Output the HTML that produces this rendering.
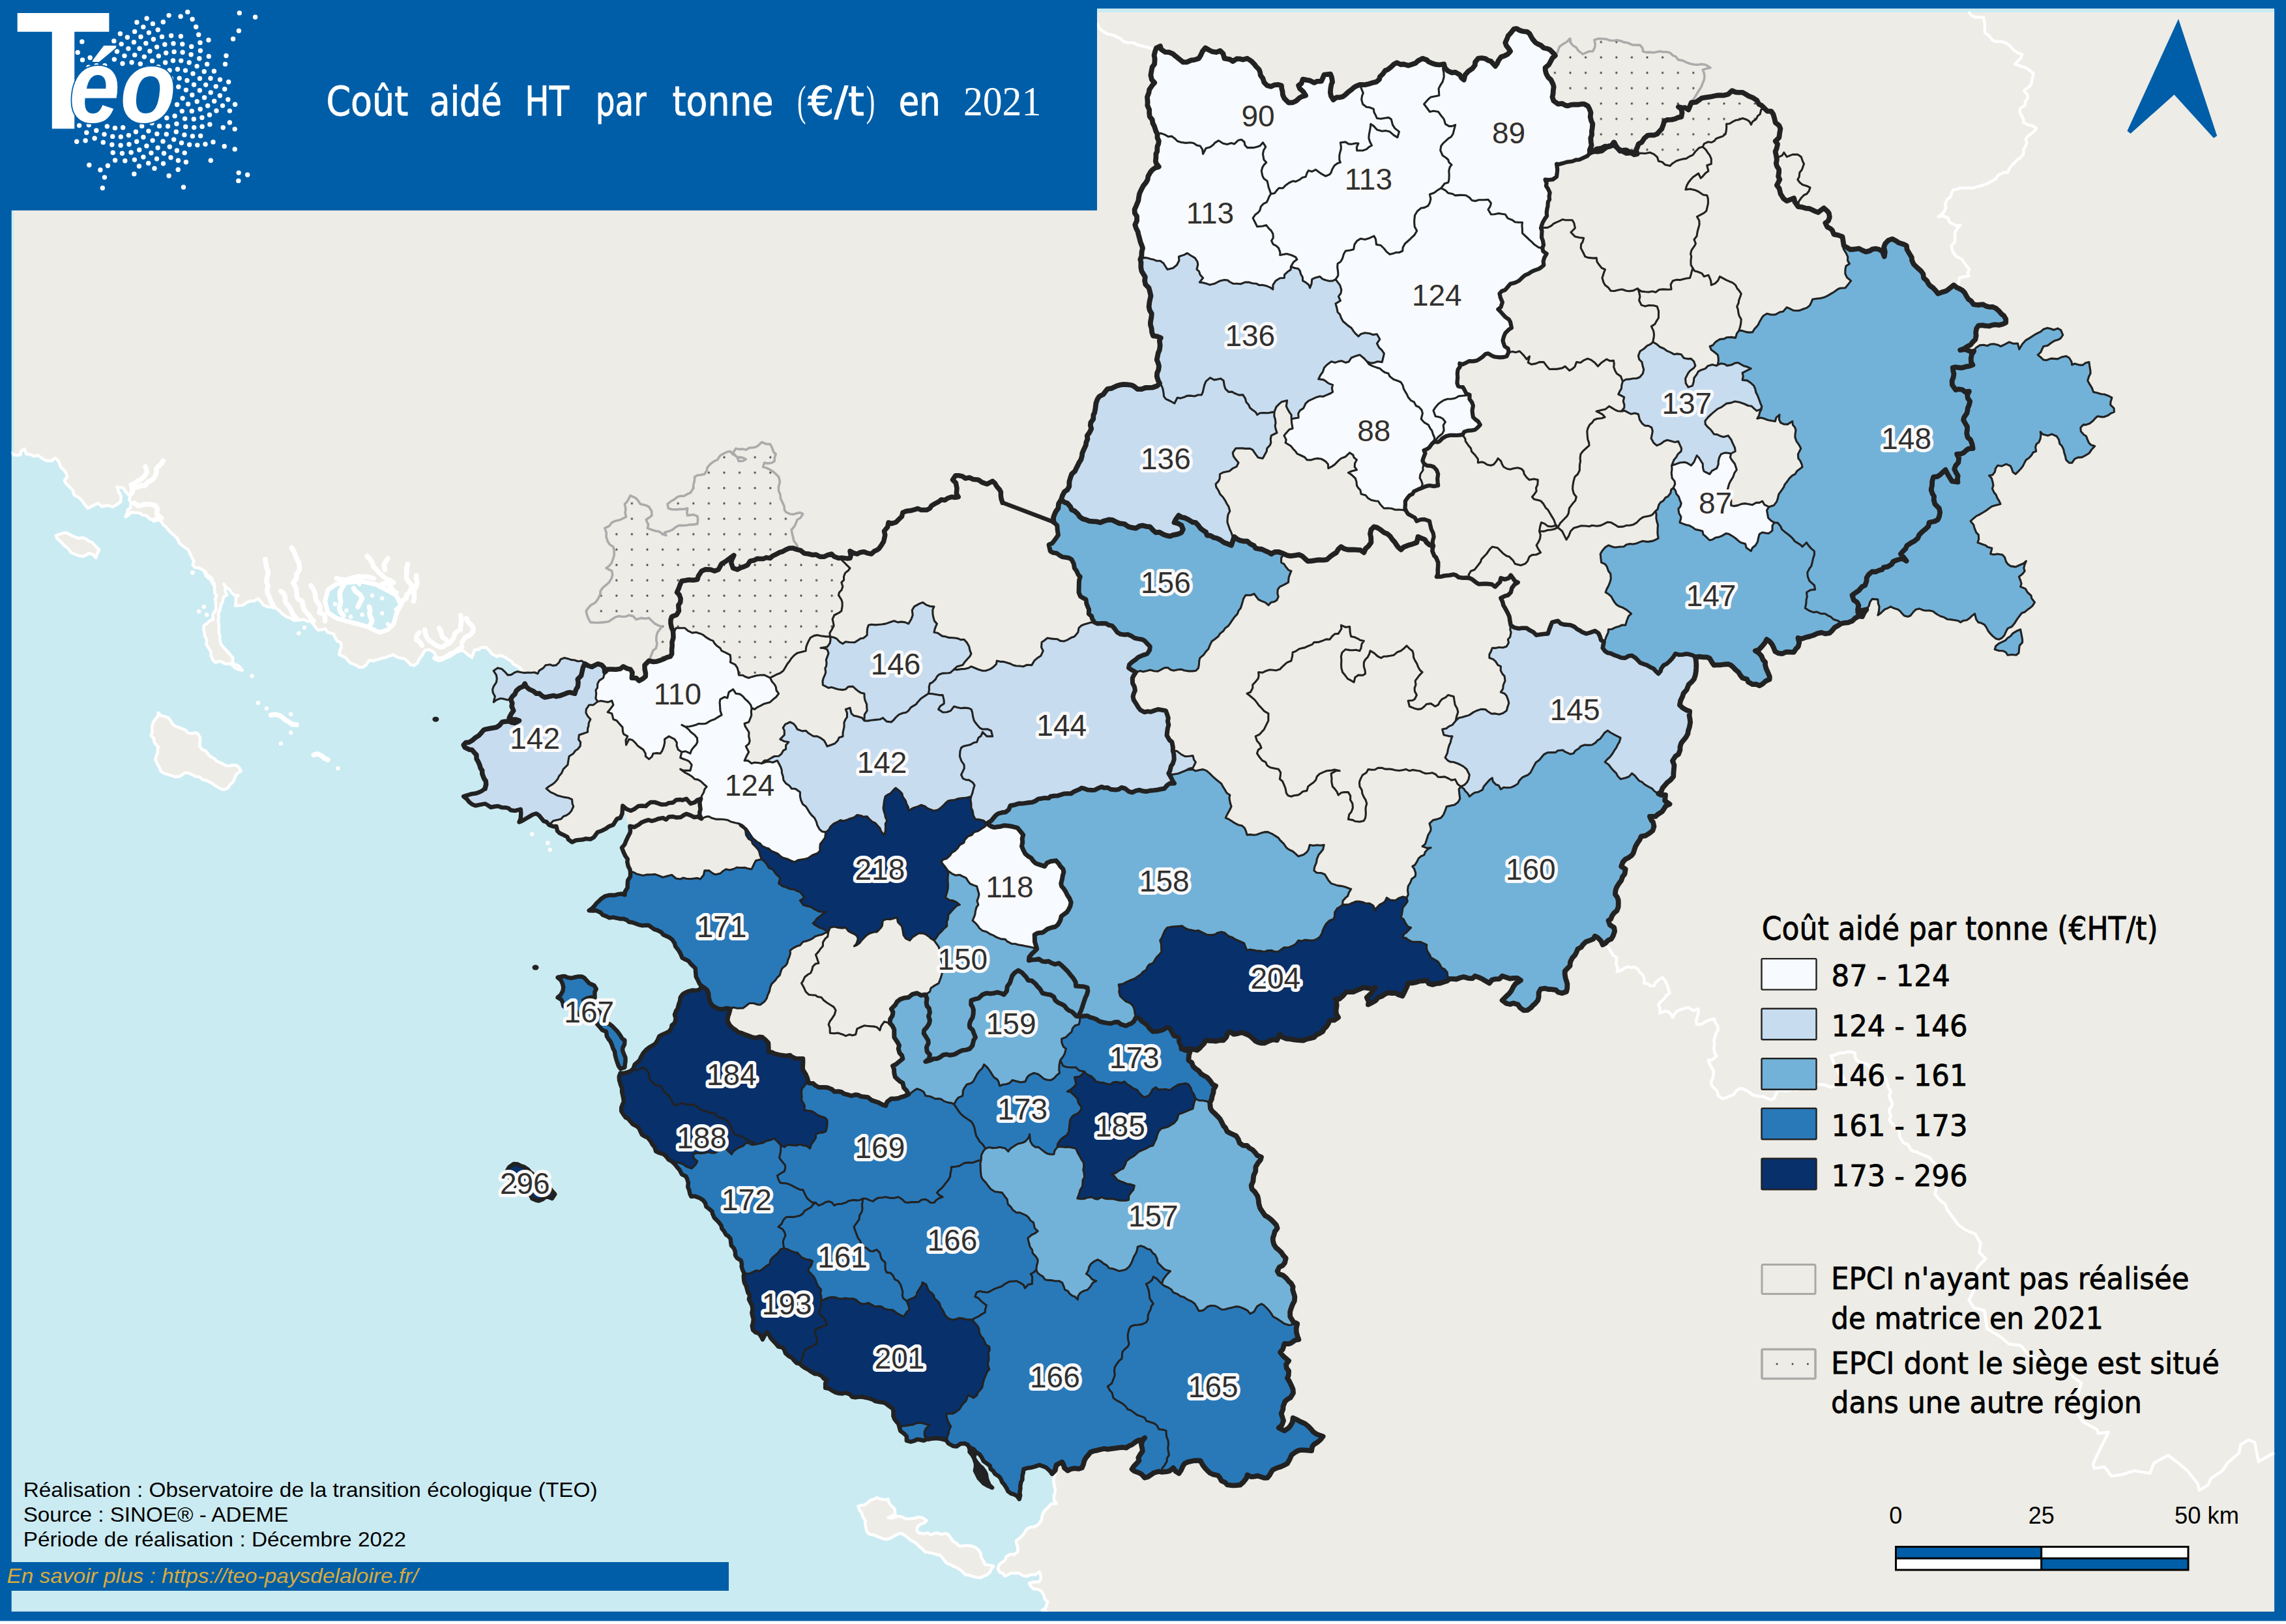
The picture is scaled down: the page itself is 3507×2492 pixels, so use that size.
<!DOCTYPE html>
<html lang="fr"><head><meta charset="utf-8"><title>Coût aidé HT par tonne (€/t) en 2021</title>
<style>html,body{margin:0;padding:0;background:#fff}body{width:3507px;height:2492px;overflow:hidden}</style></head>
<body>
<svg width="3507" height="2492" viewBox="0 0 3507 2492" style="display:block">
<defs><pattern id="dots" x="1.8" y="17.3" width="23.6" height="23.6" patternUnits="userSpaceOnUse"><circle cx="0" cy="0" r="1.6" fill="#444"/><circle cx="23.6" cy="0" r="1.6" fill="#444"/><circle cx="0" cy="23.6" r="1.6" fill="#444"/><circle cx="23.6" cy="23.6" r="1.6" fill="#444"/></pattern></defs>
<rect width="3507" height="2492" fill="#005ea8"/>
<rect x="0" y="2487.4" width="3507" height="5" fill="#ffffff"/>
<clipPath id="mapclip"><rect x="17.7" y="13.1" width="3471.4" height="2459.8"/></clipPath>
<rect x="17.7" y="13.1" width="3471.4" height="2459.8" fill="#cbebf2"/>
<g clip-path="url(#mapclip)">
<path d="M793.9 1029.9 L793.8 1029.9 L793.8 1029.9 L793.7 1029.9 L793.7 1029.9 L793.6 1029.9 L789.3 1031.5 L789.3 1031.6 L789.2 1031.6 L784.1 1034.9 L779.2 1035.4 L774.9 1030.5 L774.8 1030.4 L770.0 1026.0 L770.0 1026.0 L770.0 1026.0 L769.9 1025.9 L769.9 1025.9 L769.8 1025.9 L763.8 1024.4 L763.8 1024.4 L763.7 1024.4 L763.7 1024.4 L763.6 1024.4 L763.6 1024.4 L763.5 1024.4 L763.5 1024.4 L763.5 1024.5 L763.4 1024.5 L756.9 1028.9 L756.9 1028.9 L756.8 1028.9 L756.8 1029.0 L756.8 1029.0 L756.8 1029.1 L756.7 1029.1 L756.7 1029.2 L756.7 1029.2 L756.7 1029.2 L756.7 1029.3 L756.7 1029.3 L756.7 1029.4 L756.7 1029.4 L756.7 1029.5 L756.8 1029.5 L756.8 1029.6 L760.9 1036.0 L761.8 1041.3 L761.0 1046.6 L756.8 1053.1 L756.8 1053.2 L756.7 1053.2 L755.1 1057.7 L755.1 1057.8 L755.1 1057.8 L755.1 1057.9 L755.1 1057.9 L755.1 1058.0 L755.7 1062.8 L755.7 1062.8 L755.7 1062.9 L755.7 1062.9 L755.8 1062.9 L758.9 1068.8 L756.7 1077.3 L756.7 1077.3 L756.7 1077.4 L756.7 1077.4 L756.7 1077.5 L756.7 1077.5 L756.7 1077.6 L756.7 1077.6 L756.8 1077.7 L756.8 1077.7 L756.8 1077.7 L756.9 1077.8 L756.9 1077.8 L756.9 1077.8 L757.0 1077.9 L757.0 1077.9 L757.1 1077.9 L757.1 1077.9 L757.2 1077.9 L757.2 1077.9 L757.3 1077.9 L757.3 1077.9 L757.4 1077.9 L757.4 1077.8 L757.5 1077.8 L757.5 1077.8 L761.8 1074.4 L767.8 1072.2 L772.7 1072.9 L778.4 1074.5 L778.4 1074.5 L778.5 1074.5 L778.5 1074.5 L778.5 1074.5 L778.6 1074.5 L783.1 1073.7 L785.4 1079.2 L784.5 1083.7 L784.5 1083.8 L784.5 1083.8 L784.5 1083.9 L784.5 1083.9 L784.5 1083.9 L784.5 1084.0 L787.2 1090.5 L784.0 1095.0 L784.0 1095.0 L784.0 1095.1 L780.8 1101.3 L780.7 1101.3 L780.7 1101.4 L780.7 1101.4 L780.7 1101.5 L780.7 1101.5 L780.7 1101.6 L780.7 1101.6 L780.7 1101.7 L780.7 1101.7 L780.8 1101.7 L780.8 1101.8 L780.8 1101.8 L780.9 1101.9 L780.9 1101.9 L780.9 1101.9 L781.0 1101.9 L786.4 1104.6 L786.4 1104.7 L786.5 1104.7 L786.5 1104.7 L786.6 1104.7 L786.6 1104.7 L791.1 1104.5 L795.3 1106.0 L790.2 1109.1 L785.6 1108.4 L780.8 1106.2 L780.8 1106.2 L780.7 1106.2 L780.7 1106.2 L780.6 1106.2 L780.6 1106.2 L774.4 1106.8 L774.3 1106.8 L770.2 1107.5 L770.2 1107.5 L770.1 1107.5 L770.1 1107.6 L770.0 1107.6 L770.0 1107.6 L769.9 1107.6 L769.9 1107.7 L766.1 1112.5 L761.5 1115.5 L757.6 1116.2 L757.6 1116.2 L751.6 1117.3 L751.6 1117.3 L744.7 1118.6 L744.7 1118.6 L744.6 1118.6 L741.6 1119.8 L741.6 1119.9 L741.5 1119.9 L741.5 1119.9 L741.4 1119.9 L741.4 1120.0 L737.1 1125.2 L734.3 1128.2 L728.5 1131.8 L728.5 1131.8 L728.5 1131.8 L724.7 1135.4 L719.7 1138.4 L714.7 1138.9 L714.6 1138.9 L714.6 1138.9 L714.5 1138.9 L714.5 1139.0 L714.4 1139.0 L714.4 1139.0 L714.3 1139.1 L710.8 1142.7 L710.8 1142.7 L710.8 1142.7 L710.8 1142.8 L710.7 1142.8 L710.7 1142.9 L710.7 1142.9 L710.7 1143.0 L710.7 1143.0 L710.7 1143.1 L710.7 1143.1 L710.7 1143.2 L710.8 1143.2 L712.7 1147.1 L712.7 1147.2 L712.7 1147.2 L712.7 1147.2 L712.8 1147.3 L712.8 1147.3 L712.8 1147.3 L712.9 1147.3 L719.7 1150.6 L719.7 1150.7 L719.8 1150.7 L719.8 1150.7 L724.0 1151.3 L727.1 1155.0 L727.1 1155.0 L730.4 1158.6 L730.6 1164.3 L730.6 1164.4 L730.6 1164.4 L730.6 1164.5 L730.6 1164.5 L730.7 1164.5 L733.1 1168.8 L735.2 1173.7 L736.6 1178.7 L736.6 1178.8 L736.7 1178.8 L736.7 1178.9 L739.2 1182.6 L739.3 1187.4 L739.3 1187.5 L739.3 1187.5 L739.3 1187.6 L741.9 1194.5 L742.0 1194.5 L742.0 1194.6 L744.7 1198.6 L745.2 1203.5 L743.7 1209.7 L739.0 1213.2 L735.1 1215.1 L729.3 1217.1 L723.9 1217.7 L723.9 1217.7 L723.9 1217.7 L717.5 1219.6 L717.4 1219.6 L711.0 1221.7 L711.0 1221.7 L711.0 1221.8 L710.9 1221.8 L710.9 1221.8 L710.8 1221.9 L710.8 1221.9 L710.8 1221.9 L710.8 1222.0 L710.7 1222.0 L710.7 1222.1 L710.7 1222.1 L710.7 1222.2 L710.7 1222.2 L710.7 1222.3 L710.7 1222.3 L710.7 1222.4 L710.7 1222.4 L710.8 1222.4 L710.8 1222.5 L710.8 1222.5 L710.9 1222.6 L710.9 1222.6 L715.5 1226.2 L719.6 1231.2 L719.6 1231.2 L719.7 1231.3 L719.7 1231.3 L724.5 1234.9 L724.5 1234.9 L724.6 1235.0 L724.6 1235.0 L729.2 1236.7 L729.3 1236.7 L729.3 1236.7 L729.4 1236.7 L729.4 1236.7 L729.5 1236.7 L729.5 1236.7 L736.2 1235.4 L744.0 1233.9 L748.6 1236.4 L752.7 1239.2 L752.8 1239.2 L752.8 1239.3 L752.9 1239.3 L752.9 1239.3 L753.0 1239.3 L753.0 1239.3 L753.1 1239.3 L753.1 1239.3 L759.5 1238.0 L763.9 1237.4 L769.4 1239.6 L769.5 1239.6 L769.5 1239.6 L769.5 1239.6 L769.6 1239.6 L776.1 1239.8 L779.6 1240.6 L783.3 1243.6 L783.3 1243.6 L783.4 1243.6 L783.4 1243.7 L783.4 1243.7 L783.5 1243.7 L783.5 1243.7 L789.9 1244.6 L790.0 1244.6 L790.0 1244.6 L790.1 1244.6 L790.1 1244.6 L798.3 1242.5 L798.8 1247.8 L798.1 1256.3 L796.0 1261.3 L796.0 1261.4 L796.0 1261.4 L796.0 1261.5 L796.0 1261.5 L796.0 1261.5 L796.0 1261.6 L796.0 1261.6 L796.0 1261.7 L796.1 1261.7 L796.1 1261.8 L796.1 1261.8 L796.1 1261.9 L796.2 1261.9 L796.2 1261.9 L796.3 1261.9 L796.3 1262.0 L796.4 1262.0 L796.4 1262.0 L796.4 1262.0 L796.5 1262.0 L796.5 1262.0 L796.6 1262.0 L796.6 1262.0 L796.7 1262.0 L801.4 1260.1 L801.4 1260.0 L801.5 1260.0 L806.1 1257.1 L813.2 1253.0 L813.2 1253.0 L817.5 1250.5 L822.7 1248.9 L826.8 1251.8 L830.5 1256.3 L833.5 1260.1 L833.5 1260.1 L833.6 1260.2 L833.6 1260.2 L833.7 1260.2 L833.7 1260.3 L833.7 1260.3 L838.0 1261.6 L842.1 1266.2 L842.1 1266.3 L842.2 1266.3 L842.2 1266.3 L842.2 1266.3 L842.2 1266.3 L842.2 1266.3 L842.2 1266.3 L842.2 1266.3 L842.2 1266.3 L842.2 1266.3 L842.2 1266.3 L842.2 1266.3 L842.3 1266.3 L842.3 1266.3 L842.3 1266.3 L842.3 1266.4 L842.3 1266.4 L842.3 1266.4 L842.3 1266.4 L848.8 1268.8 L848.9 1268.8 L848.9 1268.8 L849.0 1268.8 L849.0 1268.8 L853.0 1268.6 L854.6 1275.1 L854.6 1275.2 L854.6 1275.2 L854.7 1275.2 L854.7 1275.3 L854.7 1275.3 L854.7 1275.4 L858.0 1278.7 L858.1 1278.7 L858.1 1278.7 L858.2 1278.7 L864.1 1281.6 L870.1 1284.8 L871.5 1288.4 L871.6 1288.4 L871.6 1288.5 L871.6 1288.5 L871.6 1288.5 L871.7 1288.6 L871.7 1288.6 L877.2 1292.6 L877.2 1292.6 L877.3 1292.7 L877.3 1292.7 L877.4 1292.7 L877.4 1292.7 L877.5 1292.7 L877.5 1292.7 L877.6 1292.7 L877.6 1292.7 L877.7 1292.7 L877.7 1292.7 L883.4 1290.0 L889.4 1289.3 L893.0 1289.1 L893.1 1289.1 L893.1 1289.1 L898.8 1287.5 L905.8 1288.3 L905.9 1288.3 L905.9 1288.3 L906.0 1288.3 L906.0 1288.3 L906.1 1288.3 L906.1 1288.3 L906.2 1288.2 L911.4 1285.1 L911.4 1285.1 L911.4 1285.1 L911.5 1285.0 L911.5 1285.0 L914.3 1281.1 L917.0 1277.4 L923.6 1275.2 L923.6 1275.1 L929.6 1272.1 L929.7 1272.1 L929.7 1272.1 L934.5 1268.5 L940.9 1266.2 L940.9 1266.1 L941.0 1266.1 L941.0 1266.1 L941.0 1266.1 L941.1 1266.0 L941.1 1266.0 L941.1 1266.0 L944.3 1260.9 L947.0 1256.8 L951.9 1255.5 L952.0 1255.5 L952.0 1255.4 L952.1 1255.4 L952.1 1255.4 L952.1 1255.4 L952.2 1255.3 L952.2 1255.3 L952.2 1255.2 L952.3 1255.2 L955.0 1248.8 L955.0 1248.7 L955.0 1248.7 L955.0 1248.6 L955.3 1244.1 L955.7 1237.6 L957.6 1239.1 L957.6 1239.2 L957.5 1239.2 L957.5 1239.3 L957.4 1239.4 L957.4 1239.5 L957.4 1239.6 L957.4 1239.7 L957.4 1239.8 L957.4 1239.9 L960.5 1255.2 L960.5 1255.3 L960.6 1255.4 L965.4 1268.1 L965.4 1268.1 L965.5 1268.2 L965.5 1268.3 L965.6 1268.4 L965.6 1268.5 L965.7 1268.5 L965.8 1268.6 L965.9 1268.6 L965.9 1268.6 L966.6 1274.6 L966.1 1277.6 L962.8 1284.1 L962.7 1284.1 L959.8 1290.4 L959.8 1290.4 L957.9 1295.4 L953.6 1300.6 L953.6 1300.6 L953.6 1300.7 L953.5 1300.7 L953.5 1300.7 L953.5 1300.8 L953.5 1300.8 L953.5 1300.9 L953.5 1300.9 L953.5 1301.0 L953.5 1301.0 L953.5 1301.1 L956.4 1308.6 L956.5 1308.6 L959.0 1313.7 L959.0 1313.8 L959.0 1313.8 L962.3 1318.5 L961.8 1322.5 L961.8 1322.6 L961.8 1322.7 L961.8 1322.7 L963.3 1329.4 L963.3 1329.5 L963.3 1329.5 L963.4 1329.5 L965.9 1334.4 L966.6 1338.1 L966.5 1344.9 L962.8 1350.7 L962.8 1350.8 L962.7 1350.8 L962.7 1350.9 L962.7 1350.9 L962.7 1351.0 L962.3 1355.6 L962.3 1355.6 L962.1 1362.2 L958.4 1368.2 L958.4 1368.3 L958.3 1368.3 L958.3 1368.4 L958.3 1368.4 L958.3 1368.5 L958.0 1372.4 L954.4 1371.1 L954.3 1371.1 L954.3 1371.1 L954.2 1371.1 L954.2 1371.1 L954.1 1371.1 L947.4 1371.8 L947.4 1371.8 L947.4 1371.8 L942.0 1373.3 L938.1 1373.1 L938.1 1373.1 L933.5 1373.3 L933.4 1373.3 L933.4 1373.3 L927.7 1374.8 L927.6 1374.8 L927.6 1374.8 L927.5 1374.9 L927.5 1374.9 L922.1 1378.7 L922.1 1378.7 L922.0 1378.7 L918.5 1382.3 L914.5 1385.9 L914.4 1386.0 L914.4 1386.0 L912.3 1388.9 L907.7 1393.8 L903.4 1396.8 L903.4 1396.8 L903.3 1396.9 L903.3 1396.9 L903.3 1396.9 L903.3 1397.0 L903.2 1397.0 L903.2 1397.1 L903.2 1397.1 L903.2 1397.2 L903.2 1397.2 L903.2 1397.3 L903.2 1397.3 L903.2 1397.4 L903.2 1397.4 L903.3 1397.4 L903.3 1397.5 L903.3 1397.5 L903.4 1397.6 L903.4 1397.6 L903.4 1397.6 L903.5 1397.6 L903.5 1397.7 L903.6 1397.7 L903.6 1397.7 L903.7 1397.7 L910.3 1398.1 L910.3 1398.1 L910.4 1398.1 L914.3 1397.6 L921.0 1400.7 L924.4 1404.3 L924.5 1404.4 L924.5 1404.4 L924.5 1404.4 L924.6 1404.5 L924.6 1404.5 L929.8 1406.4 L934.7 1408.8 L934.7 1408.9 L934.8 1408.9 L934.8 1408.9 L934.9 1408.9 L934.9 1408.9 L935.0 1408.9 L940.9 1408.1 L945.4 1409.1 L951.2 1410.4 L951.2 1410.4 L951.3 1410.4 L956.4 1410.4 L960.9 1412.0 L964.7 1415.1 L964.7 1415.1 L964.8 1415.1 L964.8 1415.2 L964.9 1415.2 L964.9 1415.2 L970.3 1416.0 L975.6 1418.0 L979.0 1419.3 L979.1 1419.3 L985.6 1420.8 L985.6 1420.8 L985.7 1420.8 L985.7 1420.8 L991.2 1420.3 L995.3 1420.6 L999.7 1423.8 L999.7 1423.8 L1003.9 1426.6 L1004.0 1426.6 L1004.0 1426.7 L1004.1 1426.7 L1008.7 1428.1 L1014.4 1431.1 L1017.1 1434.6 L1017.1 1434.6 L1017.2 1434.7 L1017.2 1434.7 L1017.3 1434.7 L1017.3 1434.8 L1023.4 1437.4 L1027.6 1439.6 L1031.0 1442.3 L1034.5 1447.7 L1035.6 1452.1 L1035.6 1452.2 L1035.7 1452.2 L1035.7 1452.3 L1035.7 1452.3 L1040.0 1457.7 L1043.3 1463.0 L1046.1 1470.0 L1046.2 1470.0 L1046.2 1470.1 L1046.2 1470.1 L1046.2 1470.2 L1046.3 1470.2 L1046.3 1470.2 L1046.4 1470.2 L1049.6 1471.9 L1049.6 1471.9 L1056.1 1475.1 L1059.7 1479.8 L1059.7 1479.8 L1059.8 1479.9 L1063.0 1482.9 L1066.3 1486.3 L1066.7 1492.1 L1066.7 1492.1 L1067.3 1498.7 L1067.3 1498.8 L1067.3 1498.8 L1067.3 1498.9 L1067.4 1498.9 L1069.5 1502.9 L1072.8 1510.0 L1072.9 1510.1 L1072.9 1510.1 L1072.9 1510.1 L1075.9 1513.2 L1073.0 1517.9 L1068.2 1519.6 L1062.7 1518.9 L1062.6 1518.9 L1062.6 1518.9 L1062.5 1518.9 L1062.5 1518.9 L1056.9 1520.3 L1056.8 1520.3 L1056.8 1520.3 L1050.4 1523.1 L1050.4 1523.2 L1050.3 1523.2 L1046.6 1525.6 L1046.6 1525.6 L1046.6 1525.6 L1046.5 1525.7 L1046.5 1525.7 L1043.3 1530.3 L1043.3 1530.4 L1043.2 1530.4 L1043.2 1530.4 L1043.2 1530.5 L1043.2 1530.5 L1042.7 1535.3 L1040.7 1540.9 L1040.7 1541.0 L1038.9 1547.9 L1036.9 1550.4 L1036.9 1550.4 L1036.9 1550.5 L1036.8 1550.5 L1034.5 1556.6 L1034.5 1556.7 L1034.5 1556.7 L1034.5 1556.8 L1034.5 1556.8 L1034.5 1556.9 L1034.5 1556.9 L1036.2 1563.1 L1034.6 1569.6 L1030.3 1573.0 L1030.2 1573.0 L1030.2 1573.1 L1030.2 1573.1 L1030.2 1573.2 L1030.1 1573.2 L1030.1 1573.3 L1030.1 1573.3 L1029.3 1577.8 L1026.3 1582.3 L1021.3 1584.7 L1013.9 1587.9 L1013.9 1588.0 L1013.8 1588.0 L1010.9 1589.8 L1010.9 1589.8 L1010.9 1589.8 L1010.8 1589.9 L1010.8 1589.9 L1010.8 1590.0 L1010.7 1590.0 L1008.3 1596.0 L1004.7 1601.3 L1000.3 1604.1 L995.8 1606.7 L995.8 1606.7 L990.7 1610.7 L990.7 1610.7 L990.6 1610.8 L986.4 1615.6 L986.4 1615.6 L986.4 1615.7 L982.9 1621.8 L982.8 1621.8 L981.0 1626.2 L977.3 1629.9 L973.4 1633.2 L973.3 1633.3 L973.3 1633.3 L973.3 1633.3 L973.2 1633.4 L973.2 1633.4 L971.1 1639.6 L966.6 1643.5 L962.4 1644.8 L957.4 1646.4 L951.8 1646.0 L951.8 1646.0 L951.7 1646.0 L951.7 1646.0 L951.6 1646.0 L951.6 1646.0 L951.6 1646.1 L951.5 1646.1 L951.5 1646.1 L951.4 1646.2 L951.4 1646.2 L951.4 1646.2 L951.4 1646.3 L951.3 1646.3 L949.2 1651.7 L949.2 1651.8 L949.2 1651.8 L949.2 1651.9 L949.2 1651.9 L949.5 1657.4 L949.5 1657.5 L949.5 1657.5 L951.7 1665.0 L951.7 1665.1 L953.8 1670.3 L953.5 1674.9 L953.5 1674.9 L953.5 1675.0 L953.5 1675.0 L954.7 1680.5 L955.9 1686.1 L956.4 1690.7 L954.9 1693.8 L954.9 1693.8 L952.7 1699.5 L952.7 1699.6 L952.7 1699.6 L952.7 1699.7 L952.7 1699.7 L952.7 1705.1 L952.7 1705.1 L952.7 1705.2 L952.7 1705.2 L952.7 1705.3 L952.8 1705.3 L952.8 1705.4 L955.8 1710.2 L955.8 1710.2 L959.4 1715.1 L959.4 1715.1 L959.5 1715.2 L959.5 1715.2 L959.5 1715.2 L959.6 1715.2 L963.3 1717.1 L967.5 1722.0 L967.5 1722.0 L970.4 1725.3 L970.5 1725.4 L970.5 1725.4 L970.5 1725.4 L970.6 1725.4 L976.3 1728.4 L979.7 1731.2 L982.0 1736.4 L982.0 1736.4 L984.2 1741.1 L984.3 1741.2 L984.3 1741.2 L984.3 1741.2 L984.4 1741.3 L984.4 1741.3 L984.4 1741.3 L988.4 1743.9 L988.5 1744.0 L993.6 1746.3 L998.0 1751.9 L1000.7 1756.7 L1000.7 1756.8 L1000.7 1756.8 L1003.9 1760.4 L1005.7 1766.7 L1005.7 1766.8 L1005.8 1766.8 L1005.8 1766.9 L1005.8 1766.9 L1005.9 1767.0 L1005.9 1767.0 L1005.9 1767.0 L1006.0 1767.0 L1010.1 1769.0 L1010.1 1769.1 L1010.2 1769.1 L1018.0 1771.5 L1022.6 1775.9 L1025.0 1779.5 L1025.0 1779.5 L1025.0 1779.6 L1025.1 1779.6 L1025.1 1779.6 L1025.2 1779.6 L1030.3 1782.5 L1035.4 1787.3 L1037.9 1790.7 L1037.9 1790.7 L1042.5 1796.0 L1045.5 1802.0 L1045.5 1802.1 L1045.5 1802.1 L1045.5 1802.1 L1045.6 1802.2 L1045.6 1802.2 L1045.7 1802.2 L1051.8 1805.5 L1053.4 1808.6 L1055.4 1815.0 L1054.8 1821.2 L1054.8 1821.2 L1054.8 1821.2 L1054.8 1821.3 L1054.8 1821.3 L1054.8 1821.4 L1056.7 1826.1 L1058.0 1832.2 L1058.0 1832.3 L1058.0 1832.3 L1059.8 1836.1 L1059.9 1836.2 L1059.9 1836.2 L1059.9 1836.2 L1060.0 1836.3 L1060.0 1836.3 L1060.0 1836.3 L1060.1 1836.4 L1060.1 1836.4 L1060.2 1836.4 L1060.2 1836.4 L1060.3 1836.4 L1060.3 1836.4 L1065.9 1836.1 L1072.9 1838.6 L1078.4 1842.2 L1081.4 1846.1 L1083.0 1851.8 L1083.0 1851.9 L1083.1 1851.9 L1083.1 1852.0 L1083.1 1852.0 L1083.1 1852.0 L1083.2 1852.1 L1083.2 1852.1 L1087.0 1854.9 L1092.1 1859.3 L1092.6 1862.5 L1092.6 1862.5 L1092.6 1862.6 L1092.6 1862.6 L1095.4 1868.9 L1095.5 1868.9 L1095.5 1869.0 L1095.5 1869.0 L1095.6 1869.1 L1099.5 1872.9 L1102.9 1876.6 L1106.0 1880.8 L1106.9 1885.3 L1106.9 1885.3 L1106.9 1885.4 L1107.0 1885.4 L1107.0 1885.5 L1107.0 1885.5 L1110.6 1889.8 L1113.5 1895.0 L1113.5 1895.1 L1113.5 1895.1 L1113.6 1895.2 L1113.6 1895.2 L1113.6 1895.2 L1113.7 1895.2 L1116.6 1896.7 L1120.2 1901.2 L1120.8 1906.9 L1120.8 1906.9 L1121.4 1911.4 L1121.4 1911.4 L1121.4 1911.5 L1121.4 1911.5 L1121.5 1911.5 L1121.5 1911.6 L1121.5 1911.6 L1121.5 1911.6 L1125.4 1915.6 L1127.4 1920.7 L1127.6 1926.3 L1127.6 1926.4 L1127.6 1926.4 L1127.6 1926.5 L1127.7 1926.5 L1127.7 1926.6 L1130.4 1930.9 L1130.4 1930.9 L1130.4 1930.9 L1130.5 1931.0 L1130.5 1931.0 L1130.5 1931.0 L1136.3 1934.5 L1137.6 1940.3 L1137.1 1943.1 L1137.1 1943.2 L1137.1 1943.2 L1137.1 1943.2 L1137.1 1943.3 L1137.1 1943.3 L1138.8 1949.2 L1138.8 1949.3 L1138.9 1949.3 L1141.1 1953.8 L1140.3 1957.9 L1140.3 1957.9 L1140.3 1958.0 L1140.3 1958.0 L1140.8 1965.1 L1140.8 1965.2 L1140.8 1965.2 L1141.8 1969.1 L1141.8 1969.2 L1141.8 1969.2 L1141.9 1969.3 L1144.0 1972.8 L1145.7 1979.1 L1146.9 1983.6 L1146.9 1983.7 L1146.9 1983.7 L1147.0 1983.8 L1147.0 1983.8 L1149.8 1987.7 L1148.4 1993.6 L1148.4 1993.6 L1148.4 1993.7 L1148.4 1993.7 L1148.4 1993.8 L1148.4 1993.8 L1148.4 1993.9 L1148.4 1993.9 L1150.0 1997.3 L1150.1 1997.3 L1153.0 2003.1 L1154.1 2008.6 L1152.9 2014.2 L1152.9 2014.2 L1152.9 2014.3 L1152.9 2014.3 L1152.9 2014.4 L1153.8 2019.0 L1153.8 2019.0 L1155.4 2024.5 L1154.5 2030.2 L1153.3 2034.3 L1153.3 2034.3 L1153.3 2034.4 L1153.3 2034.4 L1153.3 2034.5 L1153.3 2034.5 L1154.6 2041.0 L1154.6 2041.0 L1154.6 2041.1 L1154.7 2041.1 L1154.7 2041.2 L1154.7 2041.2 L1154.7 2041.2 L1154.8 2041.3 L1158.8 2044.9 L1158.8 2044.9 L1158.8 2044.9 L1158.9 2045.0 L1158.9 2045.0 L1164.0 2046.7 L1167.4 2051.4 L1169.6 2055.6 L1169.6 2055.7 L1169.6 2055.7 L1169.6 2055.7 L1169.7 2055.8 L1169.7 2055.8 L1169.8 2055.8 L1169.8 2055.9 L1169.8 2055.9 L1169.9 2055.9 L1169.9 2055.9 L1170.0 2055.9 L1170.0 2055.9 L1170.1 2055.9 L1170.1 2055.9 L1170.2 2055.9 L1170.2 2055.9 L1170.3 2055.8 L1170.3 2055.8 L1170.3 2055.8 L1170.4 2055.7 L1170.4 2055.7 L1170.4 2055.7 L1170.5 2055.6 L1173.2 2049.8 L1176.6 2045.3 L1179.5 2048.4 L1181.9 2053.6 L1182.0 2053.7 L1182.0 2053.7 L1182.0 2053.7 L1185.6 2057.6 L1185.6 2057.6 L1189.6 2061.7 L1193.7 2066.6 L1193.7 2066.7 L1193.8 2066.7 L1193.8 2066.7 L1193.9 2066.7 L1193.9 2066.8 L1193.9 2066.8 L1194.0 2066.8 L1200.6 2068.2 L1202.6 2071.0 L1204.6 2076.8 L1204.6 2076.8 L1204.7 2076.9 L1204.7 2076.9 L1204.7 2076.9 L1204.8 2077.0 L1209.6 2081.3 L1209.6 2081.3 L1209.7 2081.3 L1215.1 2084.2 L1216.9 2086.7 L1216.9 2086.7 L1221.7 2091.8 L1221.8 2091.9 L1221.8 2091.9 L1221.9 2091.9 L1221.9 2092.0 L1221.9 2092.0 L1222.0 2092.0 L1226.7 2093.1 L1230.3 2096.5 L1230.3 2096.5 L1234.2 2099.3 L1234.2 2099.3 L1234.3 2099.3 L1240.1 2102.3 L1243.8 2105.2 L1243.8 2105.2 L1249.8 2108.7 L1249.9 2108.8 L1249.9 2108.8 L1250.0 2108.8 L1250.0 2108.8 L1250.1 2108.8 L1254.1 2108.8 L1259.9 2111.4 L1263.6 2115.9 L1263.6 2116.0 L1263.7 2116.0 L1263.7 2116.0 L1263.8 2116.0 L1263.8 2116.1 L1263.8 2116.1 L1263.9 2116.1 L1267.7 2117.0 L1265.7 2122.5 L1265.7 2122.6 L1265.7 2122.6 L1265.7 2122.7 L1265.7 2122.7 L1265.7 2129.8 L1265.7 2129.9 L1265.7 2129.9 L1265.7 2129.9 L1265.7 2130.0 L1265.8 2130.0 L1265.8 2130.1 L1265.8 2130.1 L1265.9 2130.2 L1265.9 2130.2 L1265.9 2130.2 L1266.0 2130.2 L1266.0 2130.3 L1266.1 2130.3 L1266.1 2130.3 L1271.6 2131.2 L1275.1 2133.6 L1275.2 2133.6 L1281.5 2137.0 L1281.5 2137.1 L1281.6 2137.1 L1285.9 2138.4 L1285.9 2138.4 L1286.0 2138.4 L1292.5 2139.0 L1292.5 2139.0 L1292.5 2139.0 L1292.6 2139.0 L1292.6 2139.0 L1297.0 2137.7 L1303.7 2140.0 L1307.0 2143.9 L1307.1 2144.0 L1307.1 2144.0 L1307.1 2144.0 L1307.2 2144.0 L1307.2 2144.1 L1307.3 2144.1 L1307.3 2144.1 L1312.1 2144.9 L1312.2 2144.9 L1312.2 2144.9 L1312.3 2144.9 L1319.0 2143.9 L1324.1 2144.3 L1328.8 2145.4 L1328.8 2145.4 L1332.5 2146.1 L1338.2 2147.8 L1342.3 2150.4 L1342.4 2150.4 L1342.4 2150.5 L1342.5 2150.5 L1342.5 2150.5 L1349.0 2151.8 L1349.0 2151.8 L1355.8 2152.8 L1359.0 2154.3 L1364.4 2158.6 L1364.4 2158.6 L1369.4 2162.2 L1370.0 2166.0 L1370.0 2173.1 L1370.0 2173.1 L1370.0 2173.2 L1370.0 2173.2 L1370.0 2173.3 L1371.9 2178.0 L1372.0 2178.0 L1372.0 2178.1 L1372.0 2178.1 L1375.1 2181.9 L1378.0 2185.5 L1379.5 2191.1 L1379.5 2191.1 L1379.5 2191.1 L1380.9 2195.8 L1380.9 2195.9 L1381.0 2195.9 L1381.0 2196.0 L1381.0 2196.0 L1381.1 2196.1 L1381.1 2196.1 L1387.2 2200.8 L1390.4 2204.3 L1390.4 2210.7 L1390.4 2210.8 L1390.4 2210.8 L1390.4 2210.9 L1390.4 2210.9 L1390.5 2210.9 L1390.5 2211.0 L1390.5 2211.0 L1390.6 2211.1 L1390.6 2211.1 L1390.6 2211.1 L1390.7 2211.1 L1390.7 2211.2 L1390.8 2211.2 L1397.1 2212.8 L1397.1 2212.8 L1397.2 2212.8 L1397.2 2212.8 L1397.3 2212.8 L1397.3 2212.8 L1401.8 2211.7 L1401.9 2211.7 L1401.9 2211.7 L1407.0 2209.2 L1410.1 2209.5 L1417.0 2211.0 L1417.0 2211.0 L1417.1 2211.0 L1417.1 2211.0 L1417.2 2211.0 L1417.2 2211.0 L1417.3 2211.0 L1417.3 2211.0 L1421.6 2209.0 L1425.5 2208.9 L1425.6 2208.9 L1425.6 2208.9 L1427.5 2208.4 L1432.0 2207.3 L1436.6 2207.2 L1441.6 2208.1 L1441.7 2208.1 L1447.8 2208.6 L1451.7 2211.1 L1454.6 2215.3 L1454.6 2215.3 L1454.6 2215.4 L1454.7 2215.4 L1454.7 2215.4 L1454.8 2215.4 L1462.1 2219.4 L1462.1 2219.5 L1462.2 2219.5 L1462.2 2219.5 L1462.3 2219.5 L1467.5 2219.9 L1467.5 2219.9 L1467.6 2219.9 L1467.6 2219.9 L1467.6 2219.9 L1467.7 2219.9 L1467.7 2219.8 L1467.8 2219.8 L1474.1 2215.8 L1480.5 2215.6 L1484.5 2217.4 L1485.1 2218.7 L1485.1 2218.7 L1485.1 2218.8 L1485.1 2218.8 L1485.2 2218.8 L1488.7 2222.2 L1488.7 2222.2 L1488.7 2222.2 L1488.8 2222.2 L1488.8 2222.3 L1493.4 2224.2 L1497.0 2228.4 L1497.0 2228.5 L1497.1 2228.5 L1497.1 2228.5 L1502.5 2232.3 L1505.6 2236.5 L1508.4 2242.4 L1508.5 2242.5 L1508.5 2242.5 L1508.5 2242.5 L1508.6 2242.6 L1508.6 2242.6 L1513.2 2245.8 L1518.2 2249.5 L1519.4 2254.5 L1519.4 2254.6 L1519.5 2254.6 L1519.5 2254.7 L1519.5 2254.7 L1519.5 2254.7 L1519.6 2254.8 L1519.6 2254.8 L1523.0 2257.2 L1526.2 2262.1 L1526.2 2262.1 L1526.2 2262.1 L1526.3 2262.2 L1526.3 2262.2 L1526.3 2262.2 L1531.9 2265.6 L1534.5 2268.6 L1536.9 2274.5 L1537.0 2274.5 L1537.0 2274.6 L1537.0 2274.6 L1539.9 2277.9 L1543.9 2284.0 L1546.2 2288.7 L1546.2 2288.8 L1546.2 2288.8 L1546.2 2288.8 L1546.3 2288.9 L1546.3 2288.9 L1550.9 2292.3 L1550.9 2292.3 L1551.0 2292.4 L1551.0 2292.4 L1551.1 2292.4 L1555.6 2293.6 L1560.0 2296.0 L1563.3 2300.7 L1563.3 2300.7 L1563.4 2300.8 L1563.4 2300.8 L1563.4 2300.8 L1563.5 2300.8 L1563.5 2300.9 L1563.6 2300.9 L1563.6 2300.9 L1563.7 2300.9 L1563.7 2300.9 L1563.8 2300.9 L1563.8 2300.9 L1563.9 2300.9 L1563.9 2300.9 L1564.0 2300.8 L1564.0 2300.8 L1564.0 2300.8 L1564.1 2300.7 L1564.1 2300.7 L1564.1 2300.7 L1564.2 2300.6 L1564.2 2300.6 L1564.2 2300.5 L1565.6 2295.0 L1565.6 2295.0 L1565.6 2294.9 L1565.6 2294.9 L1565.6 2294.8 L1564.8 2290.3 L1565.9 2284.3 L1565.9 2284.2 L1565.9 2284.2 L1565.8 2279.8 L1566.9 2274.4 L1568.8 2270.7 L1568.9 2270.7 L1568.9 2270.6 L1568.9 2270.6 L1568.9 2270.6 L1568.9 2270.5 L1569.0 2264.5 L1570.2 2260.1 L1570.2 2260.1 L1570.2 2260.1 L1570.8 2254.8 L1575.9 2253.3 L1583.3 2252.2 L1583.3 2252.2 L1588.8 2250.6 L1588.9 2250.6 L1594.3 2248.4 L1599.7 2250.3 L1604.6 2252.3 L1609.4 2256.7 L1613.6 2261.3 L1613.7 2261.4 L1613.7 2261.4 L1613.7 2261.4 L1613.8 2261.4 L1613.8 2261.5 L1613.9 2261.5 L1613.9 2261.5 L1614.0 2261.5 L1614.0 2261.5 L1614.1 2261.5 L1614.1 2261.5 L1614.2 2261.5 L1614.2 2261.5 L1614.3 2261.4 L1614.3 2261.4 L1614.3 2261.4 L1614.4 2261.3 L1618.4 2257.0 L1618.4 2263.0 L1618.4 2263.2 L1616.1 2270.1 L1616.5 2273.9 L1617.4 2280.2 L1618.8 2284.3 L1618.8 2289.3 L1616.8 2295.3 L1617.2 2302.8 L1620.6 2306.9 L1612.5 2307.8 L1607.4 2313.5 L1602.8 2317.8 L1599.9 2322.2 L1598.8 2326.1 L1597.9 2332.3 L1594.3 2337.6 L1591.3 2340.8 L1586.0 2342.9 L1581.3 2343.2 L1575.1 2346.4 L1572.4 2350.7 L1569.3 2355.5 L1563.3 2361.2 L1559.3 2363.8 L1559.4 2368.5 L1561.3 2374.5 L1561.5 2381.3 L1555.6 2385.3 L1550.0 2385.1 L1543.9 2388.2 L1541.8 2394.4 L1535.7 2398.4 L1532.5 2401.6 L1530.9 2407.5 L1533.9 2413.0 L1537.9 2413.7 L1541.8 2418.5 L1547.8 2415.7 L1551.1 2413.8 L1557.0 2413.9 L1563.7 2414.1 L1569.4 2417.9 L1574.7 2418.8 L1581.2 2416.3 L1589.0 2416.3 L1594.3 2411.9 L1596.2 2415.9 L1597.1 2421.8 L1594.3 2427.2 L1589.1 2427.4 L1584.5 2427.7 L1579.0 2429.4 L1581.6 2434.4 L1585.6 2438.2 L1592.9 2438.8 L1597.5 2441.6 L1600.9 2446.9 L1603.0 2454.3 L1607.4 2457.9 L1605.0 2464.0 L1603.8 2468.2 L1598.7 2471.0 L1603.1 2472.6 L1603.9 2473.0 L3489.0 2473.0 L3489.0 19.0 L21.0 19.0 L21.0 697.7 L21.5 698.1 L27.1 698.5 L31.5 697.6 L32.3 692.3 L37.6 688.9 L40.2 696.7 L47.0 697.5 L52.5 700.2 L57.7 698.5 L65.1 703.7 L70.0 706.4 L79.6 707.2 L84.0 702.9 L87.8 704.9 L91.0 710.7 L93.2 716.6 L98.0 721.2 L101.1 725.4 L103.2 731.7 L98.9 737.0 L101.3 742.0 L105.0 745.7 L112.0 752.7 L113.7 759.7 L120.7 763.2 L126.0 768.5 L129.5 773.7 L134.7 779.9 L143.5 775.5 L150.5 772.0 L155.7 777.2 L164.5 775.5 L173.2 777.6 L180.2 773.7 L185.1 769.9 L185.5 765.0 L185.3 759.7 L182.0 754.5 L179.4 747.5 L189.0 748.4 L192.5 754.5 L199.5 761.5 L198.2 766.3 L201.2 772.0 L199.9 779.1 L196.0 782.5 L195.2 787.4 L192.5 793.0 L197.5 790.3 L201.2 786.0 L207.8 786.7 L213.9 786.9 L218.7 790.4 L224.3 791.3 L230.2 796.5 L236.2 798.2 L242.1 797.7 L247.4 799.8 L250.2 805.2 L254.2 808.1 L258.4 813.4 L262.5 817.5 L269.0 823.0 L273.0 828.0 L275.1 833.6 L279.3 836.8 L283.5 840.2 L288.4 842.9 L292.2 850.7 L294.3 855.2 L297.5 861.2 L295.7 866.5 L298.9 870.6 L306.2 871.7 L312.2 875.0 L315.3 879.9 L315.0 876.6 L317.6 882.6 L320.8 884.1 L325.3 887.3 L326.5 892.1 L328.7 895.2 L328.9 898.1 L329.5 899.4 L329.1 904.0 L329.3 910.0 L332.5 913.7 L329.9 919.9 L330.9 923.8 L331.2 931.1 L331.4 935.6 L327.5 941.0 L326.1 944.2 L327.0 950.9 L322.1 952.1 L317.3 957.0 L312.8 959.7 L312.4 966.2 L314.0 971.8 L313.8 975.4 L317.2 981.5 L316.6 989.1 L319.0 992.4 L323.4 1000.4 L323.7 1005.6 L326.4 1012.7 L330.3 1016.5 L336.8 1014.5 L341.2 1016.3 L345.6 1018.7 L352.8 1018.3 L356.6 1020.9 L360.6 1025.0 L365.0 1027.0 L371.9 1028.6 L368.1 1023.8 L364.6 1020.7 L360.1 1019.6 L356.6 1015.4 L357.4 1009.8 L352.2 1003.4 L346.5 997.3 L342.3 992.5 L338.9 988.4 L337.2 980.8 L337.3 975.0 L335.8 970.9 L335.7 963.5 L336.1 959.7 L334.7 953.1 L335.5 947.3 L335.1 941.4 L337.3 935.6 L339.3 927.7 L341.7 922.5 L342.7 916.4 L348.2 912.6 L345.7 907.9 L345.7 900.2 L352.1 904.5 L354.4 908.3 L359.5 913.3 L365.7 913.7 L362.1 917.1 L361.8 924.4 L360.9 929.5 L366.7 929.1 L372.2 928.8 L378.4 924.7 L384.3 922.3 L390.0 922.1 L395.9 918.5 L400.8 924.0 L404.2 928.3 L411.2 931.2 L418.5 931.6 L424.4 933.9 L428.7 937.3 L433.1 942.2 L439.9 946.7 L446.2 948.7 L451.0 952.1 L459.4 951.4 L466.5 950.6 L471.8 953.5 L476.9 953.1 L480.9 958.2 L483.4 961.6 L487.8 966.7 L493.7 966.3 L498.7 964.5 L502.5 970.1 L506.7 971.3 L511.8 972.8 L513.9 978.1 L517.7 983.9 L522.8 985.9 L523.8 993.0 L521.6 997.2 L520.6 1004.5 L525.9 1007.3 L529.4 1008.4 L533.7 1013.3 L537.4 1017.3 L544.7 1019.8 L551.4 1023.9 L557.8 1023.5 L562.4 1019.3 L566.5 1013.3 L573.6 1013.9 L580.0 1011.8 L586.2 1010.0 L591.2 1009.1 L597.8 1006.5 L603.7 1004.5 L607.9 1007.8 L616.1 1010.1 L621.2 1011.1 L624.9 1014.7 L630.3 1020.1 L635.4 1021.3 L640.4 1017.4 L643.6 1010.5 L647.5 1005.6 L651.8 997.9 L657.8 996.8 L665.0 1000.1 L668.4 1005.8 L667.1 1011.1 L672.8 1009.0 L680.1 1009.7 L684.6 1007.8 L688.7 1002.8 L695.6 1000.1 L701.0 1000.5 L708.7 997.9 L713.1 1000.3 L717.7 1004.6 L724.0 1008.9 L726.1 1002.3 L728.4 996.9 L733.8 996.8 L738.9 993.3 L745.9 993.6 L750.9 998.5 L754.6 1003.4 L761.9 1007.4 L767.8 1005.6 L775.5 1008.8 L780.0 1012.2 L784.9 1014.9 L786.9 1018.5 L791.8 1021.5 L796.3 1023.9 L800.5 1028.1 L799.8 1031.2 L798.8 1031.0 L793.9 1029.9ZM343.4 896.2 L345.7 900.0 L345.7 900.2ZM978.7 1238.0 L979.4 1237.5 L979.9 1237.4ZM998.2 1231.6 L998.5 1231.4 L998.9 1231.4ZM1035.7 1229.5 L1037.6 1227.9 L1043.2 1227.4ZM973.1 1268.7 L970.3 1268.1 L975.8 1267.2ZM1065.1 1253.5 L1062.9 1252.4 L1066.5 1253.3ZM318.6 886.0 L316.7 882.2 L315.3 879.9 L315.5 882.9ZM318.9 886.6 L319.6 887.0 L318.6 886.0ZM323.1 889.0 L319.6 887.0 L320.0 887.4 L323.2 889.2ZM323.2 889.2 L325.5 894.5 L329.0 900.1 L328.9 898.1 L327.0 894.1 L326.5 892.1 L325.2 890.3ZM855.2 1499.8 L855.1 1499.8 L855.1 1499.8 L855.1 1499.9 L855.1 1499.9 L855.1 1500.0 L855.1 1500.0 L855.1 1500.1 L855.1 1500.1 L855.1 1500.2 L855.2 1500.2 L855.2 1500.3 L855.2 1500.3 L855.2 1500.3 L855.3 1500.4 L860.1 1504.4 L862.6 1509.9 L863.8 1515.3 L862.8 1520.6 L859.7 1526.5 L855.3 1530.2 L855.2 1530.3 L855.2 1530.3 L855.2 1530.3 L855.2 1530.4 L855.1 1530.4 L855.1 1530.5 L855.1 1530.5 L855.1 1530.5 L855.1 1530.6 L855.1 1530.6 L855.1 1530.7 L855.1 1530.7 L855.1 1530.8 L855.2 1530.8 L855.2 1530.9 L855.2 1530.9 L855.2 1530.9 L855.3 1531.0 L855.3 1531.0 L855.4 1531.0 L860.4 1534.0 L862.7 1538.2 L863.8 1543.8 L863.8 1543.8 L863.8 1543.9 L863.9 1543.9 L863.9 1544.0 L863.9 1544.0 L863.9 1544.1 L864.0 1544.1 L864.0 1544.1 L869.1 1547.4 L869.2 1547.4 L869.2 1547.5 L873.0 1549.1 L873.1 1549.1 L873.1 1549.1 L873.2 1549.1 L877.8 1549.5 L883.8 1553.0 L885.7 1557.0 L885.8 1557.1 L885.8 1557.1 L885.8 1557.1 L885.9 1557.2 L885.9 1557.2 L885.9 1557.2 L886.0 1557.2 L886.0 1557.3 L891.8 1559.5 L896.6 1562.5 L896.7 1562.5 L896.7 1562.6 L901.4 1564.4 L905.2 1566.0 L905.3 1566.0 L905.3 1566.0 L905.3 1566.0 L905.4 1566.0 L912.2 1566.1 L914.9 1570.6 L914.9 1570.6 L914.9 1570.6 L919.7 1576.3 L923.4 1580.8 L923.4 1580.9 L923.5 1580.9 L923.5 1580.9 L923.6 1580.9 L923.6 1581.0 L929.5 1583.4 L930.4 1590.1 L930.4 1590.1 L930.4 1590.2 L930.4 1590.2 L930.5 1590.3 L933.4 1595.1 L933.4 1595.1 L933.4 1595.1 L935.8 1597.9 L938.6 1604.5 L939.7 1608.3 L939.7 1608.4 L939.8 1608.4 L942.6 1613.8 L943.1 1618.4 L943.1 1618.4 L944.3 1623.6 L944.3 1623.7 L946.4 1630.3 L946.4 1630.3 L948.5 1636.1 L948.5 1636.1 L948.6 1636.1 L948.6 1636.2 L951.4 1640.2 L951.4 1640.2 L951.5 1640.3 L951.5 1640.3 L951.5 1640.3 L951.6 1640.3 L951.6 1640.4 L951.7 1640.4 L951.7 1640.4 L951.8 1640.4 L951.8 1640.4 L951.9 1640.4 L951.9 1640.4 L952.0 1640.4 L958.6 1638.3 L958.6 1638.3 L958.6 1638.2 L958.7 1638.2 L958.7 1638.2 L958.8 1638.1 L958.8 1638.1 L958.8 1638.1 L958.8 1638.0 L958.9 1638.0 L958.9 1637.9 L958.9 1637.9 L958.9 1637.8 L959.3 1633.0 L960.1 1628.1 L960.1 1628.0 L960.1 1628.0 L959.9 1622.7 L959.9 1622.6 L959.9 1622.6 L959.9 1622.5 L959.9 1622.5 L957.8 1617.6 L955.5 1611.5 L955.9 1607.8 L958.4 1602.9 L958.5 1602.9 L958.5 1602.8 L958.5 1602.8 L958.5 1602.7 L958.9 1596.2 L958.9 1596.2 L958.9 1596.1 L958.9 1596.1 L958.9 1596.0 L958.9 1596.0 L958.8 1596.0 L958.8 1595.9 L958.8 1595.9 L958.7 1595.8 L958.7 1595.8 L958.7 1595.8 L954.8 1593.2 L951.9 1588.3 L951.9 1588.3 L947.9 1582.8 L947.9 1582.8 L944.7 1579.4 L944.7 1579.4 L939.9 1574.5 L939.8 1574.4 L936.3 1571.5 L936.3 1571.5 L936.2 1571.5 L936.2 1571.4 L936.2 1571.4 L930.3 1569.5 L927.9 1565.1 L924.4 1558.1 L924.4 1558.0 L921.5 1553.7 L921.5 1553.7 L921.4 1553.6 L916.2 1548.7 L912.8 1545.5 L912.8 1545.5 L912.8 1545.5 L912.7 1545.5 L912.7 1545.4 L908.2 1543.6 L904.4 1541.0 L900.2 1535.9 L900.1 1535.8 L900.1 1535.8 L900.1 1535.8 L900.0 1535.8 L900.0 1535.7 L899.9 1535.7 L896.3 1534.8 L900.3 1532.5 L906.9 1530.9 L912.5 1531.1 L912.5 1531.1 L912.6 1531.1 L912.6 1531.1 L912.7 1531.1 L912.7 1531.0 L912.8 1531.0 L912.8 1531.0 L912.8 1531.0 L912.9 1530.9 L912.9 1530.9 L912.9 1530.8 L913.0 1530.8 L913.0 1530.7 L913.0 1530.7 L913.0 1530.6 L913.0 1530.6 L912.9 1522.3 L915.1 1517.7 L915.2 1517.7 L915.2 1517.6 L915.2 1517.6 L915.2 1517.5 L915.2 1517.5 L915.2 1517.4 L915.2 1517.4 L915.2 1517.3 L915.2 1517.3 L915.1 1517.2 L912.0 1512.0 L912.0 1512.0 L912.0 1512.0 L911.9 1511.9 L911.9 1511.9 L911.9 1511.9 L911.8 1511.8 L904.0 1508.3 L901.0 1504.9 L901.0 1504.9 L896.9 1500.3 L896.8 1500.2 L896.8 1500.2 L896.7 1500.2 L893.0 1498.1 L893.0 1498.0 L892.9 1498.0 L892.9 1498.0 L892.8 1498.0 L892.8 1498.0 L886.2 1498.1 L886.1 1498.1 L886.1 1498.1 L882.2 1499.0 L882.2 1499.0 L876.4 1500.4 L870.1 1499.2 L866.4 1497.5 L866.4 1497.4 L866.3 1497.4 L866.3 1497.4 L866.2 1497.4 L866.2 1497.4 L866.2 1497.4 L861.9 1497.8 L861.8 1497.8 L861.8 1497.8 L855.5 1499.5 L855.4 1499.5 L855.4 1499.6 L855.3 1499.6 L855.3 1499.6 L855.3 1499.6 L855.2 1499.7 L855.2 1499.7ZM777.4 1796.4 L777.4 1796.4 L776.4 1801.7 L776.4 1801.8 L776.4 1801.8 L776.4 1801.9 L776.4 1801.9 L776.4 1802.0 L776.4 1802.0 L776.5 1802.0 L776.5 1802.1 L776.5 1802.1 L780.6 1806.9 L780.7 1807.0 L780.7 1807.0 L780.7 1807.0 L785.6 1810.2 L787.8 1813.1 L789.5 1819.4 L789.5 1819.5 L789.6 1819.5 L789.6 1819.6 L789.6 1819.6 L789.6 1819.6 L792.9 1823.1 L793.0 1823.2 L793.0 1823.2 L798.9 1827.2 L799.0 1827.2 L799.0 1827.3 L803.7 1829.4 L803.8 1829.4 L808.5 1830.8 L813.5 1834.3 L815.7 1839.2 L815.8 1839.3 L815.8 1839.3 L815.8 1839.3 L815.9 1839.4 L815.9 1839.4 L815.9 1839.4 L816.0 1839.5 L821.8 1842.1 L821.8 1842.1 L821.9 1842.1 L825.9 1843.1 L825.9 1843.1 L826.0 1843.1 L826.0 1843.1 L826.1 1843.1 L826.1 1843.1 L826.2 1843.1 L832.7 1840.7 L832.7 1840.6 L832.8 1840.6 L832.8 1840.6 L836.8 1837.3 L841.0 1837.2 L846.7 1839.5 L846.8 1839.5 L846.8 1839.5 L846.9 1839.5 L846.9 1839.5 L847.0 1839.5 L847.0 1839.5 L847.1 1839.5 L847.1 1839.5 L847.1 1839.4 L847.2 1839.4 L847.2 1839.4 L847.3 1839.3 L847.3 1839.3 L847.3 1839.3 L851.6 1832.7 L851.6 1832.6 L851.7 1832.6 L851.7 1832.5 L851.7 1832.5 L851.7 1832.4 L851.7 1832.4 L851.7 1832.3 L851.7 1832.3 L851.7 1832.2 L851.7 1832.2 L851.6 1832.1 L851.6 1832.1 L851.6 1832.1 L846.7 1826.6 L843.5 1822.1 L843.5 1822.1 L843.4 1822.0 L838.2 1817.4 L838.2 1817.4 L834.0 1814.5 L830.1 1810.2 L830.0 1810.1 L830.0 1810.1 L830.0 1810.1 L825.7 1807.3 L821.5 1804.0 L821.5 1804.0 L817.2 1800.9 L813.4 1797.9 L810.3 1794.2 L810.3 1794.1 L810.2 1794.1 L810.2 1794.1 L804.4 1790.3 L804.3 1790.3 L804.3 1790.2 L804.3 1790.2 L799.2 1788.5 L794.6 1786.1 L794.6 1786.0 L794.5 1786.0 L794.5 1786.0 L794.4 1786.0 L788.3 1785.5 L788.3 1785.5 L788.2 1785.5 L788.2 1785.5 L788.1 1785.5 L788.1 1785.5 L788.1 1785.6 L788.0 1785.6 L780.9 1790.5 L780.9 1790.5 L780.8 1790.6 L780.8 1790.6 L780.8 1790.6 L777.5 1796.2 L777.4 1796.3 L777.4 1796.3ZM1494.8 2237.9 L1494.8 2237.9 L1494.8 2237.9 L1494.7 2237.9 L1494.7 2237.9 L1494.6 2237.9 L1494.6 2238.0 L1494.5 2238.0 L1494.5 2238.0 L1494.4 2238.0 L1494.4 2238.1 L1494.4 2238.1 L1494.3 2238.1 L1494.3 2238.2 L1494.3 2238.2 L1494.3 2238.3 L1494.3 2238.3 L1494.2 2238.3 L1494.2 2238.4 L1494.2 2238.4 L1494.3 2239.4 L1494.3 2239.5 L1494.3 2239.5 L1494.3 2239.6 L1496.4 2245.9 L1496.5 2250.9 L1495.4 2256.5 L1495.4 2256.6 L1495.4 2256.6 L1495.4 2256.7 L1495.4 2256.7 L1495.4 2256.8 L1495.4 2256.8 L1497.4 2261.1 L1497.5 2261.1 L1501.2 2268.5 L1501.2 2268.6 L1501.2 2268.6 L1501.2 2268.6 L1504.1 2271.7 L1508.6 2276.6 L1508.7 2276.7 L1508.7 2276.7 L1508.7 2276.7 L1513.8 2279.7 L1513.9 2279.8 L1521.9 2283.4 L1521.9 2283.4 L1522.0 2283.4 L1522.0 2283.4 L1522.1 2283.4 L1522.1 2283.4 L1522.2 2283.4 L1522.2 2283.4 L1522.3 2283.4 L1522.3 2283.3 L1522.4 2283.3 L1522.4 2283.3 L1522.4 2283.3 L1522.5 2283.2 L1522.5 2283.2 L1522.5 2283.2 L1522.6 2283.1 L1522.6 2283.1 L1522.6 2283.0 L1522.6 2283.0 L1522.6 2282.9 L1522.6 2282.9 L1522.6 2282.8 L1522.6 2282.8 L1522.6 2282.7 L1522.6 2282.7 L1522.5 2282.6 L1522.5 2282.6 L1522.5 2282.6 L1522.4 2282.5 L1518.3 2278.7 L1515.6 2272.4 L1514.0 2267.4 L1513.3 2262.0 L1513.3 2262.0 L1513.3 2261.9 L1513.3 2261.9 L1511.3 2257.7 L1511.2 2257.6 L1511.2 2257.6 L1507.2 2252.0 L1507.2 2252.0 L1507.1 2251.9 L1507.1 2251.9 L1503.4 2248.9 L1498.4 2243.0 L1495.2 2238.1 L1495.1 2238.1 L1495.1 2238.1 L1495.1 2238.0 L1495.0 2238.0 L1495.0 2238.0 L1494.9 2238.0 L1494.9 2237.9Z" fill="#edece6" fill-rule="evenodd"/>
<polygon points="503.1,905.0 516.2,896.2 531.5,894.1 553.4,891.9 575.3,896.2 592.8,905.0 608.1,913.7 614.6,926.9 608.1,942.2 603.7,957.5 595.0,966.2 581.8,970.6 564.3,961.9 549.0,957.5 531.5,953.1 516.2,948.7 503.1,940.0 498.7,922.5 503.1,905.0" fill="#cbebf2" stroke="#fff" stroke-width="7" stroke-linejoin="round"/>
<polygon points="1316.5,2311.3 1322.6,2309.8 1326.2,2309.4 1331.7,2305.5 1336.1,2301.4 1339.3,2301.0 1345.0,2298.2 1351.2,2300.3 1357.7,2301.5 1362.5,2300.4 1364.0,2306.4 1367.7,2310.9 1372.0,2314.7 1373.4,2322.2 1367.9,2326.7 1362.5,2328.8 1367.0,2329.6 1372.0,2328.4 1377.1,2326.4 1384.6,2328.0 1390.1,2330.9 1395.0,2330.6 1398.3,2330.2 1403.4,2329.8 1408.6,2327.9 1415.0,2328.8 1421.5,2333.2 1418.3,2336.5 1412.2,2338.9 1407.8,2342.4 1406.2,2348.5 1410.2,2352.6 1417.7,2353.6 1423.2,2352.2 1428.1,2355.1 1434.6,2352.4 1438.0,2352.4 1445.1,2354.4 1450.0,2352.9 1455.6,2355.1 1459.5,2361.7 1462.1,2365.2 1467.6,2368.2 1471.8,2372.6 1479.1,2372.0 1483.7,2371.6 1491.5,2372.6 1497.9,2375.3 1501.6,2379.1 1504.6,2383.5 1504.8,2388.7 1508.7,2395.1 1511.2,2401.0 1517.0,2401.4 1524.3,2403.2 1520.4,2408.5 1519.0,2412.1 1514.0,2416.6 1509.0,2418.5 1504.3,2420.9 1498.5,2420.4 1492.0,2418.9 1486.8,2417.1 1480.6,2416.3 1477.3,2412.2 1472.4,2408.3 1467.3,2405.0 1463.5,2404.0 1458.7,2401.0 1453.1,2399.1 1449.2,2395.2 1445.8,2390.2 1441.5,2386.1 1436.8,2385.7 1431.7,2383.6 1425.7,2382.6 1419.3,2381.4 1415.0,2376.9 1410.4,2373.4 1406.6,2369.2 1402.6,2366.3 1397.5,2363.8 1393.6,2360.2 1390.4,2357.7 1385.4,2354.1 1380.0,2352.9 1374.2,2355.8 1369.6,2358.0 1366.1,2360.5 1360.3,2362.0 1355.9,2361.6 1350.1,2359.2 1345.4,2357.6 1341.5,2355.5 1335.9,2354.6 1331.8,2352.9 1329.1,2348.2 1328.7,2344.4 1327.3,2339.4 1327.5,2333.2 1323.8,2327.9 1321.7,2321.2 1318.7,2317.5 1316.5,2311.3" fill="#edece6" stroke="#fff" stroke-width="4.5" stroke-linejoin="round"/>
<polygon points="85.7,821.9 90.6,820.2 98.0,817.5 102.6,817.7 108.5,821.0 114.0,823.5 120.7,826.2 126.3,824.9 130.9,826.4 136.5,830.6 140.8,831.6 145.2,836.7 152.2,843.7 149.6,848.8 147.0,856.0 143.5,851.3 136.5,849.0 130.6,852.5 126.3,853.8 120.7,852.5 113.9,850.1 108.7,847.4 105.0,842.0 98.9,837.5 94.5,832.4 87.5,826.2 85.7,821.9" fill="#edece6" stroke="#fff" stroke-width="4.5" stroke-linejoin="round"/>
<polygon points="242.8,1093.7 246.8,1098.1 253.0,1099.5 257.7,1100.8 262.5,1106.8 265.2,1111.6 270.6,1115.1 274.9,1116.4 279.8,1118.5 284.3,1119.9 288.1,1124.6 294.7,1125.7 300.3,1124.3 304.0,1126.5 307.1,1132.3 306.7,1139.7 306.4,1145.5 310.6,1150.6 315.4,1151.9 318.8,1156.6 322.7,1160.7 328.8,1163.9 332.5,1168.0 337.0,1169.9 341.7,1172.0 346.4,1174.8 351.0,1175.2 357.8,1174.0 363.1,1174.6 367.0,1178.1 369.6,1183.4 363.7,1186.9 361.4,1190.8 359.0,1197.1 356.5,1200.9 352.9,1203.9 349.4,1209.2 343.4,1211.8 338.1,1210.1 333.4,1207.3 328.1,1204.2 323.7,1200.9 317.7,1197.9 310.5,1196.2 306.2,1192.1 300.5,1191.8 296.4,1189.5 289.3,1186.5 284.3,1185.5 278.7,1189.5 275.4,1191.5 268.5,1192.0 262.5,1189.9 256.9,1188.2 252.0,1186.7 246.9,1183.7 245.0,1179.0 240.9,1171.0 238.4,1165.9 239.7,1160.2 241.9,1155.1 241.8,1150.3 242.8,1146.2 238.2,1141.6 236.5,1138.2 236.0,1133.2 231.8,1128.7 233.7,1122.4 232.9,1116.6 234.0,1111.2 236.8,1105.3 241.8,1099.5 242.8,1093.7" fill="#edece6" stroke="#fff" stroke-width="4.5" stroke-linejoin="round"/>
<path d="M1618.4 2263.2 L1616.1 2270.1 L1616.5 2273.9 L1617.4 2280.2 L1618.8 2284.3 L1618.8 2289.3 L1616.8 2295.3 L1617.2 2302.8 L1620.6 2306.9 L1612.5 2307.8 L1607.4 2313.5 L1602.8 2317.8 L1599.9 2322.2 L1598.8 2326.1 L1597.9 2332.3 L1594.3 2337.6 L1591.3 2340.8 L1586.0 2342.9 L1581.3 2343.2 L1575.1 2346.4 L1572.4 2350.7 L1569.3 2355.5 L1563.3 2361.2 L1559.3 2363.8 L1559.4 2368.5 L1561.3 2374.5 L1561.5 2381.3 L1555.6 2385.3 L1550.0 2385.1 L1543.9 2388.2 L1541.8 2394.4 L1535.7 2398.4 L1532.5 2401.6 L1530.9 2407.5 L1533.9 2413.0 L1537.9 2413.7 L1541.8 2418.5 L1547.8 2415.7 L1551.1 2413.8 L1557.0 2413.9 L1563.7 2414.1 L1569.4 2417.9 L1574.7 2418.8 L1581.2 2416.3 L1589.0 2416.3 L1594.3 2411.9 L1596.2 2415.9 L1597.1 2421.8 L1594.3 2427.2 L1589.1 2427.4 L1584.5 2427.7 L1579.0 2429.4 L1581.6 2434.4 L1585.6 2438.2 L1592.9 2438.8 L1597.5 2441.6 L1600.9 2446.9 L1603.0 2454.3 L1607.4 2457.9 L1605.0 2464.0 L1603.8 2468.2 L1598.7 2471.0 L1603.1 2472.6 L1607.3 2474.7 L1614.4 2476.8 L1618.4 2477.5 M16.6 694.1 L21.5 698.1 L27.1 698.5 L31.5 697.6 L32.3 692.3 L37.6 688.9 L40.2 696.7 L47.0 697.5 L52.5 700.2 L57.7 698.5 L65.1 703.7 L70.0 706.4 L79.6 707.2 L84.0 702.9 L87.8 704.9 L91.0 710.7 L93.2 716.6 L98.0 721.2 L101.1 725.4 L103.2 731.7 L98.9 737.0 L101.3 742.0 L105.0 745.7 L112.0 752.7 L113.7 759.7 L120.7 763.2 L126.0 768.5 L129.5 773.7 L134.7 779.9 L143.5 775.5 L150.5 772.0 L155.7 777.2 L164.5 775.5 L173.2 777.6 L180.2 773.7 L185.1 769.9 L185.5 765.0 L185.3 759.7 L182.0 754.5 L179.4 747.5 L189.0 748.4 L192.5 754.5 L199.5 761.5 L198.2 766.3 L201.2 772.0 L199.9 779.1 L196.0 782.5 L195.2 787.4 L192.5 793.0 L197.5 790.3 L201.2 786.0 L207.8 786.7 L213.9 786.9 L218.7 790.4 L224.3 791.3 L230.2 796.5 L236.2 798.2 L242.1 797.7 L247.4 799.8 L250.2 805.2 L254.2 808.1 L258.4 813.4 L262.5 817.5 L269.0 823.0 L273.0 828.0 L275.1 833.6 L279.3 836.8 L283.5 840.2 L288.4 842.9 L292.2 850.7 L294.3 855.2 L297.5 861.2 L295.7 866.5 L298.9 870.6 L306.2 871.7 L312.2 875.0 L316.7 882.2 L318.9 886.6 L323.1 889.0 L325.5 894.5 L329.0 900.1 L328.7 895.2 L325.2 890.3 L320.0 887.4 L315.5 882.9 L315.0 876.6 L317.6 882.6 L320.8 884.1 L325.3 887.3 L327.0 894.1 L329.5 899.4 L329.1 904.0 L329.3 910.0 L332.5 913.7 L329.9 919.9 L330.9 923.8 L331.2 931.1 L331.4 935.6 L327.5 941.0 L326.1 944.2 L327.0 950.9 L322.1 952.1 L317.3 957.0 L312.8 959.7 L312.4 966.2 L314.0 971.8 L313.8 975.4 L317.2 981.5 L316.6 989.1 L319.0 992.4 L323.4 1000.4 L323.7 1005.6 L326.4 1012.7 L330.3 1016.5 L336.8 1014.5 L341.2 1016.3 L345.6 1018.7 L352.8 1018.3 L356.6 1020.9 L360.6 1025.0 L365.0 1027.0 L371.9 1028.6 L368.1 1023.8 L364.6 1020.7 L360.1 1019.6 L356.6 1015.4 L357.4 1009.8 L352.2 1003.4 L346.5 997.3 L342.3 992.5 L338.9 988.4 L337.2 980.8 L337.3 975.0 L335.8 970.9 L335.7 963.5 L336.1 959.7 L334.7 953.1 L335.5 947.3 L335.1 941.4 L337.3 935.6 L339.3 927.7 L341.7 922.5 L342.7 916.4 L348.2 912.6 L345.7 907.9 L345.7 900.0 L343.4 896.2 L345.7 900.2 L352.1 904.5 L354.4 908.3 L359.5 913.3 L365.7 913.7 L362.1 917.1 L361.8 924.4 L360.9 929.5 L366.7 929.1 L372.2 928.8 L378.4 924.7 L384.3 922.3 L390.0 922.1 L395.9 918.5 L400.8 924.0 L404.2 928.3 L411.2 931.2 L418.5 931.6 L424.4 933.9 L428.7 937.3 L433.1 942.2 L439.9 946.7 L446.2 948.7 L451.0 952.1 L459.4 951.4 L466.5 950.6 L471.8 953.5 L476.9 953.1 L480.9 958.2 L483.4 961.6 L487.8 966.7 L493.7 966.3 L498.7 964.5 L502.5 970.1 L506.7 971.3 L511.8 972.8 L513.9 978.1 L517.7 983.9 L522.8 985.9 L523.8 993.0 L521.6 997.2 L520.6 1004.5 L525.9 1007.3 L529.4 1008.4 L533.7 1013.3 L537.4 1017.3 L544.7 1019.8 L551.4 1023.9 L557.8 1023.5 L562.4 1019.3 L566.5 1013.3 L573.6 1013.9 L580.0 1011.8 L586.2 1010.0 L591.2 1009.1 L597.8 1006.5 L603.7 1004.5 L607.9 1007.8 L616.1 1010.1 L621.2 1011.1 L624.9 1014.7 L630.3 1020.1 L635.4 1021.3 L640.4 1017.4 L643.6 1010.5 L647.5 1005.6 L651.8 997.9 L657.8 996.8 L665.0 1000.1 L668.4 1005.8 L667.1 1011.1 L672.8 1009.0 L680.1 1009.7 L684.6 1007.8 L688.7 1002.8 L695.6 1000.1 L701.0 1000.5 L708.7 997.9 L713.1 1000.3 L717.7 1004.6 L724.0 1008.9 L726.1 1002.3 L728.4 996.9 L733.8 996.8 L738.9 993.3 L745.9 993.6 L750.9 998.5 L754.6 1003.4 L761.9 1007.4 L767.8 1005.6 L775.5 1008.8 L780.0 1012.2 L784.9 1014.9 L786.9 1018.5 L791.8 1021.5 L796.3 1023.9 L800.5 1028.1 M3021.2 19.7 L3024.5 23.4 L3029.9 26.2 L3035.2 26.2 L3043.0 27.1 L3044.7 34.2 L3044.9 38.6 L3044.9 43.5 L3045.2 50.3 L3049.8 53.6 L3053.4 57.1 L3056.2 61.2 L3060.8 63.8 L3069.0 63.8 L3073.7 64.7 L3079.1 66.9 L3084.5 71.2 L3089.0 76.6 L3096.0 81.3 L3102.1 83.1 L3100.8 88.5 L3094.5 94.8 L3091.2 98.4 L3095.5 100.0 L3101.8 102.2 L3106.0 103.1 L3111.9 106.5 L3114.7 109.0 L3119.6 112.9 L3117.4 122.5 L3116.3 128.5 L3114.1 131.9 L3109.3 135.8 L3105.2 139.1 L3110.8 146.5 L3110.6 151.1 L3107.1 155.8 L3106.5 161.9 L3099.0 166.2 L3098.8 172.7 L3101.3 177.2 L3104.2 182.6 L3104.3 188.1 L3110.3 190.9 L3113.2 192.1 L3118.7 193.3 L3124.0 196.9 L3120.0 202.0 L3114.9 206.0 L3109.9 209.9 L3107.8 214.3 L3109.5 219.2 L3106.9 225.8 L3104.2 229.4 L3104.3 236.2 L3099.5 242.2 L3094.6 245.0 L3091.2 249.3 L3086.6 253.2 L3082.5 258.9 L3080.2 264.7 L3074.3 264.5 L3069.5 266.7 L3064.9 269.0 L3061.7 274.6 L3057.0 277.2 L3051.8 280.0 L3047.5 282.4 L3041.3 284.4 L3038.0 285.5 L3032.1 286.5 L3027.0 288.7 L3018.7 288.0 L3012.4 288.7 L3006.4 288.3 L3002.2 290.4 L2997.1 290.9 L2993.9 295.8 L2992.7 301.8 L2987.6 305.6 L2984.0 312.8 L2985.4 318.6 L2981.8 325.9 L2977.5 329.7 L2973.9 332.5 L2980.5 331.4 L2988.4 334.6 L2990.7 340.7 L2995.8 343.4 L3001.9 346.4 L3007.2 345.6 L3003.4 349.5 L2999.3 356.5 L2999.0 361.1 L2999.3 368.3 L2998.3 372.6 L2994.1 376.2 L2994.2 381.9 L2996.4 387.1 L3000.8 393.5 L3005.9 395.9 L3010.6 398.5 L3013.1 403.2 L3017.2 408.4 L3021.2 413.4 L3018.7 419.4 L3020.3 423.4 L3014.5 424.3 L3005.9 426.5 L3005.3 431.1 L3003.7 437.4 M2465.3 1451.8 L2469.0 1455.7 L2471.1 1460.3 L2475.1 1466.3 L2480.6 1469.3 L2479.5 1473.5 L2479.7 1480.9 L2481.9 1485.7 L2480.6 1491.2 L2485.1 1489.7 L2491.9 1485.7 L2496.7 1483.5 L2502.5 1484.6 L2507.8 1483.8 L2512.7 1487.3 L2515.3 1491.8 L2520.0 1495.6 L2522.3 1501.1 L2522.2 1508.7 L2527.2 1509.2 L2532.2 1512.8 L2537.5 1513.1 L2540.5 1507.1 L2546.2 1502.2 L2550.6 1500.0 L2553.7 1503.8 L2557.0 1509.4 L2558.4 1513.3 L2559.8 1519.1 L2561.5 1524.0 L2556.3 1527.6 L2551.9 1533.5 L2547.5 1537.5 L2544.1 1541.5 L2546.7 1547.1 L2546.2 1554.6 L2554.0 1551.5 L2559.4 1552.4 L2563.8 1556.6 L2565.9 1561.2 L2569.5 1555.1 L2572.6 1551.9 L2578.0 1549.3 L2584.8 1547.1 L2590.0 1545.9 L2595.8 1549.7 L2599.4 1550.5 L2605.3 1548.1 L2605.4 1554.7 L2603.9 1559.9 L2602.0 1567.1 L2603.1 1572.1 L2610.2 1571.7 L2613.8 1569.4 L2619.6 1566.2 L2625.2 1564.5 L2629.4 1563.4 L2631.9 1569.8 L2635.0 1573.8 L2635.9 1580.9 L2632.8 1584.7 L2631.3 1589.9 L2629.4 1596.2 L2630.2 1602.1 L2629.2 1607.9 L2630.3 1615.3 L2633.7 1620.3 L2626.8 1626.2 L2620.6 1626.8 L2622.9 1632.9 L2626.4 1639.4 L2629.4 1644.3 L2628.4 1649.1 L2627.7 1654.9 L2625.0 1659.6 L2625.8 1665.5 L2630.8 1670.7 L2634.3 1674.4 L2635.9 1681.5 L2642.5 1685.9 L2647.5 1684.8 L2653.1 1682.1 L2660.0 1679.3 L2663.4 1674.1 L2668.7 1670.6 L2673.6 1670.6 L2679.6 1673.4 L2685.7 1677.6 L2689.2 1680.4 L2695.0 1681.5 L2699.4 1682.5 L2705.0 1682.5 L2711.8 1685.7 L2716.8 1687.5 L2721.2 1685.9 L2723.3 1682.1 L2726.1 1675.3 L2730.0 1672.7 L2735.4 1673.2 L2739.4 1674.7 L2745.1 1673.1 L2752.2 1670.9 L2756.2 1672.7 L2761.5 1670.7 L2766.0 1669.3 L2772.6 1665.7 L2777.5 1662.3 L2782.5 1661.8 L2787.3 1663.9 L2793.7 1664.3 L2798.7 1664.4 L2803.9 1666.5 L2808.7 1668.4 L2814.4 1666.4 L2820.1 1663.6 L2824.8 1662.7 L2830.6 1659.6 L2828.7 1655.0 L2825.4 1650.4 L2821.7 1648.1 L2818.7 1642.9 L2817.5 1637.8 L2813.6 1632.9 L2811.3 1625.5 L2808.7 1620.3 L2815.0 1618.9 L2821.8 1615.9 L2828.9 1615.6 L2833.6 1614.2 L2838.4 1613.9 L2845.9 1615.9 L2845.7 1620.9 L2848.1 1626.8 L2851.8 1629.1 L2856.2 1630.7 L2863.1 1632.7 L2866.2 1634.4 L2869.9 1639.9 L2874.5 1640.9 L2879.8 1643.7 L2883.7 1649.0 L2886.5 1652.6 L2891.8 1653.1 L2894.7 1658.9 L2895.7 1664.1 L2897.8 1670.3 L2900.6 1674.9 L2898.4 1681.4 L2899.8 1686.6 L2902.4 1690.9 L2902.8 1696.8 L2898.5 1702.0 L2898.8 1707.0 L2900.8 1712.2 L2898.4 1718.7 L2902.8 1724.4 L2906.3 1728.0 L2910.6 1731.4 L2913.7 1736.2 L2914.1 1743.3 L2916.5 1748.1 L2920.3 1753.7 L2926.2 1755.7 L2928.3 1758.2 L2931.6 1764.5 L2935.6 1766.8 L2939.7 1767.3 L2945.0 1770.2 L2950.0 1772.0 L2955.5 1774.3 L2959.6 1775.5 L2963.2 1780.6 L2967.2 1783.9 L2970.6 1788.5 L2972.7 1793.0 L2971.9 1799.1 L2972.6 1802.9 L2975.1 1809.1 L2974.9 1814.9 L2972.1 1818.9 L2970.1 1826.0 L2968.4 1832.4 L2972.2 1837.0 L2976.2 1842.0 L2981.5 1845.5 L2985.3 1849.8 L2986.8 1856.0 L2990.2 1860.0 M1683.7 37.2 L1686.4 43.7 L1692.5 48.1 L1698.3 51.9 L1704.5 53.1 L1710.0 54.7 L1713.8 56.8 L1719.1 59.0 L1723.1 63.4 L1728.3 65.0 L1733.1 65.5 L1740.6 66.0 L1745.0 69.1 L1749.7 69.8 L1755.5 71.4 L1761.7 72.8 L1767.7 75.2" fill="none" stroke="#fff" stroke-width="4.5" stroke-linejoin="round" stroke-linecap="round"/>
<path d="M201.2 758.0 L203.7 752.7 L201.2 744.0 L205.2 743.0 L210.0 738.7 L217.4 734.7 L222.2 730.0 L225.3 724.4 L223.1 716.0 M206.5 747.5 L212.6 747.2 L217.5 744.7 L222.2 745.7 L226.6 739.7 L232.7 737.0 L237.0 732.4 L240.1 725.4 L239.7 719.5 L243.1 715.8 L247.8 711.3 L250.2 707.2 M206.5 772.0 L212.1 776.1 L215.5 776.0 L222.1 773.5 L227.5 773.7 L233.5 774.5 L238.8 775.9 L241.5 780.7 L240.6 787.6 L241.7 790.4 L247.6 794.7 L241.5 795.9 L236.2 798.2 M406.9 858.0 L408.0 865.5 L408.8 870.3 L411.2 876.6 L411.0 881.9 L409.2 887.4 L408.8 893.1 L411.2 898.4 L409.8 905.8 L410.1 909.7 L413.8 916.9 L415.6 922.5 L420.0 931.2 M447.3 840.5 L451.1 846.7 L452.5 850.4 L455.0 856.9 L458.1 862.7 L459.1 867.0 L459.4 874.4 L454.8 881.6 L455.0 887.5 L449.5 894.1 L452.0 898.0 L454.5 903.7 L455.0 909.4 L455.4 916.0 L457.3 919.1 L463.7 922.5 L464.2 927.6 L466.6 935.6 L470.3 940.0 L474.2 944.1 L477.2 949.0 L481.2 953.1 M430.9 907.2 L434.8 910.4 L437.3 915.1 L437.5 922.5 L439.2 926.1 L443.3 930.2 L446.2 935.6 L448.1 940.4 L451.7 945.6 L455.0 948.7 M563.2 853.6 L568.0 858.3 L571.1 863.5 L573.1 870.0 L577.3 873.8 L581.3 878.6 L586.2 883.1 L591.0 887.1 L595.1 889.7 L598.6 890.7 L603.7 894.1 M595.0 856.9 L590.9 863.2 L589.2 867.1 L590.6 874.4 M625.6 865.6 L623.6 872.2 L624.4 875.3 L623.6 880.7 L623.4 887.5 L627.5 893.5 L632.1 898.4 L630.3 904.6 L627.8 909.2 L624.0 912.4 L623.4 918.1 L618.7 920.7 L615.0 927.4 L613.0 932.0 L608.1 935.6 M638.7 883.1 L638.6 888.7 L640.2 893.5 L638.9 899.2 L635.7 904.7 L635.1 910.0 L635.8 917.5 L634.3 922.5 M527.2 898.4 L523.5 904.1 L521.4 908.7 L521.4 915.9 L522.8 922.5 L521.5 929.2 L520.5 933.4 L522.3 939.0 L527.2 944.4 M542.5 902.8 L545.7 908.0 L548.8 909.8 L552.4 912.7 L555.6 918.1 L551.3 926.0 L549.0 931.2 M566.5 931.2 L567.8 937.2 L566.8 941.4 L568.6 947.4 L570.9 952.5 L568.7 957.5 M586.2 896.2 L591.4 895.2 L596.7 897.5 L600.6 902.0 L603.9 907.3 L608.1 909.4 M476.9 898.4 L480.5 903.6 L482.4 907.4 L483.6 911.1 L483.8 917.1 L485.6 922.5 L489.6 927.3 L491.4 933.7 L490.0 940.0 L496.1 942.2 L498.4 945.6 L498.7 953.1 M516.2 887.5 L520.5 888.8 L528.1 889.7 L531.9 889.4 L538.1 887.5 L544.4 886.0 L549.7 884.5 L555.6 885.3 L562.7 884.6 L568.0 886.1 L573.1 887.5 M651.8 966.2 L652.8 973.3 L655.1 978.4 L658.1 982.6 L662.8 985.9 L669.1 990.5 L674.8 993.1 L680.3 992.5 L684.4 988.7 L688.7 987.4 L692.5 983.4 L695.6 979.4 L697.9 972.1 L701.7 968.9 L706.5 966.2 L706.5 961.6 L707.4 954.7 L708.4 950.5 L706.5 944.4 M673.7 964.0 L676.1 967.7 L677.5 972.9 L678.9 977.7 L684.6 981.5 M715.3 948.7 L718.4 955.2 L722.6 958.2 L726.2 964.0 L725.5 969.7 L720.3 975.0 L714.1 977.4 L712.4 979.9 L708.7 985.9 M667.1 1010.0 L672.8 1012.3 L678.0 1011.4 L684.6 1007.8 L689.3 1006.3 L695.1 1002.4 L700.2 998.8 L703.8 996.1 L708.7 992.5 M643.1 970.6 L639.0 976.0 L638.7 981.5 L643.8 984.8 L647.5 990.3 M415.6 1097.2 L421.0 1096.2 L428.5 1097.6 L433.1 1100.8 L437.4 1104.6 L442.5 1107.5 L448.2 1111.4 L454.9 1112.1 M481.2 1158.4 L486.6 1156.8 L493.4 1159.6 L498.6 1164.1 L503.1 1165.9 M743.7 1212.7 L750.0 1209.5 L755.5 1209.1 L761.1 1207.6 L765.5 1208.3 M743.7 1234.5 L749.8 1233.4 L755.6 1233.7 L762.0 1229.3" fill="none" stroke="#fff" stroke-width="7.5" stroke-linejoin="round" stroke-linecap="round"/>
<circle cx="295.4" cy="878.7" r="3.2" fill="#fff"/>
<circle cx="295.3" cy="878.7" r="3.2" fill="#fff"/>
<circle cx="312.8" cy="931.2" r="3.2" fill="#fff"/>
<circle cx="305.2" cy="938.2" r="3.2" fill="#fff"/>
<circle cx="317.2" cy="943.3" r="3.2" fill="#fff"/>
<circle cx="467.0" cy="962.9" r="3.2" fill="#fff"/>
<circle cx="458.3" cy="971.7" r="3.2" fill="#fff"/>
<circle cx="386.5" cy="1037.3" r="3.2" fill="#fff"/>
<circle cx="514.0" cy="926.9" r="3.2" fill="#fff"/>
<circle cx="586.2" cy="918.1" r="3.2" fill="#fff"/>
<circle cx="586.2" cy="941.1" r="3.2" fill="#fff"/>
<circle cx="595.0" cy="957.5" r="3.2" fill="#fff"/>
<circle cx="555.6" cy="943.3" r="3.2" fill="#fff"/>
<circle cx="538.1" cy="946.5" r="3.2" fill="#fff"/>
<circle cx="531.5" cy="936.7" r="3.2" fill="#fff"/>
<circle cx="570.9" cy="913.7" r="3.2" fill="#fff"/>
<circle cx="551.2" cy="896.2" r="3.2" fill="#fff"/>
<circle cx="395.9" cy="1078.4" r="3.2" fill="#fff"/>
<circle cx="409.0" cy="1087.1" r="3.2" fill="#fff"/>
<circle cx="446.2" cy="1124.3" r="3.2" fill="#fff"/>
<circle cx="430.9" cy="1140.9" r="3.2" fill="#fff"/>
<circle cx="518.4" cy="1179.0" r="3.2" fill="#fff"/>
<circle cx="446.2" cy="1095.9" r="3.2" fill="#fff"/>
<circle cx="816.2" cy="1279.9" r="3.2" fill="#fff"/>
<circle cx="840.3" cy="1293.5" r="3.2" fill="#fff"/>
<circle cx="843.8" cy="1304.0" r="3.2" fill="#fff"/>
<path d="M1779.1 588.4 L1774.9 592.3 L1767.9 594.7 L1762.5 594.9 L1757.1 595.0 L1751.5 597.1 L1745.0 597.1 L1740.0 593.0 L1736.2 591.0 L1729.1 590.1 L1723.6 589.8 L1718.7 590.6 L1713.0 592.3 L1705.6 595.8 L1699.1 596.8 L1695.8 600.7 L1692.6 605.1 L1686.4 608.4 L1683.7 612.4 L1681.5 618.3 L1681.0 621.9 L1680.3 627.6 L1679.1 633.6 L1677.4 636.7 L1677.2 643.0 L1673.3 648.6 L1672.8 652.6 L1674.2 658.0 L1671.6 663.2 L1667.8 668.7 L1668.4 673.7 L1666.3 678.9 L1665.8 683.2 L1662.9 689.3 L1660.3 695.5 L1659.9 699.9 L1658.3 705.4 L1655.3 710.0 L1653.4 714.1 L1651.2 718.4 L1648.9 723.2 L1644.1 727.5 L1642.2 733.0 L1640.4 739.1 L1640.3 746.4 L1637.5 751.5 L1633.1 754.4 L1630.0 760.3 L1627.9 766.8 L1633.4 770.9 L1637.3 772.0 L1642.1 777.5 L1644.1 782.2 L1648.1 783.8 L1653.6 788.6 L1656.5 793.1 L1661.1 796.2 L1665.9 797.5 L1671.1 799.7 L1677.1 800.1 L1681.9 800.4 L1687.8 801.8 L1693.6 799.5 L1700.9 797.5 L1706.2 797.8 L1712.0 800.7 L1717.3 803.1 L1725.0 804.0 L1730.5 807.9 L1735.5 809.4 L1742.5 810.6 L1748.3 807.2 L1753.3 806.4 L1758.6 807.8 L1764.3 808.4 L1769.0 813.6 L1773.1 817.1 L1778.8 816.7 L1785.3 820.3 L1789.9 821.9 L1795.0 822.8 L1799.4 821.1 L1806.9 819.7 L1812.5 817.1 L1814.9 812.3 L1812.5 806.2 L1807.5 803.3 L1801.5 801.8 L1803.6 797.2 L1808.1 790.9 L1813.0 793.8 L1817.9 794.7 L1823.4 797.5 L1829.6 801.4 L1834.3 801.8 L1838.7 806.7 L1841.5 810.6 L1845.6 813.8 L1850.1 816.6 L1851.8 821.5 L1856.9 821.9 L1862.4 825.0 L1866.4 825.8 L1871.5 828.1 L1878.0 832.6 L1882.3 834.2 L1889.0 836.8 L1890.9 831.3 L1891.5 829.5 L1891.2 823.7 L1888.7 816.4 L1886.9 812.9 L1884.6 806.2 L1882.9 801.2 L1883.3 793.7 L1884.1 789.5 L1886.8 784.3 L1884.9 777.3 L1881.8 772.5 L1879.8 768.4 L1875.9 762.5 L1872.0 758.6 L1868.9 752.0 L1865.9 747.6 L1865.0 742.8 L1869.3 738.4 L1871.2 734.4 L1871.5 727.5 L1876.1 725.1 L1880.6 724.1 L1885.9 723.0 L1891.2 718.7 L1897.0 716.1 L1900.0 710.0 L1895.9 705.1 L1892.3 700.1 L1891.2 694.7 L1895.6 688.1 L1900.3 687.7 L1906.4 687.9 L1910.1 688.4 L1917.9 688.4 L1921.8 690.3 L1926.2 696.9 L1929.9 701.9 L1937.1 703.4 L1939.6 699.1 L1943.2 692.5 L1943.7 688.1 L1948.4 683.0 L1949.8 678.9 L1949.2 673.9 L1950.3 668.4 L1959.0 664.0 L1957.2 658.7 L1956.1 653.5 L1957.0 649.2 L1956.4 643.6 L1954.8 638.8 L1955.0 632.1 L1949.4 632.9 L1945.5 633.7 L1938.8 633.5 L1933.0 633.7 L1928.7 636.5 L1926.4 632.5 L1921.2 628.8 L1917.5 625.7 L1915.6 621.2 L1911.7 616.8 L1910.6 611.9 L1906.8 605.9 L1900.5 606.1 L1894.7 603.8 L1890.0 601.1 L1885.0 601.5 L1880.0 596.8 L1878.3 591.8 L1877.1 584.0 L1872.5 580.9 L1867.6 582.1 L1862.5 582.9 L1856.5 579.6 L1850.1 585.2 L1847.8 590.6 L1846.4 596.3 L1845.4 601.2 L1843.4 605.9 L1838.1 606.0 L1832.5 608.0 L1826.0 607.1 L1821.0 607.4 L1817.7 609.0 L1811.2 611.1 L1806.2 610.2 L1801.8 619.0 L1794.6 615.0 L1788.7 612.4 L1785.6 608.4 L1785.1 603.3 L1783.8 596.4 L1782.6 592.9Z" fill="#c7dcef" stroke="#c7dcef" stroke-width="1"/>
<path d="M1749.3 398.1 L1750.4 402.2 L1750.3 410.1 L1751.4 416.1 L1753.7 419.9 L1756.8 425.0 L1756.1 430.6 L1757.3 436.6 L1762.5 441.8 L1764.0 447.4 L1765.5 454.2 L1764.7 457.4 L1763.4 463.5 L1762.6 470.7 L1763.8 476.2 L1766.8 481.2 L1766.4 486.2 L1765.0 494.1 L1764.9 498.1 L1766.6 503.8 L1767.1 509.7 L1769.0 515.3 L1774.4 516.0 L1780.8 518.4 L1778.8 522.6 L1779.7 529.9 L1778.9 536.7 L1776.8 541.6 L1776.1 545.3 L1774.7 552.1 L1776.8 557.3 L1778.0 561.9 L1777.2 567.7 L1775.1 572.3 L1774.8 577.7 L1776.9 584.2 L1779.1 588.4 L1782.6 592.9 L1783.8 596.4 L1785.1 603.3 L1785.6 608.4 L1788.7 612.4 L1794.6 615.0 L1801.8 619.0 L1806.2 610.2 L1811.2 611.1 L1817.7 609.0 L1821.0 607.4 L1826.0 607.1 L1832.5 608.0 L1838.1 606.0 L1843.4 605.9 L1845.4 601.2 L1846.4 596.3 L1847.8 590.6 L1850.1 585.2 L1856.5 579.6 L1862.5 582.9 L1867.6 582.1 L1872.5 580.9 L1877.1 584.0 L1878.3 591.8 L1880.0 596.8 L1885.0 601.5 L1890.0 601.1 L1894.7 603.8 L1900.5 606.1 L1906.8 605.9 L1910.6 611.9 L1911.7 616.8 L1915.6 621.2 L1917.5 625.7 L1921.2 628.8 L1926.4 632.5 L1928.7 636.5 L1933.0 633.7 L1938.8 633.5 L1945.5 633.7 L1949.4 632.9 L1955.0 632.1 L1957.8 624.6 L1961.6 620.6 L1965.9 616.8 L1974.6 614.6 L1973.3 623.4 L1975.5 628.0 L1978.5 633.1 L1981.1 636.6 L1981.2 643.0 L1986.7 641.8 L1992.1 640.9 L1991.7 634.6 L1994.3 629.9 L1999.7 626.4 L2003.1 619.0 L2007.4 615.1 L2014.5 611.9 L2019.9 609.4 L2024.9 608.0 L2029.8 608.5 L2035.3 606.1 L2040.8 603.8 L2044.6 601.5 L2043.3 595.7 L2044.6 590.6 L2038.3 588.4 L2033.6 584.7 L2030.3 582.6 L2022.7 581.8 L2025.5 576.0 L2029.2 570.9 L2031.5 564.3 L2035.7 559.7 L2042.4 554.7 L2048.5 556.4 L2053.3 554.6 L2058.1 553.8 L2064.3 556.4 L2069.3 554.9 L2073.1 549.0 L2081.0 545.9 L2086.2 544.6 L2093.0 550.2 L2097.1 554.7 L2102.8 557.1 L2107.5 556.9 L2113.3 554.8 L2120.3 555.6 L2122.2 547.8 L2123.4 542.4 L2119.8 537.2 L2115.8 533.5 L2112.4 527.1 L2116.8 520.6 L2112.4 512.7 L2106.0 513.6 L2101.5 511.8 L2094.0 510.8 L2087.9 512.4 L2084.0 516.2 L2079.0 511.4 L2076.6 508.4 L2073.1 503.1 L2067.9 499.6 L2063.6 495.8 L2060.3 493.0 L2057.5 487.7 L2055.7 482.7 L2052.1 479.0 L2051.1 473.5 L2049.0 465.9 L2056.4 461.5 L2053.4 454.9 L2056.9 450.3 L2057.9 444.8 L2055.6 437.4 L2053.0 434.1 L2049.0 428.7 L2044.6 430.9 L2039.4 431.2 L2033.5 429.8 L2028.9 428.1 L2024.9 424.3 L2017.7 426.2 L2012.7 428.7 L2012.0 435.7 L2009.6 441.8 L2007.8 437.0 L2002.9 433.2 L1998.7 430.9 L1998.3 425.3 L1995.6 420.5 L1994.3 415.6 L1991.5 412.2 L1986.0 411.2 L1980.3 409.0 L1980.1 413.9 L1975.6 416.8 L1970.6 421.4 L1970.3 426.5 L1963.7 426.8 L1957.1 430.9 L1952.9 437.1 L1952.8 444.0 L1949.3 441.4 L1943.3 438.8 L1937.4 437.4 L1931.8 437.5 L1927.2 435.2 L1921.4 434.8 L1915.6 433.1 L1909.8 433.1 L1903.4 435.7 L1898.1 435.3 L1891.5 435.2 L1886.5 432.5 L1883.4 430.0 L1878.3 429.6 L1871.8 430.9 L1863.1 435.3 L1856.1 437.0 L1852.0 435.6 L1845.2 433.7 L1840.3 433.1 L1845.6 426.5 L1841.1 421.5 L1839.5 416.4 L1836.0 413.4 L1837.8 405.7 L1836.9 401.5 L1833.3 395.9 L1825.9 391.5 L1821.5 388.5 L1816.4 391.1 L1808.4 393.7 L1808.9 399.7 L1805.5 406.5 L1799.7 411.2 L1790.9 413.4 L1787.9 408.7 L1785.0 404.0 L1780.0 400.3 L1774.5 400.3 L1769.9 398.3 L1765.6 397.4 L1759.7 395.8 L1755.8 395.4Z" fill="#c7dcef" stroke="#c7dcef" stroke-width="1"/>
<path d="M1775.6 205.6 L1775.5 211.6 L1777.8 216.2 L1777.2 220.7 L1775.4 225.0 L1775.2 232.3 L1773.4 236.2 L1773.4 241.7 L1772.8 247.5 L1774.1 251.1 L1777.8 255.9 L1772.1 257.6 L1767.9 260.7 L1764.9 264.1 L1761.4 270.4 L1760.6 275.5 L1758.1 280.0 L1753.9 285.2 L1751.3 290.2 L1748.2 296.9 L1747.2 301.8 L1746.3 308.0 L1744.8 311.6 L1742.8 316.5 L1740.6 321.5 L1740.9 327.2 L1744.0 331.9 L1744.1 338.7 L1741.3 344.9 L1742.8 350.0 L1745.6 355.5 L1746.4 359.5 L1748.2 365.9 L1749.6 371.5 L1751.5 376.2 L1753.0 380.7 L1751.6 386.5 L1751.3 393.0 L1749.3 398.1 L1755.8 395.4 L1759.7 395.8 L1765.6 397.4 L1769.9 398.3 L1774.5 400.3 L1780.0 400.3 L1785.0 404.0 L1787.9 408.7 L1790.9 413.4 L1799.7 411.2 L1805.5 406.5 L1808.9 399.7 L1808.4 393.7 L1816.4 391.1 L1821.5 388.5 L1825.9 391.5 L1833.3 395.9 L1836.9 401.5 L1837.8 405.7 L1836.0 413.4 L1839.5 416.4 L1841.1 421.5 L1845.6 426.5 L1840.3 433.1 L1845.2 433.7 L1852.0 435.6 L1856.1 437.0 L1863.1 435.3 L1871.8 430.9 L1878.3 429.6 L1883.4 430.0 L1886.5 432.5 L1891.5 435.2 L1898.1 435.3 L1903.4 435.7 L1909.8 433.1 L1915.6 433.1 L1921.4 434.8 L1927.2 435.2 L1931.8 437.5 L1937.4 437.4 L1943.3 438.8 L1949.3 441.4 L1952.8 444.0 L1952.9 437.1 L1957.1 430.9 L1963.7 426.8 L1970.3 426.5 L1970.6 421.4 L1975.6 416.8 L1980.1 413.9 L1980.3 409.0 L1984.5 402.1 L1989.9 398.1 L1987.5 394.4 L1981.2 391.5 L1974.0 389.5 L1970.5 390.1 L1963.7 391.5 L1963.9 387.1 L1961.5 380.6 L1957.8 377.1 L1953.2 374.9 L1950.6 369.6 L1953.3 364.7 L1952.8 358.7 L1950.2 354.0 L1946.6 350.6 L1942.7 345.6 L1937.2 347.0 L1928.7 347.8 L1924.8 340.0 L1922.1 334.6 L1925.6 329.6 L1930.0 326.2 L1932.7 323.1 L1934.3 317.1 L1938.0 312.9 L1943.1 310.4 L1944.9 307.0 L1947.1 301.6 L1949.7 297.5 L1947.7 291.5 L1946.1 287.1 L1945.0 281.8 L1944.0 277.8 L1938.9 274.0 L1936.8 269.9 L1935.3 262.5 L1936.7 256.9 L1939.0 253.1 L1942.7 249.3 L1938.9 244.9 L1937.4 236.2 L1938.6 230.5 L1941.8 225.3 L1937.4 218.7 L1933.1 223.8 L1928.7 225.3 L1923.6 226.6 L1918.3 226.5 L1913.4 226.6 L1909.8 222.4 L1909.1 218.0 L1904.6 214.3 L1899.5 215.3 L1893.7 220.9 L1889.0 219.6 L1882.4 221.4 L1876.2 220.0 L1869.6 215.7 L1863.5 219.4 L1861.5 222.1 L1856.5 225.7 L1850.0 227.5 L1845.6 236.2 L1844.6 229.2 L1841.2 224.0 L1836.4 223.1 L1830.9 219.5 L1825.9 218.7 L1819.3 219.4 L1811.5 218.3 L1806.2 216.5 L1802.9 213.1 L1797.5 209.1 L1792.1 209.6 L1787.0 206.6 L1780.8 204.5Z" fill="#f7fbff" stroke="#f7fbff" stroke-width="1"/>
<path d="M2086.2 129.9 L2080.2 132.3 L2076.3 134.8 L2073.8 137.2 L2068.2 141.4 L2064.5 144.9 L2060.2 148.3 L2055.5 149.4 L2050.3 149.5 L2045.5 153.1 L2041.9 147.2 L2040.9 142.2 L2041.3 136.1 L2042.4 129.8 L2044.1 125.9 L2043.0 118.9 L2041.1 113.7 L2031.5 114.6 L2028.9 120.6 L2027.1 124.7 L2020.6 124.8 L2016.2 126.9 L2009.7 123.7 L2005.0 122.9 L1998.7 121.6 L1996.5 128.0 L1992.1 131.2 L1994.2 136.1 L1999.3 140.6 L2003.1 146.5 L1997.2 148.2 L1993.4 150.4 L1988.3 155.0 L1983.3 157.3 L1976.8 157.5 L1970.3 150.9 L1968.0 145.8 L1967.4 140.1 L1966.2 135.6 L1965.9 131.2 L1961.2 129.9 L1954.9 130.4 L1949.9 132.8 L1944.0 131.2 L1939.3 126.5 L1937.4 120.3 L1933.7 115.4 L1933.2 111.3 L1931.7 106.9 L1926.6 101.6 L1924.3 98.4 L1919.7 93.7 L1913.4 89.7 L1906.8 91.6 L1902.8 90.4 L1897.2 90.2 L1891.5 94.1 L1886.8 91.1 L1878.4 89.7 L1876.4 82.4 L1871.8 77.9 L1866.2 80.1 L1859.4 79.1 L1854.3 76.5 L1849.1 73.5 L1845.1 78.2 L1841.8 85.3 L1839.0 89.7 L1832.4 91.9 L1827.6 92.3 L1820.6 95.3 L1815.0 95.4 L1810.4 91.7 L1806.3 88.4 L1801.5 84.6 L1799.4 82.6 L1793.3 80.1 L1787.7 79.9 L1781.7 76.0 L1780.0 70.9 L1774.1 73.5 L1772.1 78.7 L1770.6 85.0 L1771.6 90.2 L1771.2 98.3 L1767.7 102.8 L1766.2 110.2 L1765.4 115.7 L1767.0 122.3 L1771.2 126.9 L1768.1 130.4 L1763.2 137.5 L1762.5 142.2 L1760.0 148.8 L1760.6 156.9 L1760.3 161.9 L1763.2 168.3 L1763.1 172.9 L1763.7 178.7 L1767.7 183.7 L1768.5 189.2 L1770.9 193.7 L1773.3 201.3 L1775.6 205.6 L1780.8 204.5 L1787.0 206.6 L1792.1 209.6 L1797.5 209.1 L1802.9 213.1 L1806.2 216.5 L1811.5 218.3 L1819.3 219.4 L1825.9 218.7 L1830.9 219.5 L1836.4 223.1 L1841.2 224.0 L1844.6 229.2 L1845.6 236.2 L1850.0 227.5 L1856.5 225.7 L1861.5 222.1 L1863.5 219.4 L1869.6 215.7 L1876.2 220.0 L1882.4 221.4 L1889.0 219.6 L1893.7 220.9 L1899.5 215.3 L1904.6 214.3 L1909.1 218.0 L1909.8 222.4 L1913.4 226.6 L1918.3 226.5 L1923.6 226.6 L1928.7 225.3 L1933.1 223.8 L1937.4 218.7 L1941.8 225.3 L1938.6 230.5 L1937.4 236.2 L1938.9 244.9 L1942.7 249.3 L1939.0 253.1 L1936.7 256.9 L1935.3 262.5 L1936.8 269.9 L1938.9 274.0 L1944.0 277.8 L1945.0 281.8 L1946.1 287.1 L1947.7 291.5 L1949.7 297.5 L1955.5 296.4 L1959.4 291.3 L1962.1 288.5 L1968.1 288.7 L1971.5 285.1 L1977.7 280.5 L1983.4 277.8 L1987.8 278.6 L1994.4 275.3 L1998.0 272.4 L2003.1 271.2 L2005.1 265.6 L2007.4 261.6 L2012.5 263.3 L2018.4 260.3 L2024.0 264.5 L2027.1 266.6 L2033.7 270.3 L2039.4 267.9 L2041.7 265.5 L2043.8 259.7 L2047.2 254.0 L2052.0 250.5 L2056.4 249.3 L2054.8 245.3 L2054.8 238.6 L2055.6 234.7 L2057.3 228.5 L2057.2 224.0 L2056.4 218.7 L2064.3 217.9 L2068.7 220.9 L2073.2 221.3 L2079.2 219.9 L2084.0 220.0 L2081.3 225.9 L2081.8 231.0 L2090.6 231.0 L2096.6 228.9 L2100.3 225.5 L2104.5 223.1 L2101.4 217.0 L2099.9 212.0 L2100.3 206.3 L2101.4 200.7 L2102.2 196.3 L2102.8 190.3 L2107.6 193.6 L2112.4 199.0 L2120.1 201.2 L2125.5 200.6 L2132.1 202.1 L2138.4 207.6 L2143.9 210.8 L2146.5 202.1 L2139.9 196.9 L2136.5 191.6 L2134.3 182.9 L2130.3 180.4 L2124.1 181.2 L2118.6 182.2 L2112.4 181.5 L2110.3 176.6 L2108.0 172.2 L2107.2 167.1 L2100.9 164.7 L2096.3 164.3 L2090.6 159.7 L2088.7 152.6 L2089.7 146.6 L2091.3 142.9 L2088.4 135.6Z" fill="#f7fbff" stroke="#f7fbff" stroke-width="1"/>
<path d="M2215.2 98.4 L2208.1 99.5 L2202.9 98.9 L2197.3 97.3 L2191.6 94.8 L2188.9 92.0 L2182.4 89.7 L2175.6 93.2 L2171.6 96.9 L2166.2 98.8 L2160.5 100.6 L2153.4 98.5 L2148.9 99.0 L2143.0 96.2 L2138.7 98.4 L2133.4 103.3 L2128.4 107.1 L2125.1 108.2 L2121.2 113.7 L2116.9 117.8 L2116.1 121.8 L2111.3 125.8 L2105.9 126.9 L2100.1 128.7 L2094.0 130.1 L2086.2 129.9 L2088.4 135.6 L2091.3 142.9 L2089.7 146.6 L2088.7 152.6 L2090.6 159.7 L2096.3 164.3 L2100.9 164.7 L2107.2 167.1 L2108.0 172.2 L2110.3 176.6 L2112.4 181.5 L2118.6 182.2 L2124.1 181.2 L2130.3 180.4 L2134.3 182.9 L2136.5 191.6 L2139.9 196.9 L2146.5 202.1 L2143.9 210.8 L2138.4 207.6 L2132.1 202.1 L2125.5 200.6 L2120.1 201.2 L2112.4 199.0 L2107.6 193.6 L2102.8 190.3 L2102.2 196.3 L2101.4 200.7 L2100.3 206.3 L2099.9 212.0 L2101.4 217.0 L2104.5 223.1 L2100.3 225.5 L2096.6 228.9 L2090.6 231.0 L2081.8 231.0 L2081.3 225.9 L2084.0 220.0 L2079.2 219.9 L2073.2 221.3 L2068.7 220.9 L2064.3 217.9 L2056.4 218.7 L2057.2 224.0 L2057.3 228.5 L2055.6 234.7 L2054.8 238.6 L2054.8 245.3 L2056.4 249.3 L2052.0 250.5 L2047.2 254.0 L2043.8 259.7 L2041.7 265.5 L2039.4 267.9 L2033.7 270.3 L2027.1 266.6 L2024.0 264.5 L2018.4 260.3 L2012.5 263.3 L2007.4 261.6 L2005.1 265.6 L2003.1 271.2 L1998.0 272.4 L1994.4 275.3 L1987.8 278.6 L1983.4 277.8 L1977.7 280.5 L1971.5 285.1 L1968.1 288.7 L1962.1 288.5 L1959.4 291.3 L1955.5 296.4 L1949.7 297.5 L1947.1 301.6 L1944.9 307.0 L1943.1 310.4 L1938.0 312.9 L1934.3 317.1 L1932.7 323.1 L1930.0 326.2 L1925.6 329.6 L1922.1 334.6 L1924.8 340.0 L1928.7 347.8 L1937.2 347.0 L1942.7 345.6 L1946.6 350.6 L1950.2 354.0 L1952.8 358.7 L1953.3 364.7 L1950.6 369.6 L1953.2 374.9 L1957.8 377.1 L1961.5 380.6 L1963.9 387.1 L1963.7 391.5 L1970.5 390.1 L1974.0 389.5 L1981.2 391.5 L1987.5 394.4 L1989.9 398.1 L1984.5 402.1 L1980.3 409.0 L1986.0 411.2 L1991.5 412.2 L1994.3 415.6 L1995.6 420.5 L1998.3 425.3 L1998.7 430.9 L2002.9 433.2 L2007.8 437.0 L2009.6 441.8 L2012.0 435.7 L2012.7 428.7 L2017.7 426.2 L2024.9 424.3 L2028.9 428.1 L2033.5 429.8 L2039.4 431.2 L2044.6 430.9 L2049.0 428.7 L2052.7 423.1 L2052.8 418.2 L2051.7 410.0 L2052.1 404.6 L2056.7 401.5 L2059.4 396.9 L2061.6 389.5 L2064.3 385.0 L2071.3 384.0 L2076.6 382.8 L2078.0 375.0 L2081.8 369.6 L2087.5 366.2 L2094.1 367.5 L2101.3 365.2 L2108.0 362.2 L2110.5 367.0 L2111.5 375.3 L2118.3 376.5 L2123.4 381.5 L2127.0 386.1 L2132.1 390.2 L2138.1 388.8 L2141.6 387.4 L2146.5 387.5 L2151.8 385.0 L2152.1 380.0 L2155.3 374.0 L2162.7 367.5 L2165.8 364.4 L2170.0 360.5 L2173.7 354.3 L2170.2 347.8 L2169.7 341.2 L2169.8 337.3 L2170.6 330.3 L2174.4 324.0 L2180.2 319.3 L2185.1 318.6 L2190.7 315.9 L2193.4 311.5 L2194.9 305.1 L2193.4 298.3 L2200.4 295.7 L2205.2 292.0 L2210.8 288.7 L2216.1 281.7 L2221.8 280.0 L2222.9 275.5 L2223.2 269.2 L2222.8 261.9 L2224.2 256.5 L2227.0 252.8 L2222.9 249.2 L2221.6 245.0 L2218.2 242.0 L2213.0 238.4 L2209.7 230.6 L2210.8 224.0 L2213.9 219.8 L2217.5 216.7 L2222.1 212.4 L2226.2 210.0 L2229.2 205.2 L2230.8 198.7 L2232.7 191.6 L2227.6 193.6 L2223.0 193.6 L2217.4 190.3 L2215.2 182.9 L2211.5 178.3 L2206.5 171.5 L2199.3 170.3 L2193.4 171.5 L2188.8 165.3 L2184.6 159.7 L2191.2 152.2 L2195.1 148.9 L2201.7 147.7 L2207.8 146.5 L2207.4 140.4 L2207.1 135.9 L2209.5 131.2 L2213.1 125.6 L2215.2 118.1 L2214.9 111.3 L2213.6 105.4Z" fill="#f7fbff" stroke="#f7fbff" stroke-width="1"/>
<path d="M2385.8 85.3 L2383.1 81.7 L2378.0 76.6 L2374.1 74.7 L2368.3 73.5 L2364.0 69.6 L2359.0 67.4 L2355.8 65.5 L2351.2 60.1 L2349.2 56.6 L2346.5 51.6 L2343.0 48.9 L2335.9 48.0 L2331.3 46.5 L2326.6 43.8 L2322.4 44.6 L2317.7 50.6 L2313.7 54.9 L2312.4 58.5 L2309.3 65.6 L2310.9 70.0 L2314.9 75.1 L2317.1 78.7 L2312.8 83.2 L2307.9 85.7 L2302.7 87.5 L2298.8 93.0 L2297.0 97.3 L2294.0 101.5 L2287.4 94.1 L2283.0 92.8 L2278.9 90.1 L2273.5 89.0 L2267.7 89.7 L2263.1 95.5 L2262.8 99.9 L2259.0 105.0 L2252.4 109.4 L2247.6 115.1 L2245.8 122.5 L2242.3 119.7 L2239.3 114.6 L2232.7 110.9 L2227.1 111.5 L2220.9 108.5 L2216.7 104.3 L2215.2 98.4 L2213.6 105.4 L2214.9 111.3 L2215.2 118.1 L2213.1 125.6 L2209.5 131.2 L2207.1 135.9 L2207.4 140.4 L2207.8 146.5 L2201.7 147.7 L2195.1 148.9 L2191.2 152.2 L2184.6 159.7 L2188.8 165.3 L2193.4 171.5 L2199.3 170.3 L2206.5 171.5 L2211.5 178.3 L2215.2 182.9 L2217.4 190.3 L2223.0 193.6 L2227.6 193.6 L2232.7 191.6 L2230.8 198.7 L2229.2 205.2 L2226.2 210.0 L2222.1 212.4 L2217.5 216.7 L2213.9 219.8 L2210.8 224.0 L2209.7 230.6 L2213.0 238.4 L2218.2 242.0 L2221.6 245.0 L2222.9 249.2 L2227.0 252.8 L2224.2 256.5 L2222.8 261.9 L2223.2 269.2 L2222.9 275.5 L2221.8 280.0 L2216.1 281.7 L2210.8 288.7 L2217.4 292.1 L2221.8 296.3 L2228.3 297.5 L2232.5 299.9 L2239.7 299.4 L2242.8 299.2 L2248.9 299.7 L2254.3 303.1 L2258.2 307.5 L2263.3 308.4 L2268.6 306.7 L2277.1 306.8 L2283.0 306.2 L2287.4 311.5 L2286.5 315.9 L2283.0 321.5 L2287.4 329.0 L2292.6 328.7 L2298.7 327.4 L2303.9 328.2 L2309.3 329.0 L2313.0 334.9 L2320.2 337.7 L2324.2 340.8 L2329.2 341.1 L2335.5 341.2 L2334.9 346.0 L2335.4 351.7 L2335.5 357.8 L2342.1 364.0 L2346.4 368.1 L2350.1 371.4 L2354.0 375.3 L2360.1 379.6 L2366.1 380.6 L2368.0 376.1 L2366.9 369.1 L2365.1 364.7 L2365.2 360.3 L2365.5 354.1 L2364.0 350.0 L2365.2 345.7 L2366.8 341.3 L2370.4 335.0 L2373.1 331.6 L2372.7 325.9 L2373.5 319.8 L2374.4 316.9 L2374.8 309.9 L2377.1 306.2 L2376.6 301.3 L2377.6 295.6 L2374.9 289.8 L2371.9 285.2 L2372.7 281.0 L2370.5 275.6 L2376.5 276.0 L2382.1 275.4 L2388.0 271.2 L2388.9 263.8 L2389.2 259.7 L2388.0 251.5 L2392.1 252.1 L2397.4 250.6 L2403.7 248.6 L2408.7 248.0 L2412.4 247.5 L2417.6 245.4 L2423.0 245.0 L2430.0 241.7 L2435.5 239.1 L2439.1 234.6 L2438.8 230.0 L2441.6 223.3 L2440.8 218.6 L2440.3 211.6 L2442.1 207.1 L2441.9 201.2 L2442.7 196.9 L2443.3 189.9 L2441.4 186.0 L2439.7 179.4 L2440.5 172.8 L2438.5 167.3 L2436.1 162.7 L2430.4 159.7 L2426.5 159.7 L2422.1 160.5 L2415.6 160.4 L2411.5 160.6 L2404.8 162.4 L2401.5 161.6 L2396.2 158.8 L2390.2 159.7 L2383.4 154.7 L2381.5 148.7 L2382.5 144.6 L2382.9 138.2 L2383.6 133.0 L2382.4 128.7 L2379.3 122.5 L2375.1 118.7 L2372.2 113.4 L2370.9 108.7 L2370.5 104.1 L2375.9 99.6 L2378.5 94.8 L2381.8 88.7Z" fill="#f7fbff" stroke="#f7fbff" stroke-width="1"/>
<path d="M2385.8 85.3 L2381.8 88.7 L2378.5 94.8 L2375.9 99.6 L2370.5 104.1 L2370.9 108.7 L2372.2 113.4 L2375.1 118.7 L2379.3 122.5 L2382.4 128.7 L2383.6 133.0 L2382.9 138.2 L2382.5 144.6 L2381.5 148.7 L2383.4 154.7 L2390.2 159.7 L2396.2 158.8 L2401.5 161.6 L2404.8 162.4 L2411.5 160.6 L2415.6 160.4 L2422.1 160.5 L2426.5 159.7 L2430.4 159.7 L2436.1 162.7 L2438.5 167.3 L2440.5 172.8 L2439.7 179.4 L2441.4 186.0 L2443.3 189.9 L2442.7 196.9 L2441.9 201.2 L2442.1 207.1 L2440.3 211.6 L2440.8 218.6 L2441.6 223.3 L2438.8 230.0 L2439.1 234.6 L2444.0 232.3 L2449.4 228.6 L2456.9 227.5 L2462.6 224.5 L2466.4 225.0 L2467.5 224.4 L2472.3 223.3 L2475.5 218.7 L2475.9 219.6 L2476.6 218.7 L2478.6 222.8 L2481.4 227.1 L2483.5 228.8 L2487.7 231.3 L2492.3 230.3 L2495.1 230.4 L2501.9 234.1 L2502.2 234.3 L2507.4 233.5 L2511.5 236.2 L2510.1 229.5 L2511.6 226.7 L2513.7 220.9 L2518.7 218.3 L2522.5 212.2 L2527.8 207.8 L2531.6 207.4 L2537.5 207.3 L2542.2 205.6 L2546.0 201.2 L2549.2 198.0 L2551.6 191.7 L2553.1 185.9 L2558.0 183.8 L2564.6 183.6 L2569.5 182.5 L2574.9 180.2 L2579.4 179.4 L2580.5 173.0 L2579.4 167.6 L2575.0 164.0 L2580.7 165.6 L2585.2 165.2 L2590.3 168.4 L2592.6 162.7 L2594.7 157.5 L2599.0 150.9 L2602.1 146.0 L2605.6 140.0 L2609.9 133.6 L2612.1 127.6 L2614.3 122.5 L2614.9 118.0 L2614.6 113.3 L2612.2 107.2 L2618.0 105.3 L2624.0 104.1 L2618.8 100.6 L2615.6 99.2 L2610.0 98.4 L2604.1 99.4 L2599.6 99.0 L2594.8 98.2 L2588.1 96.2 L2581.5 92.9 L2575.0 91.9 L2570.5 86.6 L2566.8 85.4 L2561.9 80.9 L2557.3 79.8 L2551.2 79.6 L2545.8 78.7 L2541.7 79.8 L2536.4 80.7 L2531.1 80.1 L2525.4 80.4 L2520.3 78.7 L2520.1 74.2 L2515.9 69.1 L2511.3 69.1 L2504.9 69.0 L2501.0 67.5 L2497.1 65.7 L2490.5 64.6 L2486.8 62.9 L2480.8 61.4 L2476.9 62.3 L2470.3 62.3 L2465.9 60.6 L2461.9 59.7 L2455.2 59.4 L2451.9 59.4 L2445.9 61.2 L2447.3 68.2 L2446.5 72.8 L2443.7 78.7 L2438.1 78.8 L2432.7 81.0 L2428.4 83.1 L2423.5 79.4 L2421.2 77.5 L2418.0 72.7 L2413.1 70.0 L2409.6 65.5 L2408.7 59.1 L2403.7 64.3 L2397.8 67.8 L2392.4 71.6 L2391.3 74.9 L2388.7 81.9Z" fill="url(#dots)"/>
<path d="M2314.5 540.2 L2313.6 534.8 L2308.4 531.5 L2306.4 525.9 L2305.5 522.5 L2307.1 516.2 L2309.4 511.0 L2314.7 505.7 L2318.9 503.1 L2317.1 494.3 L2315.0 490.4 L2309.5 486.5 L2305.9 482.7 L2302.3 478.5 L2298.3 474.6 L2302.5 471.3 L2304.9 463.7 L2302.0 457.1 L2300.5 450.6 L2303.9 446.7 L2309.0 445.0 L2313.6 439.6 L2317.1 435.6 L2322.7 434.3 L2328.2 432.0 L2331.1 430.1 L2335.0 426.2 L2339.9 422.1 L2344.8 420.1 L2349.4 417.0 L2353.4 415.1 L2360.6 412.6 L2364.0 410.5 L2368.3 406.8 L2367.6 401.0 L2369.3 395.2 L2372.7 389.3 L2367.5 385.8 L2366.1 380.6 L2360.1 379.6 L2354.0 375.3 L2350.1 371.4 L2346.4 368.1 L2342.1 364.0 L2335.5 357.8 L2335.4 351.7 L2334.9 346.0 L2335.5 341.2 L2329.2 341.1 L2324.2 340.8 L2320.2 337.7 L2313.0 334.9 L2309.3 329.0 L2303.9 328.2 L2298.7 327.4 L2292.6 328.7 L2287.4 329.0 L2283.0 321.5 L2286.5 315.9 L2287.4 311.5 L2283.0 306.2 L2277.1 306.8 L2268.6 306.7 L2263.3 308.4 L2258.2 307.5 L2254.3 303.1 L2248.9 299.7 L2242.8 299.2 L2239.7 299.4 L2232.5 299.9 L2228.3 297.5 L2221.8 296.3 L2217.4 292.1 L2210.8 288.7 L2205.2 292.0 L2200.4 295.7 L2193.4 298.3 L2194.9 305.1 L2193.4 311.5 L2190.7 315.9 L2185.1 318.6 L2180.2 319.3 L2174.4 324.0 L2170.6 330.3 L2169.8 337.3 L2169.7 341.2 L2170.2 347.8 L2173.7 354.3 L2170.0 360.5 L2165.8 364.4 L2162.7 367.5 L2155.3 374.0 L2152.1 380.0 L2151.8 385.0 L2146.5 387.5 L2141.6 387.4 L2138.1 388.8 L2132.1 390.2 L2127.0 386.1 L2123.4 381.5 L2118.3 376.5 L2111.5 375.3 L2110.5 367.0 L2108.0 362.2 L2101.3 365.2 L2094.1 367.5 L2087.5 366.2 L2081.8 369.6 L2078.0 375.0 L2076.6 382.8 L2071.3 384.0 L2064.3 385.0 L2061.6 389.5 L2059.4 396.9 L2056.7 401.5 L2052.1 404.6 L2051.7 410.0 L2052.8 418.2 L2052.7 423.1 L2049.0 428.7 L2053.0 434.1 L2055.6 437.4 L2057.9 444.8 L2056.9 450.3 L2053.4 454.9 L2056.4 461.5 L2049.0 465.9 L2051.1 473.5 L2052.1 479.0 L2055.7 482.7 L2057.5 487.7 L2060.3 493.0 L2063.6 495.8 L2067.9 499.6 L2073.1 503.1 L2076.6 508.4 L2079.0 511.4 L2084.0 516.2 L2087.9 512.4 L2094.0 510.8 L2101.5 511.8 L2106.0 513.6 L2112.4 512.7 L2116.8 520.6 L2112.4 527.1 L2115.8 533.5 L2119.8 537.2 L2123.4 542.4 L2122.2 547.8 L2120.3 555.6 L2113.3 554.8 L2107.5 556.9 L2102.8 557.1 L2097.1 554.7 L2100.5 559.2 L2105.3 561.6 L2111.8 563.9 L2117.1 565.6 L2120.5 568.7 L2124.7 571.6 L2129.9 573.1 L2132.2 577.7 L2138.1 582.3 L2142.7 583.7 L2148.8 586.2 L2151.8 590.6 L2153.6 597.1 L2155.3 600.1 L2158.3 605.0 L2160.1 609.2 L2164.7 614.7 L2169.3 616.8 L2172.4 622.7 L2176.7 624.5 L2181.0 629.1 L2182.4 634.3 L2180.2 643.0 L2185.5 648.7 L2191.2 651.8 L2194.3 657.7 L2196.7 660.7 L2198.7 667.2 L2200.8 671.5 L2199.9 678.0 L2203.8 673.7 L2206.9 670.0 L2212.7 665.6 L2215.2 660.5 L2214.2 652.5 L2217.4 647.4 L2213.4 642.5 L2209.0 640.2 L2202.1 638.7 L2199.0 629.9 L2201.6 625.8 L2206.7 619.7 L2210.8 616.8 L2214.7 614.2 L2220.5 612.3 L2226.1 612.3 L2232.5 611.0 L2237.9 607.9 L2243.7 607.2 L2249.5 606.8 L2254.6 605.9 L2249.4 603.8 L2246.1 597.2 L2244.3 594.1 L2237.1 592.7 L2235.4 587.9 L2236.2 579.1 L2235.8 573.1 L2236.6 567.1 L2239.8 562.8 L2239.3 557.7 L2243.8 559.1 L2249.9 556.2 L2254.1 554.1 L2259.5 554.4 L2265.5 553.4 L2270.3 550.6 L2274.6 547.4 L2278.9 543.3 L2283.0 542.4 L2289.3 546.1 L2293.0 547.5 L2300.4 548.4 L2305.6 548.2 L2311.5 546.8Z" fill="#f7fbff" stroke="#f7fbff" stroke-width="1"/>
<path d="M2243.7 667.1 L2246.3 662.6 L2251.7 660.9 L2257.9 660.4 L2262.8 659.5 L2266.8 656.1 L2270.8 651.8 L2267.6 646.6 L2263.7 643.9 L2259.9 640.1 L2259.0 634.3 L2258.6 629.6 L2259.9 622.6 L2258.4 617.9 L2254.4 612.2 L2254.6 605.9 L2249.5 606.8 L2243.7 607.2 L2237.9 607.9 L2232.5 611.0 L2226.1 612.3 L2220.5 612.3 L2214.7 614.2 L2210.8 616.8 L2206.7 619.7 L2201.6 625.8 L2199.0 629.9 L2202.1 638.7 L2209.0 640.2 L2213.4 642.5 L2217.4 647.4 L2214.2 652.5 L2215.2 660.5 L2212.7 665.6 L2206.9 670.0 L2203.8 673.7 L2199.9 678.0 L2206.0 678.5 L2209.0 676.6 L2212.9 672.5 L2218.7 669.3 L2223.9 667.9 L2229.2 667.8 L2234.9 668.0 L2238.4 667.7Z" fill="#f7fbff" stroke="#f7fbff" stroke-width="1"/>
<path d="M2184.5 711.4 L2182.4 707.0 L2183.8 702.3 L2186.5 695.5 L2184.6 691.2 L2188.7 689.4 L2192.9 686.4 L2196.4 681.5 L2199.9 678.0 L2200.8 671.5 L2198.7 667.2 L2196.7 660.7 L2194.3 657.7 L2191.2 651.8 L2185.5 648.7 L2180.2 643.0 L2182.4 634.3 L2181.0 629.1 L2176.7 624.5 L2172.4 622.7 L2169.3 616.8 L2164.7 614.7 L2160.1 609.2 L2158.3 605.0 L2155.3 600.1 L2153.6 597.1 L2151.8 590.6 L2148.8 586.2 L2142.7 583.7 L2138.1 582.3 L2132.2 577.7 L2129.9 573.1 L2124.7 571.6 L2120.5 568.7 L2117.1 565.6 L2111.8 563.9 L2105.3 561.6 L2100.5 559.2 L2097.1 554.7 L2093.0 550.2 L2086.2 544.6 L2081.0 545.9 L2073.1 549.0 L2069.3 554.9 L2064.3 556.4 L2058.1 553.8 L2053.3 554.6 L2048.5 556.4 L2042.4 554.7 L2035.7 559.7 L2031.5 564.3 L2029.2 570.9 L2025.5 576.0 L2022.7 581.8 L2030.3 582.6 L2033.6 584.7 L2038.3 588.4 L2044.6 590.6 L2043.3 595.7 L2044.6 601.5 L2040.8 603.8 L2035.3 606.1 L2029.8 608.5 L2024.9 608.0 L2019.9 609.4 L2014.5 611.9 L2007.4 615.1 L2003.1 619.0 L1999.7 626.4 L1994.3 629.9 L1991.7 634.6 L1992.1 640.9 L1986.7 641.8 L1981.2 643.0 L1981.6 648.7 L1983.1 657.5 L1978.0 659.0 L1972.9 664.8 L1969.9 668.4 L1973.2 674.8 L1972.1 679.4 L1976.4 682.0 L1980.3 684.4 L1983.8 688.8 L1987.4 692.5 L1989.9 696.1 L1996.1 699.0 L2001.5 701.5 L2004.9 705.6 L2011.3 705.9 L2016.1 704.2 L2020.3 703.4 L2027.5 704.3 L2033.4 707.8 L2037.4 712.3 L2037.8 718.7 L2043.1 715.9 L2047.5 712.9 L2053.6 706.6 L2057.4 703.4 L2063.7 701.0 L2065.9 699.2 L2070.6 694.7 L2075.8 698.1 L2077.1 702.0 L2081.5 705.6 L2078.5 711.0 L2078.2 716.5 L2081.5 720.9 L2073.7 723.0 L2068.4 725.3 L2073.3 728.4 L2079.3 734.0 L2081.1 739.7 L2081.5 745.2 L2084.1 749.1 L2086.9 752.0 L2088.1 758.1 L2095.1 760.0 L2099.0 764.7 L2103.4 767.2 L2110.2 768.7 L2114.3 769.0 L2117.8 774.3 L2123.1 780.0 L2129.0 779.8 L2134.9 780.3 L2140.6 782.2 L2145.0 782.0 L2152.2 782.5 L2156.8 784.2 L2160.2 788.7 L2157.6 784.8 L2155.4 779.6 L2155.9 775.3 L2155.9 769.0 L2158.9 764.4 L2162.6 760.0 L2166.8 758.1 L2169.2 754.0 L2175.3 751.2 L2179.9 749.3 L2182.3 743.0 L2180.5 737.8 L2178.1 733.2 L2179.0 727.5 L2183.1 721.5 L2182.8 717.9Z" fill="#f7fbff" stroke="#f7fbff" stroke-width="1"/>
<path d="M2594.7 157.5 L2592.6 162.7 L2590.3 168.4 L2585.2 165.2 L2580.7 165.6 L2575.0 164.0 L2579.4 167.6 L2580.5 173.0 L2579.4 179.4 L2574.9 180.2 L2569.5 182.5 L2564.6 183.6 L2558.0 183.8 L2553.1 185.9 L2551.6 191.7 L2549.2 198.0 L2546.0 201.2 L2542.2 205.6 L2537.5 207.3 L2531.6 207.4 L2527.8 207.8 L2522.5 212.2 L2518.7 218.3 L2513.7 220.9 L2511.6 226.7 L2510.1 229.5 L2511.5 236.2 L2516.5 235.0 L2524.1 235.5 L2531.2 234.0 L2537.4 236.6 L2542.5 241.2 L2544.4 247.2 L2550.4 248.8 L2554.5 252.8 L2561.9 254.6 L2565.9 250.7 L2571.7 247.0 L2576.8 245.3 L2582.1 243.9 L2586.6 243.4 L2592.5 239.7 L2597.0 237.9 L2601.0 232.5 L2606.9 226.7 L2612.2 225.3 L2614.3 220.7 L2620.5 217.7 L2625.8 218.5 L2630.2 216.2 L2632.6 212.8 L2639.5 210.3 L2642.9 209.1 L2647.2 205.6 L2648.2 200.6 L2648.7 195.4 L2648.5 190.3 L2653.4 189.7 L2658.0 186.9 L2662.5 184.6 L2667.4 183.7 L2673.4 181.5 L2680.0 183.8 L2683.8 186.4 L2686.5 191.2 L2688.5 186.7 L2694.0 182.9 L2696.7 177.7 L2700.1 175.2 L2701.8 168.4 L2706.2 165.4 L2702.4 161.8 L2698.5 159.9 L2695.3 154.0 L2689.5 150.2 L2682.6 147.4 L2677.8 144.4 L2673.0 141.8 L2666.4 141.8 L2662.3 141.4 L2657.2 139.1 L2651.5 144.4 L2644.8 146.3 L2638.8 146.2 L2633.6 146.5 L2627.8 147.7 L2623.1 148.7 L2617.7 149.3 L2610.6 150.5 L2606.9 153.3 L2602.0 156.7Z" fill="url(#dots)"/>
<path d="M3028.2 538.9 L3024.0 539.8 L3017.3 536.9 L3013.7 536.1 L3007.2 537.2 L3013.6 534.8 L3018.1 531.8 L3023.1 529.1 L3026.4 524.9 L3030.4 521.0 L3031.6 515.2 L3031.1 510.1 L3032.2 504.1 L3035.2 499.6 L3041.8 499.1 L3045.3 499.9 L3052.1 500.3 L3056.1 498.9 L3061.2 498.2 L3067.1 498.8 L3072.1 497.5 L3077.2 495.2 L3077.2 489.8 L3074.1 484.4 L3070.7 482.0 L3067.1 477.7 L3061.8 473.0 L3056.8 470.9 L3052.8 471.2 L3047.2 469.9 L3042.2 467.2 L3034.3 468.0 L3027.7 467.2 L3024.0 462.0 L3020.0 459.3 L3017.1 454.9 L3014.1 449.3 L3010.7 445.7 L3006.2 443.1 L3002.2 441.3 L2997.1 437.4 L2992.9 440.9 L2987.8 445.1 L2985.0 446.7 L2978.7 448.6 L2973.1 450.6 L2969.7 446.2 L2965.7 441.8 L2961.0 438.5 L2958.3 435.2 L2956.1 430.9 L2951.2 426.5 L2950.3 420.2 L2947.0 415.7 L2943.3 412.6 L2939.8 409.3 L2935.9 405.5 L2933.1 399.6 L2932.8 395.0 L2929.3 389.3 L2925.5 382.6 L2924.9 377.1 L2920.8 374.9 L2912.8 372.5 L2909.6 370.2 L2903.1 366.6 L2896.8 368.9 L2892.1 374.0 L2890.1 379.2 L2891.8 386.7 L2890.8 393.7 L2887.8 385.8 L2882.2 382.5 L2877.5 381.7 L2872.5 382.4 L2868.5 384.9 L2862.5 386.4 L2857.1 384.1 L2851.9 381.4 L2844.5 382.5 L2838.5 382.8 L2833.3 379.7 L2828.7 377.1 L2828.1 382.0 L2831.8 387.8 L2834.7 393.8 L2834.6 400.1 L2837.4 404.6 L2831.9 408.4 L2830.9 413.4 L2830.8 420.1 L2833.4 425.7 L2839.6 430.9 L2834.9 436.9 L2830.9 441.8 L2823.2 442.2 L2820.2 443.3 L2813.2 448.3 L2809.0 450.6 L2805.0 453.1 L2798.5 456.3 L2793.4 457.6 L2787.0 458.2 L2780.6 459.3 L2779.1 463.1 L2776.5 468.6 L2771.8 472.4 L2766.1 474.3 L2761.1 476.4 L2756.5 476.8 L2751.1 476.3 L2745.4 473.4 L2741.2 471.6 L2735.6 478.0 L2730.3 479.0 L2723.9 482.6 L2717.7 483.0 L2710.6 481.2 L2705.3 484.5 L2703.3 486.9 L2699.6 493.4 L2697.3 498.2 L2695.3 500.9 L2691.9 504.3 L2688.7 509.6 L2683.3 510.1 L2679.0 509.4 L2672.6 507.4 L2667.7 507.4 L2664.5 511.6 L2662.5 518.4 L2656.5 517.4 L2648.8 517.8 L2645.2 519.9 L2638.4 520.6 L2632.1 524.5 L2627.7 529.7 L2623.1 531.5 L2625.3 536.8 L2630.4 540.5 L2635.3 544.6 L2636.1 548.7 L2636.3 554.0 L2635.0 559.9 L2640.4 557.8 L2645.9 558.7 L2649.2 561.1 L2656.0 560.0 L2661.8 557.1 L2666.5 556.5 L2670.9 559.1 L2675.0 561.4 L2681.0 563.1 L2686.2 565.6 L2680.9 568.1 L2673.1 572.2 L2674.2 577.1 L2673.1 583.1 L2680.4 583.9 L2686.2 587.8 L2690.6 591.9 L2692.8 597.1 L2693.8 602.1 L2696.4 607.0 L2698.9 613.8 L2700.9 619.3 L2702.8 623.4 L2702.1 628.0 L2699.5 633.1 L2698.7 637.2 L2695.8 642.2 L2701.4 640.9 L2706.1 642.2 L2712.1 644.5 L2717.0 645.5 L2723.4 646.5 L2724.9 640.9 L2730.0 636.5 L2729.3 643.5 L2731.6 648.5 L2736.5 650.9 L2742.4 651.1 L2749.7 646.5 L2750.5 652.3 L2753.3 655.3 L2755.0 660.0 L2754.0 666.2 L2753.9 671.2 L2756.1 677.3 L2759.4 681.8 L2762.8 688.1 L2758.4 696.9 L2758.8 703.3 L2761.9 707.4 L2764.1 712.3 L2765.0 716.5 L2760.6 719.9 L2756.8 722.7 L2754.2 727.3 L2749.7 729.7 L2745.0 734.1 L2742.4 738.0 L2738.1 743.4 L2736.3 747.9 L2732.2 753.7 L2728.7 758.6 L2727.5 764.3 L2725.6 769.9 L2721.2 775.6 L2713.8 777.8 L2710.5 783.0 L2711.6 788.7 L2712.6 794.6 L2717.2 799.2 L2722.1 801.8 L2727.4 802.4 L2731.5 807.4 L2733.6 812.4 L2737.8 815.9 L2742.6 819.5 L2746.5 822.7 L2750.2 826.3 L2753.4 830.6 L2755.9 832.1 L2762.4 836.1 L2765.0 839.0 L2771.5 832.5 L2774.1 836.6 L2778.8 841.9 L2783.3 845.6 L2783.5 851.1 L2781.6 856.5 L2780.1 863.3 L2778.8 868.6 L2776.0 872.2 L2772.8 878.4 L2773.2 884.5 L2775.7 891.1 L2779.7 894.8 L2783.4 898.0 L2784.6 904.6 L2777.9 905.2 L2771.5 909.0 L2772.3 915.5 L2771.1 920.4 L2770.8 926.4 L2769.3 933.1 L2775.8 937.2 L2782.5 939.6 L2787.3 938.8 L2793.2 941.6 L2800.0 941.8 L2804.8 944.9 L2808.2 946.2 L2813.1 950.6 L2820.9 953.0 L2824.0 957.1 L2828.6 955.9 L2835.0 955.4 L2841.5 952.8 L2846.1 948.5 L2851.3 945.5 L2856.8 946.2 L2859.8 940.0 L2863.4 935.3 L2855.2 937.0 L2850.3 939.6 L2850.1 934.9 L2851.4 929.3 L2849.0 924.3 L2843.9 920.8 L2841.5 913.4 L2845.9 910.0 L2851.1 906.6 L2856.6 900.2 L2861.2 898.1 L2863.6 891.2 L2863.7 886.5 L2866.6 881.8 L2872.1 877.1 L2877.4 877.5 L2883.2 875.0 L2887.4 874.0 L2889.9 870.7 L2895.9 869.6 L2902.1 865.9 L2904.2 861.9 L2909.3 859.6 L2915.7 857.6 L2920.1 857.7 L2924.6 860.9 L2920.3 855.0 L2915.9 850.0 L2919.7 845.7 L2923.3 842.1 L2925.4 837.3 L2932.2 832.8 L2936.6 830.5 L2942.1 825.9 L2944.2 820.8 L2948.9 816.0 L2954.4 811.4 L2958.4 807.6 L2959.6 801.8 L2967.9 800.0 L2972.7 797.5 L2974.9 792.9 L2976.2 786.2 L2974.9 780.0 L2968.4 773.4 L2966.7 767.4 L2967.1 761.8 L2964.7 757.8 L2962.6 751.7 L2964.0 745.0 L2964.2 738.5 L2966.2 731.8 L2971.9 731.4 L2976.5 728.5 L2979.7 725.3 L2984.6 720.9 L2986.6 724.9 L2989.0 729.3 L2991.4 733.3 L2994.6 738.4 L3003.4 739.7 L3002.9 735.0 L3003.7 730.3 L3000.9 725.5 L2998.2 719.9 L3000.3 714.3 L3004.4 709.6 L3005.1 702.8 L3002.1 696.9 L3008.2 696.5 L3012.2 694.8 L3016.6 690.9 L3020.5 688.4 L3026.6 688.1 L3025.6 681.9 L3023.1 675.0 L3018.6 671.0 L3017.2 665.1 L3018.0 658.9 L3018.0 654.6 L3015.1 650.0 L3012.1 644.4 L3013.1 640.4 L3017.3 634.3 L3018.4 630.1 L3018.7 626.4 L3020.9 621.2 L3022.2 615.9 L3018.8 611.0 L3018.1 606.0 L3020.9 600.6 L3014.5 601.2 L3010.5 598.0 L3004.4 597.1 L3000.3 598.4 L2995.0 590.6 L2994.6 584.7 L2996.6 579.2 L2997.5 573.8 L2996.6 570.3 L2995.8 564.3 L2999.7 563.3 L3007.5 564.3 L3010.3 564.3 L3015.8 562.7 L3021.0 561.8 L3026.4 559.9 L3024.0 555.6 L3023.7 549.7 L3024.9 544.0Z" fill="#73b2d8" stroke="#73b2d8" stroke-width="1"/>
<path d="M3028.2 538.9 L3024.9 544.0 L3023.7 549.7 L3024.0 555.6 L3026.4 559.9 L3021.0 561.8 L3015.8 562.7 L3010.3 564.3 L3007.5 564.3 L2999.7 563.3 L2995.8 564.3 L2996.6 570.3 L2997.5 573.8 L2996.6 579.2 L2994.6 584.7 L2995.0 590.6 L3000.3 598.4 L3004.4 597.1 L3010.5 598.0 L3014.5 601.2 L3020.9 600.6 L3018.1 606.0 L3018.8 611.0 L3022.2 615.9 L3020.9 621.2 L3018.7 626.4 L3018.4 630.1 L3017.3 634.3 L3013.1 640.4 L3012.1 644.4 L3015.1 650.0 L3018.0 654.6 L3018.0 658.9 L3017.2 665.1 L3018.6 671.0 L3023.1 675.0 L3025.6 681.9 L3026.6 688.1 L3020.5 688.4 L3016.6 690.9 L3012.2 694.8 L3008.2 696.5 L3002.1 696.9 L3005.1 702.8 L3004.4 709.6 L3000.3 714.3 L2998.2 719.9 L3000.9 725.5 L3003.7 730.3 L3002.9 735.0 L3003.4 739.7 L2994.6 738.4 L2991.4 733.3 L2989.0 729.3 L2986.6 724.9 L2984.6 720.9 L2979.7 725.3 L2976.5 728.5 L2971.9 731.4 L2966.2 731.8 L2964.2 738.5 L2964.0 745.0 L2962.6 751.7 L2964.7 757.8 L2967.1 761.8 L2966.7 767.4 L2968.4 773.4 L2974.9 780.0 L2976.2 786.2 L2974.9 792.9 L2972.7 797.5 L2967.9 800.0 L2959.6 801.8 L2958.4 807.6 L2954.4 811.4 L2948.9 816.0 L2944.2 820.8 L2942.1 825.9 L2936.6 830.5 L2932.2 832.8 L2925.4 837.3 L2923.3 842.1 L2919.7 845.7 L2915.9 850.0 L2920.3 855.0 L2924.6 860.9 L2920.1 857.7 L2915.7 857.6 L2909.3 859.6 L2904.2 861.9 L2902.1 865.9 L2895.9 869.6 L2889.9 870.7 L2887.4 874.0 L2883.2 875.0 L2877.4 877.5 L2872.1 877.1 L2866.6 881.8 L2863.7 886.5 L2863.6 891.2 L2861.2 898.1 L2856.6 900.2 L2851.1 906.6 L2845.9 910.0 L2841.5 913.4 L2843.9 920.8 L2849.0 924.3 L2851.4 929.3 L2850.1 934.9 L2850.3 939.6 L2855.2 937.0 L2863.4 935.3 L2867.0 930.0 L2868.9 923.7 L2872.1 919.1 L2880.9 919.9 L2881.4 926.2 L2883.1 930.9 L2882.3 938.7 L2880.9 944.0 L2884.9 941.2 L2891.1 935.3 L2895.6 933.4 L2900.6 930.9 L2905.4 933.3 L2910.2 934.7 L2914.2 936.9 L2918.4 941.8 L2921.8 945.1 L2926.8 946.2 L2930.8 944.8 L2935.5 938.9 L2939.4 935.2 L2944.3 933.9 L2950.1 936.2 L2953.5 937.0 L2960.4 936.9 L2965.3 938.1 L2968.0 940.1 L2972.2 943.0 L2976.7 945.5 L2982.5 947.3 L2987.3 950.2 L2992.4 950.6 L2997.8 951.5 L3003.9 952.5 L3007.7 954.9 L3012.5 952.2 L3016.9 951.7 L3021.6 948.6 L3025.3 944.9 L3029.6 941.8 L3031.8 950.6 L3035.0 955.0 L3039.6 956.1 L3044.5 958.6 L3047.4 962.9 L3050.3 968.6 L3053.3 972.2 L3057.1 976.1 L3061.7 979.9 L3066.8 981.2 L3071.1 979.0 L3074.9 975.0 L3077.8 968.3 L3080.3 964.1 L3086.5 961.5 L3090.5 956.6 L3093.9 951.1 L3097.4 946.2 L3101.6 940.8 L3106.0 939.2 L3110.5 935.6 L3114.9 932.4 L3117.9 929.8 L3121.5 924.3 L3116.8 918.1 L3116.0 914.0 L3110.5 909.0 L3107.2 903.4 L3099.6 900.3 L3101.1 895.6 L3099.5 890.4 L3097.4 885.0 L3102.9 880.5 L3106.2 876.2 L3104.8 872.0 L3105.9 866.8 L3108.4 860.9 L3104.5 864.5 L3097.4 867.5 L3092.3 869.9 L3084.2 868.6 L3079.9 865.3 L3077.4 861.4 L3075.5 855.2 L3072.0 851.3 L3064.1 850.0 L3058.9 851.1 L3053.7 850.0 L3055.9 841.2 L3049.0 839.3 L3046.2 836.9 L3040.7 835.0 L3034.0 832.5 L3035.7 827.4 L3035.3 820.7 L3031.8 817.1 L3028.8 809.6 L3027.9 805.5 L3023.1 799.7 L3027.0 796.0 L3032.7 791.4 L3035.8 790.2 L3042.9 786.0 L3046.7 783.7 L3051.5 780.0 L3055.9 776.9 L3061.9 775.3 L3069.0 773.4 L3066.9 768.6 L3064.2 764.4 L3062.1 759.1 L3059.2 755.9 L3056.4 749.7 L3058.0 745.0 L3057.2 740.3 L3055.4 733.9 L3051.5 729.7 L3056.8 728.8 L3060.5 723.8 L3061.4 718.9 L3064.6 714.3 L3070.7 715.3 L3077.7 712.2 L3084.2 715.0 L3086.1 718.8 L3088.0 724.5 L3092.2 727.5 L3095.3 724.4 L3099.8 719.7 L3103.1 715.6 L3106.1 709.6 L3108.4 705.6 L3112.7 702.8 L3116.9 698.1 L3119.0 694.3 L3123.7 692.5 L3122.6 686.3 L3124.2 681.2 L3127.6 679.0 L3130.1 673.5 L3131.0 666.9 L3130.2 662.7 L3134.1 666.5 L3141.9 668.4 L3147.7 666.2 L3155.2 669.5 L3158.7 675.0 L3159.7 680.7 L3163.2 684.4 L3165.9 690.2 L3166.6 694.2 L3168.3 699.4 L3169.6 705.6 L3174.2 710.2 L3178.8 710.0 L3182.9 704.1 L3187.4 702.1 L3194.1 701.6 L3199.3 698.8 L3204.9 695.5 L3209.1 689.5 L3213.6 684.6 L3207.9 682.8 L3204.5 679.4 L3202.1 673.6 L3200.5 669.3 L3196.8 667.0 L3192.4 662.0 L3191.8 656.2 L3196.2 651.6 L3200.1 651.9 L3205.9 649.7 L3211.0 645.7 L3214.9 641.3 L3218.0 638.7 L3225.0 639.9 L3227.8 639.8 L3234.3 637.2 L3237.6 634.7 L3243.4 632.1 L3243.1 626.5 L3237.7 621.2 L3238.0 616.5 L3239.9 610.2 L3234.8 607.5 L3228.1 605.0 L3223.7 604.7 L3217.0 602.8 L3211.5 601.5 L3209.6 595.9 L3205.7 589.4 L3202.7 584.0 L3204.7 577.5 L3207.1 573.1 L3206.8 567.9 L3205.6 560.8 L3204.9 555.6 L3199.2 556.9 L3195.4 560.1 L3190.0 560.1 L3182.7 558.0 L3178.7 559.9 L3178.0 555.0 L3174.3 549.0 L3169.6 546.4 L3163.5 547.7 L3156.5 550.9 L3151.0 550.4 L3146.3 550.1 L3139.4 552.8 L3134.9 552.1 L3130.5 548.0 L3126.2 544.6 L3131.0 540.2 L3132.1 537.2 L3134.9 531.5 L3141.4 530.3 L3147.9 525.3 L3152.4 522.7 L3157.7 521.2 L3161.1 519.3 L3164.7 514.0 L3161.7 506.7 L3156.8 503.9 L3150.5 506.3 L3146.2 504.5 L3140.9 503.2 L3134.9 505.2 L3130.4 509.1 L3127.0 510.7 L3122.8 512.8 L3117.4 516.2 L3113.0 519.1 L3108.1 521.9 L3103.0 527.2 L3100.5 531.2 L3097.7 535.9 L3095.5 527.1 L3088.4 527.3 L3082.4 524.9 L3075.3 528.6 L3069.3 531.5 L3064.8 529.2 L3058.6 527.7 L3053.2 528.3 L3048.8 530.6 L3043.0 529.3 L3036.9 529.9 L3030.9 534.1Z" fill="#73b2d8" stroke="#73b2d8" stroke-width="1"/>
<path d="M1286.5 856.5 L1279.8 854.0 L1275.5 850.0 L1269.9 851.6 L1264.6 854.2 L1258.0 854.3 L1252.0 851.1 L1246.8 851.6 L1240.6 850.0 L1233.8 849.1 L1228.3 844.6 L1223.1 843.4 L1216.6 841.1 L1210.8 841.3 L1205.6 843.4 L1200.3 846.5 L1196.6 847.4 L1190.0 850.9 L1184.8 853.4 L1181.5 856.5 L1175.5 855.6 L1171.3 857.4 L1166.4 857.5 L1161.4 857.3 L1157.1 859.7 L1150.9 860.9 L1146.7 867.1 L1141.2 869.7 L1136.5 871.1 L1131.2 874.0 L1124.6 871.8 L1121.9 864.3 L1122.3 860.0 L1125.9 852.1 L1122.5 854.6 L1117.0 858.6 L1113.6 861.2 L1106.8 865.3 L1105.0 868.8 L1102.2 874.0 L1096.2 876.2 L1090.0 874.0 L1082.2 873.8 L1076.5 876.2 L1071.4 883.8 L1069.9 889.3 L1063.4 890.3 L1056.7 889.7 L1051.2 890.7 L1045.9 891.5 L1043.1 897.6 L1041.5 902.4 L1038.5 909.0 L1042.1 912.4 L1044.2 918.6 L1043.7 924.3 L1040.7 928.9 L1041.5 937.4 L1038.2 943.2 L1030.6 946.2 L1029.0 951.0 L1028.9 956.5 L1030.3 963.3 L1032.3 967.7 L1032.8 972.4 L1037.1 963.7 L1045.9 963.7 L1050.6 963.7 L1055.3 967.9 L1061.9 971.1 L1067.8 970.3 L1074.7 972.4 L1077.9 973.8 L1083.1 977.8 L1089.4 981.6 L1094.0 983.4 L1096.3 987.4 L1099.7 991.0 L1104.8 994.6 L1107.1 998.7 L1113.0 1001.3 L1120.3 1005.2 L1121.0 1011.8 L1120.3 1016.2 L1127.9 1019.9 L1131.2 1024.9 L1132.6 1029.9 L1133.4 1035.9 L1139.8 1036.3 L1142.8 1038.3 L1148.7 1040.2 L1153.9 1038.4 L1160.1 1036.7 L1165.6 1036.0 L1172.7 1035.9 L1181.5 1040.2 L1186.8 1037.3 L1193.2 1034.2 L1196.7 1033.1 L1201.7 1029.3 L1205.6 1022.7 L1208.1 1018.4 L1211.3 1014.5 L1214.2 1010.0 L1218.7 1005.2 L1223.5 1001.9 L1229.4 1000.4 L1236.2 998.7 L1236.6 993.6 L1238.0 989.1 L1240.6 983.4 L1243.5 978.3 L1249.1 975.4 L1253.7 974.6 L1259.3 975.7 L1267.6 976.9 L1273.4 976.8 L1272.9 971.4 L1275.7 966.7 L1279.2 960.3 L1278.4 955.7 L1277.1 950.1 L1279.9 944.0 L1286.9 940.4 L1290.9 937.4 L1292.2 929.8 L1292.1 924.1 L1290.8 920.3 L1286.5 913.4 L1287.4 909.2 L1291.1 905.2 L1292.9 900.1 L1290.9 893.7 L1294.6 890.1 L1294.5 884.5 L1296.7 879.1 L1301.3 875.5 L1304.0 871.8 L1299.4 867.3 L1295.1 863.0 L1290.7 858.6Z" fill="url(#dots)"/>
<path d="M1032.8 972.4 L1032.3 967.7 L1030.3 963.3 L1028.9 956.5 L1029.0 951.0 L1030.6 946.2 L1038.2 943.2 L1041.5 937.4 L1040.7 928.9 L1043.7 924.3 L1044.2 918.6 L1042.1 912.4 L1038.5 909.0 L1041.5 902.4 L1043.1 897.6 L1045.9 891.5 L1051.2 890.7 L1056.7 889.7 L1063.4 890.3 L1069.9 889.3 L1071.4 883.8 L1076.5 876.2 L1082.2 873.8 L1090.0 874.0 L1096.2 876.2 L1102.2 874.0 L1105.0 868.8 L1106.8 865.3 L1113.6 861.2 L1117.0 858.6 L1122.5 854.6 L1125.9 852.1 L1122.3 860.0 L1121.9 864.3 L1124.6 871.8 L1131.2 874.0 L1136.5 871.1 L1141.2 869.7 L1146.7 867.1 L1150.9 860.9 L1157.1 859.7 L1161.4 857.3 L1166.4 857.5 L1171.3 857.4 L1175.5 855.6 L1181.5 856.5 L1184.8 853.4 L1190.0 850.9 L1196.6 847.4 L1200.3 846.5 L1205.6 843.4 L1210.8 841.3 L1216.6 841.1 L1223.1 843.4 L1223.2 837.5 L1221.2 834.5 L1217.8 829.6 L1216.5 823.7 L1215.3 819.1 L1214.3 812.8 L1218.6 808.0 L1221.2 802.4 L1223.1 797.5 L1227.9 794.8 L1231.8 788.7 L1227.4 786.5 L1222.3 787.8 L1217.0 789.2 L1212.1 788.7 L1206.1 786.2 L1203.4 782.2 L1203.2 777.0 L1199.7 769.4 L1197.6 765.2 L1196.8 758.1 L1194.5 753.5 L1194.5 746.4 L1196.0 741.8 L1196.2 737.9 L1194.6 731.8 L1191.0 728.1 L1185.8 723.4 L1181.5 720.9 L1175.6 717.8 L1170.6 716.5 L1172.7 710.0 L1177.1 711.1 L1183.9 710.3 L1188.1 707.8 L1188.4 702.2 L1190.2 696.9 L1186.8 693.6 L1184.2 686.4 L1181.5 681.5 L1176.2 681.5 L1168.4 678.5 L1164.1 683.0 L1159.6 685.9 L1155.2 686.7 L1149.7 687.1 L1144.3 690.3 L1140.4 689.1 L1133.2 689.4 L1129.0 688.1 L1124.6 694.7 L1128.8 699.7 L1129.1 700.0 L1124.0 697.0 L1120.3 692.5 L1115.4 693.5 L1109.1 696.7 L1104.9 699.0 L1100.6 705.6 L1095.7 707.6 L1089.6 712.2 L1084.9 717.8 L1084.5 721.6 L1080.9 727.5 L1075.0 728.7 L1070.2 729.2 L1065.6 731.8 L1065.6 736.5 L1063.8 744.3 L1063.4 749.3 L1059.4 756.0 L1054.6 758.1 L1049.1 761.2 L1044.3 761.0 L1039.3 762.5 L1034.8 766.1 L1029.8 768.8 L1024.0 773.4 L1025.3 780.0 L1031.0 781.8 L1037.7 781.9 L1042.6 781.4 L1049.4 781.2 L1054.6 780.0 L1053.9 786.8 L1054.6 790.9 L1060.0 790.2 L1064.6 789.8 L1069.9 792.2 L1070.7 797.3 L1069.9 804.0 L1063.8 804.9 L1058.0 805.1 L1053.5 806.0 L1047.3 806.4 L1041.5 806.2 L1035.8 809.4 L1032.2 812.6 L1026.5 815.1 L1019.6 817.1 L1021.8 821.5 L1017.1 819.7 L1010.9 815.5 L1006.5 815.0 L1000.9 813.3 L993.4 810.6 L994.6 805.3 L991.2 797.5 L996.0 794.3 L1000.0 790.9 L999.6 784.2 L995.6 777.8 L990.5 775.2 L982.5 773.4 L978.7 768.0 L975.9 764.7 L967.1 760.3 L965.2 764.1 L962.3 769.4 L958.4 773.4 L959.9 781.3 L959.1 786.9 L960.6 793.1 L951.8 797.5 L943.8 799.4 L938.7 801.8 L935.0 806.8 L927.8 810.6 L930.3 817.3 L930.0 823.7 L932.4 830.9 L935.6 835.8 L940.9 839.0 L942.2 845.9 L942.3 851.2 L940.9 856.5 L938.2 863.8 L934.5 868.4 L930.0 871.8 L938.7 876.2 L939.7 881.7 L938.3 887.1 L934.3 893.7 L929.8 897.7 L924.9 901.7 L921.2 906.8 L920.8 912.2 L918.2 917.8 L914.2 923.7 L910.3 926.5 L906.6 928.4 L902.4 933.0 L899.3 937.4 L900.2 942.8 L902.9 949.9 L905.9 954.9 L913.5 955.5 L919.4 955.4 L925.6 954.9 L933.5 954.0 L938.7 950.6 L943.9 947.1 L949.3 945.4 L953.4 946.1 L959.3 946.3 L965.0 944.0 L971.6 945.8 L975.9 950.6 L983.3 948.4 L989.8 949.2 L995.6 948.4 L1000.6 953.3 L1004.5 956.9 L1009.7 959.6 L1015.3 961.5 L1012.0 966.1 L1008.7 970.3 L1007.0 976.9 L1006.9 983.2 L1008.1 987.3 L1006.5 994.3 L1001.6 998.7 L1000.0 1003.1 L997.4 1009.5 L995.6 1014.0 L1002.5 1015.5 L1007.7 1014.9 L1011.8 1013.7 L1017.8 1011.4 L1023.5 1008.6 L1028.4 1007.4 L1030.7 1003.3 L1030.6 996.5 L1031.2 991.2 L1031.0 985.2 L1033.0 978.4ZM1129.1 700.0 L1131.2 701.2 L1139.5 702.4 L1144.3 704.7 L1140.0 707.2 L1133.4 707.8 L1131.0 701.7Z" fill="url(#dots)"/>
<path d="M1032.8 972.4 L1033.0 978.4 L1031.0 985.2 L1031.2 991.2 L1030.6 996.5 L1030.7 1003.3 L1028.4 1007.4 L1023.5 1008.6 L1017.8 1011.4 L1011.8 1013.7 L1007.7 1014.9 L1002.5 1015.5 L995.6 1014.0 L989.0 1020.6 L989.1 1026.6 L990.5 1033.2 L990.3 1038.1 L985.8 1041.7 L980.3 1044.6 L976.0 1040.6 L969.3 1040.2 L970.1 1032.0 L967.1 1027.1 L962.0 1025.9 L956.2 1022.7 L951.6 1026.4 L944.8 1027.3 L938.7 1027.1 L932.4 1027.1 L927.8 1031.5 L925.6 1040.2 L919.6 1044.1 L916.8 1049.0 L916.5 1055.3 L914.0 1059.0 L914.7 1064.3 L913.9 1071.8 L916.8 1076.6 L922.2 1075.4 L928.8 1076.8 L932.9 1077.4 L938.7 1075.2 L940.9 1081.8 L935.8 1088.5 L932.2 1092.7 L938.7 1094.9 L940.9 1103.7 L946.1 1105.7 L951.8 1112.4 L955.0 1115.9 L955.5 1122.7 L956.7 1126.3 L962.8 1129.9 L960.0 1135.7 L960.6 1143.0 L965.0 1134.3 L970.1 1135.5 L975.0 1140.2 L978.5 1144.6 L982.5 1147.4 L986.9 1150.4 L990.3 1156.3 L990.4 1160.6 L995.6 1164.9 L1000.1 1161.1 L1002.1 1156.2 L1007.9 1155.6 L1013.1 1156.2 L1015.8 1152.1 L1018.3 1145.9 L1019.7 1139.5 L1019.6 1134.3 L1026.2 1129.9 L1035.0 1134.3 L1038.4 1139.7 L1038.1 1144.0 L1040.3 1150.2 L1045.9 1154.0 L1051.7 1152.8 L1059.0 1156.2 L1060.8 1151.1 L1063.5 1147.4 L1067.9 1142.6 L1069.9 1138.7 L1069.5 1132.5 L1065.6 1127.7 L1059.8 1123.3 L1056.2 1119.1 L1051.4 1115.2 L1057.9 1114.7 L1062.5 1113.8 L1067.8 1112.3 L1071.2 1110.6 L1078.7 1110.7 L1083.1 1110.2 L1090.7 1105.6 L1096.2 1103.7 L1102.7 1099.6 L1107.1 1097.1 L1105.0 1090.8 L1104.6 1083.9 L1104.1 1077.9 L1104.9 1073.1 L1111.3 1069.6 L1115.9 1070.9 L1118.1 1062.1 L1124.6 1057.7 L1129.0 1064.3 L1135.1 1065.1 L1139.9 1068.7 L1142.9 1072.4 L1148.0 1077.0 L1151.7 1081.6 L1153.1 1086.2 L1157.4 1088.4 L1161.2 1085.7 L1166.9 1082.9 L1171.4 1080.3 L1176.9 1078.8 L1181.5 1077.4 L1186.1 1073.1 L1190.7 1069.5 L1194.6 1064.3 L1191.1 1059.5 L1190.2 1053.7 L1187.8 1049.7 L1184.6 1046.2 L1181.5 1040.2 L1172.7 1035.9 L1165.6 1036.0 L1160.1 1036.7 L1153.9 1038.4 L1148.7 1040.2 L1142.8 1038.3 L1139.8 1036.3 L1133.4 1035.9 L1132.6 1029.9 L1131.2 1024.9 L1127.9 1019.9 L1120.3 1016.2 L1121.0 1011.8 L1120.3 1005.2 L1113.0 1001.3 L1107.1 998.7 L1104.8 994.6 L1099.7 991.0 L1096.3 987.4 L1094.0 983.4 L1089.4 981.6 L1083.1 977.8 L1077.9 973.8 L1074.7 972.4 L1067.8 970.3 L1061.9 971.1 L1055.3 967.9 L1050.6 963.7 L1045.9 963.7 L1037.1 963.7ZM1051.4 1115.2 L1051.0 1115.2 L1045.9 1112.4 L1051.3 1115.1Z" fill="#f7fbff" stroke="#f7fbff" stroke-width="1"/>
<path d="M927.8 1031.5 L927.1 1025.0 L923.4 1020.6 L917.2 1018.7 L911.6 1021.3 L908.3 1023.3 L902.3 1021.5 L897.2 1018.4 L894.4 1024.4 L892.8 1031.5 L891.7 1036.6 L886.2 1042.4 L887.1 1047.5 L886.3 1053.9 L883.8 1057.7 L881.8 1064.3 L874.4 1062.4 L870.9 1063.0 L865.4 1065.2 L858.7 1067.6 L853.4 1068.7 L849.3 1067.4 L842.5 1068.7 L835.9 1070.1 L831.4 1067.7 L827.4 1064.0 L822.8 1064.3 L818.4 1060.6 L811.9 1057.7 L806.9 1053.2 L805.3 1049.0 L802.7 1053.3 L797.1 1055.6 L792.2 1059.9 L789.7 1065.4 L786.4 1068.3 L783.4 1073.1 L785.9 1079.1 L785.0 1083.8 L787.8 1090.6 L784.4 1095.3 L781.2 1101.5 L786.6 1104.2 L791.2 1104.0 L796.5 1105.9 L790.3 1109.6 L785.5 1108.9 L780.6 1106.7 L774.4 1107.3 L770.3 1108.0 L766.4 1112.9 L761.7 1116.0 L757.7 1116.7 L751.7 1117.8 L744.8 1119.1 L741.8 1120.3 L737.5 1125.5 L734.6 1128.6 L728.8 1132.2 L725.0 1135.8 L719.9 1138.9 L714.7 1139.4 L711.2 1143.0 L713.1 1146.9 L719.9 1150.2 L724.3 1150.8 L727.5 1154.7 L730.9 1158.4 L731.1 1164.3 L733.5 1168.6 L735.7 1173.5 L737.1 1178.6 L739.7 1182.4 L739.8 1187.4 L742.4 1194.3 L745.2 1198.4 L745.7 1203.5 L744.1 1210.0 L739.3 1213.6 L735.3 1215.6 L729.4 1217.6 L724.0 1218.2 L717.6 1220.1 L711.2 1222.2 L715.9 1225.8 L720.0 1230.9 L724.8 1234.5 L729.4 1236.2 L736.1 1234.9 L744.1 1233.4 L748.9 1236.0 L753.0 1238.8 L759.4 1237.5 L764.0 1236.9 L769.6 1239.1 L776.2 1239.3 L779.8 1240.1 L783.6 1243.2 L790.0 1244.1 L798.7 1241.9 L799.3 1247.8 L798.6 1256.4 L796.5 1261.5 L801.2 1259.6 L805.8 1256.7 L812.9 1252.6 L817.3 1250.0 L822.8 1248.4 L827.1 1251.4 L830.9 1256.0 L833.9 1259.8 L838.3 1261.2 L842.5 1265.9 L849.0 1259.4 L854.4 1258.2 L860.8 1256.8 L864.3 1252.8 L869.2 1251.0 L873.2 1248.2 L876.8 1243.9 L879.7 1237.5 L878.1 1233.0 L877.5 1226.6 L871.9 1224.3 L866.1 1223.4 L860.4 1222.1 L855.4 1220.8 L850.0 1217.9 L844.7 1215.6 L838.1 1210.0 L842.5 1206.5 L847.5 1203.6 L851.7 1200.1 L855.6 1195.5 L857.7 1190.7 L861.3 1186.8 L864.3 1180.2 L870.9 1173.7 L871.8 1167.8 L873.1 1160.5 L879.7 1156.2 L882.6 1152.0 L886.4 1149.5 L890.2 1144.7 L890.6 1138.7 L887.5 1134.8 L888.4 1127.7 L893.8 1126.0 L901.5 1123.4 L901.7 1117.2 L902.8 1114.6 L903.3 1109.4 L905.9 1103.7 L901.3 1098.4 L898.9 1093.8 L899.3 1088.4 L903.7 1081.8 L910.4 1081.6 L916.8 1076.6 L913.9 1071.8 L914.7 1064.3 L914.0 1059.0 L916.5 1055.3 L916.8 1049.0 L919.6 1044.1 L925.6 1040.2Z" fill="#c7dcef" stroke="#c7dcef" stroke-width="1"/>
<path d="M783.4 1073.1 L786.4 1068.3 L789.7 1065.4 L792.2 1059.9 L797.1 1055.6 L802.7 1053.3 L805.3 1049.0 L806.9 1053.2 L811.9 1057.7 L818.4 1060.6 L822.8 1064.3 L827.4 1064.0 L831.4 1067.7 L835.9 1070.1 L842.5 1068.7 L849.3 1067.4 L853.4 1068.7 L858.7 1067.6 L865.4 1065.2 L870.9 1063.0 L874.4 1062.4 L881.8 1064.3 L883.8 1057.7 L886.3 1053.9 L887.1 1047.5 L886.2 1042.4 L891.7 1036.6 L892.8 1031.5 L894.4 1024.4 L897.2 1018.4 L892.8 1014.0 L886.5 1014.8 L881.7 1013.0 L875.7 1012.4 L872.0 1010.9 L866.0 1009.4 L860.0 1011.8 L857.6 1016.5 L853.4 1020.6 L847.9 1021.4 L843.9 1019.8 L837.0 1020.8 L833.7 1024.9 L827.1 1029.1 L825.0 1033.7 L820.1 1031.7 L815.0 1032.2 L808.8 1032.1 L804.2 1032.5 L798.7 1031.5 L793.8 1030.4 L789.5 1032.0 L784.3 1035.4 L779.0 1035.9 L774.5 1030.8 L769.7 1026.4 L763.7 1024.9 L757.2 1029.3 L761.4 1035.8 L762.3 1041.3 L761.5 1046.8 L757.2 1053.4 L755.6 1057.9 L756.2 1062.7 L759.4 1068.7 L757.2 1077.4 L761.6 1074.0 L767.7 1071.7 L772.8 1072.4 L778.5 1074.0Z" fill="#c7dcef" stroke="#c7dcef" stroke-width="1"/>
<path d="M1463.6 1027.1 L1468.4 1022.7 L1476.8 1020.6 L1479.5 1016.6 L1483.7 1011.8 L1488.0 1007.0 L1489.9 1003.1 L1487.9 997.8 L1486.8 992.3 L1483.6 986.4 L1479.0 981.2 L1473.8 981.6 L1468.8 979.5 L1462.8 978.7 L1455.6 978.4 L1450.5 976.8 L1445.6 976.1 L1438.4 971.2 L1433.0 970.3 L1434.4 964.3 L1437.4 957.1 L1433.5 952.9 L1431.7 946.4 L1430.9 941.6 L1430.9 935.4 L1433.0 930.9 L1426.6 930.3 L1420.8 928.1 L1415.5 924.3 L1409.9 926.7 L1402.4 930.9 L1399.3 936.3 L1400.2 944.0 L1398.0 950.0 L1393.7 957.1 L1388.5 954.9 L1383.1 954.1 L1377.1 954.9 L1371.8 952.8 L1366.8 954.3 L1358.7 957.1 L1352.8 958.0 L1347.7 958.5 L1342.6 958.9 L1337.0 958.2 L1332.4 959.3 L1330.7 964.2 L1330.2 969.7 L1330.2 974.6 L1324.5 979.2 L1320.9 979.5 L1314.9 983.4 L1310.8 985.8 L1302.8 985.5 L1297.1 984.7 L1293.0 987.8 L1288.4 985.2 L1283.7 980.2 L1280.4 978.6 L1273.4 976.8 L1274.1 981.6 L1273.1 987.1 L1269.0 992.6 L1265.2 993.3 L1258.9 994.3 L1263.9 994.5 L1269.0 996.5 L1271.1 1002.2 L1269.3 1007.4 L1267.4 1012.6 L1268.1 1017.5 L1267.5 1022.5 L1265.8 1025.3 L1266.8 1031.5 L1265.4 1035.9 L1263.2 1040.7 L1262.0 1045.1 L1262.4 1051.2 L1271.2 1055.6 L1275.7 1054.6 L1282.4 1056.8 L1285.9 1057.8 L1292.9 1058.6 L1297.4 1057.7 L1301.2 1053.9 L1308.4 1053.4 L1312.5 1057.2 L1317.0 1060.9 L1321.2 1063.3 L1325.9 1064.3 L1326.2 1070.4 L1326.8 1073.8 L1329.7 1080.8 L1329.7 1084.1 L1330.2 1090.6 L1326.3 1096.3 L1326.1 1101.7 L1325.9 1105.9 L1331.4 1106.1 L1336.1 1105.3 L1342.2 1104.6 L1350.2 1103.8 L1354.3 1101.5 L1360.3 1107.1 L1367.4 1108.0 L1371.3 1104.5 L1374.3 1100.8 L1378.9 1096.6 L1384.8 1094.2 L1390.1 1093.2 L1393.7 1090.6 L1397.3 1085.6 L1400.4 1083.7 L1405.3 1080.8 L1408.0 1077.2 L1412.2 1072.6 L1415.3 1070.3 L1420.8 1066.6 L1424.3 1064.3 L1425.6 1058.0 L1425.2 1054.7 L1426.5 1049.0 L1430.3 1047.1 L1435.2 1042.5 L1437.4 1038.1 L1440.8 1034.9 L1446.5 1033.1 L1455.0 1032.7 L1458.1 1032.2Z" fill="#c7dcef" stroke="#c7dcef" stroke-width="1"/>
<path d="M1549.9 1018.4 L1543.7 1016.4 L1538.8 1015.2 L1535.7 1015.4 L1529.3 1014.0 L1528.4 1019.2 L1522.9 1024.4 L1518.3 1027.1 L1511.9 1029.2 L1507.5 1029.2 L1500.8 1027.2 L1496.7 1025.5 L1489.9 1022.7 L1486.0 1025.0 L1479.9 1026.5 L1474.6 1026.6 L1468.4 1027.6 L1463.6 1027.1 L1458.1 1032.2 L1455.0 1032.7 L1446.5 1033.1 L1440.8 1034.9 L1437.4 1038.1 L1435.2 1042.5 L1430.3 1047.1 L1426.5 1049.0 L1425.2 1054.7 L1425.6 1058.0 L1424.3 1064.3 L1430.9 1064.8 L1435.0 1065.5 L1440.6 1066.6 L1446.2 1066.5 L1448.1 1074.3 L1448.3 1079.6 L1442.4 1083.5 L1439.6 1088.4 L1446.4 1093.0 L1452.7 1092.7 L1458.5 1090.6 L1463.6 1084.0 L1468.5 1085.4 L1474.5 1086.7 L1478.9 1086.1 L1485.7 1086.6 L1489.9 1088.4 L1491.6 1092.9 L1492.5 1099.1 L1494.3 1105.9 L1498.0 1111.0 L1503.0 1116.8 L1507.3 1119.0 L1514.7 1118.8 L1520.5 1121.2 L1522.7 1129.9 L1514.0 1129.9 L1507.4 1123.4 L1504.9 1129.4 L1501.1 1132.0 L1498.6 1138.7 L1494.1 1139.5 L1489.3 1142.4 L1485.0 1143.5 L1478.5 1144.9 L1474.6 1147.4 L1472.9 1152.9 L1472.4 1160.5 L1474.8 1167.5 L1479.0 1173.7 L1479.3 1179.0 L1477.4 1182.9 L1474.6 1189.0 L1477.3 1194.7 L1481.9 1196.7 L1486.7 1196.9 L1492.6 1201.1 L1495.1 1205.1 L1493.5 1210.0 L1491.7 1217.3 L1489.9 1222.2 L1488.9 1226.9 L1489.9 1233.5 L1490.0 1239.6 L1492.1 1244.1 L1493.3 1251.6 L1496.5 1257.2 L1501.9 1257.4 L1508.6 1258.9 L1514.0 1263.7 L1520.7 1259.4 L1524.8 1254.4 L1528.0 1250.8 L1531.3 1248.5 L1537.2 1246.8 L1542.6 1246.2 L1547.6 1242.2 L1550.0 1236.2 L1556.1 1235.3 L1562.5 1233.1 L1567.5 1233.1 L1571.4 1232.6 L1577.2 1231.8 L1583.9 1231.0 L1588.6 1229.0 L1593.1 1225.9 L1598.1 1225.2 L1602.5 1224.4 L1608.9 1224.7 L1611.4 1222.3 L1617.2 1221.2 L1623.1 1220.9 L1628.7 1219.2 L1632.1 1217.9 L1637.5 1217.8 L1643.1 1217.7 L1647.6 1214.8 L1655.5 1211.4 L1659.4 1209.1 L1663.9 1210.2 L1668.5 1212.0 L1675.5 1212.5 L1679.8 1212.2 L1684.5 1209.7 L1689.7 1207.4 L1694.4 1209.1 L1699.1 1208.6 L1704.0 1211.3 L1711.4 1212.0 L1716.2 1211.2 L1720.6 1208.5 L1726.1 1210.0 L1732.1 1214.7 L1737.1 1216.0 L1742.5 1213.4 L1748.2 1212.3 L1752.5 1213.7 L1758.3 1214.5 L1764.0 1213.3 L1769.8 1212.8 L1775.8 1212.0 L1780.3 1211.0 L1786.2 1210.0 L1790.6 1204.9 L1794.3 1202.3 L1801.5 1202.1 L1798.6 1197.5 L1796.0 1192.1 L1792.8 1186.8 L1794.9 1182.6 L1796.4 1175.9 L1799.3 1171.5 L1801.2 1165.2 L1800.8 1157.4 L1799.3 1151.8 L1799.4 1146.5 L1797.8 1138.5 L1794.4 1135.9 L1790.1 1128.4 L1790.6 1123.4 L1791.3 1117.8 L1792.8 1112.4 L1791.4 1106.7 L1792.3 1102.0 L1790.3 1095.5 L1788.4 1090.6 L1782.1 1089.4 L1776.5 1088.5 L1771.5 1090.1 L1765.6 1092.2 L1760.9 1091.6 L1755.6 1092.7 L1749.5 1089.5 L1745.8 1084.6 L1743.4 1080.4 L1739.2 1074.0 L1738.1 1068.7 L1739.4 1064.0 L1741.4 1059.6 L1740.5 1054.1 L1737.6 1048.4 L1737.3 1040.8 L1739.1 1036.8 L1742.5 1031.5 L1735.5 1027.7 L1731.5 1024.9 L1732.6 1019.8 L1736.8 1015.8 L1742.5 1011.8 L1746.7 1008.2 L1754.4 1005.1 L1760.0 1003.1 L1763.7 997.6 L1764.3 992.1 L1760.4 988.0 L1755.8 983.2 L1751.9 981.2 L1745.3 980.1 L1740.3 979.0 L1736.5 976.3 L1730.2 973.5 L1725.6 974.0 L1718.9 973.1 L1714.0 970.3 L1710.2 964.9 L1706.0 960.1 L1700.9 959.3 L1696.9 956.7 L1690.5 956.4 L1684.1 957.1 L1679.0 954.9 L1673.2 955.2 L1669.8 956.3 L1662.9 958.3 L1659.3 959.7 L1655.0 963.7 L1653.8 970.3 L1648.4 976.8 L1644.0 978.2 L1637.6 981.9 L1632.2 984.0 L1626.6 983.4 L1622.3 980.8 L1616.6 980.4 L1612.1 979.9 L1606.9 979.0 L1601.5 983.2 L1598.1 985.6 L1597.6 993.4 L1600.3 998.7 L1596.9 1006.2 L1591.6 1009.6 L1586.9 1013.6 L1582.8 1020.6 L1575.6 1020.2 L1569.7 1022.7 L1564.7 1022.0 L1558.7 1021.8 L1553.8 1020.5Z" fill="#c7dcef" stroke="#c7dcef" stroke-width="1"/>
<path d="M1424.3 1064.3 L1420.8 1066.6 L1415.3 1070.3 L1412.2 1072.6 L1408.0 1077.2 L1405.3 1080.8 L1400.4 1083.7 L1397.3 1085.6 L1393.7 1090.6 L1390.1 1093.2 L1384.8 1094.2 L1378.9 1096.6 L1374.3 1100.8 L1371.3 1104.5 L1367.4 1108.0 L1360.3 1107.1 L1354.3 1101.5 L1350.2 1103.8 L1342.2 1104.6 L1336.1 1105.3 L1331.4 1106.1 L1325.9 1105.9 L1322.4 1101.5 L1315.2 1099.2 L1310.0 1098.3 L1306.2 1094.9 L1304.0 1086.2 L1297.4 1088.4 L1299.5 1094.0 L1299.5 1100.2 L1296.8 1104.5 L1295.0 1108.5 L1295.1 1114.9 L1294.1 1119.5 L1293.1 1124.1 L1293.0 1129.9 L1287.3 1131.7 L1285.2 1136.3 L1280.6 1141.0 L1273.2 1143.7 L1269.0 1145.2 L1266.5 1140.1 L1264.2 1136.2 L1259.0 1132.4 L1253.7 1129.9 L1247.9 1129.8 L1240.6 1125.3 L1236.2 1121.2 L1230.8 1121.9 L1223.1 1119.0 L1220.6 1114.3 L1217.1 1110.3 L1212.1 1108.0 L1204.7 1111.4 L1201.2 1116.8 L1203.3 1120.9 L1203.4 1127.7 L1196.8 1134.3 L1202.8 1137.4 L1209.9 1138.7 L1205.7 1143.3 L1205.6 1149.6 L1201.6 1151.7 L1199.0 1156.6 L1194.9 1160.2 L1188.1 1160.5 L1184.2 1162.5 L1177.5 1166.5 L1172.7 1167.1 L1168.4 1171.5 L1174.6 1169.2 L1180.7 1168.8 L1185.4 1170.0 L1192.4 1167.1 L1194.6 1171.1 L1197.6 1176.7 L1199.3 1181.7 L1199.4 1185.8 L1201.2 1191.2 L1202.0 1197.1 L1205.5 1201.9 L1211.4 1206.1 L1214.3 1210.0 L1220.4 1210.5 L1227.4 1215.6 L1227.4 1222.2 L1228.8 1228.0 L1231.5 1234.0 L1236.2 1237.5 L1238.7 1241.4 L1241.9 1246.7 L1245.2 1251.0 L1249.3 1254.8 L1252.5 1261.1 L1253.7 1265.9 L1257.1 1272.3 L1261.2 1276.0 L1266.8 1276.9 L1271.1 1273.8 L1274.2 1268.3 L1279.0 1263.8 L1284.3 1261.5 L1289.3 1258.6 L1293.8 1259.7 L1299.8 1257.9 L1304.6 1255.9 L1310.0 1254.5 L1314.9 1250.6 L1321.2 1251.7 L1324.4 1253.3 L1330.2 1252.8 L1333.8 1256.9 L1338.1 1260.9 L1342.9 1262.9 L1345.5 1265.9 L1349.9 1270.8 L1351.7 1275.7 L1356.5 1281.2 L1358.1 1276.1 L1358.6 1269.5 L1358.3 1263.9 L1360.8 1259.4 L1358.2 1253.6 L1357.7 1250.1 L1355.8 1244.2 L1355.1 1239.9 L1355.9 1233.6 L1356.5 1228.7 L1358.2 1221.9 L1361.0 1219.9 L1366.2 1217.4 L1370.8 1212.2 L1374.0 1209.1 L1380.1 1213.7 L1383.9 1217.9 L1385.0 1222.6 L1389.3 1228.7 L1390.8 1233.8 L1393.4 1238.5 L1393.7 1244.1 L1398.2 1241.2 L1402.0 1239.5 L1407.8 1237.6 L1413.3 1235.3 L1419.4 1237.5 L1422.5 1240.1 L1427.5 1242.1 L1433.0 1244.1 L1438.9 1242.8 L1443.6 1239.3 L1447.4 1235.7 L1450.8 1232.0 L1454.9 1228.7 L1460.4 1227.9 L1464.3 1227.5 L1469.5 1225.6 L1475.2 1224.9 L1481.1 1224.4 L1489.9 1222.2 L1491.7 1217.3 L1493.5 1210.0 L1495.1 1205.1 L1492.6 1201.1 L1486.7 1196.9 L1481.9 1196.7 L1477.3 1194.7 L1474.6 1189.0 L1477.4 1182.9 L1479.3 1179.0 L1479.0 1173.7 L1474.8 1167.5 L1472.4 1160.5 L1472.9 1152.9 L1474.6 1147.4 L1478.5 1144.9 L1485.0 1143.5 L1489.3 1142.4 L1494.1 1139.5 L1498.6 1138.7 L1501.1 1132.0 L1504.9 1129.4 L1507.4 1123.4 L1514.0 1129.9 L1522.7 1129.9 L1520.5 1121.2 L1514.7 1118.8 L1507.3 1119.0 L1503.0 1116.8 L1498.0 1111.0 L1494.3 1105.9 L1492.5 1099.1 L1491.6 1092.9 L1489.9 1088.4 L1485.7 1086.6 L1478.9 1086.1 L1474.5 1086.7 L1468.5 1085.4 L1463.6 1084.0 L1458.5 1090.6 L1452.7 1092.7 L1446.4 1093.0 L1439.6 1088.4 L1442.4 1083.5 L1448.3 1079.6 L1448.1 1074.3 L1446.2 1066.5 L1440.6 1066.6 L1435.0 1065.5 L1430.9 1064.8Z" fill="#c7dcef" stroke="#c7dcef" stroke-width="1"/>
<path d="M1214.3 1210.0 L1211.4 1206.1 L1205.5 1201.9 L1202.0 1197.1 L1201.2 1191.2 L1199.4 1185.8 L1199.3 1181.7 L1197.6 1176.7 L1194.6 1171.1 L1192.4 1167.1 L1185.4 1170.0 L1180.7 1168.8 L1174.6 1169.2 L1168.4 1171.5 L1163.3 1170.5 L1157.0 1170.1 L1153.1 1171.5 L1147.2 1167.0 L1142.1 1167.1 L1144.9 1161.1 L1148.7 1154.0 L1144.3 1145.2 L1149.0 1141.1 L1150.2 1136.5 L1148.7 1129.9 L1149.0 1123.7 L1146.4 1119.5 L1143.1 1114.3 L1142.1 1110.2 L1148.7 1108.0 L1151.3 1101.7 L1152.8 1097.7 L1152.4 1092.1 L1153.1 1086.2 L1151.7 1081.6 L1148.0 1077.0 L1142.9 1072.4 L1139.9 1068.7 L1135.1 1065.1 L1129.0 1064.3 L1124.6 1057.7 L1118.1 1062.1 L1115.9 1070.9 L1111.3 1069.6 L1104.9 1073.1 L1104.1 1077.9 L1104.6 1083.9 L1105.0 1090.8 L1107.1 1097.1 L1102.7 1099.6 L1096.2 1103.7 L1090.7 1105.6 L1083.1 1110.2 L1078.7 1110.7 L1071.2 1110.6 L1067.8 1112.3 L1062.5 1113.8 L1057.9 1114.7 L1051.4 1115.2 L1056.2 1119.1 L1059.8 1123.3 L1065.6 1127.7 L1069.5 1132.5 L1069.9 1138.7 L1067.9 1142.6 L1063.5 1147.4 L1060.8 1151.1 L1059.0 1156.2 L1051.7 1152.8 L1045.9 1154.0 L1043.7 1162.7 L1049.3 1165.0 L1054.1 1166.6 L1057.6 1168.8 L1061.2 1173.7 L1059.0 1182.4 L1054.9 1182.4 L1048.4 1182.4 L1043.7 1180.2 L1047.0 1182.8 L1051.5 1185.9 L1056.8 1188.5 L1062.5 1192.3 L1065.6 1195.5 L1071.0 1196.4 L1075.7 1199.3 L1080.9 1204.3 L1084.2 1207.1 L1080.9 1211.2 L1079.5 1216.3 L1077.0 1220.3 L1075.2 1225.7 L1073.3 1231.2 L1073.8 1236.0 L1074.6 1241.9 L1073.3 1246.4 L1073.4 1250.6 L1076.1 1256.3 L1082.8 1253.4 L1087.4 1252.8 L1092.0 1255.3 L1098.2 1257.1 L1102.7 1257.0 L1109.3 1257.2 L1115.9 1258.2 L1120.7 1260.7 L1128.5 1262.7 L1133.4 1263.7 L1138.6 1266.0 L1142.1 1269.2 L1145.0 1271.5 L1148.7 1276.9 L1151.8 1281.5 L1154.8 1286.1 L1161.1 1291.5 L1166.2 1294.4 L1169.2 1298.2 L1174.9 1300.9 L1179.0 1301.9 L1183.0 1305.7 L1187.9 1307.6 L1194.0 1310.4 L1196.3 1313.1 L1201.2 1316.2 L1208.6 1318.3 L1213.9 1320.9 L1218.7 1322.8 L1224.3 1319.8 L1229.0 1319.0 L1234.0 1318.4 L1239.7 1316.7 L1247.1 1311.9 L1254.2 1309.3 L1258.0 1305.3 L1257.8 1301.1 L1258.3 1295.3 L1262.4 1290.0 L1265.6 1285.6 L1266.8 1276.9 L1261.2 1276.0 L1257.1 1272.3 L1253.7 1265.9 L1252.5 1261.1 L1249.3 1254.8 L1245.2 1251.0 L1241.9 1246.7 L1238.7 1241.4 L1236.2 1237.5 L1231.5 1234.0 L1228.8 1228.0 L1227.4 1222.2 L1227.4 1215.6 L1220.4 1210.5Z" fill="#f7fbff" stroke="#f7fbff" stroke-width="1"/>
<path d="M1627.9 766.8 L1624.0 773.1 L1623.4 780.0 L1620.0 784.3 L1617.7 789.5 L1616.0 794.1 L1616.4 801.0 L1621.8 806.4 L1622.2 812.8 L1623.4 821.1 L1620.0 825.9 L1614.6 833.3 L1609.1 836.0 L1611.2 845.6 L1615.5 848.1 L1621.2 849.0 L1625.3 852.0 L1629.5 854.6 L1634.4 855.2 L1640.1 856.2 L1644.1 858.7 L1647.2 864.9 L1648.4 871.8 L1651.8 876.5 L1654.3 882.1 L1657.2 885.0 L1655.6 890.2 L1655.3 896.2 L1655.2 903.7 L1655.0 909.0 L1657.4 915.0 L1661.3 917.4 L1665.9 919.9 L1667.0 926.7 L1669.0 931.8 L1670.6 935.0 L1670.3 941.8 L1674.7 945.7 L1675.6 949.7 L1679.0 954.9 L1684.1 957.1 L1690.5 956.4 L1696.9 956.7 L1700.9 959.3 L1706.0 960.1 L1710.2 964.9 L1714.0 970.3 L1718.9 973.1 L1725.6 974.0 L1730.2 973.5 L1736.5 976.3 L1740.3 979.0 L1745.3 980.1 L1751.9 981.2 L1755.8 983.2 L1760.4 988.0 L1764.3 992.1 L1763.7 997.6 L1760.0 1003.1 L1754.4 1005.1 L1746.7 1008.2 L1742.5 1011.8 L1736.8 1015.8 L1732.6 1019.8 L1731.5 1024.9 L1735.5 1027.7 L1742.5 1031.5 L1749.3 1029.6 L1753.9 1030.7 L1760.0 1029.3 L1764.6 1028.1 L1770.8 1029.7 L1776.3 1030.1 L1781.1 1027.6 L1786.2 1024.9 L1791.7 1024.5 L1795.8 1027.8 L1800.6 1029.1 L1807.5 1027.5 L1812.5 1027.1 L1816.5 1028.8 L1823.6 1029.9 L1829.4 1029.9 L1834.3 1029.3 L1838.2 1025.7 L1839.3 1020.7 L1839.8 1013.8 L1840.9 1009.6 L1846.5 1004.9 L1849.8 1000.1 L1853.9 995.7 L1856.2 989.9 L1859.2 983.9 L1862.8 981.5 L1869.1 976.5 L1871.5 972.4 L1876.7 968.3 L1879.5 964.0 L1884.3 960.5 L1886.8 957.1 L1890.8 951.1 L1894.3 946.3 L1898.3 942.2 L1900.0 937.4 L1903.4 933.0 L1904.8 928.5 L1906.4 923.2 L1907.7 918.5 L1910.9 913.4 L1919.1 913.2 L1924.0 911.2 L1927.3 915.6 L1930.7 920.0 L1935.0 922.1 L1941.3 924.6 L1945.9 928.7 L1950.0 924.3 L1954.7 923.5 L1958.8 920.9 L1961.2 915.6 L1959.8 910.5 L1960.3 904.5 L1963.4 900.3 L1969.2 897.7 L1976.5 893.7 L1977.0 886.8 L1978.1 883.2 L1980.9 876.2 L1977.0 874.9 L1972.8 870.0 L1969.8 865.4 L1965.6 863.1 L1965.6 856.0 L1969.9 850.0 L1961.9 847.0 L1955.8 846.9 L1950.3 850.0 L1946.9 847.8 L1941.0 845.2 L1935.6 842.7 L1932.4 842.5 L1926.2 841.2 L1923.7 837.3 L1917.8 834.4 L1913.1 830.3 L1907.9 830.5 L1902.7 829.4 L1897.6 826.9 L1893.4 823.7 L1891.5 829.5 L1891.6 831.9 L1889.0 836.8 L1882.3 834.2 L1878.0 832.6 L1871.5 828.1 L1866.4 825.8 L1862.4 825.0 L1856.9 821.9 L1851.8 821.5 L1850.1 816.6 L1845.6 813.8 L1841.5 810.6 L1838.7 806.7 L1834.3 801.8 L1829.6 801.4 L1823.4 797.5 L1817.9 794.7 L1813.0 793.8 L1808.1 790.9 L1803.6 797.2 L1801.5 801.8 L1807.5 803.3 L1812.5 806.2 L1814.9 812.3 L1812.5 817.1 L1806.9 819.7 L1799.4 821.1 L1795.0 822.8 L1789.9 821.9 L1785.3 820.3 L1778.8 816.7 L1773.1 817.1 L1769.0 813.6 L1764.3 808.4 L1758.6 807.8 L1753.3 806.4 L1748.3 807.2 L1742.5 810.6 L1735.5 809.4 L1730.5 807.9 L1725.0 804.0 L1717.3 803.1 L1712.0 800.7 L1706.2 797.8 L1700.9 797.5 L1693.6 799.5 L1687.8 801.8 L1681.9 800.4 L1677.1 800.1 L1671.1 799.7 L1665.9 797.5 L1661.1 796.2 L1656.5 793.1 L1653.6 788.6 L1648.1 783.8 L1644.1 782.2 L1642.1 777.5 L1637.3 772.0 L1633.4 770.9Z" fill="#73b2d8" stroke="#73b2d8" stroke-width="1"/>
<path d="M1799.3 1151.8 L1800.8 1157.4 L1801.2 1165.2 L1799.3 1171.5 L1796.4 1175.9 L1794.9 1182.6 L1792.8 1186.8 L1798.7 1188.5 L1807.3 1187.0 L1812.5 1185.0 L1818.3 1182.6 L1824.4 1179.3 L1830.0 1178.4 L1834.3 1169.7 L1831.7 1165.9 L1830.0 1159.6 L1825.0 1160.3 L1818.5 1160.8 L1812.5 1157.9 L1805.8 1152.6Z" fill="#c7dcef" stroke="#c7dcef" stroke-width="1"/>
<path d="M1792.8 1186.8 L1796.0 1192.1 L1798.6 1197.5 L1801.5 1202.1 L1794.3 1202.3 L1790.6 1204.9 L1786.2 1210.0 L1780.3 1211.0 L1775.8 1212.0 L1769.8 1212.8 L1764.0 1213.3 L1758.3 1214.5 L1752.5 1213.7 L1748.2 1212.3 L1742.5 1213.4 L1737.1 1216.0 L1732.1 1214.7 L1726.1 1210.0 L1720.6 1208.5 L1716.2 1211.2 L1711.4 1212.0 L1704.0 1211.3 L1699.1 1208.6 L1694.4 1209.1 L1689.7 1207.4 L1684.5 1209.7 L1679.8 1212.2 L1675.5 1212.5 L1668.5 1212.0 L1663.9 1210.2 L1659.4 1209.1 L1655.5 1211.4 L1647.6 1214.8 L1643.1 1217.7 L1637.5 1217.8 L1632.1 1217.9 L1628.7 1219.2 L1623.1 1220.9 L1617.2 1221.2 L1611.4 1222.3 L1608.9 1224.7 L1602.5 1224.4 L1598.1 1225.2 L1593.1 1225.9 L1588.6 1229.0 L1583.9 1231.0 L1577.2 1231.8 L1571.4 1232.6 L1567.5 1233.1 L1562.5 1233.1 L1556.1 1235.3 L1550.0 1236.2 L1547.6 1242.2 L1542.6 1246.2 L1537.2 1246.8 L1531.3 1248.5 L1528.0 1250.8 L1524.8 1254.4 L1520.7 1259.4 L1514.0 1263.7 L1520.7 1268.1 L1525.4 1269.6 L1530.3 1268.8 L1535.2 1268.2 L1540.6 1266.7 L1546.9 1267.2 L1553.1 1268.3 L1560.9 1270.3 L1565.6 1276.0 L1569.7 1281.2 L1568.2 1286.8 L1568.8 1292.3 L1567.5 1298.7 L1569.9 1304.4 L1572.9 1310.1 L1577.8 1314.2 L1581.8 1316.6 L1585.7 1321.9 L1589.4 1325.0 L1595.0 1326.9 L1602.5 1329.4 L1606.3 1323.9 L1611.8 1321.7 L1620.0 1320.6 L1624.8 1325.9 L1626.5 1328.9 L1630.9 1333.7 L1631.9 1338.1 L1630.2 1344.0 L1629.5 1348.9 L1627.7 1355.8 L1628.7 1360.0 L1631.9 1363.5 L1635.4 1369.1 L1637.5 1373.8 L1640.6 1378.1 L1643.2 1384.7 L1641.9 1390.6 L1639.2 1396.0 L1636.5 1399.9 L1631.2 1403.8 L1628.2 1406.1 L1626.6 1412.5 L1622.9 1419.0 L1618.6 1422.2 L1613.5 1423.2 L1606.9 1425.6 L1601.5 1429.8 L1598.9 1431.0 L1592.2 1431.7 L1587.2 1434.3 L1587.4 1438.9 L1587.5 1445.2 L1589.7 1452.1 L1590.7 1456.2 L1586.4 1460.5 L1582.8 1463.7 L1578.8 1468.7 L1578.4 1473.7 L1583.4 1472.7 L1589.3 1472.5 L1593.7 1471.5 L1599.0 1475.1 L1603.6 1475.8 L1608.6 1475.0 L1612.8 1477.5 L1618.5 1479.7 L1624.4 1478.1 L1628.5 1481.3 L1634.2 1486.8 L1637.9 1490.4 L1641.9 1495.6 L1646.7 1501.3 L1650.1 1506.8 L1650.6 1513.1 L1657.1 1513.6 L1662.0 1513.8 L1668.1 1515.3 L1668.9 1520.7 L1667.3 1526.3 L1664.9 1531.3 L1663.7 1535.0 L1661.9 1540.4 L1660.3 1545.5 L1658.5 1550.7 L1656.2 1555.6 L1657.2 1559.9 L1663.4 1559.0 L1667.8 1558.7 L1672.5 1561.2 L1678.4 1562.7 L1682.4 1564.3 L1686.9 1567.4 L1693.3 1569.0 L1698.7 1569.9 L1704.2 1570.5 L1710.3 1568.5 L1715.1 1568.3 L1719.2 1571.6 L1727.2 1574.1 L1731.5 1572.1 L1735.8 1570.4 L1739.5 1567.3 L1742.5 1561.2 L1741.0 1555.0 L1740.2 1548.6 L1737.8 1543.0 L1733.7 1539.3 L1727.1 1536.5 L1723.6 1533.4 L1718.4 1528.4 L1716.7 1521.7 L1717.4 1517.5 L1716.2 1510.9 L1722.6 1509.9 L1727.5 1507.2 L1733.7 1504.3 L1740.1 1502.0 L1743.8 1499.5 L1750.4 1495.0 L1753.4 1491.2 L1758.3 1488.2 L1760.3 1483.5 L1763.1 1479.9 L1768.7 1478.1 L1771.6 1473.2 L1774.9 1468.1 L1778.4 1464.9 L1781.8 1460.6 L1781.6 1453.6 L1781.3 1448.0 L1779.7 1443.1 L1782.4 1438.9 L1785.1 1432.3 L1786.9 1428.2 L1790.6 1423.4 L1795.8 1422.4 L1801.4 1421.7 L1808.1 1421.2 L1813.5 1420.8 L1817.8 1424.0 L1821.8 1426.0 L1829.0 1427.6 L1833.8 1428.6 L1838.7 1427.8 L1844.7 1430.9 L1851.8 1434.3 L1857.6 1434.8 L1864.1 1433.9 L1867.4 1431.6 L1873.7 1430.0 L1878.8 1431.3 L1884.3 1436.2 L1891.2 1438.7 L1895.3 1441.5 L1901.7 1444.1 L1908.7 1447.5 L1911.1 1453.9 L1913.1 1458.4 L1917.3 1457.0 L1923.9 1458.1 L1928.1 1459.1 L1932.9 1459.1 L1939.3 1460.6 L1944.6 1458.5 L1950.3 1458.2 L1955.4 1460.2 L1961.1 1460.2 L1965.5 1456.9 L1970.2 1453.7 L1976.5 1454.0 L1982.7 1451.4 L1987.1 1449.1 L1991.8 1443.1 L1996.9 1444.0 L2002.3 1442.2 L2008.0 1442.9 L2014.6 1443.1 L2020.3 1440.9 L2024.9 1437.6 L2028.2 1431.8 L2029.2 1427.7 L2032.2 1421.4 L2035.0 1416.8 L2039.9 1412.5 L2045.7 1410.4 L2047.5 1406.2 L2047.7 1399.9 L2051.4 1394.0 L2054.5 1392.4 L2059.6 1388.4 L2060.1 1382.2 L2064.3 1377.6 L2067.7 1374.7 L2069.4 1369.6 L2072.7 1364.3 L2068.8 1363.0 L2063.8 1361.0 L2057.9 1359.6 L2051.9 1358.9 L2047.6 1357.4 L2042.1 1355.6 L2037.9 1350.8 L2035.6 1346.9 L2032.5 1341.7 L2026.6 1339.5 L2020.0 1339.2 L2015.9 1335.9 L2016.7 1330.3 L2019.6 1323.3 L2020.3 1318.4 L2023.0 1311.5 L2026.1 1307.9 L2029.6 1303.6 L2031.2 1296.5 L2025.7 1297.3 L2020.5 1296.8 L2014.6 1297.5 L2009.3 1296.5 L2007.4 1303.5 L2004.9 1307.5 L1999.8 1311.5 L1991.8 1314.0 L1988.2 1310.6 L1983.5 1306.5 L1976.5 1303.1 L1973.1 1300.2 L1969.4 1294.6 L1964.0 1289.5 L1961.2 1285.6 L1957.2 1283.1 L1951.1 1279.3 L1944.9 1276.6 L1939.3 1276.9 L1933.6 1278.6 L1927.9 1280.7 L1924.2 1281.2 L1917.1 1280.6 L1913.1 1281.2 L1911.5 1275.4 L1909.2 1270.3 L1905.5 1267.1 L1900.0 1265.9 L1894.0 1262.9 L1889.3 1259.8 L1884.7 1256.9 L1880.3 1255.0 L1882.5 1250.0 L1886.7 1242.5 L1889.0 1237.5 L1887.2 1231.7 L1885.9 1224.7 L1886.8 1220.0 L1882.0 1216.7 L1879.0 1211.6 L1876.2 1207.2 L1873.7 1202.5 L1869.6 1199.3 L1864.6 1195.2 L1859.3 1190.4 L1856.2 1187.2 L1850.9 1182.6 L1845.5 1180.6 L1840.4 1181.5 L1833.9 1183.0 L1830.0 1180.6 L1822.7 1181.1 L1819.3 1182.2 L1812.5 1185.0 L1807.3 1187.0 L1798.7 1188.5Z" fill="#73b2d8" stroke="#73b2d8" stroke-width="1"/>
<path d="M2460.5 985.1 L2456.1 982.0 L2454.8 977.4 L2452.3 971.7 L2446.8 968.1 L2439.0 970.9 L2433.6 972.4 L2427.7 970.2 L2424.5 968.0 L2419.1 965.1 L2415.0 961.6 L2409.6 959.3 L2404.6 958.7 L2399.3 958.4 L2394.4 956.9 L2389.9 952.8 L2381.1 954.9 L2378.3 962.0 L2376.8 966.0 L2374.6 972.4 L2369.2 972.7 L2361.7 973.8 L2357.1 974.6 L2352.2 969.9 L2346.6 967.0 L2341.8 963.7 L2335.0 963.7 L2329.9 964.5 L2322.7 962.9 L2317.7 959.3 L2316.8 966.0 L2318.1 970.3 L2316.7 977.5 L2313.3 981.2 L2314.5 986.2 L2311.2 992.1 L2305.6 993.8 L2299.4 993.3 L2294.4 994.4 L2289.3 994.3 L2287.0 1000.4 L2284.9 1004.0 L2284.9 1009.6 L2290.7 1011.6 L2294.4 1014.9 L2297.8 1020.3 L2302.4 1022.7 L2302.2 1028.9 L2304.9 1034.1 L2308.1 1037.6 L2309.0 1044.6 L2306.3 1051.0 L2305.7 1056.9 L2302.4 1062.1 L2308.1 1064.2 L2311.0 1067.3 L2313.3 1073.1 L2314.8 1078.8 L2312.6 1085.5 L2311.2 1090.6 L2306.0 1094.3 L2299.9 1096.2 L2293.7 1094.9 L2288.1 1095.2 L2282.2 1091.5 L2278.9 1088.6 L2271.8 1088.4 L2264.8 1090.8 L2260.9 1092.6 L2254.3 1097.1 L2250.0 1098.6 L2242.4 1100.7 L2238.1 1101.6 L2233.3 1105.9 L2228.0 1112.4 L2222.8 1114.6 L2219.0 1117.8 L2212.7 1119.0 L2214.9 1127.7 L2222.7 1129.6 L2228.0 1129.9 L2226.0 1134.9 L2225.4 1138.9 L2223.3 1143.5 L2221.5 1149.6 L2220.5 1155.3 L2217.1 1162.7 L2221.4 1167.2 L2224.4 1168.9 L2230.3 1169.5 L2237.2 1172.0 L2240.9 1173.9 L2244.7 1175.9 L2249.9 1180.2 L2254.3 1189.0 L2253.0 1195.6 L2250.5 1200.5 L2246.7 1204.4 L2241.2 1206.9 L2246.2 1210.9 L2247.7 1213.7 L2251.7 1217.6 L2254.3 1222.2 L2258.4 1218.9 L2262.4 1216.2 L2268.3 1215.2 L2274.3 1211.9 L2276.2 1206.9 L2280.6 1201.8 L2285.3 1196.6 L2289.3 1193.7 L2290.3 1199.1 L2295.2 1204.1 L2299.2 1205.3 L2302.4 1211.2 L2306.7 1208.2 L2312.3 1208.8 L2318.5 1208.2 L2323.3 1206.0 L2328.7 1202.5 L2330.4 1198.4 L2335.1 1193.2 L2339.5 1191.0 L2344.0 1189.2 L2347.9 1185.6 L2350.5 1180.6 L2354.0 1173.9 L2356.2 1170.0 L2361.4 1166.2 L2365.8 1160.9 L2368.8 1157.5 L2374.0 1154.8 L2380.1 1154.6 L2386.4 1154.6 L2389.9 1151.7 L2397.6 1151.0 L2401.1 1153.7 L2409.0 1157.2 L2414.0 1156.1 L2416.5 1152.1 L2422.5 1148.3 L2424.9 1145.2 L2431.1 1143.0 L2436.8 1143.4 L2442.4 1143.0 L2447.4 1139.9 L2451.1 1135.9 L2454.3 1134.2 L2457.7 1129.9 L2461.5 1124.6 L2466.4 1121.1 L2470.5 1124.0 L2477.1 1127.6 L2481.5 1129.8 L2486.1 1132.1 L2484.4 1138.4 L2481.7 1142.8 L2479.6 1147.4 L2477.1 1150.8 L2473.9 1156.3 L2469.7 1161.8 L2465.7 1165.2 L2462.1 1169.2 L2467.8 1173.2 L2472.0 1178.7 L2474.2 1181.3 L2479.6 1186.7 L2481.7 1190.7 L2486.1 1195.5 L2493.4 1193.8 L2499.0 1191.7 L2503.6 1186.7 L2508.1 1190.2 L2510.1 1192.8 L2514.6 1198.1 L2518.9 1199.9 L2523.6 1204.2 L2529.3 1207.4 L2534.3 1209.9 L2538.3 1214.2 L2544.1 1217.8 L2548.1 1215.5 L2550.6 1209.1 L2553.7 1205.5 L2557.5 1201.1 L2562.9 1196.7 L2567.2 1191.6 L2567.5 1185.1 L2567.9 1180.0 L2568.5 1174.4 L2565.9 1167.5 L2570.3 1160.5 L2574.9 1157.5 L2577.4 1151.1 L2577.5 1145.8 L2579.2 1140.4 L2582.0 1136.7 L2586.1 1131.8 L2589.3 1126.1 L2590.0 1121.2 L2591.8 1115.7 L2593.1 1108.6 L2592.7 1104.4 L2591.6 1097.9 L2592.2 1091.4 L2587.2 1089.6 L2581.1 1086.0 L2576.9 1081.8 L2578.2 1075.0 L2581.2 1068.7 L2582.7 1063.9 L2587.5 1058.5 L2589.0 1054.7 L2590.8 1050.2 L2595.1 1046.5 L2598.9 1042.0 L2600.9 1035.9 L2601.8 1030.4 L2602.1 1025.4 L2602.3 1020.1 L2601.9 1014.2 L2600.9 1008.3 L2597.2 1005.6 L2590.0 1003.8 L2586.5 1003.4 L2581.3 1004.5 L2576.0 1004.7 L2570.3 1003.1 L2567.7 1007.3 L2565.2 1010.4 L2561.0 1014.9 L2557.2 1018.4 L2552.1 1021.0 L2548.7 1025.6 L2547.4 1030.1 L2544.1 1033.7 L2539.4 1029.1 L2537.1 1026.2 L2531.4 1023.5 L2526.6 1020.6 L2521.3 1018.8 L2516.5 1017.2 L2512.7 1013.3 L2509.1 1009.6 L2503.4 1005.9 L2498.8 1006.5 L2493.2 1009.6 L2487.1 1009.3 L2482.8 1007.4 L2477.5 1005.7 L2471.4 1002.7 L2466.6 1001.8 L2462.6 999.4 L2458.7 994.3Z" fill="#c7dcef" stroke="#c7dcef" stroke-width="1"/>
<path d="M2600.9 1008.3 L2606.3 1007.6 L2613.3 1008.3 L2618.4 1008.3 L2622.8 1010.1 L2626.5 1016.6 L2629.4 1020.6 L2633.6 1020.4 L2638.7 1020.4 L2644.9 1019.5 L2651.5 1019.1 L2655.6 1020.8 L2660.0 1024.9 L2662.6 1027.8 L2666.8 1031.2 L2670.4 1036.8 L2673.1 1040.2 L2680.1 1042.2 L2681.8 1046.4 L2688.5 1050.2 L2693.9 1049.8 L2699.3 1052.1 L2704.0 1049.5 L2708.8 1045.1 L2714.7 1042.4 L2714.8 1038.2 L2711.8 1030.9 L2709.7 1026.3 L2708.0 1020.7 L2708.1 1016.2 L2704.6 1012.3 L2702.4 1006.7 L2697.5 1001.4 L2692.8 998.7 L2698.0 997.2 L2703.4 991.5 L2707.7 986.3 L2710.3 981.2 L2714.8 984.3 L2718.5 988.7 L2721.2 994.3 L2723.2 999.6 L2728.2 1002.4 L2734.3 1003.1 L2740.0 1000.4 L2746.4 1000.6 L2751.8 1000.9 L2755.2 995.6 L2758.6 992.3 L2760.2 986.1 L2758.4 979.0 L2763.6 980.4 L2769.4 978.3 L2777.0 976.4 L2782.5 974.6 L2787.4 972.3 L2794.2 970.6 L2800.0 972.4 L2806.7 971.5 L2810.4 967.9 L2814.5 963.0 L2820.3 959.7 L2824.0 957.1 L2820.9 953.0 L2813.1 950.6 L2808.2 946.2 L2804.8 944.9 L2800.0 941.8 L2793.2 941.6 L2787.3 938.8 L2782.5 939.6 L2775.8 937.2 L2769.3 933.1 L2770.8 926.4 L2771.1 920.4 L2772.3 915.5 L2771.5 909.0 L2777.9 905.2 L2784.6 904.6 L2783.4 898.0 L2779.7 894.8 L2775.7 891.1 L2773.2 884.5 L2772.8 878.4 L2776.0 872.2 L2778.8 868.6 L2780.1 863.3 L2781.6 856.5 L2783.5 851.1 L2783.3 845.6 L2778.8 841.9 L2774.1 836.6 L2771.5 832.5 L2765.0 839.0 L2762.4 836.1 L2755.9 832.1 L2753.4 830.6 L2750.2 826.3 L2746.5 822.7 L2742.6 819.5 L2737.8 815.9 L2733.6 812.4 L2731.5 807.4 L2727.4 802.4 L2722.1 801.8 L2719.0 806.5 L2719.0 814.1 L2713.7 818.4 L2709.1 818.1 L2703.9 816.9 L2699.3 819.3 L2697.8 824.4 L2696.3 831.5 L2693.2 836.7 L2688.3 840.8 L2686.2 845.6 L2679.1 840.4 L2677.5 834.6 L2670.5 832.5 L2667.3 830.2 L2662.6 826.0 L2658.3 823.0 L2652.1 819.3 L2647.8 818.6 L2641.8 822.2 L2637.5 823.9 L2631.7 825.1 L2626.9 828.0 L2622.8 829.0 L2617.4 823.8 L2613.0 820.1 L2611.9 815.0 L2605.6 813.2 L2600.9 812.4 L2597.2 809.5 L2591.1 806.2 L2586.9 805.5 L2583.1 804.1 L2576.9 801.8 L2578.7 795.8 L2578.8 792.8 L2575.8 787.6 L2574.8 780.7 L2577.8 777.2 L2579.2 772.3 L2576.9 766.8 L2575.3 761.9 L2571.5 757.4 L2570.6 753.1 L2567.2 748.5 L2563.7 751.5 L2562.8 756.8 L2558.8 761.8 L2555.2 763.4 L2551.5 768.6 L2547.7 770.7 L2544.9 774.4 L2543.0 781.5 L2539.7 784.3 L2541.1 789.1 L2540.8 794.8 L2541.7 799.8 L2543.5 805.8 L2543.1 809.4 L2542.9 816.6 L2543.1 820.3 L2544.1 825.9 L2539.1 828.7 L2533.8 830.4 L2527.9 831.4 L2520.0 830.3 L2514.7 832.1 L2511.0 833.7 L2505.1 835.0 L2500.6 834.5 L2495.0 835.8 L2491.2 838.7 L2485.0 839.0 L2477.9 840.0 L2474.5 839.2 L2467.5 836.8 L2462.6 839.9 L2458.1 845.0 L2455.2 850.0 L2456.0 857.5 L2456.6 863.1 L2462.4 865.7 L2465.1 869.2 L2467.5 876.2 L2470.8 880.5 L2471.3 888.1 L2469.7 893.7 L2467.6 899.0 L2465.1 903.6 L2463.1 909.0 L2467.3 911.4 L2472.1 915.6 L2473.6 918.8 L2476.7 923.9 L2480.3 928.2 L2484.8 930.8 L2489.4 932.3 L2495.5 935.8 L2499.1 938.9 L2502.5 941.8 L2498.5 945.4 L2495.6 952.8 L2493.7 959.3 L2488.6 959.0 L2484.3 961.0 L2477.5 963.1 L2472.7 965.5 L2467.5 965.9 L2467.1 970.7 L2464.3 976.5 L2462.6 981.4 L2460.5 985.1 L2458.7 994.3 L2462.6 999.4 L2466.6 1001.8 L2471.4 1002.7 L2477.5 1005.7 L2482.8 1007.4 L2487.1 1009.3 L2493.2 1009.6 L2498.8 1006.5 L2503.4 1005.9 L2509.1 1009.6 L2512.7 1013.3 L2516.5 1017.2 L2521.3 1018.8 L2526.6 1020.6 L2531.4 1023.5 L2537.1 1026.2 L2539.4 1029.1 L2544.1 1033.7 L2547.4 1030.1 L2548.7 1025.6 L2552.1 1021.0 L2557.2 1018.4 L2561.0 1014.9 L2565.2 1010.4 L2567.7 1007.3 L2570.3 1003.1 L2576.0 1004.7 L2581.3 1004.5 L2586.5 1003.4 L2590.0 1003.8 L2597.2 1005.6Z" fill="#73b2d8" stroke="#73b2d8" stroke-width="1"/>
<path d="M3060.2 996.5 L3066.5 998.5 L3072.4 998.7 L3077.2 1000.8 L3079.9 1005.2 L3087.2 1004.5 L3093.0 1005.2 L3097.0 1002.0 L3097.5 996.3 L3098.2 990.6 L3102.7 985.6 L3102.4 980.2 L3101.2 973.8 L3099.6 965.9 L3093.8 968.3 L3088.2 971.6 L3084.3 976.3 L3079.9 979.0 L3076.3 982.9 L3072.4 984.6 L3065.8 987.9 L3061.7 991.5Z" fill="#73b2d8" stroke="#73b2d8" stroke-width="1"/>
<path d="M2635.0 559.9 L2633.7 561.2 L2626.9 559.5 L2620.2 561.4 L2616.2 565.6 L2609.8 567.7 L2605.3 570.2 L2603.1 574.4 L2598.9 580.0 L2598.3 585.8 L2596.5 591.9 L2590.0 594.1 L2586.2 588.2 L2585.6 580.9 L2590.0 572.2 L2592.7 569.1 L2598.4 564.8 L2600.9 561.2 L2598.7 554.7 L2594.2 550.4 L2588.8 550.6 L2583.3 549.5 L2579.0 543.7 L2572.9 542.9 L2568.1 543.7 L2563.7 541.2 L2557.3 538.4 L2552.8 535.0 L2546.2 532.2 L2541.3 527.8 L2535.7 524.9 L2532.6 527.9 L2526.8 530.7 L2522.2 535.0 L2516.0 539.0 L2513.4 545.9 L2514.7 551.5 L2518.9 555.6 L2520.0 561.2 L2521.7 567.0 L2520.3 573.2 L2515.6 578.7 L2510.5 580.7 L2505.9 580.7 L2499.3 581.9 L2494.2 582.3 L2489.4 585.3 L2487.8 591.1 L2487.4 596.4 L2484.9 600.3 L2482.8 605.0 L2491.6 609.4 L2490.3 616.0 L2492.0 621.5 L2491.7 625.7 L2487.2 631.2 L2492.4 630.2 L2498.7 633.7 L2502.4 635.3 L2508.1 634.1 L2513.4 635.6 L2515.6 644.4 L2519.2 649.7 L2523.4 653.1 L2529.2 653.5 L2533.9 656.2 L2535.3 661.9 L2533.9 668.7 L2533.1 672.8 L2536.9 679.6 L2541.9 683.7 L2547.6 681.2 L2552.8 677.2 L2557.8 675.2 L2564.5 677.0 L2568.8 678.4 L2574.7 677.2 L2577.1 682.7 L2579.6 688.1 L2579.0 692.5 L2574.3 696.6 L2571.6 701.6 L2568.1 705.6 L2564.6 714.3 L2570.0 712.6 L2576.9 710.0 L2584.7 709.3 L2588.2 710.4 L2594.4 714.3 L2598.6 709.3 L2600.9 704.0 L2603.1 699.0 L2606.1 702.0 L2609.7 707.8 L2612.2 711.6 L2612.5 718.1 L2614.0 723.1 L2622.8 727.5 L2626.5 722.4 L2633.7 718.7 L2636.2 712.5 L2636.2 707.9 L2637.8 701.4 L2640.3 696.9 L2645.9 694.9 L2650.2 695.0 L2655.6 696.0 L2662.2 692.5 L2661.5 687.2 L2657.8 679.4 L2655.9 674.7 L2651.2 668.4 L2644.4 670.5 L2640.5 669.6 L2634.0 666.6 L2629.4 666.2 L2627.1 662.8 L2623.8 658.6 L2620.1 655.5 L2616.2 650.9 L2615.9 645.9 L2620.6 640.0 L2626.4 634.6 L2631.5 630.4 L2635.1 627.4 L2640.2 625.2 L2644.4 622.3 L2648.9 619.1 L2655.6 618.1 L2661.6 616.0 L2668.7 617.2 L2676.5 620.0 L2681.8 622.5 L2687.2 623.3 L2691.7 627.6 L2695.0 630.4 L2701.3 627.9 L2702.8 623.4 L2700.9 619.3 L2698.9 613.8 L2696.4 607.0 L2693.8 602.1 L2692.8 597.1 L2690.6 591.9 L2686.2 587.8 L2680.4 583.9 L2673.1 583.1 L2674.2 577.1 L2673.1 572.2 L2680.9 568.1 L2686.2 565.6 L2681.0 563.1 L2675.0 561.4 L2670.9 559.1 L2666.5 556.5 L2661.8 557.1 L2656.0 560.0 L2649.2 561.1 L2645.9 558.7 L2640.4 557.8Z" fill="#c7dcef" stroke="#c7dcef" stroke-width="1"/>
<path d="M2655.6 696.0 L2650.2 695.0 L2645.9 694.9 L2640.3 696.9 L2637.8 701.4 L2636.2 707.9 L2636.2 712.5 L2633.7 718.7 L2626.5 722.4 L2622.8 727.5 L2614.0 723.1 L2612.5 718.1 L2612.2 711.6 L2609.7 707.8 L2606.1 702.0 L2603.1 699.0 L2600.9 704.0 L2598.6 709.3 L2594.4 714.3 L2588.2 710.4 L2584.7 709.3 L2576.9 710.0 L2570.0 712.6 L2564.6 714.3 L2565.0 719.9 L2564.2 725.8 L2565.2 733.7 L2569.0 738.4 L2569.7 742.8 L2567.2 748.5 L2570.6 753.1 L2571.5 757.4 L2575.3 761.9 L2576.9 766.8 L2579.2 772.3 L2577.8 777.2 L2574.8 780.7 L2575.8 787.6 L2578.8 792.8 L2578.7 795.8 L2576.9 801.8 L2583.1 804.1 L2586.9 805.5 L2591.1 806.2 L2597.2 809.5 L2600.9 812.4 L2605.6 813.2 L2611.9 815.0 L2613.0 820.1 L2617.4 823.8 L2622.8 829.0 L2626.9 828.0 L2631.7 825.1 L2637.5 823.9 L2641.8 822.2 L2647.8 818.6 L2652.1 819.3 L2658.3 823.0 L2662.6 826.0 L2667.3 830.2 L2670.5 832.5 L2677.5 834.6 L2679.1 840.4 L2686.2 845.6 L2688.3 840.8 L2693.2 836.7 L2696.3 831.5 L2697.8 824.4 L2699.3 819.3 L2703.9 816.9 L2709.1 818.1 L2713.7 818.4 L2719.0 814.1 L2719.0 806.5 L2722.1 801.8 L2717.2 799.2 L2712.6 794.6 L2711.6 788.7 L2710.5 783.0 L2713.8 777.8 L2706.8 774.4 L2703.7 769.0 L2699.1 771.4 L2694.2 771.4 L2688.4 774.7 L2682.2 773.5 L2677.1 772.6 L2671.4 773.4 L2666.5 775.4 L2659.8 776.6 L2655.6 775.6 L2655.8 767.8 L2654.4 762.7 L2653.6 757.1 L2650.3 751.5 L2652.4 743.3 L2654.7 738.4 L2658.6 732.2 L2660.9 725.7 L2664.3 720.9 L2662.8 715.9 L2661.4 711.8 L2656.9 706.0 L2654.4 701.7Z" fill="#f7fbff" stroke="#f7fbff" stroke-width="1"/>
<path d="M967.1 1338.1 L967.0 1345.1 L963.2 1351.0 L962.8 1355.6 L962.6 1362.3 L958.8 1368.5 L958.4 1373.1 L954.2 1371.6 L947.5 1372.3 L942.1 1373.8 L938.1 1373.6 L933.5 1373.8 L927.8 1375.3 L922.4 1379.1 L918.8 1382.7 L914.8 1386.3 L912.7 1389.2 L908.0 1394.2 L903.7 1397.2 L910.3 1397.6 L914.4 1397.1 L921.3 1400.3 L924.8 1404.0 L930.0 1405.9 L934.9 1408.4 L940.9 1407.6 L945.5 1408.6 L951.3 1409.9 L956.5 1409.9 L961.2 1411.6 L965.0 1414.7 L970.4 1415.5 L975.8 1417.5 L979.2 1418.8 L985.7 1420.3 L991.2 1419.8 L995.5 1420.1 L1000.0 1423.4 L1004.2 1426.2 L1008.9 1427.6 L1014.7 1430.7 L1017.5 1434.3 L1023.6 1436.9 L1027.9 1439.2 L1031.4 1442.0 L1035.0 1447.5 L1036.1 1452.0 L1040.4 1457.4 L1043.7 1462.8 L1046.6 1469.8 L1049.8 1471.5 L1056.4 1474.7 L1060.1 1479.5 L1063.4 1482.5 L1066.8 1486.1 L1067.2 1492.1 L1067.8 1498.7 L1069.9 1502.7 L1073.3 1509.8 L1076.5 1513.1 L1081.4 1516.4 L1085.0 1519.4 L1086.9 1524.5 L1087.4 1530.6 L1089.3 1537.7 L1092.3 1542.3 L1096.4 1545.4 L1102.8 1548.1 L1107.7 1548.8 L1114.7 1547.1 L1120.3 1548.1 L1124.8 1545.8 L1131.1 1547.2 L1139.8 1546.9 L1144.3 1543.7 L1149.5 1539.5 L1156.0 1539.5 L1163.1 1541.8 L1166.4 1541.7 L1172.7 1537.1 L1176.3 1531.8 L1177.8 1526.8 L1180.5 1521.0 L1181.5 1515.3 L1183.8 1509.8 L1189.4 1504.4 L1192.4 1500.0 L1196.2 1496.6 L1198.1 1490.1 L1200.0 1485.9 L1205.3 1481.6 L1207.7 1478.1 L1208.9 1472.8 L1210.5 1469.6 L1212.5 1462.9 L1212.1 1458.4 L1216.9 1454.8 L1222.3 1452.0 L1227.5 1450.4 L1231.8 1445.3 L1236.6 1444.3 L1242.2 1442.3 L1247.3 1439.6 L1250.4 1437.0 L1254.8 1435.6 L1261.4 1433.9 L1266.2 1431.3 L1270.7 1430.5 L1265.2 1426.5 L1261.6 1424.9 L1257.1 1423.4 L1250.9 1419.7 L1247.1 1416.8 L1250.2 1414.0 L1253.0 1409.7 L1258.0 1405.9 L1261.5 1403.1 L1266.8 1399.3 L1261.3 1399.3 L1255.8 1398.5 L1249.1 1394.8 L1243.8 1391.6 L1238.4 1390.6 L1232.4 1388.8 L1227.4 1381.8 L1234.0 1377.5 L1231.1 1373.4 L1227.4 1368.7 L1221.6 1366.7 L1217.9 1364.6 L1212.1 1364.3 L1205.7 1361.3 L1201.3 1360.2 L1194.6 1355.6 L1196.8 1346.9 L1191.4 1342.4 L1188.4 1338.3 L1186.1 1334.7 L1179.3 1331.5 L1175.9 1325.4 L1172.0 1321.2 L1168.4 1318.4 L1159.6 1320.6 L1156.6 1326.2 L1153.1 1333.7 L1147.7 1332.9 L1142.6 1331.2 L1135.6 1331.5 L1130.2 1331.0 L1125.4 1333.5 L1119.2 1335.1 L1113.7 1333.7 L1108.3 1337.3 L1104.9 1340.3 L1097.4 1342.0 L1093.0 1339.9 L1087.7 1335.7 L1080.9 1335.9 L1079.4 1342.8 L1074.3 1349.0 L1069.9 1347.4 L1064.8 1348.0 L1058.9 1348.8 L1053.0 1348.2 L1048.2 1347.0 L1043.7 1349.0 L1037.2 1348.0 L1030.6 1342.5 L1021.8 1344.7 L1017.3 1346.2 L1010.0 1343.4 L1005.2 1341.6 L1000.7 1341.9 L992.5 1342.1 L987.2 1343.5 L982.5 1342.5 L976.4 1340.9 L971.3 1338.2Z" fill="#2979b9" stroke="#2979b9" stroke-width="1"/>
<path d="M1076.5 1513.1 L1073.3 1518.3 L1068.3 1520.1 L1062.6 1519.4 L1057.0 1520.8 L1050.6 1523.6 L1046.9 1526.0 L1043.7 1530.6 L1043.2 1535.4 L1041.2 1541.1 L1039.4 1548.1 L1037.3 1550.7 L1035.0 1556.8 L1036.7 1563.1 L1035.0 1569.9 L1030.6 1573.4 L1029.8 1578.0 L1026.6 1582.7 L1021.5 1585.2 L1014.1 1588.4 L1011.2 1590.2 L1008.7 1596.2 L1005.1 1601.7 L1000.6 1604.5 L996.1 1607.1 L991.0 1611.1 L986.8 1615.9 L983.3 1622.0 L981.4 1626.5 L977.6 1630.3 L973.7 1633.6 L971.5 1639.9 L975.7 1641.9 L982.2 1640.5 L986.8 1637.8 L991.7 1641.4 L994.9 1646.1 L996.0 1650.9 L996.7 1656.1 L1000.0 1659.6 L1005.4 1665.0 L1013.1 1666.2 L1015.6 1669.8 L1019.1 1675.8 L1021.4 1677.7 L1026.2 1681.5 L1029.1 1686.5 L1031.3 1690.6 L1035.0 1696.8 L1039.0 1694.9 L1046.2 1693.1 L1051.5 1694.0 L1055.8 1695.4 L1061.2 1694.6 L1068.2 1696.7 L1072.6 1701.1 L1076.5 1703.4 L1082.6 1704.8 L1086.6 1706.7 L1089.9 1707.4 L1096.2 1707.7 L1098.6 1712.4 L1104.9 1715.1 L1109.7 1715.6 L1113.7 1718.7 L1118.6 1722.6 L1119.8 1726.2 L1122.5 1732.0 L1124.6 1736.2 L1127.6 1740.8 L1133.4 1742.9 L1137.8 1743.7 L1143.6 1747.4 L1148.2 1750.1 L1153.1 1751.5 L1159.6 1755.9 L1166.1 1754.4 L1170.7 1753.6 L1175.5 1751.0 L1181.9 1749.3 L1188.1 1747.1 L1192.4 1751.5 L1196.8 1754.8 L1197.3 1756.9 L1198.0 1757.6 L1203.4 1760.2 L1207.7 1756.8 L1214.2 1757.1 L1221.8 1757.7 L1227.4 1755.9 L1231.7 1757.7 L1237.2 1758.3 L1242.7 1762.4 L1244.8 1755.5 L1247.7 1752.0 L1251.6 1746.0 L1251.5 1740.6 L1257.0 1738.1 L1262.6 1737.9 L1266.8 1736.2 L1268.4 1730.7 L1269.1 1725.4 L1269.0 1718.7 L1265.6 1715.0 L1259.8 1713.2 L1254.7 1711.2 L1249.6 1707.4 L1245.2 1705.1 L1239.1 1704.3 L1234.0 1703.4 L1234.5 1697.0 L1231.9 1691.6 L1229.6 1688.1 L1230.1 1683.1 L1229.4 1676.3 L1230.4 1670.4 L1234.0 1666.2 L1237.4 1661.8 L1238.2 1655.8 L1236.2 1648.7 L1232.0 1642.1 L1231.4 1638.1 L1231.9 1630.3 L1231.8 1624.6 L1227.7 1624.4 L1221.0 1624.4 L1215.1 1621.8 L1212.2 1619.3 L1205.6 1620.3 L1201.5 1619.5 L1195.7 1618.7 L1188.5 1616.8 L1185.2 1615.2 L1179.3 1613.7 L1179.1 1606.3 L1178.7 1600.1 L1174.9 1596.2 L1169.6 1591.5 L1164.8 1591.1 L1159.6 1592.7 L1153.2 1591.3 L1148.7 1589.6 L1143.3 1587.6 L1137.5 1585.1 L1132.9 1584.3 L1129.0 1580.9 L1123.7 1577.4 L1120.1 1573.8 L1118.5 1571.6 L1115.9 1565.6 L1116.9 1559.6 L1118.5 1555.3 L1120.3 1548.1 L1114.7 1547.1 L1107.7 1548.8 L1102.8 1548.1 L1096.4 1545.4 L1092.3 1542.3 L1089.3 1537.7 L1087.4 1530.6 L1086.9 1524.5 L1085.0 1519.4 L1081.4 1516.4Z" fill="#08306b" stroke="#08306b" stroke-width="1"/>
<path d="M971.5 1639.9 L966.9 1643.9 L962.6 1645.3 L957.5 1646.9 L951.8 1646.5 L949.7 1651.9 L950.0 1657.4 L952.2 1664.9 L954.3 1670.2 L954.0 1674.9 L955.2 1680.4 L956.4 1686.0 L956.9 1690.8 L955.4 1694.0 L953.2 1699.7 L953.2 1705.1 L956.2 1709.9 L959.8 1714.8 L963.6 1716.7 L967.9 1721.7 L970.8 1725.0 L976.6 1728.0 L980.1 1730.9 L982.5 1736.2 L984.7 1740.9 L988.7 1743.5 L993.9 1745.9 L998.4 1751.6 L1001.1 1756.5 L1004.3 1760.2 L1006.2 1766.6 L1010.3 1768.6 L1018.3 1771.1 L1023.0 1775.6 L1025.4 1779.2 L1030.6 1782.1 L1037.7 1784.0 L1042.2 1784.2 L1048.1 1786.5 L1052.8 1790.1 L1061.2 1793.0 L1067.1 1787.2 L1069.9 1782.1 L1064.3 1777.1 L1063.4 1771.2 L1068.5 1769.3 L1075.3 1769.6 L1081.8 1769.1 L1085.3 1767.8 L1091.8 1769.0 L1096.6 1769.3 L1102.0 1765.7 L1108.0 1762.2 L1113.7 1762.4 L1117.8 1766.9 L1122.4 1771.2 L1125.0 1766.7 L1129.7 1763.2 L1134.0 1760.9 L1140.6 1758.1 L1144.3 1753.7 L1148.6 1754.2 L1153.4 1756.7 L1159.6 1755.9 L1153.1 1751.5 L1148.2 1750.1 L1143.6 1747.4 L1137.8 1743.7 L1133.4 1742.9 L1127.6 1740.8 L1124.6 1736.2 L1122.5 1732.0 L1119.8 1726.2 L1118.6 1722.6 L1113.7 1718.7 L1109.7 1715.6 L1104.9 1715.1 L1098.6 1712.4 L1096.2 1707.7 L1089.9 1707.4 L1086.6 1706.7 L1082.6 1704.8 L1076.5 1703.4 L1072.6 1701.1 L1068.2 1696.7 L1061.2 1694.6 L1055.8 1695.4 L1051.5 1694.0 L1046.2 1693.1 L1039.0 1694.9 L1035.0 1696.8 L1031.3 1690.6 L1029.1 1686.5 L1026.2 1681.5 L1021.4 1677.7 L1019.1 1675.8 L1015.6 1669.8 L1013.1 1666.2 L1005.4 1665.0 L1000.0 1659.6 L996.7 1656.1 L996.0 1650.9 L994.9 1646.1 L991.7 1641.4 L986.8 1637.8 L982.2 1640.5 L975.7 1641.9Z" fill="#08306b" stroke="#08306b" stroke-width="1"/>
<path d="M1030.6 1782.1 L1035.8 1787.0 L1038.3 1790.4 L1042.9 1795.7 L1045.9 1801.8 L1052.2 1805.1 L1053.9 1808.4 L1055.9 1814.9 L1055.3 1821.2 L1057.2 1826.0 L1058.5 1832.1 L1060.3 1835.9 L1066.0 1835.6 L1073.1 1838.1 L1078.7 1841.8 L1081.9 1845.9 L1083.5 1851.7 L1087.3 1854.5 L1092.6 1859.0 L1093.1 1862.4 L1095.9 1868.7 L1099.9 1872.6 L1103.3 1876.3 L1106.5 1880.6 L1107.4 1885.2 L1111.0 1889.5 L1113.9 1894.8 L1116.9 1896.3 L1120.7 1901.0 L1121.3 1906.8 L1121.9 1911.3 L1125.8 1915.3 L1127.9 1920.6 L1128.1 1926.3 L1130.8 1930.6 L1136.7 1934.2 L1138.1 1940.3 L1137.6 1943.2 L1139.3 1949.1 L1141.7 1953.7 L1148.9 1954.6 L1154.8 1951.8 L1160.4 1949.4 L1165.6 1950.4 L1170.5 1946.6 L1175.3 1942.9 L1180.9 1939.5 L1181.9 1934.0 L1184.8 1929.9 L1190.1 1925.5 L1194.1 1922.0 L1197.5 1917.1 L1202.8 1915.4 L1201.4 1907.2 L1201.6 1903.5 L1205.0 1895.7 L1203.4 1890.3 L1200.4 1886.0 L1194.1 1882.6 L1199.0 1878.0 L1201.9 1871.9 L1205.9 1867.7 L1211.5 1867.3 L1217.6 1867.6 L1220.9 1866.8 L1226.8 1865.4 L1231.2 1862.9 L1234.5 1857.8 L1239.0 1855.4 L1244.1 1852.7 L1247.5 1848.1 L1251.5 1845.5 L1245.3 1844.9 L1238.4 1839.0 L1235.0 1832.7 L1231.8 1825.9 L1226.4 1825.2 L1220.7 1822.4 L1218.2 1821.0 L1212.2 1817.9 L1206.2 1815.7 L1202.4 1815.7 L1196.8 1814.9 L1194.3 1809.9 L1192.4 1804.0 L1198.2 1800.2 L1203.4 1797.4 L1204.9 1790.8 L1204.1 1787.4 L1199.0 1781.3 L1195.5 1776.5 L1196.8 1771.2 L1197.5 1767.1 L1198.0 1759.6 L1197.3 1756.9 L1192.4 1751.5 L1188.1 1747.1 L1181.9 1749.3 L1175.5 1751.0 L1170.7 1753.6 L1166.1 1754.4 L1159.6 1755.9 L1153.4 1756.7 L1148.6 1754.2 L1144.3 1753.7 L1140.6 1758.1 L1134.0 1760.9 L1129.7 1763.2 L1125.0 1766.7 L1122.4 1771.2 L1117.8 1766.9 L1113.7 1762.4 L1108.0 1762.2 L1102.0 1765.7 L1096.6 1769.3 L1091.8 1769.0 L1085.3 1767.8 L1081.8 1769.1 L1075.3 1769.6 L1068.5 1769.3 L1063.4 1771.2 L1064.3 1777.1 L1069.9 1782.1 L1067.1 1787.2 L1061.2 1793.0 L1052.8 1790.1 L1048.1 1786.5 L1042.2 1784.2 L1037.7 1784.0Z" fill="#2979b9" stroke="#2979b9" stroke-width="1"/>
<path d="M1393.7 1679.3 L1387.8 1682.0 L1382.6 1683.6 L1378.4 1685.3 L1373.2 1686.0 L1367.4 1685.9 L1361.0 1690.8 L1358.7 1696.8 L1353.8 1695.1 L1347.2 1691.6 L1342.9 1690.2 L1336.8 1688.1 L1331.5 1683.8 L1327.4 1683.3 L1321.1 1682.5 L1316.5 1680.3 L1312.1 1679.8 L1306.2 1681.5 L1299.9 1679.7 L1294.8 1678.4 L1291.2 1675.7 L1286.5 1674.8 L1279.9 1674.9 L1276.2 1671.5 L1269.1 1668.7 L1264.6 1668.4 L1256.5 1668.6 L1251.4 1666.0 L1247.4 1662.6 L1240.6 1661.8 L1238.4 1653.8 L1236.2 1648.7 L1238.2 1655.8 L1237.4 1661.8 L1234.0 1666.2 L1230.4 1670.4 L1229.4 1676.3 L1230.1 1683.1 L1229.6 1688.1 L1231.9 1691.6 L1234.5 1697.0 L1234.0 1703.4 L1239.1 1704.3 L1245.2 1705.1 L1249.6 1707.4 L1254.7 1711.2 L1259.8 1713.2 L1265.6 1715.0 L1269.0 1718.7 L1269.1 1725.4 L1268.4 1730.7 L1266.8 1736.2 L1262.6 1737.9 L1257.0 1738.1 L1251.5 1740.6 L1251.6 1746.0 L1247.7 1752.0 L1244.8 1755.5 L1242.7 1762.4 L1237.2 1758.3 L1231.7 1757.7 L1227.4 1755.9 L1221.8 1757.7 L1214.2 1757.1 L1207.7 1756.8 L1203.4 1760.2 L1198.0 1757.6 L1197.3 1756.9 L1198.0 1759.6 L1197.5 1767.1 L1196.8 1771.2 L1195.5 1776.5 L1199.0 1781.3 L1204.1 1787.4 L1204.9 1790.8 L1203.4 1797.4 L1198.2 1800.2 L1192.4 1804.0 L1194.3 1809.9 L1196.8 1814.9 L1202.4 1815.7 L1206.2 1815.7 L1212.2 1817.9 L1218.2 1821.0 L1220.7 1822.4 L1226.4 1825.2 L1231.8 1825.9 L1235.0 1832.7 L1238.4 1839.0 L1245.3 1844.9 L1251.5 1845.5 L1255.9 1849.9 L1262.1 1847.5 L1265.9 1845.0 L1271.2 1843.4 L1276.3 1845.3 L1279.9 1849.9 L1284.2 1847.7 L1291.3 1847.3 L1297.4 1845.5 L1302.1 1842.7 L1308.6 1841.4 L1314.5 1841.9 L1319.1 1841.5 L1323.7 1839.0 L1328.3 1839.2 L1334.4 1841.9 L1339.0 1843.4 L1343.4 1840.0 L1347.7 1838.0 L1353.1 1837.8 L1358.7 1836.8 L1364.1 1838.1 L1371.0 1838.5 L1378.3 1836.8 L1383.9 1840.3 L1388.7 1844.8 L1393.7 1845.5 L1397.5 1844.6 L1403.5 1844.6 L1409.3 1844.5 L1413.3 1841.2 L1419.3 1840.2 L1423.5 1842.2 L1427.4 1845.4 L1433.0 1845.5 L1436.3 1841.5 L1441.2 1838.4 L1446.2 1836.8 L1440.6 1833.6 L1437.4 1830.2 L1440.1 1827.0 L1445.5 1822.3 L1447.9 1819.4 L1450.8 1815.5 L1454.9 1810.5 L1457.8 1805.2 L1458.0 1800.3 L1459.5 1794.8 L1459.3 1790.9 L1465.2 1790.2 L1471.3 1789.3 L1475.3 1787.0 L1479.6 1784.6 L1485.6 1783.9 L1492.1 1784.3 L1498.4 1781.8 L1505.2 1779.9 L1505.5 1772.6 L1508.2 1767.0 L1511.8 1762.4 L1507.4 1755.9 L1502.6 1751.4 L1500.3 1747.0 L1497.9 1743.7 L1496.5 1738.4 L1495.0 1731.0 L1493.1 1725.6 L1489.9 1720.9 L1485.1 1717.7 L1479.2 1713.8 L1474.6 1709.9 L1470.4 1704.8 L1467.8 1700.5 L1463.6 1694.6 L1460.0 1692.6 L1454.6 1691.9 L1448.0 1689.6 L1443.7 1686.4 L1439.6 1685.9 L1434.8 1686.1 L1428.7 1683.1 L1425.7 1682.2 L1419.9 1681.5 L1417.1 1675.5 L1412.6 1672.8 L1406.8 1670.6 L1403.4 1672.7 L1398.0 1676.8Z" fill="#2979b9" stroke="#2979b9" stroke-width="1"/>
<path d="M1365.2 1569.9 L1368.8 1573.8 L1371.8 1579.8 L1371.8 1587.4 L1372.0 1592.1 L1376.5 1598.7 L1379.5 1604.1 L1378.3 1609.3 L1380.0 1615.7 L1383.6 1619.6 L1384.9 1624.6 L1379.0 1629.4 L1374.5 1633.1 L1369.6 1635.6 L1371.5 1640.3 L1371.8 1646.5 L1373.3 1652.6 L1376.5 1655.8 L1381.2 1659.7 L1384.9 1661.8 L1386.6 1669.2 L1391.1 1673.9 L1393.7 1679.3 L1398.0 1676.8 L1403.4 1672.7 L1406.8 1670.6 L1412.6 1672.8 L1417.1 1675.5 L1419.9 1681.5 L1425.7 1682.2 L1428.7 1683.1 L1434.8 1686.1 L1439.6 1685.9 L1443.7 1686.4 L1448.0 1689.6 L1454.6 1691.9 L1460.0 1692.6 L1463.6 1694.6 L1467.0 1688.3 L1470.0 1684.4 L1476.8 1681.5 L1477.3 1673.9 L1479.1 1669.9 L1483.3 1664.0 L1490.2 1661.9 L1493.0 1659.4 L1496.5 1653.1 L1498.8 1648.5 L1502.7 1643.1 L1506.8 1639.4 L1509.6 1633.4 L1514.3 1637.5 L1518.5 1643.1 L1522.0 1648.9 L1524.9 1653.1 L1529.8 1656.4 L1531.8 1659.6 L1533.6 1666.2 L1539.5 1664.0 L1543.2 1663.7 L1548.8 1661.9 L1553.3 1657.4 L1559.9 1659.2 L1566.2 1660.8 L1573.0 1659.6 L1575.5 1653.6 L1578.8 1649.9 L1586.1 1646.5 L1592.5 1648.2 L1596.5 1651.3 L1601.6 1655.6 L1607.3 1657.3 L1612.4 1657.4 L1616.9 1654.7 L1621.1 1650.0 L1625.5 1646.5 L1624.7 1641.3 L1625.1 1633.6 L1626.6 1626.8 L1630.6 1621.8 L1633.4 1616.8 L1635.3 1609.3 L1631.4 1606.2 L1628.8 1599.8 L1628.7 1594.0 L1635.2 1591.6 L1639.4 1587.4 L1644.1 1583.1 L1645.4 1577.9 L1649.1 1573.7 L1655.0 1572.1 L1656.4 1567.5 L1657.2 1559.9 L1651.3 1559.2 L1648.6 1556.5 L1644.7 1552.6 L1639.5 1550.4 L1636.3 1547.8 L1633.1 1543.3 L1627.2 1540.2 L1623.7 1538.8 L1618.9 1535.0 L1616.8 1529.8 L1611.7 1526.5 L1606.0 1525.6 L1599.3 1524.0 L1595.5 1517.5 L1591.4 1513.3 L1588.8 1509.8 L1583.0 1504.9 L1577.4 1504.3 L1574.1 1499.2 L1571.4 1496.3 L1567.8 1492.4 L1562.1 1489.0 L1556.2 1493.1 L1552.8 1497.5 L1550.7 1504.0 L1549.0 1508.7 L1545.3 1513.6 L1544.5 1520.6 L1540.2 1526.2 L1536.4 1524.5 L1530.2 1522.7 L1524.9 1524.0 L1519.7 1524.7 L1513.2 1524.0 L1507.4 1526.2 L1501.2 1531.8 L1496.6 1532.9 L1489.9 1535.0 L1489.7 1541.5 L1491.9 1544.9 L1493.4 1549.5 L1493.2 1555.5 L1492.1 1561.2 L1488.8 1566.8 L1487.3 1571.7 L1487.7 1576.5 L1492.1 1580.4 L1494.3 1586.3 L1496.5 1591.8 L1493.8 1595.9 L1491.8 1604.4 L1487.7 1609.3 L1481.8 1611.1 L1476.4 1611.8 L1472.3 1613.5 L1468.0 1615.9 L1464.4 1617.9 L1457.1 1619.2 L1451.9 1617.9 L1446.9 1618.8 L1441.3 1622.8 L1437.4 1624.6 L1432.3 1624.7 L1427.1 1627.1 L1419.9 1629.0 L1425.3 1624.8 L1426.5 1618.1 L1422.2 1613.7 L1421.4 1606.9 L1424.3 1600.6 L1423.9 1596.5 L1420.7 1591.2 L1417.2 1585.8 L1417.7 1580.9 L1422.2 1575.9 L1425.5 1570.6 L1426.5 1565.6 L1424.5 1559.4 L1426.4 1553.9 L1425.4 1547.4 L1422.1 1543.7 L1421.2 1538.9 L1422.0 1532.3 L1419.9 1526.2 L1413.0 1527.3 L1406.8 1524.0 L1399.8 1525.6 L1393.7 1530.6 L1387.9 1531.2 L1381.1 1533.4 L1376.2 1537.1 L1373.5 1542.0 L1367.4 1548.1 L1370.0 1553.3 L1369.0 1558.6 L1365.8 1563.6Z" fill="#73b2d8" stroke="#73b2d8" stroke-width="1"/>
<path d="M1419.9 1526.2 L1422.0 1532.3 L1421.2 1538.9 L1422.1 1543.7 L1425.4 1547.4 L1426.4 1553.9 L1424.5 1559.4 L1426.5 1565.6 L1425.5 1570.6 L1422.2 1575.9 L1417.7 1580.9 L1417.2 1585.8 L1420.7 1591.2 L1423.9 1596.5 L1424.3 1600.6 L1421.4 1606.9 L1422.2 1613.7 L1426.5 1618.1 L1425.3 1624.8 L1419.9 1629.0 L1427.1 1627.1 L1432.3 1624.7 L1437.4 1624.6 L1441.3 1622.8 L1446.9 1618.8 L1451.9 1617.9 L1457.1 1619.2 L1464.4 1617.9 L1468.0 1615.9 L1472.3 1613.5 L1476.4 1611.8 L1481.8 1611.1 L1487.7 1609.3 L1491.8 1604.4 L1493.8 1595.9 L1496.5 1591.8 L1494.3 1586.3 L1492.1 1580.4 L1487.7 1576.5 L1487.3 1571.7 L1488.8 1566.8 L1492.1 1561.2 L1493.2 1555.5 L1493.4 1549.5 L1491.9 1544.9 L1489.7 1541.5 L1489.9 1535.0 L1496.6 1532.9 L1501.2 1531.8 L1507.4 1526.2 L1513.2 1524.0 L1519.7 1524.7 L1524.9 1524.0 L1530.2 1522.7 L1536.4 1524.5 L1540.2 1526.2 L1544.5 1520.6 L1545.3 1513.6 L1549.0 1508.7 L1550.7 1504.0 L1552.8 1497.5 L1556.2 1493.1 L1562.1 1489.0 L1567.8 1492.4 L1571.4 1496.3 L1574.1 1499.2 L1577.4 1504.3 L1583.0 1504.9 L1588.8 1509.8 L1591.4 1513.3 L1595.5 1517.5 L1599.3 1524.0 L1606.0 1525.6 L1611.7 1526.5 L1616.8 1529.8 L1618.9 1535.0 L1623.7 1538.8 L1627.2 1540.2 L1633.1 1543.3 L1636.3 1547.8 L1639.5 1550.4 L1644.7 1552.6 L1648.6 1556.5 L1651.3 1559.2 L1657.2 1559.9 L1656.2 1555.6 L1658.5 1550.7 L1660.3 1545.5 L1661.9 1540.4 L1663.7 1535.0 L1664.9 1531.3 L1667.3 1526.3 L1668.9 1520.7 L1668.1 1515.3 L1662.0 1513.8 L1657.1 1513.6 L1650.6 1513.1 L1650.1 1506.8 L1646.7 1501.3 L1641.9 1495.6 L1637.9 1490.4 L1634.2 1486.8 L1628.5 1481.3 L1624.4 1478.1 L1618.5 1479.7 L1612.8 1477.5 L1608.6 1475.0 L1603.6 1475.8 L1599.0 1475.1 L1593.7 1471.5 L1589.3 1472.5 L1583.4 1472.7 L1578.4 1473.7 L1578.8 1468.7 L1582.8 1463.7 L1586.4 1460.5 L1590.7 1456.2 L1586.3 1454.5 L1578.9 1452.8 L1572.2 1451.6 L1567.6 1450.6 L1562.1 1449.7 L1557.3 1448.2 L1552.1 1448.1 L1545.0 1444.5 L1542.4 1441.4 L1535.8 1440.9 L1529.0 1438.3 L1524.1 1435.4 L1518.3 1433.0 L1514.0 1430.0 L1507.0 1427.9 L1502.6 1424.4 L1500.6 1421.2 L1497.1 1417.1 L1492.1 1412.5 L1494.4 1407.2 L1496.0 1402.5 L1496.3 1398.8 L1497.9 1392.5 L1500.8 1388.4 L1499.0 1382.1 L1500.9 1377.3 L1502.0 1372.2 L1500.2 1366.0 L1498.6 1360.0 L1494.3 1358.6 L1488.2 1356.0 L1485.2 1352.2 L1482.0 1347.2 L1477.0 1344.8 L1472.4 1342.5 L1465.7 1343.1 L1460.4 1340.6 L1454.0 1335.9 L1454.7 1340.6 L1454.1 1345.7 L1454.0 1351.2 L1454.4 1356.7 L1454.3 1363.0 L1453.5 1367.0 L1451.7 1372.9 L1450.5 1377.5 L1456.9 1381.3 L1462.0 1381.9 L1467.4 1384.5 L1472.4 1388.4 L1467.8 1389.9 L1463.4 1394.2 L1459.7 1398.2 L1454.9 1403.7 L1454.2 1410.8 L1452.6 1413.9 L1452.7 1421.2 L1447.5 1425.7 L1444.3 1429.4 L1440.0 1433.3 L1436.1 1439.4 L1433.0 1443.1 L1435.8 1446.9 L1439.9 1452.5 L1441.2 1456.3 L1442.6 1461.1 L1444.3 1466.8 L1443.8 1472.3 L1445.9 1478.6 L1450.5 1482.5 L1446.9 1488.6 L1445.6 1492.2 L1443.8 1498.8 L1441.8 1504.3 L1440.0 1508.9 L1433.7 1512.4 L1428.0 1516.3 L1426.5 1521.8Z" fill="#73b2d8" stroke="#73b2d8" stroke-width="1"/>
<path d="M855.6 1500.0 L860.5 1504.1 L863.1 1509.7 L864.3 1515.3 L863.3 1520.8 L860.1 1526.8 L855.6 1530.6 L860.8 1533.6 L863.2 1538.0 L864.3 1543.7 L869.4 1547.0 L873.2 1548.6 L878.0 1549.0 L884.2 1552.6 L886.2 1556.8 L892.0 1559.1 L896.9 1562.1 L901.6 1563.9 L905.4 1565.5 L912.5 1565.6 L915.3 1570.3 L920.1 1576.0 L923.8 1580.5 L930.0 1583.1 L930.9 1590.0 L933.8 1594.8 L936.2 1597.6 L939.1 1604.3 L940.2 1608.2 L943.1 1613.7 L943.6 1618.3 L944.8 1623.5 L946.9 1630.1 L949.0 1635.9 L951.8 1639.9 L958.4 1637.8 L958.8 1632.9 L959.6 1628.0 L959.4 1622.7 L957.3 1617.8 L955.0 1611.6 L955.4 1607.7 L958.0 1602.7 L958.4 1596.2 L954.4 1593.6 L951.5 1588.6 L947.5 1583.1 L944.3 1579.7 L939.5 1574.8 L936.0 1571.9 L930.0 1569.9 L927.5 1565.3 L924.0 1558.3 L921.1 1554.0 L915.9 1549.1 L912.5 1545.9 L908.0 1544.0 L904.1 1541.4 L899.8 1536.2 L895.0 1535.0 L900.1 1532.0 L906.9 1530.4 L912.5 1530.6 L912.4 1522.2 L914.7 1517.5 L911.6 1512.3 L903.7 1508.7 L900.6 1505.2 L896.5 1500.6 L892.8 1498.5 L886.2 1498.6 L882.3 1499.5 L876.4 1500.9 L869.9 1499.7 L866.2 1497.9 L861.9 1498.3Z" fill="#2979b9" stroke="#2979b9" stroke-width="1"/>
<path d="M781.2 1790.9 L777.9 1796.5 L776.9 1801.8 L781.0 1806.6 L785.9 1809.8 L788.3 1812.9 L790.0 1819.3 L793.3 1822.8 L799.2 1826.8 L803.9 1828.9 L808.7 1830.3 L813.9 1834.0 L816.2 1839.0 L822.0 1841.6 L826.0 1842.6 L832.5 1840.2 L836.6 1836.8 L841.1 1836.7 L846.9 1839.0 L851.2 1832.4 L846.3 1826.9 L843.1 1822.4 L837.9 1817.8 L833.7 1814.9 L829.7 1810.5 L825.4 1807.7 L821.2 1804.4 L816.9 1801.3 L813.0 1798.3 L809.9 1794.5 L804.1 1790.7 L799.0 1789.0 L794.4 1786.5 L788.3 1786.0Z" fill="#08306b" stroke="#08306b" stroke-width="1"/>
<path d="M1266.8 1276.9 L1265.6 1285.6 L1262.4 1290.0 L1258.3 1295.3 L1257.8 1301.1 L1258.0 1305.3 L1254.2 1309.3 L1247.1 1311.9 L1239.7 1316.7 L1234.0 1318.4 L1229.0 1319.0 L1224.3 1319.8 L1218.7 1322.8 L1213.9 1320.9 L1208.6 1318.3 L1201.2 1316.2 L1196.3 1313.1 L1194.0 1310.4 L1187.9 1307.6 L1183.0 1305.7 L1179.0 1301.9 L1174.9 1300.9 L1169.2 1298.2 L1166.2 1294.4 L1161.1 1291.5 L1154.8 1286.1 L1151.8 1281.5 L1148.7 1276.9 L1145.0 1271.5 L1142.1 1269.2 L1138.6 1266.0 L1133.4 1263.7 L1135.7 1267.2 L1141.9 1271.8 L1143.7 1274.8 L1144.6 1281.5 L1148.5 1287.5 L1153.1 1290.0 L1154.5 1294.7 L1159.0 1299.1 L1163.3 1304.1 L1164.7 1306.8 L1166.1 1312.7 L1168.4 1318.4 L1172.0 1321.2 L1175.9 1325.4 L1179.3 1331.5 L1186.1 1334.7 L1188.4 1338.3 L1191.4 1342.4 L1196.8 1346.9 L1194.6 1355.6 L1201.3 1360.2 L1205.7 1361.3 L1212.1 1364.3 L1217.9 1364.6 L1221.6 1366.7 L1227.4 1368.7 L1231.1 1373.4 L1234.0 1377.5 L1227.4 1381.8 L1232.4 1388.8 L1238.4 1390.6 L1243.8 1391.6 L1249.1 1394.8 L1255.8 1398.5 L1261.3 1399.3 L1266.8 1399.3 L1261.5 1403.1 L1258.0 1405.9 L1253.0 1409.7 L1250.2 1414.0 L1247.1 1416.8 L1250.9 1419.7 L1257.1 1423.4 L1261.6 1424.9 L1265.2 1426.5 L1270.7 1430.5 L1273.4 1423.4 L1279.8 1422.1 L1285.9 1423.4 L1291.7 1424.1 L1297.4 1423.4 L1301.6 1428.9 L1306.0 1431.2 L1310.8 1433.2 L1314.9 1436.5 L1316.3 1441.1 L1313.6 1448.5 L1310.5 1451.8 L1314.4 1450.2 L1318.8 1447.0 L1321.9 1442.9 L1325.9 1438.7 L1330.2 1434.6 L1333.5 1432.6 L1340.6 1430.2 L1345.5 1430.0 L1350.8 1424.3 L1353.4 1420.3 L1354.3 1412.5 L1360.2 1410.3 L1365.5 1410.8 L1372.0 1408.9 L1376.2 1408.1 L1377.4 1414.9 L1380.2 1418.1 L1383.5 1421.2 L1384.9 1427.8 L1386.0 1434.9 L1389.5 1440.0 L1395.8 1443.1 L1399.6 1438.6 L1403.8 1435.6 L1409.0 1432.2 L1415.3 1432.0 L1420.4 1433.9 L1425.1 1437.1 L1427.9 1440.0 L1433.0 1443.1 L1436.1 1439.4 L1440.0 1433.3 L1444.3 1429.4 L1447.5 1425.7 L1452.7 1421.2 L1452.6 1413.9 L1454.2 1410.8 L1454.9 1403.7 L1459.7 1398.2 L1463.4 1394.2 L1467.8 1389.9 L1472.4 1388.4 L1467.4 1384.5 L1462.0 1381.9 L1456.9 1381.3 L1450.5 1377.5 L1451.7 1372.9 L1453.5 1367.0 L1454.3 1363.0 L1454.4 1356.7 L1454.0 1351.2 L1454.1 1345.7 L1454.7 1340.6 L1454.0 1335.9 L1450.2 1330.5 L1447.1 1326.7 L1444.0 1322.8 L1446.7 1319.0 L1452.4 1317.4 L1457.6 1312.6 L1459.9 1308.7 L1465.0 1305.6 L1469.3 1301.4 L1472.4 1296.5 L1478.8 1293.2 L1480.1 1288.6 L1485.3 1283.2 L1491.0 1281.3 L1494.3 1276.9 L1501.0 1275.1 L1505.4 1272.0 L1511.0 1268.4 L1514.0 1263.7 L1508.6 1258.9 L1501.9 1257.4 L1496.5 1257.2 L1493.3 1251.6 L1492.1 1244.1 L1490.0 1239.6 L1489.9 1233.5 L1488.9 1226.9 L1489.9 1222.2 L1481.1 1224.4 L1475.2 1224.9 L1469.5 1225.6 L1464.3 1227.5 L1460.4 1227.9 L1454.9 1228.7 L1450.8 1232.0 L1447.4 1235.7 L1443.6 1239.3 L1438.9 1242.8 L1433.0 1244.1 L1427.5 1242.1 L1422.5 1240.1 L1419.4 1237.5 L1413.3 1235.3 L1407.8 1237.6 L1402.0 1239.5 L1398.2 1241.2 L1393.7 1244.1 L1393.4 1238.5 L1390.8 1233.8 L1389.3 1228.7 L1385.0 1222.6 L1383.9 1217.9 L1380.1 1213.7 L1374.0 1209.1 L1370.8 1212.2 L1366.2 1217.4 L1361.0 1219.9 L1358.2 1221.9 L1356.5 1228.7 L1355.9 1233.6 L1355.1 1239.9 L1355.8 1244.2 L1357.7 1250.1 L1358.2 1253.6 L1360.8 1259.4 L1358.3 1263.9 L1358.6 1269.5 L1358.1 1276.1 L1356.5 1281.2 L1351.7 1275.7 L1349.9 1270.8 L1345.5 1265.9 L1342.9 1262.9 L1338.1 1260.9 L1333.8 1256.9 L1330.2 1252.8 L1324.4 1253.3 L1321.2 1251.7 L1314.9 1250.6 L1310.0 1254.5 L1304.6 1255.9 L1299.8 1257.9 L1293.8 1259.7 L1289.3 1258.6 L1284.3 1261.5 L1279.0 1263.8 L1274.2 1268.3 L1271.1 1273.8Z" fill="#08306b" stroke="#08306b" stroke-width="1"/>
<path d="M1514.0 1263.7 L1511.0 1268.4 L1505.4 1272.0 L1501.0 1275.1 L1494.3 1276.9 L1491.0 1281.3 L1485.3 1283.2 L1480.1 1288.6 L1478.8 1293.2 L1472.4 1296.5 L1469.3 1301.4 L1465.0 1305.6 L1459.9 1308.7 L1457.6 1312.6 L1452.4 1317.4 L1446.7 1319.0 L1444.0 1322.8 L1447.1 1326.7 L1450.2 1330.5 L1454.0 1335.9 L1460.4 1340.6 L1465.7 1343.1 L1472.4 1342.5 L1477.0 1344.8 L1482.0 1347.2 L1485.2 1352.2 L1488.2 1356.0 L1494.3 1358.6 L1498.6 1360.0 L1500.2 1366.0 L1502.0 1372.2 L1500.9 1377.3 L1499.0 1382.1 L1500.8 1388.4 L1497.9 1392.5 L1496.3 1398.8 L1496.0 1402.5 L1494.4 1407.2 L1492.1 1412.5 L1497.1 1417.1 L1500.6 1421.2 L1502.6 1424.4 L1507.0 1427.9 L1514.0 1430.0 L1518.3 1433.0 L1524.1 1435.4 L1529.0 1438.3 L1535.8 1440.9 L1542.4 1441.4 L1545.0 1444.5 L1552.1 1448.1 L1557.3 1448.2 L1562.1 1449.7 L1567.6 1450.6 L1572.2 1451.6 L1578.9 1452.8 L1586.3 1454.5 L1590.7 1456.2 L1589.7 1452.1 L1587.5 1445.2 L1587.4 1438.9 L1587.2 1434.3 L1592.2 1431.7 L1598.9 1431.0 L1601.5 1429.8 L1606.9 1425.6 L1613.5 1423.2 L1618.6 1422.2 L1622.9 1419.0 L1626.6 1412.5 L1628.2 1406.1 L1631.2 1403.8 L1636.5 1399.9 L1639.2 1396.0 L1641.9 1390.6 L1643.2 1384.7 L1640.6 1378.1 L1637.5 1373.8 L1635.4 1369.1 L1631.9 1363.5 L1628.7 1360.0 L1627.7 1355.8 L1629.5 1348.9 L1630.2 1344.0 L1631.9 1338.1 L1630.9 1333.7 L1626.5 1328.9 L1624.8 1325.9 L1620.0 1320.6 L1611.8 1321.7 L1606.3 1323.9 L1602.5 1329.4 L1595.0 1326.9 L1589.4 1325.0 L1585.7 1321.9 L1581.8 1316.6 L1577.8 1314.2 L1572.9 1310.1 L1569.9 1304.4 L1567.5 1298.7 L1568.8 1292.3 L1568.2 1286.8 L1569.7 1281.2 L1565.6 1276.0 L1560.9 1270.3 L1553.1 1268.3 L1546.9 1267.2 L1540.6 1266.7 L1535.2 1268.2 L1530.3 1268.8 L1525.4 1269.6 L1520.7 1268.1Z" fill="#f7fbff" stroke="#f7fbff" stroke-width="1"/>
<path d="M1255.9 1849.9 L1251.5 1845.5 L1247.5 1848.1 L1244.1 1852.7 L1239.0 1855.4 L1234.5 1857.8 L1231.2 1862.9 L1226.8 1865.4 L1220.9 1866.8 L1217.6 1867.6 L1211.5 1867.3 L1205.9 1867.7 L1201.9 1871.9 L1199.0 1878.0 L1194.1 1882.6 L1200.4 1886.0 L1203.4 1890.3 L1205.0 1895.7 L1201.6 1903.5 L1201.4 1907.2 L1202.8 1915.4 L1208.2 1916.9 L1212.8 1919.4 L1218.9 1921.4 L1223.9 1922.6 L1226.9 1926.4 L1230.1 1929.4 L1235.9 1932.2 L1242.7 1933.2 L1246.5 1935.1 L1244.9 1941.2 L1241.0 1946.2 L1240.0 1950.4 L1244.3 1954.4 L1248.8 1959.6 L1250.9 1963.5 L1252.8 1969.1 L1255.7 1974.5 L1259.7 1978.9 L1258.7 1984.5 L1260.1 1989.9 L1259.7 1996.3 L1264.9 1993.6 L1270.9 1991.3 L1275.2 1990.4 L1281.5 1990.8 L1286.1 1992.5 L1290.3 1993.0 L1296.9 1992.0 L1302.2 1992.7 L1308.8 1992.8 L1313.9 1994.7 L1317.5 1998.5 L1322.2 2000.8 L1327.5 2000.7 L1331.9 1999.1 L1337.1 2001.9 L1342.6 2005.2 L1347.0 2004.2 L1352.1 2004.8 L1357.3 2008.4 L1362.5 2009.5 L1369.2 2010.1 L1373.0 2012.6 L1376.2 2015.1 L1381.3 2017.8 L1386.5 2020.4 L1390.8 2013.5 L1395.3 2009.5 L1393.5 2002.9 L1390.9 1996.3 L1385.7 1992.2 L1384.3 1987.6 L1384.9 1982.2 L1382.7 1974.8 L1381.7 1971.4 L1377.8 1965.7 L1372.6 1963.1 L1370.2 1957.6 L1366.1 1953.2 L1360.3 1952.6 L1358.4 1948.3 L1358.0 1943.7 L1358.1 1937.3 L1352.7 1932.5 L1351.1 1928.1 L1349.9 1922.6 L1345.0 1917.6 L1338.7 1920.2 L1334.4 1919.5 L1329.7 1915.4 L1323.8 1912.8 L1321.8 1909.6 L1319.0 1903.2 L1316.5 1900.1 L1314.3 1894.5 L1312.4 1889.5 L1310.0 1882.6 L1314.2 1876.7 L1318.1 1870.8 L1318.7 1865.1 L1322.2 1859.3 L1323.1 1853.9 L1322.4 1850.0 L1323.3 1843.4 L1323.7 1839.0 L1319.1 1841.5 L1314.5 1841.9 L1308.6 1841.4 L1302.1 1842.7 L1297.4 1845.5 L1291.3 1847.3 L1284.2 1847.7 L1279.9 1849.9 L1276.3 1845.3 L1271.2 1843.4 L1265.9 1845.0 L1262.1 1847.5Z" fill="#2979b9" stroke="#2979b9" stroke-width="1"/>
<path d="M1463.6 1694.6 L1467.8 1700.5 L1470.4 1704.8 L1474.6 1709.9 L1479.2 1713.8 L1485.1 1717.7 L1489.9 1720.9 L1493.1 1725.6 L1495.0 1731.0 L1496.5 1738.4 L1497.9 1743.7 L1500.3 1747.0 L1502.6 1751.4 L1507.4 1755.9 L1511.8 1762.4 L1517.7 1760.5 L1522.0 1761.6 L1529.0 1761.2 L1533.6 1760.2 L1542.0 1762.0 L1546.8 1766.8 L1550.0 1762.5 L1553.8 1760.0 L1558.8 1756.6 L1562.3 1754.9 L1568.7 1753.6 L1573.0 1751.5 L1578.3 1745.4 L1579.6 1740.6 L1580.0 1747.1 L1580.7 1751.5 L1583.8 1756.8 L1588.3 1760.2 L1593.4 1760.4 L1597.3 1763.6 L1602.4 1767.6 L1606.1 1769.9 L1610.1 1771.1 L1616.8 1771.2 L1618.0 1765.6 L1622.1 1760.2 L1622.6 1755.4 L1626.6 1749.3 L1630.7 1745.5 L1636.7 1741.8 L1639.7 1736.2 L1640.2 1730.5 L1640.9 1725.4 L1641.5 1719.3 L1644.1 1714.3 L1647.4 1711.1 L1652.8 1709.0 L1657.2 1705.0 L1659.4 1699.0 L1654.6 1693.1 L1652.8 1685.9 L1648.4 1681.3 L1642.8 1675.8 L1637.5 1674.9 L1643.1 1671.6 L1647.5 1667.7 L1650.6 1664.0 L1649.6 1657.4 L1648.4 1653.1 L1655.4 1652.1 L1658.7 1650.2 L1663.7 1644.3 L1655.8 1642.8 L1650.6 1637.8 L1643.5 1638.0 L1636.5 1637.5 L1630.9 1635.6 L1626.6 1626.8 L1625.1 1633.6 L1624.7 1641.3 L1625.5 1646.5 L1621.1 1650.0 L1616.9 1654.7 L1612.4 1657.4 L1607.3 1657.3 L1601.6 1655.6 L1596.5 1651.3 L1592.5 1648.2 L1586.1 1646.5 L1578.8 1649.9 L1575.5 1653.6 L1573.0 1659.6 L1566.2 1660.8 L1559.9 1659.2 L1553.3 1657.4 L1548.8 1661.9 L1543.2 1663.7 L1539.5 1664.0 L1533.6 1666.2 L1531.8 1659.6 L1529.8 1656.4 L1524.9 1653.1 L1522.0 1648.9 L1518.5 1643.1 L1514.3 1637.5 L1509.6 1633.4 L1506.8 1639.4 L1502.7 1643.1 L1498.8 1648.5 L1496.5 1653.1 L1493.0 1659.4 L1490.2 1661.9 L1483.3 1664.0 L1479.1 1669.9 L1477.3 1673.9 L1476.8 1681.5 L1470.0 1684.4 L1467.0 1688.3Z" fill="#2979b9" stroke="#2979b9" stroke-width="1"/>
<path d="M1511.8 1762.4 L1508.2 1767.0 L1505.5 1772.6 L1505.2 1779.9 L1504.0 1785.0 L1504.2 1791.6 L1504.6 1799.5 L1505.4 1805.5 L1507.7 1809.9 L1511.9 1814.2 L1515.6 1819.2 L1520.1 1824.8 L1526.1 1828.5 L1530.4 1829.0 L1537.4 1830.1 L1541.9 1836.4 L1545.1 1840.3 L1546.2 1847.6 L1551.5 1852.9 L1553.4 1856.2 L1559.3 1860.7 L1564.1 1860.6 L1570.1 1863.1 L1574.8 1865.3 L1578.3 1868.7 L1580.9 1872.8 L1585.6 1876.1 L1587.3 1884.5 L1592.1 1889.2 L1588.1 1892.3 L1582.3 1895.0 L1576.8 1900.1 L1578.6 1907.5 L1580.2 1913.4 L1583.4 1917.6 L1584.3 1923.1 L1588.9 1927.9 L1592.1 1932.9 L1591.9 1937.1 L1590.4 1942.2 L1589.9 1948.2 L1591.5 1952.9 L1595.6 1956.2 L1600.0 1958.9 L1603.1 1963.5 L1607.9 1964.4 L1613.3 1964.6 L1618.6 1965.8 L1624.9 1965.7 L1629.7 1968.4 L1631.8 1973.6 L1633.7 1979.1 L1638.1 1981.0 L1641.4 1985.6 L1645.3 1988.5 L1649.0 1989.6 L1653.4 1994.2 L1653.9 1988.7 L1657.3 1983.8 L1662.1 1981.0 L1668.2 1979.2 L1672.6 1974.5 L1676.4 1968.3 L1681.8 1965.7 L1675.5 1963.2 L1671.2 1958.1 L1666.5 1954.8 L1669.4 1949.7 L1670.9 1943.9 L1673.6 1939.4 L1678.6 1935.6 L1684.0 1932.9 L1688.9 1935.4 L1693.8 1939.5 L1697.8 1941.5 L1701.5 1946.0 L1707.2 1946.7 L1712.4 1948.7 L1716.8 1950.4 L1723.7 1949.1 L1727.5 1947.7 L1732.1 1943.9 L1735.0 1939.3 L1736.8 1935.3 L1739.5 1928.4 L1742.6 1923.2 L1744.5 1918.0 L1745.2 1913.2 L1750.0 1911.6 L1754.7 1913.2 L1760.2 1916.5 L1764.9 1917.6 L1768.8 1923.1 L1772.1 1925.3 L1775.3 1932.0 L1775.9 1937.3 L1779.5 1940.8 L1785.1 1946.5 L1788.5 1948.8 L1795.5 1950.4 L1791.0 1954.9 L1787.4 1959.4 L1784.6 1963.1 L1782.4 1970.1 L1786.4 1973.3 L1791.9 1975.5 L1797.1 1978.7 L1799.9 1983.2 L1806.2 1985.6 L1810.9 1989.0 L1816.0 1990.2 L1821.8 1994.2 L1828.1 1997.0 L1832.9 2000.6 L1836.5 2006.5 L1839.3 2011.7 L1846.0 2010.6 L1852.4 2005.1 L1857.5 2003.6 L1864.0 2003.8 L1868.1 2005.7 L1874.3 2009.5 L1879.1 2009.3 L1884.2 2007.7 L1890.8 2006.2 L1895.6 2004.9 L1900.5 2005.1 L1905.2 2006.7 L1910.0 2009.0 L1913.8 2010.9 L1918.0 2016.0 L1924.1 2012.6 L1926.4 2008.1 L1929.0 2004.1 L1935.5 2000.7 L1939.1 2003.0 L1943.2 2007.0 L1947.9 2012.3 L1950.7 2016.3 L1953.0 2020.4 L1958.0 2022.9 L1961.8 2025.4 L1967.0 2028.9 L1970.5 2031.3 L1978.0 2033.4 L1984.9 2032.1 L1990.2 2031.3 L1984.2 2028.3 L1981.9 2024.7 L1979.3 2020.4 L1979.1 2013.3 L1980.2 2009.2 L1983.2 2001.2 L1985.8 1996.3 L1986.3 1989.6 L1985.0 1985.5 L1983.1 1979.0 L1983.6 1974.5 L1980.5 1969.0 L1977.2 1966.2 L1973.8 1961.8 L1968.3 1957.0 L1962.1 1955.0 L1959.6 1950.4 L1962.6 1944.4 L1967.6 1942.0 L1970.9 1938.0 L1972.7 1930.7 L1968.8 1926.5 L1965.8 1921.9 L1961.4 1917.7 L1957.8 1914.9 L1954.4 1909.6 L1953.0 1904.5 L1952.8 1899.9 L1954.8 1893.7 L1955.6 1890.0 L1959.6 1884.8 L1957.9 1879.6 L1953.3 1874.8 L1949.3 1870.8 L1944.7 1867.3 L1941.0 1865.5 L1937.2 1860.0 L1933.3 1854.3 L1931.2 1847.1 L1930.6 1841.2 L1929.4 1835.7 L1925.0 1828.9 L1920.7 1824.8 L1919.6 1819.3 L1922.4 1812.7 L1922.9 1806.9 L1923.3 1803.8 L1926.2 1797.4 L1926.4 1790.5 L1929.8 1784.7 L1933.7 1779.9 L1935.0 1775.5 L1928.7 1772.9 L1926.4 1769.7 L1921.8 1764.5 L1916.3 1761.3 L1913.1 1758.0 L1906.8 1757.7 L1901.7 1753.9 L1899.8 1748.4 L1896.4 1743.1 L1893.0 1741.5 L1887.1 1738.7 L1882.5 1736.2 L1879.8 1730.2 L1877.3 1728.1 L1874.9 1723.1 L1871.8 1717.2 L1869.2 1714.2 L1865.0 1709.9 L1859.5 1704.8 L1857.0 1700.9 L1856.2 1692.4 L1851.6 1690.1 L1845.4 1688.8 L1839.9 1688.8 L1834.3 1685.9 L1832.3 1691.1 L1830.9 1696.9 L1830.0 1701.2 L1824.0 1703.6 L1819.3 1705.5 L1813.3 1708.0 L1808.1 1709.9 L1805.9 1717.7 L1801.5 1723.1 L1796.1 1726.4 L1792.5 1728.7 L1787.7 1730.3 L1781.6 1731.8 L1777.5 1736.2 L1775.2 1741.9 L1773.7 1747.8 L1771.7 1751.6 L1768.7 1758.0 L1764.1 1759.1 L1756.7 1763.1 L1753.7 1764.3 L1746.9 1767.3 L1742.5 1771.2 L1739.0 1774.2 L1734.0 1777.1 L1728.2 1781.6 L1726.5 1786.6 L1723.2 1793.1 L1718.4 1795.2 L1711.1 1800.2 L1705.3 1801.8 L1709.9 1805.1 L1714.0 1810.5 L1718.7 1812.7 L1724.8 1814.8 L1729.1 1816.7 L1734.6 1817.4 L1740.3 1819.3 L1738.7 1825.8 L1735.2 1829.8 L1731.7 1834.9 L1731.5 1841.2 L1727.2 1842.3 L1720.8 1842.1 L1716.9 1841.9 L1710.6 1840.4 L1706.7 1839.4 L1699.4 1839.7 L1694.2 1839.0 L1690.0 1836.8 L1684.2 1840.2 L1679.6 1839.5 L1675.0 1836.9 L1667.9 1837.7 L1664.1 1839.4 L1658.1 1839.7 L1652.8 1839.0 L1655.6 1831.6 L1657.2 1825.9 L1660.2 1821.1 L1660.9 1817.5 L1661.1 1810.7 L1663.7 1806.2 L1663.0 1800.2 L1661.8 1794.8 L1662.6 1791.1 L1662.5 1784.5 L1659.4 1779.9 L1657.0 1775.3 L1653.4 1769.0 L1650.6 1762.4 L1644.3 1761.1 L1638.9 1760.1 L1635.0 1760.4 L1626.8 1759.5 L1622.1 1760.2 L1618.0 1765.6 L1616.8 1771.2 L1610.1 1771.1 L1606.1 1769.9 L1602.4 1767.6 L1597.3 1763.6 L1593.4 1760.4 L1588.3 1760.2 L1583.8 1756.8 L1580.7 1751.5 L1580.0 1747.1 L1579.6 1740.6 L1578.3 1745.4 L1573.0 1751.5 L1568.7 1753.6 L1562.3 1754.9 L1558.8 1756.6 L1553.8 1760.0 L1550.0 1762.5 L1546.8 1766.8 L1542.0 1762.0 L1533.6 1760.2 L1529.0 1761.2 L1522.0 1761.6 L1517.7 1760.5Z" fill="#73b2d8" stroke="#73b2d8" stroke-width="1"/>
<path d="M1505.2 1779.9 L1498.4 1781.8 L1492.1 1784.3 L1485.6 1783.9 L1479.6 1784.6 L1475.3 1787.0 L1471.3 1789.3 L1465.2 1790.2 L1459.3 1790.9 L1459.5 1794.8 L1458.0 1800.3 L1457.8 1805.2 L1454.9 1810.5 L1450.8 1815.5 L1447.9 1819.4 L1445.5 1822.3 L1440.1 1827.0 L1437.4 1830.2 L1440.6 1833.6 L1446.2 1836.8 L1441.2 1838.4 L1436.3 1841.5 L1433.0 1845.5 L1427.4 1845.4 L1423.5 1842.2 L1419.3 1840.2 L1413.3 1841.2 L1409.3 1844.5 L1403.5 1844.6 L1397.5 1844.6 L1393.7 1845.5 L1388.7 1844.8 L1383.9 1840.3 L1378.3 1836.8 L1371.0 1838.5 L1364.1 1838.1 L1358.7 1836.8 L1353.1 1837.8 L1347.7 1838.0 L1343.4 1840.0 L1339.0 1843.4 L1334.4 1841.9 L1328.3 1839.2 L1323.7 1839.0 L1323.3 1843.4 L1322.4 1850.0 L1323.1 1853.9 L1322.2 1859.3 L1318.7 1865.1 L1318.1 1870.8 L1314.2 1876.7 L1310.0 1882.6 L1312.4 1889.5 L1314.3 1894.5 L1316.5 1900.1 L1319.0 1903.2 L1321.8 1909.6 L1323.8 1912.8 L1329.7 1915.4 L1334.4 1919.5 L1338.7 1920.2 L1345.0 1917.6 L1349.9 1922.6 L1351.1 1928.1 L1352.7 1932.5 L1358.1 1937.3 L1358.0 1943.7 L1358.4 1948.3 L1360.3 1952.6 L1366.1 1953.2 L1370.2 1957.6 L1372.6 1963.1 L1377.8 1965.7 L1381.7 1971.4 L1382.7 1974.8 L1384.9 1982.2 L1384.3 1987.6 L1385.7 1992.2 L1390.9 1996.3 L1395.5 1993.8 L1401.9 1991.4 L1406.2 1987.6 L1407.0 1983.1 L1410.7 1977.6 L1414.1 1972.0 L1415.0 1967.9 L1421.0 1971.2 L1422.9 1976.4 L1425.2 1981.3 L1429.3 1984.0 L1432.5 1987.6 L1433.8 1992.5 L1437.3 1995.5 L1441.2 1999.6 L1443.0 2005.7 L1445.6 2009.5 L1447.9 2013.5 L1450.0 2018.4 L1454.3 2022.6 L1460.4 2025.2 L1465.5 2024.5 L1471.8 2022.6 L1478.5 2023.4 L1484.6 2024.9 L1491.5 2024.8 L1496.1 2022.3 L1502.0 2019.6 L1505.2 2017.2 L1511.2 2013.8 L1511.4 2009.6 L1513.4 2002.9 L1508.5 1999.2 L1505.1 1996.4 L1500.6 1991.7 L1495.9 1989.8 L1498.1 1983.2 L1503.4 1981.2 L1508.0 1982.4 L1514.8 1983.3 L1519.9 1981.0 L1525.9 1977.6 L1530.5 1976.0 L1537.0 1973.8 L1541.8 1970.1 L1548.6 1966.5 L1552.5 1966.2 L1559.3 1965.7 L1564.9 1968.4 L1570.3 1971.6 L1572.4 1976.7 L1577.6 1971.0 L1583.4 1970.1 L1583.4 1964.4 L1583.7 1959.1 L1581.2 1954.8 L1585.3 1952.9 L1589.9 1948.2 L1590.4 1942.2 L1591.9 1937.1 L1592.1 1932.9 L1588.9 1927.9 L1584.3 1923.1 L1583.4 1917.6 L1580.2 1913.4 L1578.6 1907.5 L1576.8 1900.1 L1582.3 1895.0 L1588.1 1892.3 L1592.1 1889.2 L1587.3 1884.5 L1585.6 1876.1 L1580.9 1872.8 L1578.3 1868.7 L1574.8 1865.3 L1570.1 1863.1 L1564.1 1860.6 L1559.3 1860.7 L1553.4 1856.2 L1551.5 1852.9 L1546.2 1847.6 L1545.1 1840.3 L1541.9 1836.4 L1537.4 1830.1 L1530.4 1829.0 L1526.1 1828.5 L1520.1 1824.8 L1515.6 1819.2 L1511.9 1814.2 L1507.7 1809.9 L1505.4 1805.5 L1504.6 1799.5 L1504.2 1791.6 L1504.0 1785.0Z" fill="#2979b9" stroke="#2979b9" stroke-width="1"/>
<path d="M1742.5 1561.2 L1739.5 1567.3 L1735.8 1570.4 L1731.5 1572.1 L1727.2 1574.1 L1719.2 1571.6 L1715.1 1568.3 L1710.3 1568.5 L1704.2 1570.5 L1698.7 1569.9 L1693.3 1569.0 L1686.9 1567.4 L1682.4 1564.3 L1678.4 1562.7 L1672.5 1561.2 L1667.8 1558.7 L1663.4 1559.0 L1657.2 1559.9 L1656.4 1567.5 L1655.0 1572.1 L1649.1 1573.7 L1645.4 1577.9 L1644.1 1583.1 L1639.4 1587.4 L1635.2 1591.6 L1628.7 1594.0 L1628.8 1599.8 L1631.4 1606.2 L1635.3 1609.3 L1633.4 1616.8 L1630.6 1621.8 L1626.6 1626.8 L1630.9 1635.6 L1636.5 1637.5 L1643.5 1638.0 L1650.6 1637.8 L1655.8 1642.8 L1663.7 1644.3 L1666.7 1648.1 L1673.9 1651.5 L1678.6 1655.7 L1681.2 1659.6 L1687.7 1661.1 L1692.8 1661.4 L1697.6 1663.0 L1703.1 1664.0 L1708.4 1660.5 L1713.4 1660.4 L1720.7 1661.5 L1725.0 1659.6 L1729.5 1664.0 L1735.0 1667.2 L1738.2 1669.9 L1744.7 1672.7 L1746.9 1676.0 L1751.7 1681.1 L1755.6 1683.7 L1762.3 1681.3 L1765.8 1676.5 L1768.0 1671.9 L1773.1 1668.4 L1777.1 1671.8 L1783.0 1671.9 L1788.9 1671.4 L1795.0 1672.7 L1799.3 1669.5 L1803.1 1667.0 L1808.1 1664.0 L1812.0 1663.6 L1819.1 1662.4 L1823.4 1664.0 L1826.6 1668.8 L1828.7 1675.3 L1831.5 1679.0 L1834.3 1685.9 L1839.9 1688.8 L1845.4 1688.8 L1851.6 1690.1 L1856.2 1692.4 L1859.0 1686.2 L1859.4 1682.9 L1861.5 1676.3 L1861.8 1671.8 L1865.0 1666.2 L1860.3 1664.1 L1856.5 1658.4 L1851.8 1653.1 L1846.8 1650.4 L1843.0 1648.2 L1838.9 1643.2 L1834.3 1639.9 L1830.2 1636.1 L1828.4 1630.8 L1823.4 1626.8 L1824.0 1618.7 L1825.6 1613.7 L1818.5 1611.6 L1812.5 1609.3 L1811.2 1603.8 L1808.7 1598.8 L1808.1 1591.8 L1800.9 1589.4 L1798.7 1585.7 L1794.9 1578.3 L1790.6 1576.5 L1784.4 1580.4 L1779.1 1581.8 L1775.1 1582.8 L1768.7 1583.1 L1763.0 1578.0 L1760.3 1573.4 L1755.6 1569.9 L1751.6 1567.4 L1747.6 1562.5Z" fill="#2979b9" stroke="#2979b9" stroke-width="1"/>
<path d="M1742.5 1561.2 L1747.6 1562.5 L1751.6 1567.4 L1755.6 1569.9 L1760.3 1573.4 L1763.0 1578.0 L1768.7 1583.1 L1775.1 1582.8 L1779.1 1581.8 L1784.4 1580.4 L1790.6 1576.5 L1794.9 1578.3 L1798.7 1585.7 L1800.9 1589.4 L1808.1 1591.8 L1808.7 1598.8 L1811.2 1603.8 L1812.5 1609.3 L1819.5 1610.3 L1825.1 1609.5 L1829.4 1609.9 L1836.5 1611.5 L1840.4 1608.4 L1843.0 1605.3 L1847.0 1601.5 L1849.7 1596.2 L1855.0 1597.0 L1860.7 1597.2 L1864.9 1597.7 L1871.5 1596.2 L1876.8 1596.4 L1881.2 1591.7 L1883.2 1586.0 L1886.8 1583.1 L1892.6 1586.9 L1897.4 1586.3 L1903.9 1584.5 L1906.8 1584.9 L1913.1 1587.4 L1917.1 1589.3 L1921.2 1592.7 L1926.0 1597.4 L1930.3 1599.4 L1935.0 1600.6 L1939.7 1600.6 L1947.6 1597.0 L1952.8 1595.2 L1959.0 1596.2 L1963.4 1587.4 L1967.0 1591.1 L1973.6 1593.9 L1979.4 1594.4 L1986.8 1595.7 L1991.8 1596.2 L1999.3 1596.7 L2004.3 1594.4 L2010.5 1593.1 L2015.9 1591.8 L2019.5 1587.9 L2024.5 1585.6 L2029.2 1582.9 L2031.2 1578.7 L2034.8 1575.3 L2037.7 1570.9 L2039.9 1565.6 L2046.8 1565.4 L2053.1 1561.2 L2050.1 1556.1 L2049.5 1550.6 L2050.7 1543.0 L2050.1 1537.5 L2048.7 1532.8 L2054.7 1532.9 L2060.7 1527.5 L2064.8 1522.5 L2070.6 1521.8 L2075.8 1522.2 L2081.9 1519.4 L2088.0 1516.8 L2092.4 1515.3 L2099.5 1516.4 L2105.2 1517.5 L2109.9 1515.3 L2106.1 1519.8 L2104.5 1523.5 L2101.0 1526.6 L2096.8 1530.6 L2099.8 1537.1 L2099.0 1541.5 L2103.8 1539.1 L2110.4 1535.4 L2114.3 1530.6 L2120.2 1528.6 L2124.2 1525.7 L2128.8 1523.4 L2136.2 1524.0 L2141.0 1523.6 L2145.5 1526.3 L2151.5 1528.4 L2154.3 1522.7 L2155.8 1519.6 L2158.6 1513.5 L2160.2 1508.7 L2166.6 1508.3 L2173.1 1507.1 L2178.4 1505.4 L2184.1 1505.0 L2188.7 1504.3 L2192.0 1509.2 L2197.4 1510.9 L2203.5 1509.2 L2208.4 1508.9 L2214.3 1507.1 L2219.6 1505.4 L2223.7 1502.1 L2220.7 1497.5 L2220.3 1492.3 L2216.2 1487.2 L2211.6 1485.1 L2209.1 1480.1 L2206.2 1475.9 L2201.5 1472.9 L2195.2 1469.3 L2193.5 1465.0 L2189.7 1459.3 L2188.5 1454.6 L2188.7 1449.7 L2184.8 1448.0 L2178.7 1445.2 L2173.4 1445.2 L2167.0 1445.3 L2160.8 1442.5 L2156.4 1439.1 L2151.5 1438.7 L2154.3 1432.8 L2157.2 1431.3 L2160.4 1427.9 L2164.6 1423.4 L2159.7 1421.7 L2156.6 1417.2 L2153.2 1410.4 L2149.3 1408.1 L2150.6 1402.7 L2151.5 1397.0 L2152.2 1392.4 L2156.1 1387.9 L2159.3 1383.2 L2158.0 1377.5 L2152.3 1376.0 L2145.8 1378.2 L2140.6 1381.8 L2132.8 1381.0 L2127.4 1377.5 L2124.9 1382.9 L2122.0 1385.5 L2116.2 1388.5 L2111.7 1393.2 L2109.9 1397.2 L2106.9 1389.8 L2101.2 1386.2 L2094.8 1386.1 L2091.2 1384.5 L2085.3 1383.2 L2079.8 1383.3 L2075.4 1385.3 L2069.7 1387.7 L2065.9 1388.0 L2059.6 1388.4 L2054.5 1392.4 L2051.4 1394.0 L2047.7 1399.9 L2047.5 1406.2 L2045.7 1410.4 L2039.9 1412.5 L2035.0 1416.8 L2032.2 1421.4 L2029.2 1427.7 L2028.2 1431.8 L2024.9 1437.6 L2020.3 1440.9 L2014.6 1443.1 L2008.0 1442.9 L2002.3 1442.2 L1996.9 1444.0 L1991.8 1443.1 L1987.1 1449.1 L1982.7 1451.4 L1976.5 1454.0 L1970.2 1453.7 L1965.5 1456.9 L1961.1 1460.2 L1955.4 1460.2 L1950.3 1458.2 L1944.6 1458.5 L1939.3 1460.6 L1932.9 1459.1 L1928.1 1459.1 L1923.9 1458.1 L1917.3 1457.0 L1913.1 1458.4 L1911.1 1453.9 L1908.7 1447.5 L1901.7 1444.1 L1895.3 1441.5 L1891.2 1438.7 L1884.3 1436.2 L1878.8 1431.3 L1873.7 1430.0 L1867.4 1431.6 L1864.1 1433.9 L1857.6 1434.8 L1851.8 1434.3 L1844.7 1430.9 L1838.7 1427.8 L1833.8 1428.6 L1829.0 1427.6 L1821.8 1426.0 L1817.8 1424.0 L1813.5 1420.8 L1808.1 1421.2 L1801.4 1421.7 L1795.8 1422.4 L1790.6 1423.4 L1786.9 1428.2 L1785.1 1432.3 L1782.4 1438.9 L1779.7 1443.1 L1781.3 1448.0 L1781.6 1453.6 L1781.8 1460.6 L1778.4 1464.9 L1774.9 1468.1 L1771.6 1473.2 L1768.7 1478.1 L1763.1 1479.9 L1760.3 1483.5 L1758.3 1488.2 L1753.4 1491.2 L1750.4 1495.0 L1743.8 1499.5 L1740.1 1502.0 L1733.7 1504.3 L1727.5 1507.2 L1722.6 1509.9 L1716.2 1510.9 L1717.4 1517.5 L1716.7 1521.7 L1718.4 1528.4 L1723.6 1533.4 L1727.1 1536.5 L1733.7 1539.3 L1737.8 1543.0 L1740.2 1548.6 L1741.0 1555.0Z" fill="#08306b" stroke="#08306b" stroke-width="1"/>
<path d="M2223.7 1502.1 L2228.9 1502.2 L2234.3 1502.5 L2241.1 1500.0 L2245.3 1499.0 L2252.6 1501.1 L2258.9 1501.4 L2263.0 1497.8 L2269.7 1500.2 L2274.6 1502.6 L2278.8 1505.1 L2284.9 1508.7 L2289.0 1503.5 L2294.6 1502.3 L2300.4 1502.1 L2304.6 1497.8 L2310.0 1499.5 L2316.6 1501.7 L2322.3 1500.8 L2327.7 1500.8 L2333.0 1504.3 L2328.6 1507.2 L2325.0 1509.4 L2321.8 1514.0 L2318.6 1520.3 L2315.1 1524.9 L2311.6 1528.0 L2308.9 1530.7 L2304.6 1535.0 L2310.8 1539.7 L2316.8 1541.0 L2321.4 1539.3 L2328.7 1541.5 L2331.8 1546.2 L2337.4 1550.3 L2343.3 1550.2 L2348.9 1546.1 L2351.8 1542.7 L2354.8 1540.2 L2359.3 1535.0 L2360.6 1529.9 L2360.6 1523.0 L2363.6 1517.5 L2370.6 1516.7 L2375.3 1518.0 L2379.9 1518.2 L2387.1 1519.2 L2390.3 1522.4 L2396.3 1524.0 L2403.0 1521.8 L2404.2 1517.0 L2404.4 1510.1 L2403.2 1505.6 L2401.8 1501.4 L2400.8 1495.6 L2400.7 1490.2 L2405.8 1484.8 L2408.5 1482.2 L2409.1 1475.9 L2412.1 1469.9 L2415.9 1466.0 L2418.2 1461.9 L2420.5 1456.2 L2425.6 1453.6 L2428.7 1449.3 L2433.1 1445.1 L2437.8 1443.5 L2444.2 1440.9 L2446.8 1436.5 L2451.3 1438.9 L2456.3 1444.1 L2458.7 1449.7 L2462.7 1447.5 L2467.0 1442.9 L2471.9 1440.9 L2474.7 1436.0 L2477.1 1428.9 L2476.2 1423.4 L2469.8 1419.3 L2467.5 1412.5 L2471.1 1410.3 L2473.4 1404.7 L2476.2 1400.9 L2480.6 1397.2 L2482.6 1391.9 L2482.8 1386.2 L2482.7 1381.3 L2481.1 1376.7 L2478.0 1372.4 L2478.4 1366.5 L2480.2 1361.4 L2483.8 1355.5 L2487.2 1351.2 L2489.1 1345.5 L2492.5 1341.2 L2493.7 1333.7 L2487.2 1329.4 L2489.9 1322.5 L2493.6 1318.5 L2498.1 1316.2 L2503.1 1312.8 L2505.7 1309.2 L2507.5 1303.4 L2509.1 1298.7 L2512.3 1293.2 L2515.4 1288.8 L2517.8 1283.4 L2524.6 1282.3 L2530.0 1278.8 L2535.3 1274.7 L2537.5 1268.1 L2535.9 1261.4 L2533.7 1259.1 L2530.9 1252.8 L2539.7 1252.8 L2542.9 1249.9 L2549.8 1245.5 L2552.2 1242.0 L2555.6 1236.6 L2561.5 1234.0 L2554.1 1228.7 L2555.0 1220.0 L2548.0 1219.8 L2544.1 1217.8 L2538.3 1214.2 L2534.3 1209.9 L2529.3 1207.4 L2523.6 1204.2 L2518.9 1199.9 L2514.6 1198.1 L2510.1 1192.8 L2508.1 1190.2 L2503.6 1186.7 L2499.0 1191.7 L2493.4 1193.8 L2486.1 1195.5 L2481.7 1190.7 L2479.6 1186.7 L2474.2 1181.3 L2472.0 1178.7 L2467.8 1173.2 L2462.1 1169.2 L2465.7 1165.2 L2469.7 1161.8 L2473.9 1156.3 L2477.1 1150.8 L2479.6 1147.4 L2481.7 1142.8 L2484.4 1138.4 L2486.1 1132.1 L2481.5 1129.8 L2477.1 1127.6 L2470.5 1124.0 L2466.4 1121.1 L2461.5 1124.6 L2457.7 1129.9 L2454.3 1134.2 L2451.1 1135.9 L2447.4 1139.9 L2442.4 1143.0 L2436.8 1143.4 L2431.1 1143.0 L2424.9 1145.2 L2422.5 1148.3 L2416.5 1152.1 L2414.0 1156.1 L2409.0 1157.2 L2401.1 1153.7 L2397.6 1151.0 L2389.9 1151.7 L2386.4 1154.6 L2380.1 1154.6 L2374.0 1154.8 L2368.8 1157.5 L2365.8 1160.9 L2361.4 1166.2 L2356.2 1170.0 L2354.0 1173.9 L2350.5 1180.6 L2347.9 1185.6 L2344.0 1189.2 L2339.5 1191.0 L2335.1 1193.2 L2330.4 1198.4 L2328.7 1202.5 L2323.3 1206.0 L2318.5 1208.2 L2312.3 1208.8 L2306.7 1208.2 L2302.4 1211.2 L2299.2 1205.3 L2295.2 1204.1 L2290.3 1199.1 L2289.3 1193.7 L2285.3 1196.6 L2280.6 1201.8 L2276.2 1206.9 L2274.3 1211.9 L2268.3 1215.2 L2262.4 1216.2 L2258.4 1218.9 L2254.3 1222.2 L2251.7 1217.6 L2247.7 1213.7 L2246.2 1210.9 L2241.2 1206.9 L2238.1 1211.0 L2238.9 1218.6 L2239.8 1225.6 L2236.8 1230.9 L2231.4 1234.9 L2224.3 1236.6 L2219.3 1237.5 L2216.6 1245.2 L2214.3 1250.4 L2210.5 1255.0 L2203.5 1257.4 L2198.9 1258.2 L2193.0 1263.7 L2195.1 1270.7 L2194.8 1274.8 L2190.9 1281.2 L2188.5 1289.0 L2186.5 1295.1 L2182.1 1298.7 L2189.3 1301.4 L2195.2 1300.9 L2190.6 1302.7 L2186.2 1307.6 L2184.9 1311.8 L2179.9 1314.0 L2176.2 1317.1 L2174.1 1321.6 L2170.7 1327.1 L2166.8 1329.4 L2169.8 1333.7 L2171.8 1339.9 L2171.2 1344.7 L2165.7 1348.8 L2163.8 1354.0 L2160.2 1360.0 L2159.5 1366.1 L2160.4 1372.7 L2158.0 1377.5 L2159.3 1383.2 L2156.1 1387.9 L2152.2 1392.4 L2151.5 1397.0 L2150.6 1402.7 L2149.3 1408.1 L2153.2 1410.4 L2156.6 1417.2 L2159.7 1421.7 L2164.6 1423.4 L2160.4 1427.9 L2157.2 1431.3 L2154.3 1432.8 L2151.5 1438.7 L2156.4 1439.1 L2160.8 1442.5 L2167.0 1445.3 L2173.4 1445.2 L2178.7 1445.2 L2184.8 1448.0 L2188.7 1449.7 L2188.5 1454.6 L2189.7 1459.3 L2193.5 1465.0 L2195.2 1469.3 L2201.5 1472.9 L2206.2 1475.9 L2209.1 1480.1 L2211.6 1485.1 L2216.2 1487.2 L2220.3 1492.3 L2220.7 1497.5Z" fill="#73b2d8" stroke="#73b2d8" stroke-width="1"/>
<path d="M1834.3 1685.9 L1831.5 1679.0 L1828.7 1675.3 L1826.6 1668.8 L1823.4 1664.0 L1819.1 1662.4 L1812.0 1663.6 L1808.1 1664.0 L1803.1 1667.0 L1799.3 1669.5 L1795.0 1672.7 L1788.9 1671.4 L1783.0 1671.9 L1777.1 1671.8 L1773.1 1668.4 L1768.0 1671.9 L1765.8 1676.5 L1762.3 1681.3 L1755.6 1683.7 L1751.7 1681.1 L1746.9 1676.0 L1744.7 1672.7 L1738.2 1669.9 L1735.0 1667.2 L1729.5 1664.0 L1725.0 1659.6 L1720.7 1661.5 L1713.4 1660.4 L1708.4 1660.5 L1703.1 1664.0 L1697.6 1663.0 L1692.8 1661.4 L1687.7 1661.1 L1681.2 1659.6 L1678.6 1655.7 L1673.9 1651.5 L1666.7 1648.1 L1663.7 1644.3 L1658.7 1650.2 L1655.4 1652.1 L1648.4 1653.1 L1649.6 1657.4 L1650.6 1664.0 L1647.5 1667.7 L1643.1 1671.6 L1637.5 1674.9 L1642.8 1675.8 L1648.4 1681.3 L1652.8 1685.9 L1654.6 1693.1 L1659.4 1699.0 L1657.2 1705.0 L1652.8 1709.0 L1647.4 1711.1 L1644.1 1714.3 L1641.5 1719.3 L1640.9 1725.4 L1640.2 1730.5 L1639.7 1736.2 L1636.7 1741.8 L1630.7 1745.5 L1626.6 1749.3 L1622.6 1755.4 L1622.1 1760.2 L1626.8 1759.5 L1635.0 1760.4 L1638.9 1760.1 L1644.3 1761.1 L1650.6 1762.4 L1653.4 1769.0 L1657.0 1775.3 L1659.4 1779.9 L1662.5 1784.5 L1662.6 1791.1 L1661.8 1794.8 L1663.0 1800.2 L1663.7 1806.2 L1661.1 1810.7 L1660.9 1817.5 L1660.2 1821.1 L1657.2 1825.9 L1655.6 1831.6 L1652.8 1839.0 L1658.1 1839.7 L1664.1 1839.4 L1667.9 1837.7 L1675.0 1836.9 L1679.6 1839.5 L1684.2 1840.2 L1690.0 1836.8 L1694.2 1839.0 L1699.4 1839.7 L1706.7 1839.4 L1710.6 1840.4 L1716.9 1841.9 L1720.8 1842.1 L1727.2 1842.3 L1731.5 1841.2 L1731.7 1834.9 L1735.2 1829.8 L1738.7 1825.8 L1740.3 1819.3 L1734.6 1817.4 L1729.1 1816.7 L1724.8 1814.8 L1718.7 1812.7 L1714.0 1810.5 L1709.9 1805.1 L1705.3 1801.8 L1711.1 1800.2 L1718.4 1795.2 L1723.2 1793.1 L1726.5 1786.6 L1728.2 1781.6 L1734.0 1777.1 L1739.0 1774.2 L1742.5 1771.2 L1746.9 1767.3 L1753.7 1764.3 L1756.7 1763.1 L1764.1 1759.1 L1768.7 1758.0 L1771.7 1751.6 L1773.7 1747.8 L1775.2 1741.9 L1777.5 1736.2 L1781.6 1731.8 L1787.7 1730.3 L1792.5 1728.7 L1796.1 1726.4 L1801.5 1723.1 L1805.9 1717.7 L1808.1 1709.9 L1813.3 1708.0 L1819.3 1705.5 L1824.0 1703.6 L1830.0 1701.2 L1830.9 1696.9 L1832.3 1691.1Z" fill="#08306b" stroke="#08306b" stroke-width="1"/>
<path d="M1141.7 1953.7 L1140.8 1958.0 L1141.3 1965.1 L1142.3 1969.0 L1144.5 1972.6 L1146.2 1979.0 L1147.4 1983.5 L1150.3 1987.6 L1148.9 1993.7 L1150.5 1997.1 L1153.5 2002.9 L1154.6 2008.6 L1153.4 2014.3 L1154.3 2018.9 L1155.9 2024.5 L1155.0 2030.3 L1153.8 2034.4 L1155.1 2040.9 L1159.1 2044.5 L1164.3 2046.3 L1167.8 2051.1 L1170.0 2055.4 L1172.8 2049.5 L1176.6 2044.5 L1179.9 2048.1 L1182.4 2053.4 L1186.0 2057.3 L1190.0 2061.4 L1194.1 2066.3 L1200.9 2067.8 L1203.0 2070.8 L1205.1 2076.6 L1209.9 2080.9 L1215.4 2083.8 L1217.3 2086.4 L1222.1 2091.5 L1226.9 2092.6 L1229.4 2087.1 L1231.9 2081.4 L1232.7 2076.3 L1235.6 2070.7 L1242.4 2067.4 L1247.6 2064.9 L1253.1 2062.0 L1253.7 2055.2 L1252.2 2051.8 L1250.6 2046.6 L1250.9 2040.1 L1255.3 2038.2 L1262.2 2035.3 L1268.4 2033.5 L1267.5 2029.5 L1264.5 2022.5 L1260.2 2019.6 L1256.9 2014.8 L1257.5 2009.5 L1259.8 2003.8 L1259.7 1996.3 L1260.1 1989.9 L1258.7 1984.5 L1259.7 1978.9 L1255.7 1974.5 L1252.8 1969.1 L1250.9 1963.5 L1248.8 1959.6 L1244.3 1954.4 L1240.0 1950.4 L1241.0 1946.2 L1244.9 1941.2 L1246.5 1935.1 L1242.7 1933.2 L1235.9 1932.2 L1230.1 1929.4 L1226.9 1926.4 L1223.9 1922.6 L1218.9 1921.4 L1212.8 1919.4 L1208.2 1916.9 L1202.8 1915.4 L1197.5 1917.1 L1194.1 1922.0 L1190.1 1925.5 L1184.8 1929.9 L1181.9 1934.0 L1180.9 1939.5 L1175.3 1942.9 L1170.5 1946.6 L1165.6 1950.4 L1160.4 1949.4 L1154.8 1951.8 L1148.9 1954.6Z" fill="#08306b" stroke="#08306b" stroke-width="1"/>
<path d="M1226.9 2092.6 L1230.6 2096.1 L1234.5 2098.9 L1240.4 2101.9 L1244.1 2104.8 L1250.1 2108.3 L1254.2 2108.3 L1260.2 2111.0 L1264.0 2115.6 L1268.4 2116.6 L1266.2 2122.7 L1266.2 2129.8 L1271.8 2130.7 L1275.4 2133.2 L1281.7 2136.6 L1286.0 2137.9 L1292.5 2138.5 L1297.0 2137.2 L1304.0 2139.6 L1307.4 2143.6 L1312.2 2144.4 L1319.0 2143.4 L1324.2 2143.8 L1328.9 2144.9 L1332.6 2145.6 L1338.4 2147.3 L1342.6 2150.0 L1349.1 2151.3 L1355.9 2152.3 L1359.3 2153.9 L1364.7 2158.2 L1369.9 2161.9 L1370.5 2166.0 L1370.5 2173.1 L1372.4 2177.8 L1375.5 2181.6 L1378.5 2185.3 L1380.0 2191.0 L1384.4 2188.2 L1390.9 2187.6 L1395.6 2186.8 L1401.1 2186.1 L1406.2 2183.6 L1413.2 2183.2 L1420.0 2185.4 L1425.9 2186.6 L1420.6 2192.0 L1418.2 2197.0 L1418.5 2204.1 L1424.9 2206.9 L1427.3 2207.9 L1431.9 2206.8 L1436.6 2206.7 L1441.7 2207.6 L1448.0 2208.1 L1452.1 2210.7 L1453.3 2204.8 L1455.4 2198.9 L1455.9 2194.8 L1458.7 2188.8 L1456.6 2185.3 L1453.9 2180.0 L1452.3 2174.4 L1452.1 2169.1 L1458.2 2169.1 L1461.8 2169.1 L1466.6 2166.4 L1471.8 2162.6 L1474.5 2158.0 L1478.0 2153.5 L1481.8 2149.8 L1483.9 2144.7 L1485.0 2140.7 L1493.7 2145.1 L1498.9 2140.7 L1500.0 2137.0 L1504.6 2132.0 L1507.0 2128.3 L1507.9 2122.8 L1510.0 2115.3 L1512.4 2109.8 L1514.3 2105.3 L1517.8 2101.3 L1515.9 2095.7 L1515.5 2092.3 L1516.8 2086.8 L1516.6 2081.0 L1516.4 2075.3 L1518.1 2072.3 L1517.8 2066.3 L1512.7 2063.5 L1510.8 2059.3 L1508.1 2053.4 L1505.0 2050.7 L1502.4 2044.5 L1501.7 2038.6 L1499.6 2034.5 L1494.9 2029.3 L1491.5 2024.8 L1484.6 2024.9 L1478.5 2023.4 L1471.8 2022.6 L1465.5 2024.5 L1460.4 2025.2 L1454.3 2022.6 L1450.0 2018.4 L1447.9 2013.5 L1445.6 2009.5 L1443.0 2005.7 L1441.2 1999.6 L1437.3 1995.5 L1433.8 1992.5 L1432.5 1987.6 L1429.3 1984.0 L1425.2 1981.3 L1422.9 1976.4 L1421.0 1971.2 L1415.0 1967.9 L1414.1 1972.0 L1410.7 1977.6 L1407.0 1983.1 L1406.2 1987.6 L1401.9 1991.4 L1395.5 1993.8 L1390.9 1996.3 L1393.5 2002.9 L1395.3 2009.5 L1390.8 2013.5 L1386.5 2020.4 L1381.3 2017.8 L1376.2 2015.1 L1373.0 2012.6 L1369.2 2010.1 L1362.5 2009.5 L1357.3 2008.4 L1352.1 2004.8 L1347.0 2004.2 L1342.6 2005.2 L1337.1 2001.9 L1331.9 1999.1 L1327.5 2000.7 L1322.2 2000.8 L1317.5 1998.5 L1313.9 1994.7 L1308.8 1992.8 L1302.2 1992.7 L1296.9 1992.0 L1290.3 1993.0 L1286.1 1992.5 L1281.5 1990.8 L1275.2 1990.4 L1270.9 1991.3 L1264.9 1993.6 L1259.7 1996.3 L1259.8 2003.8 L1257.5 2009.5 L1256.9 2014.8 L1260.2 2019.6 L1264.5 2022.5 L1267.5 2029.5 L1268.4 2033.5 L1262.2 2035.3 L1255.3 2038.2 L1250.9 2040.1 L1250.6 2046.6 L1252.2 2051.8 L1253.7 2055.2 L1253.1 2062.0 L1247.6 2064.9 L1242.4 2067.4 L1235.6 2070.7 L1232.7 2076.3 L1231.9 2081.4 L1229.4 2087.1Z" fill="#08306b" stroke="#08306b" stroke-width="1"/>
<path d="M1380.0 2191.0 L1381.4 2195.7 L1387.5 2200.4 L1390.9 2204.1 L1390.9 2210.7 L1397.2 2212.3 L1401.7 2211.2 L1406.9 2208.7 L1410.2 2209.0 L1417.1 2210.5 L1421.5 2208.5 L1425.5 2208.4 L1427.3 2207.9 L1424.9 2206.9 L1418.5 2204.1 L1418.2 2197.0 L1420.6 2192.0 L1425.9 2186.6 L1420.0 2185.4 L1413.2 2183.2 L1406.2 2183.6 L1401.1 2186.1 L1395.6 2186.8 L1390.9 2187.6 L1384.4 2188.2Z" fill="#2979b9" stroke="#2979b9" stroke-width="1"/>
<path d="M1452.1 2210.7 L1455.0 2215.0 L1462.3 2219.0 L1467.5 2219.4 L1473.9 2215.3 L1480.6 2215.1 L1484.9 2217.0 L1485.5 2218.5 L1489.0 2221.8 L1493.7 2223.8 L1497.4 2228.1 L1502.9 2231.9 L1506.0 2236.2 L1508.9 2242.2 L1513.5 2245.4 L1518.6 2249.2 L1519.9 2254.4 L1523.4 2256.8 L1526.6 2261.8 L1532.2 2265.2 L1534.9 2268.3 L1537.4 2274.3 L1540.3 2277.6 L1544.3 2283.8 L1546.6 2288.5 L1551.2 2291.9 L1555.8 2293.1 L1560.3 2295.6 L1563.7 2300.4 L1565.1 2294.9 L1564.3 2290.3 L1565.4 2284.2 L1565.3 2279.8 L1566.4 2274.2 L1568.4 2270.5 L1568.5 2264.4 L1569.7 2260.0 L1570.3 2254.4 L1575.8 2252.8 L1583.2 2251.7 L1588.7 2250.1 L1594.3 2247.9 L1599.9 2249.8 L1604.9 2251.9 L1609.8 2256.3 L1614.0 2261.0 L1618.7 2256.0 L1620.6 2247.9 L1629.3 2243.5 L1631.3 2247.0 L1632.9 2252.4 L1638.1 2256.6 L1642.5 2254.3 L1648.3 2253.1 L1655.0 2253.9 L1659.9 2252.3 L1661.9 2247.4 L1663.6 2241.0 L1666.5 2236.0 L1668.9 2233.5 L1673.1 2228.2 L1678.0 2226.5 L1682.7 2225.6 L1688.0 2224.3 L1693.8 2223.0 L1699.3 2223.8 L1704.2 2223.1 L1709.9 2222.4 L1716.9 2221.4 L1722.4 2220.9 L1727.7 2221.6 L1732.6 2218.5 L1736.3 2217.0 L1742.5 2212.3 L1746.8 2210.0 L1751.8 2209.8 L1756.2 2206.3 L1752.8 2210.7 L1750.9 2216.2 L1752.2 2222.5 L1752.8 2226.8 L1749.0 2232.3 L1746.3 2237.0 L1747.4 2241.3 L1742.8 2246.5 L1739.8 2249.5 L1736.5 2254.4 L1740.2 2257.4 L1748.2 2260.4 L1751.5 2262.3 L1756.2 2267.6 L1761.1 2266.2 L1767.3 2262.1 L1770.2 2259.9 L1777.5 2258.0 L1782.4 2258.8 L1782.8 2253.2 L1786.1 2249.1 L1790.2 2242.3 L1790.2 2238.0 L1793.4 2232.6 L1792.3 2226.4 L1791.7 2222.5 L1792.5 2215.4 L1791.9 2210.0 L1790.0 2205.6 L1789.1 2200.6 L1789.0 2195.4 L1784.7 2193.9 L1778.0 2193.2 L1774.9 2187.4 L1770.9 2184.2 L1764.1 2182.0 L1758.9 2180.4 L1756.2 2175.7 L1752.1 2173.9 L1744.4 2171.2 L1740.1 2168.1 L1734.6 2164.1 L1729.9 2162.6 L1727.1 2158.2 L1722.0 2153.8 L1717.4 2151.2 L1712.2 2148.4 L1708.0 2145.1 L1706.1 2137.3 L1702.3 2133.0 L1699.3 2127.6 L1705.4 2123.1 L1708.0 2116.6 L1710.3 2110.2 L1709.5 2103.6 L1710.1 2098.1 L1712.7 2093.9 L1716.8 2088.2 L1721.1 2084.6 L1721.4 2080.3 L1722.0 2074.0 L1725.4 2070.5 L1730.4 2066.1 L1732.1 2062.0 L1730.8 2056.3 L1730.1 2050.4 L1730.4 2046.9 L1731.9 2040.3 L1734.3 2035.7 L1739.8 2033.4 L1745.8 2033.0 L1752.1 2032.1 L1758.4 2029.2 L1761.2 2024.2 L1761.0 2018.7 L1762.9 2013.4 L1765.3 2009.1 L1766.2 2004.3 L1769.3 2000.7 L1765.6 1995.2 L1763.8 1992.2 L1763.2 1986.0 L1762.4 1980.5 L1760.5 1974.9 L1758.4 1970.1 L1762.3 1968.4 L1767.3 1964.3 L1769.3 1959.2 L1775.4 1962.7 L1778.2 1966.0 L1782.4 1970.1 L1784.6 1963.1 L1787.4 1959.4 L1791.0 1954.9 L1795.5 1950.4 L1788.5 1948.8 L1785.1 1946.5 L1779.5 1940.8 L1775.9 1937.3 L1775.3 1932.0 L1772.1 1925.3 L1768.8 1923.1 L1764.9 1917.6 L1760.2 1916.5 L1754.7 1913.2 L1750.0 1911.6 L1745.2 1913.2 L1744.5 1918.0 L1742.6 1923.2 L1739.5 1928.4 L1736.8 1935.3 L1735.0 1939.3 L1732.1 1943.9 L1727.5 1947.7 L1723.7 1949.1 L1716.8 1950.4 L1712.4 1948.7 L1707.2 1946.7 L1701.5 1946.0 L1697.8 1941.5 L1693.8 1939.5 L1688.9 1935.4 L1684.0 1932.9 L1678.6 1935.6 L1673.6 1939.4 L1670.9 1943.9 L1669.4 1949.7 L1666.5 1954.8 L1671.2 1958.1 L1675.5 1963.2 L1681.8 1965.7 L1676.4 1968.3 L1672.6 1974.5 L1668.2 1979.2 L1662.1 1981.0 L1657.3 1983.8 L1653.9 1988.7 L1653.4 1994.2 L1649.0 1989.6 L1645.3 1988.5 L1641.4 1985.6 L1638.1 1981.0 L1633.7 1979.1 L1631.8 1973.6 L1629.7 1968.4 L1624.9 1965.7 L1618.6 1965.8 L1613.3 1964.6 L1607.9 1964.4 L1603.1 1963.5 L1600.0 1958.9 L1595.6 1956.2 L1591.5 1952.9 L1589.9 1948.2 L1585.3 1952.9 L1581.2 1954.8 L1583.7 1959.1 L1583.4 1964.4 L1583.4 1970.1 L1577.6 1971.0 L1572.4 1976.7 L1570.3 1971.6 L1564.9 1968.4 L1559.3 1965.7 L1552.5 1966.2 L1548.6 1966.5 L1541.8 1970.1 L1537.0 1973.8 L1530.5 1976.0 L1525.9 1977.6 L1519.9 1981.0 L1514.8 1983.3 L1508.0 1982.4 L1503.4 1981.2 L1498.1 1983.2 L1495.9 1989.8 L1500.6 1991.7 L1505.1 1996.4 L1508.5 1999.2 L1513.4 2002.9 L1511.4 2009.6 L1511.2 2013.8 L1505.2 2017.2 L1502.0 2019.6 L1496.1 2022.3 L1491.5 2024.8 L1494.9 2029.3 L1499.6 2034.5 L1501.7 2038.6 L1502.4 2044.5 L1505.0 2050.7 L1508.1 2053.4 L1510.8 2059.3 L1512.7 2063.5 L1517.8 2066.3 L1518.1 2072.3 L1516.4 2075.3 L1516.6 2081.0 L1516.8 2086.8 L1515.5 2092.3 L1515.9 2095.7 L1517.8 2101.3 L1514.3 2105.3 L1512.4 2109.8 L1510.0 2115.3 L1507.9 2122.8 L1507.0 2128.3 L1504.6 2132.0 L1500.0 2137.0 L1498.9 2140.7 L1493.7 2145.1 L1485.0 2140.7 L1483.9 2144.7 L1481.8 2149.8 L1478.0 2153.5 L1474.5 2158.0 L1471.8 2162.6 L1466.6 2166.4 L1461.8 2169.1 L1458.2 2169.1 L1452.1 2169.1 L1452.3 2174.4 L1453.9 2180.0 L1456.6 2185.3 L1458.7 2188.8 L1455.9 2194.8 L1455.4 2198.9 L1453.3 2204.8Z" fill="#2979b9" stroke="#2979b9" stroke-width="1"/>
<path d="M1782.4 2258.8 L1790.0 2258.1 L1794.4 2257.2 L1799.9 2252.3 L1803.6 2257.8 L1808.7 2261.0 L1812.0 2255.9 L1814.8 2249.7 L1817.4 2245.7 L1822.3 2243.4 L1829.8 2241.7 L1835.0 2241.1 L1841.5 2241.3 L1845.0 2247.9 L1848.6 2252.7 L1852.4 2256.6 L1856.2 2260.3 L1861.6 2262.7 L1868.4 2264.0 L1871.4 2267.5 L1873.8 2272.3 L1879.7 2275.1 L1883.0 2278.5 L1890.3 2279.4 L1894.9 2279.3 L1902.7 2278.5 L1907.2 2274.5 L1912.0 2268.5 L1913.6 2263.2 L1919.2 2266.1 L1924.4 2265.7 L1929.6 2264.7 L1934.0 2266.1 L1939.6 2267.9 L1944.3 2267.6 L1947.4 2264.0 L1950.9 2257.8 L1953.0 2255.2 L1959.6 2252.3 L1964.7 2250.8 L1969.1 2248.7 L1974.9 2245.7 L1978.0 2240.4 L1981.5 2232.6 L1986.9 2228.5 L1991.5 2226.0 L1995.2 2225.1 L1999.9 2225.2 L2007.0 2225.7 L2012.1 2226.0 L2013.2 2219.7 L2015.9 2216.4 L2022.1 2212.4 L2026.0 2208.9 L2029.6 2204.1 L2023.9 2202.2 L2020.4 2200.9 L2014.8 2197.2 L2011.7 2193.4 L2007.2 2188.7 L2002.3 2184.8 L1997.1 2182.4 L1992.6 2180.2 L1989.5 2178.5 L1983.6 2175.7 L1982.8 2182.2 L1980.1 2187.2 L1976.6 2191.5 L1970.5 2195.4 L1961.8 2191.0 L1966.5 2186.9 L1969.0 2180.2 L1967.5 2175.1 L1965.6 2169.2 L1968.3 2162.6 L1968.5 2158.0 L1971.4 2150.5 L1974.9 2147.3 L1979.5 2144.8 L1984.0 2137.7 L1983.6 2132.0 L1981.4 2126.6 L1978.5 2120.6 L1974.9 2114.5 L1976.7 2110.6 L1977.1 2103.6 L1973.8 2099.5 L1973.0 2093.7 L1977.1 2088.2 L1971.3 2083.1 L1968.7 2080.9 L1964.0 2075.1 L1967.8 2070.6 L1970.5 2062.0 L1977.3 2062.2 L1980.7 2060.9 L1986.7 2056.5 L1992.4 2055.4 L1990.6 2050.8 L1988.8 2044.2 L1988.6 2038.4 L1990.2 2031.3 L1984.9 2032.1 L1978.0 2033.4 L1970.5 2031.3 L1967.0 2028.9 L1961.8 2025.4 L1958.0 2022.9 L1953.0 2020.4 L1950.7 2016.3 L1947.9 2012.3 L1943.2 2007.0 L1939.1 2003.0 L1935.5 2000.7 L1929.0 2004.1 L1926.4 2008.1 L1924.1 2012.6 L1918.0 2016.0 L1913.8 2010.9 L1910.0 2009.0 L1905.2 2006.7 L1900.5 2005.1 L1895.6 2004.9 L1890.8 2006.2 L1884.2 2007.7 L1879.1 2009.3 L1874.3 2009.5 L1868.1 2005.7 L1864.0 2003.8 L1857.5 2003.6 L1852.4 2005.1 L1846.0 2010.6 L1839.3 2011.7 L1836.5 2006.5 L1832.9 2000.6 L1828.1 1997.0 L1821.8 1994.2 L1816.0 1990.2 L1810.9 1989.0 L1806.2 1985.6 L1799.9 1983.2 L1797.1 1978.7 L1791.9 1975.5 L1786.4 1973.3 L1782.4 1970.1 L1778.2 1966.0 L1775.4 1962.7 L1769.3 1959.2 L1767.3 1964.3 L1762.3 1968.4 L1758.4 1970.1 L1760.5 1974.9 L1762.4 1980.5 L1763.2 1986.0 L1763.8 1992.2 L1765.6 1995.2 L1769.3 2000.7 L1766.2 2004.3 L1765.3 2009.1 L1762.9 2013.4 L1761.0 2018.7 L1761.2 2024.2 L1758.4 2029.2 L1752.1 2032.1 L1745.8 2033.0 L1739.8 2033.4 L1734.3 2035.7 L1731.9 2040.3 L1730.4 2046.9 L1730.1 2050.4 L1730.8 2056.3 L1732.1 2062.0 L1730.4 2066.1 L1725.4 2070.5 L1722.0 2074.0 L1721.4 2080.3 L1721.1 2084.6 L1716.8 2088.2 L1712.7 2093.9 L1710.1 2098.1 L1709.5 2103.6 L1710.3 2110.2 L1708.0 2116.6 L1705.4 2123.1 L1699.3 2127.6 L1702.3 2133.0 L1706.1 2137.3 L1708.0 2145.1 L1712.2 2148.4 L1717.4 2151.2 L1722.0 2153.8 L1727.1 2158.2 L1729.9 2162.6 L1734.6 2164.1 L1740.1 2168.1 L1744.4 2171.2 L1752.1 2173.9 L1756.2 2175.7 L1758.9 2180.4 L1764.1 2182.0 L1770.9 2184.2 L1774.9 2187.4 L1778.0 2193.2 L1784.7 2193.9 L1789.0 2195.4 L1789.1 2200.6 L1790.0 2205.6 L1791.9 2210.0 L1792.5 2215.4 L1791.7 2222.5 L1792.3 2226.4 L1793.4 2232.6 L1790.2 2238.0 L1790.2 2242.3 L1786.1 2249.1 L1782.8 2253.2Z" fill="#2979b9" stroke="#2979b9" stroke-width="1"/>
<path d="M2385.8 85.3 L2388.7 81.9 L2391.3 74.9 L2392.4 71.6 L2397.8 67.8 L2403.7 64.3 L2408.7 59.1 L2409.6 65.5 L2413.1 70.0 L2418.0 72.7 L2421.2 77.5 L2423.5 79.4 L2428.4 83.1 L2432.7 81.0 L2438.1 78.8 L2443.7 78.7 L2446.5 72.8 L2447.3 68.2 L2445.9 61.2 L2451.9 59.4 L2455.2 59.4 L2461.9 59.7 L2465.9 60.6 L2470.3 62.3 L2476.9 62.3 L2480.8 61.4 L2486.8 62.9 L2490.5 64.6 L2497.1 65.7 L2501.0 67.5 L2504.9 69.0 L2511.3 69.1 L2515.9 69.1 L2520.1 74.2 L2520.3 78.7 L2525.4 80.4 L2531.1 80.1 L2536.4 80.7 L2541.7 79.8 L2545.8 78.7 L2551.2 79.6 L2557.3 79.8 L2561.9 80.9 L2566.8 85.4 L2570.5 86.6 L2575.0 91.9 L2581.5 92.9 L2588.1 96.2 L2594.8 98.2 L2599.6 99.0 L2604.1 99.4 L2610.0 98.4 L2615.6 99.2 L2618.8 100.6 L2624.0 104.1 L2618.0 105.3 L2612.2 107.2 L2614.6 113.3 L2614.9 118.0 L2614.3 122.5 L2612.1 127.6 L2609.9 133.6 L2605.6 140.0 L2602.1 146.0 L2599.0 150.9 L2594.7 157.5 M1223.1 843.4 L1223.2 837.5 L1221.2 834.5 L1217.8 829.6 L1216.5 823.7 L1215.3 819.1 L1214.3 812.8 L1218.6 808.0 L1221.2 802.4 L1223.1 797.5 L1227.9 794.8 L1231.8 788.7 L1227.4 786.5 L1222.3 787.8 L1217.0 789.2 L1212.1 788.7 L1206.1 786.2 L1203.4 782.2 L1203.2 777.0 L1199.7 769.4 L1197.6 765.2 L1196.8 758.1 L1194.5 753.5 L1194.5 746.4 L1196.0 741.8 L1196.2 737.9 L1194.6 731.8 L1191.0 728.1 L1185.8 723.4 L1181.5 720.9 L1175.6 717.8 L1170.6 716.5 L1172.7 710.0 L1177.1 711.1 L1183.9 710.3 L1188.1 707.8 L1188.4 702.2 L1190.2 696.9 L1186.8 693.6 L1184.2 686.4 L1181.5 681.5 L1176.2 681.5 L1168.4 678.5 L1164.1 683.0 L1159.6 685.9 L1155.2 686.7 L1149.7 687.1 L1144.3 690.3 L1140.4 689.1 L1133.2 689.4 L1129.0 688.1 L1124.6 694.7 L1128.8 699.7 L1131.0 701.7 L1133.4 707.8 L1140.0 707.2 L1144.3 704.7 L1139.5 702.4 L1131.2 701.2 L1124.0 697.0 L1120.3 692.5 L1115.4 693.5 L1109.1 696.7 L1104.9 699.0 L1100.6 705.6 L1095.7 707.6 L1089.6 712.2 L1084.9 717.8 L1084.5 721.6 L1080.9 727.5 L1075.0 728.7 L1070.2 729.2 L1065.6 731.8 L1065.6 736.5 L1063.8 744.3 L1063.4 749.3 L1059.4 756.0 L1054.6 758.1 L1049.1 761.2 L1044.3 761.0 L1039.3 762.5 L1034.8 766.1 L1029.8 768.8 L1024.0 773.4 L1025.3 780.0 L1031.0 781.8 L1037.7 781.9 L1042.6 781.4 L1049.4 781.2 L1054.6 780.0 L1053.9 786.8 L1054.6 790.9 L1060.0 790.2 L1064.6 789.8 L1069.9 792.2 L1070.7 797.3 L1069.9 804.0 L1063.8 804.9 L1058.0 805.1 L1053.5 806.0 L1047.3 806.4 L1041.5 806.2 L1035.8 809.4 L1032.2 812.6 L1026.5 815.1 L1019.6 817.1 L1021.8 821.5 L1017.1 819.7 L1010.9 815.5 L1006.5 815.0 L1000.9 813.3 L993.4 810.6 L994.6 805.3 L991.2 797.5 L996.0 794.3 L1000.0 790.9 L999.6 784.2 L995.6 777.8 L990.5 775.2 L982.5 773.4 L978.7 768.0 L975.9 764.7 L967.1 760.3 L965.2 764.1 L962.3 769.4 L958.4 773.4 L959.9 781.3 L959.1 786.9 L960.6 793.1 L951.8 797.5 L943.8 799.4 L938.7 801.8 L935.0 806.8 L927.8 810.6 L930.3 817.3 L930.0 823.7 L932.4 830.9 L935.6 835.8 L940.9 839.0 L942.2 845.9 L942.3 851.2 L940.9 856.5 L938.2 863.8 L934.5 868.4 L930.0 871.8 L938.7 876.2 L939.7 881.7 L938.3 887.1 L934.3 893.7 L929.8 897.7 L924.9 901.7 L921.2 906.8 L920.8 912.2 L918.2 917.8 L914.2 923.7 L910.3 926.5 L906.6 928.4 L902.4 933.0 L899.3 937.4 L900.2 942.8 L902.9 949.9 L905.9 954.9 L913.5 955.5 L919.4 955.4 L925.6 954.9 L933.5 954.0 L938.7 950.6 L943.9 947.1 L949.3 945.4 L953.4 946.1 L959.3 946.3 L965.0 944.0 L971.6 945.8 L975.9 950.6 L983.3 948.4 L989.8 949.2 L995.6 948.4 L1000.6 953.3 L1004.5 956.9 L1009.7 959.6 L1015.3 961.5 L1012.0 966.1 L1008.7 970.3 L1007.0 976.9 L1006.9 983.2 L1008.1 987.3 L1006.5 994.3 L1001.6 998.7 L1000.0 1003.1 L997.4 1009.5 L995.6 1014.0" fill="none" stroke="#ababab" stroke-width="3.6" stroke-linejoin="round" stroke-linecap="round"/>
<path d="M1775.6 205.6 L1780.8 204.5 L1787.0 206.6 L1792.1 209.6 L1797.5 209.1 L1802.9 213.1 L1806.2 216.5 L1811.5 218.3 L1819.3 219.4 L1825.9 218.7 L1830.9 219.5 L1836.4 223.1 L1841.2 224.0 L1844.6 229.2 L1845.6 236.2 L1850.0 227.5 L1856.5 225.7 L1861.5 222.1 L1863.5 219.4 L1869.6 215.7 L1876.2 220.0 L1882.4 221.4 L1889.0 219.6 L1893.7 220.9 L1899.5 215.3 L1904.6 214.3 L1909.1 218.0 L1909.8 222.4 L1913.4 226.6 L1918.3 226.5 L1923.6 226.6 L1928.7 225.3 L1933.1 223.8 L1937.4 218.7 L1941.8 225.3 L1938.6 230.5 L1937.4 236.2 L1938.9 244.9 L1942.7 249.3 L1939.0 253.1 L1936.7 256.9 L1935.3 262.5 L1936.8 269.9 L1938.9 274.0 L1944.0 277.8 L1945.0 281.8 L1946.1 287.1 L1947.7 291.5 L1949.7 297.5 M1949.7 297.5 L1947.1 301.6 L1944.9 307.0 L1943.1 310.4 L1938.0 312.9 L1934.3 317.1 L1932.7 323.1 L1930.0 326.2 L1925.6 329.6 L1922.1 334.6 L1924.8 340.0 L1928.7 347.8 L1937.2 347.0 L1942.7 345.6 L1946.6 350.6 L1950.2 354.0 L1952.8 358.7 L1953.3 364.7 L1950.6 369.6 L1953.2 374.9 L1957.8 377.1 L1961.5 380.6 L1963.9 387.1 L1963.7 391.5 L1970.5 390.1 L1974.0 389.5 L1981.2 391.5 L1987.5 394.4 L1989.9 398.1 L1984.5 402.1 L1980.3 409.0 M1749.3 398.1 L1755.8 395.4 L1759.7 395.8 L1765.6 397.4 L1769.9 398.3 L1774.5 400.3 L1780.0 400.3 L1785.0 404.0 L1787.9 408.7 L1790.9 413.4 L1799.7 411.2 L1805.5 406.5 L1808.9 399.7 L1808.4 393.7 L1816.4 391.1 L1821.5 388.5 L1825.9 391.5 L1833.3 395.9 L1836.9 401.5 L1837.8 405.7 L1836.0 413.4 L1839.5 416.4 L1841.1 421.5 L1845.6 426.5 L1840.3 433.1 L1845.2 433.7 L1852.0 435.6 L1856.1 437.0 L1863.1 435.3 L1871.8 430.9 L1878.3 429.6 L1883.4 430.0 L1886.5 432.5 L1891.5 435.2 L1898.1 435.3 L1903.4 435.7 L1909.8 433.1 L1915.6 433.1 L1921.4 434.8 L1927.2 435.2 L1931.8 437.5 L1937.4 437.4 L1943.3 438.8 L1949.3 441.4 L1952.8 444.0 L1952.9 437.1 L1957.1 430.9 L1963.7 426.8 L1970.3 426.5 L1970.6 421.4 L1975.6 416.8 L1980.1 413.9 L1980.3 409.0 M1980.3 409.0 L1986.0 411.2 L1991.5 412.2 L1994.3 415.6 L1995.6 420.5 L1998.3 425.3 L1998.7 430.9 L2002.9 433.2 L2007.8 437.0 L2009.6 441.8 L2012.0 435.7 L2012.7 428.7 L2017.7 426.2 L2024.9 424.3 L2028.9 428.1 L2033.5 429.8 L2039.4 431.2 L2044.6 430.9 L2049.0 428.7 M1949.7 297.5 L1955.5 296.4 L1959.4 291.3 L1962.1 288.5 L1968.1 288.7 L1971.5 285.1 L1977.7 280.5 L1983.4 277.8 L1987.8 278.6 L1994.4 275.3 L1998.0 272.4 L2003.1 271.2 L2005.1 265.6 L2007.4 261.6 L2012.5 263.3 L2018.4 260.3 L2024.0 264.5 L2027.1 266.6 L2033.7 270.3 L2039.4 267.9 L2041.7 265.5 L2043.8 259.7 L2047.2 254.0 L2052.0 250.5 L2056.4 249.3 L2054.8 245.3 L2054.8 238.6 L2055.6 234.7 L2057.3 228.5 L2057.2 224.0 L2056.4 218.7 L2064.3 217.9 L2068.7 220.9 L2073.2 221.3 L2079.2 219.9 L2084.0 220.0 L2081.3 225.9 L2081.8 231.0 L2090.6 231.0 L2096.6 228.9 L2100.3 225.5 L2104.5 223.1 L2101.4 217.0 L2099.9 212.0 L2100.3 206.3 L2101.4 200.7 L2102.2 196.3 L2102.8 190.3 L2107.6 193.6 L2112.4 199.0 L2120.1 201.2 L2125.5 200.6 L2132.1 202.1 L2138.4 207.6 L2143.9 210.8 L2146.5 202.1 L2139.9 196.9 L2136.5 191.6 L2134.3 182.9 L2130.3 180.4 L2124.1 181.2 L2118.6 182.2 L2112.4 181.5 L2110.3 176.6 L2108.0 172.2 L2107.2 167.1 L2100.9 164.7 L2096.3 164.3 L2090.6 159.7 L2088.7 152.6 L2089.7 146.6 L2091.3 142.9 L2088.4 135.6 L2086.2 129.9 M2215.2 98.4 L2213.6 105.4 L2214.9 111.3 L2215.2 118.1 L2213.1 125.6 L2209.5 131.2 L2207.1 135.9 L2207.4 140.4 L2207.8 146.5 L2201.7 147.7 L2195.1 148.9 L2191.2 152.2 L2184.6 159.7 L2188.8 165.3 L2193.4 171.5 L2199.3 170.3 L2206.5 171.5 L2211.5 178.3 L2215.2 182.9 L2217.4 190.3 L2223.0 193.6 L2227.6 193.6 L2232.7 191.6 L2230.8 198.7 L2229.2 205.2 L2226.2 210.0 L2222.1 212.4 L2217.5 216.7 L2213.9 219.8 L2210.8 224.0 L2209.7 230.6 L2213.0 238.4 L2218.2 242.0 L2221.6 245.0 L2222.9 249.2 L2227.0 252.8 L2224.2 256.5 L2222.8 261.9 L2223.2 269.2 L2222.9 275.5 L2221.8 280.0 L2216.1 281.7 L2210.8 288.7 M2210.8 288.7 L2205.2 292.0 L2200.4 295.7 L2193.4 298.3 L2194.9 305.1 L2193.4 311.5 L2190.7 315.9 L2185.1 318.6 L2180.2 319.3 L2174.4 324.0 L2170.6 330.3 L2169.8 337.3 L2169.7 341.2 L2170.2 347.8 L2173.7 354.3 L2170.0 360.5 L2165.8 364.4 L2162.7 367.5 L2155.3 374.0 L2152.1 380.0 L2151.8 385.0 L2146.5 387.5 L2141.6 387.4 L2138.1 388.8 L2132.1 390.2 L2127.0 386.1 L2123.4 381.5 L2118.3 376.5 L2111.5 375.3 L2110.5 367.0 L2108.0 362.2 L2101.3 365.2 L2094.1 367.5 L2087.5 366.2 L2081.8 369.6 L2078.0 375.0 L2076.6 382.8 L2071.3 384.0 L2064.3 385.0 L2061.6 389.5 L2059.4 396.9 L2056.7 401.5 L2052.1 404.6 L2051.7 410.0 L2052.8 418.2 L2052.7 423.1 L2049.0 428.7 M2210.8 288.7 L2217.4 292.1 L2221.8 296.3 L2228.3 297.5 L2232.5 299.9 L2239.7 299.4 L2242.8 299.2 L2248.9 299.7 L2254.3 303.1 L2258.2 307.5 L2263.3 308.4 L2268.6 306.7 L2277.1 306.8 L2283.0 306.2 L2287.4 311.5 L2286.5 315.9 L2283.0 321.5 L2287.4 329.0 L2292.6 328.7 L2298.7 327.4 L2303.9 328.2 L2309.3 329.0 L2313.0 334.9 L2320.2 337.7 L2324.2 340.8 L2329.2 341.1 L2335.5 341.2 L2334.9 346.0 L2335.4 351.7 L2335.5 357.8 L2342.1 364.0 L2346.4 368.1 L2350.1 371.4 L2354.0 375.3 L2360.1 379.6 L2366.1 380.6 M2049.0 428.7 L2053.0 434.1 L2055.6 437.4 L2057.9 444.8 L2056.9 450.3 L2053.4 454.9 L2056.4 461.5 L2049.0 465.9 L2051.1 473.5 L2052.1 479.0 L2055.7 482.7 L2057.5 487.7 L2060.3 493.0 L2063.6 495.8 L2067.9 499.6 L2073.1 503.1 L2076.6 508.4 L2079.0 511.4 L2084.0 516.2 L2087.9 512.4 L2094.0 510.8 L2101.5 511.8 L2106.0 513.6 L2112.4 512.7 L2116.8 520.6 L2112.4 527.1 L2115.8 533.5 L2119.8 537.2 L2123.4 542.4 L2122.2 547.8 L2120.3 555.6 L2113.3 554.8 L2107.5 556.9 L2102.8 557.1 L2097.1 554.7 M2097.1 554.7 L2100.5 559.2 L2105.3 561.6 L2111.8 563.9 L2117.1 565.6 L2120.5 568.7 L2124.7 571.6 L2129.9 573.1 L2132.2 577.7 L2138.1 582.3 L2142.7 583.7 L2148.8 586.2 L2151.8 590.6 L2153.6 597.1 L2155.3 600.1 L2158.3 605.0 L2160.1 609.2 L2164.7 614.7 L2169.3 616.8 L2172.4 622.7 L2176.7 624.5 L2181.0 629.1 L2182.4 634.3 L2180.2 643.0 L2185.5 648.7 L2191.2 651.8 L2194.3 657.7 L2196.7 660.7 L2198.7 667.2 L2200.8 671.5 L2199.9 678.0 M2254.6 605.9 L2249.5 606.8 L2243.7 607.2 L2237.9 607.9 L2232.5 611.0 L2226.1 612.3 L2220.5 612.3 L2214.7 614.2 L2210.8 616.8 L2206.7 619.7 L2201.6 625.8 L2199.0 629.9 L2202.1 638.7 L2209.0 640.2 L2213.4 642.5 L2217.4 647.4 L2214.2 652.5 L2215.2 660.5 L2212.7 665.6 L2206.9 670.0 L2203.8 673.7 L2199.9 678.0 M1779.1 588.4 L1782.6 592.9 L1783.8 596.4 L1785.1 603.3 L1785.6 608.4 L1788.7 612.4 L1794.6 615.0 L1801.8 619.0 L1806.2 610.2 L1811.2 611.1 L1817.7 609.0 L1821.0 607.4 L1826.0 607.1 L1832.5 608.0 L1838.1 606.0 L1843.4 605.9 L1845.4 601.2 L1846.4 596.3 L1847.8 590.6 L1850.1 585.2 L1856.5 579.6 L1862.5 582.9 L1867.6 582.1 L1872.5 580.9 L1877.1 584.0 L1878.3 591.8 L1880.0 596.8 L1885.0 601.5 L1890.0 601.1 L1894.7 603.8 L1900.5 606.1 L1906.8 605.9 L1910.6 611.9 L1911.7 616.8 L1915.6 621.2 L1917.5 625.7 L1921.2 628.8 L1926.4 632.5 L1928.7 636.5 L1933.0 633.7 L1938.8 633.5 L1945.5 633.7 L1949.4 632.9 L1955.0 632.1 M1955.0 632.1 L1957.8 624.6 L1961.6 620.6 L1965.9 616.8 L1974.6 614.6 L1973.3 623.4 L1975.5 628.0 L1978.5 633.1 L1981.1 636.6 L1981.2 643.0 M1981.2 643.0 L1986.7 641.8 L1992.1 640.9 L1991.7 634.6 L1994.3 629.9 L1999.7 626.4 L2003.1 619.0 L2007.4 615.1 L2014.5 611.9 L2019.9 609.4 L2024.9 608.0 L2029.8 608.5 L2035.3 606.1 L2040.8 603.8 L2044.6 601.5 L2043.3 595.7 L2044.6 590.6 L2038.3 588.4 L2033.6 584.7 L2030.3 582.6 L2022.7 581.8 L2025.5 576.0 L2029.2 570.9 L2031.5 564.3 L2035.7 559.7 L2042.4 554.7 L2048.5 556.4 L2053.3 554.6 L2058.1 553.8 L2064.3 556.4 L2069.3 554.9 L2073.1 549.0 L2081.0 545.9 L2086.2 544.6 L2093.0 550.2 L2097.1 554.7 M2364.0 350.0 L2369.8 349.4 L2373.9 349.4 L2379.8 346.5 L2383.5 343.2 L2387.2 341.3 L2393.0 338.8 L2396.8 336.8 L2400.7 337.6 L2407.2 337.8 L2412.1 337.7 L2414.8 342.3 L2416.4 350.0 L2409.9 356.5 L2416.4 363.1 L2422.6 364.5 L2429.6 365.3 L2427.8 371.7 L2425.7 374.2 L2425.2 380.6 L2428.8 387.5 L2431.8 393.7 L2436.4 395.4 L2444.2 396.1 L2449.3 395.9 L2450.0 401.6 L2453.6 406.8 L2457.2 411.2 L2462.4 413.4 L2460.5 418.5 L2458.0 426.5 L2460.0 433.2 L2462.4 437.4 L2467.0 440.9 L2471.1 446.2 L2476.7 446.5 L2483.7 444.8 L2488.6 444.0 L2495.0 446.3 L2499.6 446.8 L2505.8 445.9 L2511.7 442.8 L2512.6 442.7 M2314.5 540.2 L2321.0 539.6 L2324.9 540.8 L2331.1 538.9 L2335.4 543.0 L2338.0 545.9 L2342.1 551.2 L2346.5 546.8 L2344.3 556.4 L2349.4 559.1 L2356.2 557.9 L2361.9 555.5 L2368.3 555.6 L2372.8 561.7 L2377.1 566.5 L2382.4 566.4 L2388.0 566.4 L2396.5 564.9 L2401.1 562.1 L2407.7 568.7 L2412.5 565.8 L2416.0 562.6 L2418.6 555.6 L2424.7 556.5 L2429.2 553.2 L2435.4 550.3 L2440.5 552.1 L2446.6 556.4 L2451.4 562.1 L2456.3 557.0 L2458.7 555.3 L2464.6 551.2 L2469.4 553.7 L2475.5 553.4 L2476.3 558.8 L2475.6 562.8 L2477.7 568.7 L2480.3 573.2 L2486.4 577.4 L2489.4 585.3 M2511.5 236.2 L2516.5 235.0 L2524.1 235.5 L2531.2 234.0 L2537.4 236.6 L2542.5 241.2 L2544.4 247.2 L2550.4 248.8 L2554.5 252.8 L2561.9 254.6 L2565.9 250.7 L2571.7 247.0 L2576.8 245.3 L2582.1 243.9 L2586.6 243.4 L2592.5 239.7 L2597.0 237.9 L2601.0 232.5 L2606.9 226.7 L2612.2 225.3 L2614.3 220.7 L2620.5 217.7 L2625.8 218.5 L2630.2 216.2 L2632.6 212.8 L2639.5 210.3 L2642.9 209.1 L2647.2 205.6 L2648.2 200.6 L2648.7 195.4 L2648.5 190.3 L2653.4 189.7 L2658.0 186.9 L2662.5 184.6 L2667.4 183.7 L2673.4 181.5 L2680.0 183.8 L2683.8 186.4 L2686.5 191.2 L2688.5 186.7 L2694.0 182.9 L2696.7 177.7 L2700.1 175.2 L2701.8 168.4 L2706.2 165.4 M2612.2 225.3 L2616.9 229.6 L2619.8 234.2 L2622.9 238.1 L2625.3 243.8 L2625.3 251.5 L2618.7 253.7 L2620.9 262.5 L2616.3 265.8 L2612.3 270.6 L2609.1 273.4 L2605.6 266.0 L2601.0 269.2 L2597.3 271.7 L2593.6 275.7 L2590.3 280.0 L2587.8 284.4 L2585.9 290.9 L2593.1 290.0 L2600.4 291.7 L2605.6 294.0 L2613.0 299.0 L2618.7 299.7 L2620.3 304.4 L2620.5 311.7 L2619.4 316.9 L2617.8 323.7 L2614.1 326.9 L2607.4 330.3 L2603.4 332.5 L2606.8 338.5 L2607.1 344.4 L2605.6 350.0 L2604.2 355.1 L2603.0 362.6 L2599.0 367.5 L2601.4 373.9 L2599.7 377.2 L2595.0 383.9 L2593.6 389.4 L2594.7 393.7 L2593.9 400.2 L2594.1 406.6 L2596.9 411.2 M2725.9 245.0 L2729.2 240.6 L2734.0 238.6 L2736.8 234.0 L2741.2 240.6 L2750.0 237.1 L2757.8 237.0 L2763.1 240.6 L2765.5 247.3 L2767.5 251.5 L2764.4 260.2 L2760.9 264.7 L2760.1 271.5 L2757.8 275.6 L2761.0 280.0 L2765.4 283.4 L2772.1 285.5 L2777.1 287.8 L2775.1 293.2 L2771.8 297.5 L2767.3 299.5 L2763.1 304.0 L2759.4 309.3 L2758.7 317.1 M2512.6 442.7 L2511.7 442.8 M2511.7 442.8 L2518.1 447.1 L2524.2 447.7 L2530.1 448.1 L2535.1 447.1 L2540.0 448.4 L2545.2 444.5 L2551.1 443.9 L2559.1 444.2 L2564.0 444.0 L2563.1 436.6 L2566.2 430.9 L2572.0 429.3 L2577.9 429.6 L2582.7 428.3 L2586.7 427.3 L2592.5 426.5 L2593.9 422.2 L2595.2 417.1 L2596.9 411.2 M2511.7 442.8 L2512.6 442.7 L2514.3 447.4 L2515.9 454.9 L2514.6 461.0 L2518.1 468.1 L2523.6 469.9 L2529.4 468.5 L2536.9 468.8 L2542.2 470.3 L2544.5 477.2 L2544.5 481.1 L2544.4 487.8 L2540.6 493.9 L2538.9 497.2 L2533.4 500.9 L2536.6 507.6 L2537.5 513.1 L2537.1 517.6 L2535.7 524.9 M2596.9 411.2 L2599.6 415.7 L2604.5 417.0 L2611.0 419.6 L2614.3 424.3 L2620.9 422.1 L2623.3 427.4 L2624.7 431.2 L2625.3 437.4 L2631.3 434.9 L2635.7 430.4 L2638.4 424.3 L2642.6 426.6 L2648.6 429.8 L2653.9 432.2 L2657.7 433.6 L2662.5 437.4 L2665.2 442.9 L2667.6 445.4 L2671.2 450.6 L2670.0 454.5 L2667.6 461.0 L2667.3 464.5 L2664.7 470.3 L2666.2 474.7 L2667.2 481.5 L2668.4 485.3 L2671.2 489.9 L2670.7 496.3 L2669.6 501.4 L2667.7 507.4 M2828.7 377.1 L2828.1 382.0 L2831.8 387.8 L2834.7 393.8 L2834.6 400.1 L2837.4 404.6 L2831.9 408.4 L2830.9 413.4 L2830.8 420.1 L2833.4 425.7 L2839.6 430.9 L2834.9 436.9 L2830.9 441.8 L2823.2 442.2 L2820.2 443.3 L2813.2 448.3 L2809.0 450.6 L2805.0 453.1 L2798.5 456.3 L2793.4 457.6 L2787.0 458.2 L2780.6 459.3 L2779.1 463.1 L2776.5 468.6 L2771.8 472.4 L2766.1 474.3 L2761.1 476.4 L2756.5 476.8 L2751.1 476.3 L2745.4 473.4 L2741.2 471.6 L2735.6 478.0 L2730.3 479.0 L2723.9 482.6 L2717.7 483.0 L2710.6 481.2 L2705.3 484.5 L2703.3 486.9 L2699.6 493.4 L2697.3 498.2 L2695.3 500.9 L2691.9 504.3 L2688.7 509.6 L2683.3 510.1 L2679.0 509.4 L2672.6 507.4 L2667.7 507.4 M2667.7 507.4 L2664.5 511.6 L2662.5 518.4 L2656.5 517.4 L2648.8 517.8 L2645.2 519.9 L2638.4 520.6 L2632.1 524.5 L2627.7 529.7 L2623.1 531.5 L2625.3 536.8 L2630.4 540.5 L2635.3 544.6 L2636.1 548.7 L2636.3 554.0 L2635.0 559.9 M3028.2 538.9 L3030.9 534.1 L3036.9 529.9 L3043.0 529.3 L3048.8 530.6 L3053.2 528.3 L3058.6 527.7 L3064.8 529.2 L3069.3 531.5 L3075.3 528.6 L3082.4 524.9 L3088.4 527.3 L3095.5 527.1 L3097.7 535.9 L3100.5 531.2 L3103.0 527.2 L3108.1 521.9 L3113.0 519.1 L3117.4 516.2 L3122.8 512.8 L3127.0 510.7 L3130.4 509.1 L3134.9 505.2 L3140.9 503.2 L3146.2 504.5 L3150.5 506.3 L3156.8 503.9 L3161.7 506.7 L3164.7 514.0 L3161.1 519.3 L3157.7 521.2 L3152.4 522.7 L3147.9 525.3 L3141.4 530.3 L3134.9 531.5 L3132.1 537.2 L3131.0 540.2 L3126.2 544.6 L3130.5 548.0 L3134.9 552.1 L3139.4 552.8 L3146.3 550.1 L3151.0 550.4 L3156.5 550.9 L3163.5 547.7 L3169.6 546.4 L3174.3 549.0 L3178.0 555.0 L3178.7 559.9 L3182.7 558.0 L3190.0 560.1 L3195.4 560.1 L3199.2 556.9 L3204.9 555.6 L3205.6 560.8 L3206.8 567.9 L3207.1 573.1 L3204.7 577.5 L3202.7 584.0 L3205.7 589.4 L3209.6 595.9 L3211.5 601.5 L3217.0 602.8 L3223.7 604.7 L3228.1 605.0 L3234.8 607.5 L3239.9 610.2 L3238.0 616.5 L3237.7 621.2 L3243.1 626.5 L3243.4 632.1 L3237.6 634.7 L3234.3 637.2 L3227.8 639.8 L3225.0 639.9 L3218.0 638.7 L3214.9 641.3 L3211.0 645.7 L3205.9 649.7 L3200.1 651.9 L3196.2 651.6 L3191.8 656.2 L3192.4 662.0 L3196.8 667.0 L3200.5 669.3 L3202.1 673.6 L3204.5 679.4 L3207.9 682.8 L3213.6 684.6 L3209.1 689.5 L3204.9 695.5 L3199.3 698.8 L3194.1 701.6 L3187.4 702.1 L3182.9 704.1 L3178.8 710.0 M1286.5 856.5 L1290.7 858.6 L1295.1 863.0 L1299.4 867.3 L1304.0 871.8 L1301.3 875.5 L1296.7 879.1 L1294.5 884.5 L1294.6 890.1 L1290.9 893.7 L1292.9 900.1 L1291.1 905.2 L1287.4 909.2 L1286.5 913.4 L1290.8 920.3 L1292.1 924.1 L1292.2 929.8 L1290.9 937.4 L1286.9 940.4 L1279.9 944.0 L1277.1 950.1 L1278.4 955.7 L1279.2 960.3 L1275.7 966.7 L1272.9 971.4 L1273.4 976.8 M1273.4 976.8 L1267.6 976.9 L1259.3 975.7 L1253.7 974.6 L1249.1 975.4 L1243.5 978.3 L1240.6 983.4 L1238.0 989.1 L1236.6 993.6 L1236.2 998.7 L1229.4 1000.4 L1223.5 1001.9 L1218.7 1005.2 L1214.2 1010.0 L1211.3 1014.5 L1208.1 1018.4 L1205.6 1022.7 L1201.7 1029.3 L1196.7 1033.1 L1193.2 1034.2 L1186.8 1037.3 L1181.5 1040.2 M1181.5 1040.2 L1172.7 1035.9 L1165.6 1036.0 L1160.1 1036.7 L1153.9 1038.4 L1148.7 1040.2 L1142.8 1038.3 L1139.8 1036.3 L1133.4 1035.9 L1132.6 1029.9 L1131.2 1024.9 L1127.9 1019.9 L1120.3 1016.2 L1121.0 1011.8 L1120.3 1005.2 L1113.0 1001.3 L1107.1 998.7 L1104.8 994.6 L1099.7 991.0 L1096.3 987.4 L1094.0 983.4 L1089.4 981.6 L1083.1 977.8 L1077.9 973.8 L1074.7 972.4 L1067.8 970.3 L1061.9 971.1 L1055.3 967.9 L1050.6 963.7 L1045.9 963.7 L1037.1 963.7 L1032.8 972.4 M1273.4 976.8 L1280.4 978.6 L1283.7 980.2 L1288.4 985.2 L1293.0 987.8 L1297.1 984.7 L1302.8 985.5 L1310.8 985.8 L1314.9 983.4 L1320.9 979.5 L1324.5 979.2 L1330.2 974.6 L1330.2 969.7 L1330.7 964.2 L1332.4 959.3 L1337.0 958.2 L1342.6 958.9 L1347.7 958.5 L1352.8 958.0 L1358.7 957.1 L1366.8 954.3 L1371.8 952.8 L1377.1 954.9 L1383.1 954.1 L1388.5 954.9 L1393.7 957.1 L1398.0 950.0 L1400.2 944.0 L1399.3 936.3 L1402.4 930.9 L1409.9 926.7 L1415.5 924.3 L1420.8 928.1 L1426.6 930.3 L1433.0 930.9 L1430.9 935.4 L1430.9 941.6 L1431.7 946.4 L1433.5 952.9 L1437.4 957.1 L1434.4 964.3 L1433.0 970.3 L1438.4 971.2 L1445.6 976.1 L1450.5 976.8 L1455.6 978.4 L1462.8 978.7 L1468.8 979.5 L1473.8 981.6 L1479.0 981.2 L1483.6 986.4 L1486.8 992.3 L1487.9 997.8 L1489.9 1003.1 L1488.0 1007.0 L1483.7 1011.8 L1479.5 1016.6 L1476.8 1020.6 L1468.4 1022.7 L1463.6 1027.1 M1549.9 1018.4 L1543.7 1016.4 L1538.8 1015.2 L1535.7 1015.4 L1529.3 1014.0 L1528.4 1019.2 L1522.9 1024.4 L1518.3 1027.1 L1511.9 1029.2 L1507.5 1029.2 L1500.8 1027.2 L1496.7 1025.5 L1489.9 1022.7 L1486.0 1025.0 L1479.9 1026.5 L1474.6 1026.6 L1468.4 1027.6 L1463.6 1027.1 M1463.6 1027.1 L1458.1 1032.2 L1455.0 1032.7 L1446.5 1033.1 L1440.8 1034.9 L1437.4 1038.1 L1435.2 1042.5 L1430.3 1047.1 L1426.5 1049.0 L1425.2 1054.7 L1425.6 1058.0 L1424.3 1064.3 M1424.3 1064.3 L1420.8 1066.6 L1415.3 1070.3 L1412.2 1072.6 L1408.0 1077.2 L1405.3 1080.8 L1400.4 1083.7 L1397.3 1085.6 L1393.7 1090.6 L1390.1 1093.2 L1384.8 1094.2 L1378.9 1096.6 L1374.3 1100.8 L1371.3 1104.5 L1367.4 1108.0 L1360.3 1107.1 L1354.3 1101.5 L1350.2 1103.8 L1342.2 1104.6 L1336.1 1105.3 L1331.4 1106.1 L1325.9 1105.9 M1325.9 1105.9 L1326.1 1101.7 L1326.3 1096.3 L1330.2 1090.6 L1329.7 1084.1 L1329.7 1080.8 L1326.8 1073.8 L1326.2 1070.4 L1325.9 1064.3 L1321.2 1063.3 L1317.0 1060.9 L1312.5 1057.2 L1308.4 1053.4 L1301.2 1053.9 L1297.4 1057.7 L1292.9 1058.6 L1285.9 1057.8 L1282.4 1056.8 L1275.7 1054.6 L1271.2 1055.6 L1262.4 1051.2 L1262.0 1045.1 L1263.2 1040.7 L1265.4 1035.9 L1266.8 1031.5 L1265.8 1025.3 L1267.5 1022.5 L1268.1 1017.5 L1267.4 1012.6 L1269.3 1007.4 L1271.1 1002.2 L1269.0 996.5 L1263.9 994.5 L1258.9 994.3 L1265.2 993.3 L1269.0 992.6 L1273.1 987.1 L1274.1 981.6 L1273.4 976.8 M1424.3 1064.3 L1430.9 1064.8 L1435.0 1065.5 L1440.6 1066.6 L1446.2 1066.5 L1448.1 1074.3 L1448.3 1079.6 L1442.4 1083.5 L1439.6 1088.4 L1446.4 1093.0 L1452.7 1092.7 L1458.5 1090.6 L1463.6 1084.0 L1468.5 1085.4 L1474.5 1086.7 L1478.9 1086.1 L1485.7 1086.6 L1489.9 1088.4 L1491.6 1092.9 L1492.5 1099.1 L1494.3 1105.9 L1498.0 1111.0 L1503.0 1116.8 L1507.3 1119.0 L1514.7 1118.8 L1520.5 1121.2 L1522.7 1129.9 L1514.0 1129.9 L1507.4 1123.4 L1504.9 1129.4 L1501.1 1132.0 L1498.6 1138.7 L1494.1 1139.5 L1489.3 1142.4 L1485.0 1143.5 L1478.5 1144.9 L1474.6 1147.4 L1472.9 1152.9 L1472.4 1160.5 L1474.8 1167.5 L1479.0 1173.7 L1479.3 1179.0 L1477.4 1182.9 L1474.6 1189.0 M1325.9 1105.9 L1322.4 1101.5 L1315.2 1099.2 L1310.0 1098.3 L1306.2 1094.9 L1304.0 1086.2 L1297.4 1088.4 L1299.5 1094.0 L1299.5 1100.2 L1296.8 1104.5 L1295.0 1108.5 L1295.1 1114.9 L1294.1 1119.5 L1293.1 1124.1 L1293.0 1129.9 L1287.3 1131.7 L1285.2 1136.3 L1280.6 1141.0 L1273.2 1143.7 L1269.0 1145.2 L1266.5 1140.1 L1264.2 1136.2 L1259.0 1132.4 L1253.7 1129.9 L1247.9 1129.8 L1240.6 1125.3 L1236.2 1121.2 L1230.8 1121.9 L1223.1 1119.0 L1220.6 1114.3 L1217.1 1110.3 L1212.1 1108.0 L1204.7 1111.4 L1201.2 1116.8 L1203.3 1120.9 L1203.4 1127.7 L1196.8 1134.3 L1202.8 1137.4 L1209.9 1138.7 L1205.7 1143.3 L1205.6 1149.6 L1201.6 1151.7 L1199.0 1156.6 L1194.9 1160.2 L1188.1 1160.5 L1184.2 1162.5 L1177.5 1166.5 L1172.7 1167.1 L1168.4 1171.5 M1168.4 1171.5 L1174.6 1169.2 L1180.7 1168.8 L1185.4 1170.0 L1192.4 1167.1 L1194.6 1171.1 L1197.6 1176.7 L1199.3 1181.7 L1199.4 1185.8 L1201.2 1191.2 L1202.0 1197.1 L1205.5 1201.9 L1211.4 1206.1 L1214.3 1210.0 M1181.5 1040.2 L1184.6 1046.2 L1187.8 1049.7 L1190.2 1053.7 L1191.1 1059.5 L1194.6 1064.3 L1190.7 1069.5 L1186.1 1073.1 L1181.5 1077.4 L1176.9 1078.8 L1171.4 1080.3 L1166.9 1082.9 L1161.2 1085.7 L1157.4 1088.4 L1153.1 1086.2 M1153.1 1086.2 L1152.4 1092.1 L1152.8 1097.7 L1151.3 1101.7 L1148.7 1108.0 L1142.1 1110.2 L1143.1 1114.3 L1146.4 1119.5 L1149.0 1123.7 L1148.7 1129.9 L1150.2 1136.5 L1149.0 1141.1 L1144.3 1145.2 L1148.7 1154.0 L1144.9 1161.1 L1142.1 1167.1 L1147.2 1167.0 L1153.1 1171.5 L1157.0 1170.1 L1163.3 1170.5 L1168.4 1171.5 M1153.1 1086.2 L1151.7 1081.6 L1148.0 1077.0 L1142.9 1072.4 L1139.9 1068.7 L1135.1 1065.1 L1129.0 1064.3 L1124.6 1057.7 L1118.1 1062.1 L1115.9 1070.9 L1111.3 1069.6 L1104.9 1073.1 L1104.1 1077.9 L1104.6 1083.9 L1105.0 1090.8 L1107.1 1097.1 L1102.7 1099.6 L1096.2 1103.7 L1090.7 1105.6 L1083.1 1110.2 L1078.7 1110.7 L1071.2 1110.6 L1067.8 1112.3 L1062.5 1113.8 L1057.9 1114.7 L1051.0 1115.2 L1045.9 1112.4 L1051.3 1115.1 L1056.2 1119.1 L1059.8 1123.3 L1065.6 1127.7 L1069.5 1132.5 L1069.9 1138.7 L1067.9 1142.6 L1063.5 1147.4 L1060.8 1151.1 L1059.0 1156.2 L1051.7 1152.8 L1045.9 1154.0 M1045.9 1154.0 L1043.7 1162.7 L1049.3 1165.0 L1054.1 1166.6 L1057.6 1168.8 L1061.2 1173.7 L1059.0 1182.4 L1054.9 1182.4 L1048.4 1182.4 L1043.7 1180.2 L1047.0 1182.8 L1051.5 1185.9 L1056.8 1188.5 L1062.5 1192.3 L1065.6 1195.5 L1071.0 1196.4 L1075.7 1199.3 L1080.9 1204.3 L1084.2 1207.1 M1045.9 1154.0 L1040.3 1150.2 L1038.1 1144.0 L1038.4 1139.7 L1035.0 1134.3 L1026.2 1129.9 L1019.6 1134.3 L1019.7 1139.5 L1018.3 1145.9 L1015.8 1152.1 L1013.1 1156.2 L1007.9 1155.6 L1002.1 1156.2 L1000.1 1161.1 L995.6 1164.9 L990.4 1160.6 L990.3 1156.3 L986.9 1150.4 L982.5 1147.4 L978.5 1144.6 L975.0 1140.2 L970.1 1135.5 L965.0 1134.3 L960.6 1143.0 L960.0 1135.7 L962.8 1129.9 L956.7 1126.3 L955.5 1122.7 L955.0 1115.9 L951.8 1112.4 L946.1 1105.7 L940.9 1103.7 L938.7 1094.9 L932.2 1092.7 L935.8 1088.5 L940.9 1081.8 L938.7 1075.2 L932.9 1077.4 L928.8 1076.8 L922.2 1075.4 L916.8 1076.6 M916.8 1076.6 L913.9 1071.8 L914.7 1064.3 L914.0 1059.0 L916.5 1055.3 L916.8 1049.0 L919.6 1044.1 L925.6 1040.2 L927.8 1031.5 M916.8 1076.6 L910.4 1081.6 L903.7 1081.8 L899.3 1088.4 L898.9 1093.8 L901.3 1098.4 L905.9 1103.7 L903.3 1109.4 L902.8 1114.6 L901.7 1117.2 L901.5 1123.4 L893.8 1126.0 L888.4 1127.7 L887.5 1134.8 L890.6 1138.7 L890.2 1144.7 L886.4 1149.5 L882.6 1152.0 L879.7 1156.2 L873.1 1160.5 L871.8 1167.8 L870.9 1173.7 L864.3 1180.2 L861.3 1186.8 L857.7 1190.7 L855.6 1195.5 L851.7 1200.1 L847.5 1203.6 L842.5 1206.5 L838.1 1210.0 M897.2 1018.4 L892.8 1014.0 L886.5 1014.8 L881.7 1013.0 L875.7 1012.4 L872.0 1010.9 L866.0 1009.4 L860.0 1011.8 L857.6 1016.5 L853.4 1020.6 L847.9 1021.4 L843.9 1019.8 L837.0 1020.8 L833.7 1024.9 L827.1 1029.1 L825.0 1033.7 L820.1 1031.7 L815.0 1032.2 L808.8 1032.1 L804.2 1032.5 L798.7 1031.5 L793.8 1030.4 L789.5 1032.0 L784.3 1035.4 L779.0 1035.9 L774.5 1030.8 L769.7 1026.4 L763.7 1024.9 L757.2 1029.3 L761.4 1035.8 L762.3 1041.3 L761.5 1046.8 L757.2 1053.4 L755.6 1057.9 L756.2 1062.7 L759.4 1068.7 L757.2 1077.4 L761.6 1074.0 L767.7 1071.7 L772.8 1072.4 L778.5 1074.0 L783.4 1073.1 M1955.0 632.1 L1954.8 638.8 L1956.4 643.6 L1957.0 649.2 L1956.1 653.5 L1957.2 658.7 L1959.0 664.0 L1950.3 668.4 L1949.2 673.9 L1949.8 678.9 L1948.4 683.0 L1943.7 688.1 L1943.2 692.5 L1939.6 699.1 L1937.1 703.4 L1929.9 701.9 L1926.2 696.9 L1921.8 690.3 L1917.9 688.4 L1910.1 688.4 L1906.4 687.9 L1900.3 687.7 L1895.6 688.1 L1891.2 694.7 L1892.3 700.1 L1895.9 705.1 L1900.0 710.0 L1897.0 716.1 L1891.2 718.7 L1885.9 723.0 L1880.6 724.1 L1876.1 725.1 L1871.5 727.5 L1871.2 734.4 L1869.3 738.4 L1865.0 742.8 L1865.9 747.6 L1868.9 752.0 L1872.0 758.6 L1875.9 762.5 L1879.8 768.4 L1881.8 772.5 L1884.9 777.3 L1886.8 784.3 L1884.1 789.5 L1883.3 793.7 L1882.9 801.2 L1884.6 806.2 L1886.9 812.9 L1888.7 816.4 L1891.2 823.7 L1891.6 831.9 L1889.0 836.8 M1981.2 643.0 L1981.6 648.7 L1983.1 657.5 L1978.0 659.0 L1972.9 664.8 L1969.9 668.4 L1973.2 674.8 L1972.1 679.4 L1976.4 682.0 L1980.3 684.4 L1983.8 688.8 L1987.4 692.5 L1989.9 696.1 L1996.1 699.0 L2001.5 701.5 L2004.9 705.6 L2011.3 705.9 L2016.1 704.2 L2020.3 703.4 L2027.5 704.3 L2033.4 707.8 L2037.4 712.3 L2037.8 718.7 L2043.1 715.9 L2047.5 712.9 L2053.6 706.6 L2057.4 703.4 L2063.7 701.0 L2065.9 699.2 L2070.6 694.7 L2075.8 698.1 L2077.1 702.0 L2081.5 705.6 L2078.5 711.0 L2078.2 716.5 L2081.5 720.9 L2073.7 723.0 L2068.4 725.3 L2073.3 728.4 L2079.3 734.0 L2081.1 739.7 L2081.5 745.2 L2084.1 749.1 L2086.9 752.0 L2088.1 758.1 L2095.1 760.0 L2099.0 764.7 L2103.4 767.2 L2110.2 768.7 L2114.3 769.0 L2117.8 774.3 L2123.1 780.0 L2129.0 779.8 L2134.9 780.3 L2140.6 782.2 L2145.0 782.0 L2152.2 782.5 L2156.8 784.2 L2160.2 788.7 M2184.5 711.4 L2182.8 717.9 L2183.1 721.5 L2179.0 727.5 L2178.1 733.2 L2180.5 737.8 L2182.3 743.0 L2179.9 749.3 M2487.2 631.2 L2482.0 630.8 L2476.7 628.3 L2473.7 626.4 L2468.6 623.4 L2463.0 627.9 L2457.7 629.0 L2449.0 631.2 L2454.2 633.7 L2458.3 635.8 L2462.1 640.0 L2457.4 641.7 L2450.0 642.5 L2445.6 644.2 L2442.4 648.7 L2438.9 651.5 L2435.8 657.5 L2434.8 662.0 L2435.2 667.7 L2435.8 674.3 L2437.6 679.1 L2438.0 683.7 L2433.6 687.5 L2428.8 691.8 L2424.9 696.9 L2424.1 703.2 L2424.6 707.6 L2423.5 713.0 L2423.4 717.4 L2423.3 721.8 L2420.5 727.5 L2416.0 731.6 L2414.0 738.4 L2412.8 745.7 L2412.6 750.9 L2414.4 757.5 L2418.3 762.5 L2416.7 768.3 L2413.5 771.7 L2410.3 775.9 L2407.4 780.0 L2406.3 787.7 L2403.9 792.2 L2398.6 797.5 L2393.5 802.9 L2389.9 809.3 M2243.7 667.1 L2247.9 673.3 L2248.3 677.2 L2252.5 683.2 L2256.5 688.1 L2257.7 692.9 L2263.0 698.3 L2267.5 704.7 L2267.4 710.0 L2273.7 708.9 L2276.8 709.9 L2281.4 713.0 L2287.1 714.3 L2291.5 712.7 L2295.8 707.4 L2298.0 703.4 L2302.5 707.3 L2304.3 712.3 L2306.8 716.5 L2312.4 719.5 L2316.9 720.3 L2322.1 718.8 L2328.5 717.7 L2334.1 719.4 L2337.4 723.1 L2338.2 727.4 L2342.5 733.1 L2346.2 736.2 L2353.1 734.9 L2359.3 736.2 L2358.9 743.5 L2356.5 748.7 L2357.1 753.7 L2353.3 759.1 L2350.5 762.5 L2353.3 766.0 L2360.8 767.8 L2364.0 768.9 L2368.0 773.4 L2371.4 779.3 L2374.8 782.4 L2377.6 787.3 L2381.1 793.1 L2383.9 797.8 L2386.1 804.1 L2389.9 809.3 M2389.9 809.3 L2385.8 806.5 L2380.5 808.0 L2374.4 807.4 L2369.6 803.6 L2364.5 801.8 L2362.9 807.2 L2361.5 815.0 L2363.3 820.6 L2362.6 826.4 L2360.3 831.6 L2357.1 836.8 L2360.0 842.6 L2363.6 847.8 L2357.0 851.0 L2350.3 851.6 L2346.2 854.3 L2343.4 861.2 L2339.7 865.1 L2333.0 867.5 L2324.3 865.3 L2321.4 860.2 L2315.5 854.3 L2311.1 853.0 L2305.6 848.9 L2302.4 845.6 L2297.6 840.8 L2289.3 839.0 L2285.4 842.9 L2280.5 850.0 L2276.9 853.7 L2272.7 858.1 L2271.4 862.2 L2267.4 867.5 L2262.1 874.2 L2256.5 876.2 L2253.1 881.9 L2254.3 887.1 M2361.5 815.0 L2368.7 815.4 L2374.1 813.5 L2379.5 813.0 L2384.1 812.0 L2389.9 809.3 L2396.5 815.0 L2399.8 821.6 L2403.0 828.1 L2406.7 822.3 L2409.6 815.0 L2414.2 810.3 L2420.5 808.4 L2425.7 806.8 L2432.1 807.0 L2438.3 807.7 L2442.4 806.2 L2450.0 807.3 L2455.6 806.4 L2460.4 804.2 L2466.2 801.2 L2471.7 801.8 L2476.0 804.3 L2482.6 808.4 L2489.9 808.1 L2495.2 806.3 L2500.1 806.3 L2505.8 804.9 L2511.1 801.8 L2515.9 796.8 L2520.7 793.6 L2525.7 792.6 L2531.1 791.6 L2535.5 789.3 L2539.7 784.3 M1969.9 850.0 L1965.6 856.0 L1965.6 863.1 L1969.8 865.4 L1972.8 870.0 L1977.0 874.9 L1980.9 876.2 L1978.1 883.2 L1977.0 886.8 L1976.5 893.7 L1969.2 897.7 L1963.4 900.3 L1960.3 904.5 L1959.8 910.5 L1961.2 915.6 L1958.8 920.9 L1954.7 923.5 L1950.0 924.3 L1945.9 928.7 L1941.3 924.6 L1935.0 922.1 L1930.7 920.0 L1927.3 915.6 L1924.0 911.2 L1919.1 913.2 L1910.9 913.4 L1907.7 918.5 L1906.4 923.2 L1904.8 928.5 L1903.4 933.0 L1900.0 937.4 L1898.3 942.2 L1894.3 946.3 L1890.8 951.1 L1886.8 957.1 L1884.3 960.5 L1879.5 964.0 L1876.7 968.3 L1871.5 972.4 L1869.1 976.5 L1862.8 981.5 L1859.2 983.9 L1856.2 989.9 L1853.9 995.7 L1849.8 1000.1 L1846.5 1004.9 L1840.9 1009.6 L1839.8 1013.8 L1839.3 1020.7 L1838.2 1025.7 L1834.3 1029.3 L1829.4 1029.9 L1823.6 1029.9 L1816.5 1028.8 L1812.5 1027.1 L1807.5 1027.5 L1800.6 1029.1 L1795.8 1027.8 L1791.7 1024.5 L1786.2 1024.9 L1781.1 1027.6 L1776.3 1030.1 L1770.8 1029.7 L1764.6 1028.1 L1760.0 1029.3 L1753.9 1030.7 L1749.3 1029.6 L1742.5 1031.5 M1679.0 954.9 L1673.2 955.2 L1669.8 956.3 L1662.9 958.3 L1659.3 959.7 L1655.0 963.7 L1653.8 970.3 L1648.4 976.8 L1644.0 978.2 L1637.6 981.9 L1632.2 984.0 L1626.6 983.4 L1622.3 980.8 L1616.6 980.4 L1612.1 979.9 L1606.9 979.0 L1601.5 983.2 L1598.1 985.6 L1597.6 993.4 L1600.3 998.7 L1596.9 1006.2 L1591.6 1009.6 L1586.9 1013.6 L1582.8 1020.6 L1575.6 1020.2 L1569.7 1022.7 L1564.7 1022.0 L1558.7 1021.8 L1553.8 1020.5 L1549.9 1018.4 M1913.1 1064.3 L1918.5 1062.0 L1921.8 1055.6 L1921.7 1050.8 L1925.5 1046.9 L1930.1 1041.3 L1931.1 1036.8 L1930.6 1031.5 L1936.7 1032.1 L1942.2 1029.5 L1948.0 1027.7 L1953.7 1028.3 L1957.4 1028.8 L1963.4 1027.1 L1966.7 1023.6 L1972.1 1018.6 L1974.5 1016.6 L1980.9 1014.0 L1982.7 1006.4 L1983.1 1000.9 L1987.5 999.6 L1993.1 995.7 L1998.0 994.4 L2001.6 993.9 L2006.0 991.7 L2013.0 988.9 L2015.9 985.6 L2022.4 985.4 L2028.1 983.6 L2034.7 980.9 L2039.9 981.2 L2044.0 976.0 L2047.7 972.8 L2053.1 972.4 L2057.9 965.0 L2057.4 959.3 L2064.5 962.5 L2070.6 961.5 L2070.9 965.8 L2071.3 971.0 L2072.7 976.8 L2078.4 977.8 L2083.7 980.3 L2086.5 982.2 L2092.4 983.4 L2089.1 988.1 L2087.9 994.9 L2085.9 998.7 L2080.2 997.3 L2075.3 997.8 L2070.8 997.6 L2064.0 996.5 L2058.8 1001.5 L2057.4 1007.4 L2057.9 1012.9 L2057.6 1019.9 L2057.8 1024.8 L2059.6 1031.5 L2063.8 1036.6 L2067.6 1041.6 L2070.7 1043.2 L2077.1 1046.8 L2078.8 1039.6 L2083.7 1035.9 L2090.8 1036.3 L2094.6 1033.7 L2094.1 1028.7 L2092.3 1022.6 L2092.4 1016.2 L2094.7 1011.8 L2098.0 1008.7 L2100.6 1003.8 L2102.1 998.7 L2108.1 1002.1 L2113.4 1007.0 L2118.7 1009.6 L2122.7 1007.3 L2127.5 1007.1 L2133.0 1006.3 L2138.4 1005.2 L2143.4 1000.8 L2149.0 998.7 L2153.2 995.6 L2158.0 990.8 L2162.7 995.8 L2166.8 998.7 L2168.2 1003.1 L2168.6 1008.9 L2170.8 1013.7 L2173.6 1018.1 L2175.9 1024.0 L2178.6 1028.5 L2182.1 1031.5 L2177.4 1036.3 L2174.4 1040.4 L2171.2 1044.6 L2172.0 1050.8 L2170.1 1055.9 L2170.4 1060.7 L2173.4 1066.5 L2170.5 1072.6 L2167.1 1074.7 L2160.2 1075.2 L2162.4 1084.0 L2169.6 1086.9 L2175.5 1088.4 L2180.7 1087.6 L2185.4 1083.8 L2188.4 1080.5 L2195.2 1079.6 L2201.8 1084.0 L2206.6 1081.3 L2208.9 1076.7 L2212.1 1072.9 L2217.8 1070.2 L2221.5 1066.5 L2230.2 1068.7 L2231.0 1074.5 L2232.2 1081.4 L2235.5 1087.3 L2236.8 1092.7 L2234.5 1099.8 L2233.3 1105.9 M2233.3 1105.9 L2228.0 1112.4 L2222.8 1114.6 L2219.0 1117.8 L2212.7 1119.0 L2214.9 1127.7 L2222.7 1129.6 L2228.0 1129.9 L2226.0 1134.9 L2225.4 1138.9 L2223.3 1143.5 L2221.5 1149.6 L2220.5 1155.3 L2217.1 1162.7 L2221.4 1167.2 L2224.4 1168.9 L2230.3 1169.5 L2237.2 1172.0 L2240.9 1173.9 L2244.7 1175.9 L2249.9 1180.2 L2254.3 1189.0 M1913.1 1064.3 L1917.0 1067.2 L1920.3 1070.0 L1924.9 1073.9 L1928.2 1078.1 L1931.2 1082.4 L1935.0 1086.2 L1939.7 1091.4 L1945.9 1094.9 L1945.8 1101.3 L1945.8 1105.9 L1943.8 1109.9 L1941.5 1114.6 L1939.4 1118.9 L1934.7 1124.3 L1932.3 1126.9 L1926.2 1129.9 L1928.3 1136.7 L1932.7 1141.8 L1935.0 1147.4 L1930.3 1150.6 L1928.4 1156.2 L1932.8 1162.5 L1936.5 1167.0 L1941.5 1169.3 L1944.0 1174.7 L1948.9 1177.7 L1956.1 1179.3 L1961.2 1180.2 L1964.6 1185.2 L1964.4 1189.0 L1963.4 1195.5 L1967.4 1198.7 L1969.9 1204.3 L1972.1 1210.0 M2317.7 959.3 L2316.8 966.0 L2318.1 970.3 L2316.7 977.5 L2313.3 981.2 L2314.5 986.2 L2311.2 992.1 L2305.6 993.8 L2299.4 993.3 L2294.4 994.4 L2289.3 994.3 L2287.0 1000.4 L2284.9 1004.0 L2284.9 1009.6 L2290.7 1011.6 L2294.4 1014.9 L2297.8 1020.3 L2302.4 1022.7 L2302.2 1028.9 L2304.9 1034.1 L2308.1 1037.6 L2309.0 1044.6 L2306.3 1051.0 L2305.7 1056.9 L2302.4 1062.1 L2308.1 1064.2 L2311.0 1067.3 L2313.3 1073.1 L2314.8 1078.8 L2312.6 1085.5 L2311.2 1090.6 L2306.0 1094.3 L2299.9 1096.2 L2293.7 1094.9 L2288.1 1095.2 L2282.2 1091.5 L2278.9 1088.6 L2271.8 1088.4 L2264.8 1090.8 L2260.9 1092.6 L2254.3 1097.1 L2250.0 1098.6 L2242.4 1100.7 L2238.1 1101.6 L2233.3 1105.9 M3178.8 710.0 L3174.2 710.2 L3169.6 705.6 L3168.3 699.4 L3166.6 694.2 L3165.9 690.2 L3163.2 684.4 L3159.7 680.7 L3158.7 675.0 L3155.2 669.5 L3147.7 666.2 L3141.9 668.4 L3134.1 666.5 L3130.2 662.7 L3131.0 666.9 L3130.1 673.5 L3127.6 679.0 L3124.2 681.2 L3122.6 686.3 L3123.7 692.5 L3119.0 694.3 L3116.9 698.1 L3112.7 702.8 L3108.4 705.6 L3106.1 709.6 L3103.1 715.6 L3099.8 719.7 L3095.3 724.4 L3092.2 727.5 L3088.0 724.5 L3086.1 718.8 L3084.2 715.0 L3077.7 712.2 L3070.7 715.3 L3064.6 714.3 L3061.4 718.9 L3060.5 723.8 L3056.8 728.8 L3051.5 729.7 L3055.4 733.9 L3057.2 740.3 L3058.0 745.0 L3056.4 749.7 L3059.2 755.9 L3062.1 759.1 L3064.2 764.4 L3066.9 768.6 L3069.0 773.4 L3061.9 775.3 L3055.9 776.9 L3051.5 780.0 L3046.7 783.7 L3042.9 786.0 L3035.8 790.2 L3032.7 791.4 L3027.0 796.0 L3023.1 799.7 L3027.9 805.5 L3028.8 809.6 L3031.8 817.1 L3035.3 820.7 L3035.7 827.4 L3034.0 832.5 L3040.7 835.0 L3046.2 836.9 L3049.0 839.3 L3055.9 841.2 L3053.7 850.0 L3058.9 851.1 L3064.1 850.0 L3072.0 851.3 L3075.5 855.2 L3077.4 861.4 L3079.9 865.3 L3084.2 868.6 L3092.3 869.9 L3097.4 867.5 L3104.5 864.5 L3108.4 860.9 L3105.9 866.8 L3104.8 872.0 L3106.2 876.2 L3102.9 880.5 L3097.4 885.0 L3099.5 890.4 L3101.1 895.6 L3099.6 900.3 L3107.2 903.4 L3110.5 909.0 L3116.0 914.0 L3116.8 918.1 L3121.5 924.3 L3117.9 929.8 L3114.9 932.4 L3110.5 935.6 L3106.0 939.2 L3101.6 940.8 L3097.4 946.2 L3093.9 951.1 L3090.5 956.6 L3086.5 961.5 L3080.3 964.1 L3077.8 968.3 L3074.9 975.0 L3071.1 979.0 L3066.8 981.2 L3061.7 979.9 L3057.1 976.1 L3053.3 972.2 L3050.3 968.6 L3047.4 962.9 L3044.5 958.6 L3039.6 956.1 L3035.0 955.0 L3031.8 950.6 L3029.6 941.8 L3025.3 944.9 L3021.6 948.6 L3016.9 951.7 L3012.5 952.2 L3007.7 954.9 L3003.9 952.5 L2997.8 951.5 L2992.4 950.6 L2987.3 950.2 L2982.5 947.3 L2976.7 945.5 L2972.2 943.0 L2968.0 940.1 L2965.3 938.1 L2960.4 936.9 L2953.5 937.0 L2950.1 936.2 L2944.3 933.9 L2939.4 935.2 L2935.5 938.9 L2930.8 944.8 L2926.8 946.2 L2921.8 945.1 L2918.4 941.8 L2914.2 936.9 L2910.2 934.7 L2905.4 933.3 L2900.6 930.9 L2895.6 933.4 L2891.1 935.3 L2884.9 941.2 L2880.9 944.0 L2882.3 938.7 L2883.1 930.9 L2881.4 926.2 L2880.9 919.9 L2872.1 919.1 L2868.9 923.7 L2867.0 930.0 L2863.4 935.3 M3060.2 996.5 L3061.7 991.5 L3065.8 987.9 L3072.4 984.6 L3076.3 982.9 L3079.9 979.0 L3084.3 976.3 L3088.2 971.6 L3093.8 968.3 L3099.6 965.9 L3101.2 973.8 L3102.4 980.2 L3102.7 985.6 L3098.2 990.6 L3097.5 996.3 L3097.0 1002.0 L3093.0 1005.2 L3087.2 1004.5 L3079.9 1005.2 L3077.2 1000.8 L3072.4 998.7 L3066.5 998.5 L3060.2 996.5 M2535.7 524.9 L2541.3 527.8 L2546.2 532.2 L2552.8 535.0 L2557.3 538.4 L2563.7 541.2 L2568.1 543.7 L2572.9 542.9 L2579.0 543.7 L2583.3 549.5 L2588.8 550.6 L2594.2 550.4 L2598.7 554.7 L2600.9 561.2 L2598.4 564.8 L2592.7 569.1 L2590.0 572.2 L2585.6 580.9 L2586.2 588.2 L2590.0 594.1 L2596.5 591.9 L2598.3 585.8 L2598.9 580.0 L2603.1 574.4 L2605.3 570.2 L2609.8 567.7 L2616.2 565.6 L2620.2 561.4 L2626.9 559.5 L2633.7 561.2 L2635.0 559.9 M2635.0 559.9 L2640.4 557.8 L2645.9 558.7 L2649.2 561.1 L2656.0 560.0 L2661.8 557.1 L2666.5 556.5 L2670.9 559.1 L2675.0 561.4 L2681.0 563.1 L2686.2 565.6 L2680.9 568.1 L2673.1 572.2 L2674.2 577.1 L2673.1 583.1 L2680.4 583.9 L2686.2 587.8 L2690.6 591.9 L2692.8 597.1 L2693.8 602.1 L2696.4 607.0 L2698.9 613.8 L2700.9 619.3 L2702.8 623.4 M2702.8 623.4 L2702.1 628.0 L2699.5 633.1 L2698.7 637.2 L2695.8 642.2 L2701.4 640.9 L2706.1 642.2 L2712.1 644.5 L2717.0 645.5 L2723.4 646.5 L2724.9 640.9 L2730.0 636.5 L2729.3 643.5 L2731.6 648.5 L2736.5 650.9 L2742.4 651.1 L2749.7 646.5 L2750.5 652.3 L2753.3 655.3 L2755.0 660.0 L2754.0 666.2 L2753.9 671.2 L2756.1 677.3 L2759.4 681.8 L2762.8 688.1 L2758.4 696.9 L2758.8 703.3 L2761.9 707.4 L2764.1 712.3 L2765.0 716.5 L2760.6 719.9 L2756.8 722.7 L2754.2 727.3 L2749.7 729.7 L2745.0 734.1 L2742.4 738.0 L2738.1 743.4 L2736.3 747.9 L2732.2 753.7 L2728.7 758.6 L2727.5 764.3 L2725.6 769.9 L2721.2 775.6 L2713.8 777.8 M2702.8 623.4 L2701.3 627.9 L2695.0 630.4 L2691.7 627.6 L2687.2 623.3 L2681.8 622.5 L2676.5 620.0 L2668.7 617.2 L2661.6 616.0 L2655.6 618.1 L2648.9 619.1 L2644.4 622.3 L2640.2 625.2 L2635.1 627.4 L2631.5 630.4 L2626.4 634.6 L2620.6 640.0 L2615.9 645.9 L2616.2 650.9 L2620.1 655.5 L2623.8 658.6 L2627.1 662.8 L2629.4 666.2 L2634.0 666.6 L2640.5 669.6 L2644.4 670.5 L2651.2 668.4 L2655.9 674.7 L2657.8 679.4 L2661.5 687.2 L2662.2 692.5 L2655.6 696.0 M2655.6 696.0 L2650.2 695.0 L2645.9 694.9 L2640.3 696.9 L2637.8 701.4 L2636.2 707.9 L2636.2 712.5 L2633.7 718.7 L2626.5 722.4 L2622.8 727.5 L2614.0 723.1 L2612.5 718.1 L2612.2 711.6 L2609.7 707.8 L2606.1 702.0 L2603.1 699.0 L2600.9 704.0 L2598.6 709.3 L2594.4 714.3 L2588.2 710.4 L2584.7 709.3 L2576.9 710.0 L2570.0 712.6 L2564.6 714.3 M2535.7 524.9 L2532.6 527.9 L2526.8 530.7 L2522.2 535.0 L2516.0 539.0 L2513.4 545.9 L2514.7 551.5 L2518.9 555.6 L2520.0 561.2 L2521.7 567.0 L2520.3 573.2 L2515.6 578.7 L2510.5 580.7 L2505.9 580.7 L2499.3 581.9 L2494.2 582.3 L2489.4 585.3 L2487.8 591.1 L2487.4 596.4 L2484.9 600.3 L2482.8 605.0 L2491.6 609.4 L2490.3 616.0 L2492.0 621.5 L2491.7 625.7 L2487.2 631.2 L2492.4 630.2 L2498.7 633.7 L2502.4 635.3 L2508.1 634.1 L2513.4 635.6 L2515.6 644.4 L2519.2 649.7 L2523.4 653.1 L2529.2 653.5 L2533.9 656.2 L2535.3 661.9 L2533.9 668.7 L2533.1 672.8 L2536.9 679.6 L2541.9 683.7 L2547.6 681.2 L2552.8 677.2 L2557.8 675.2 L2564.5 677.0 L2568.8 678.4 L2574.7 677.2 L2577.1 682.7 L2579.6 688.1 L2579.0 692.5 L2574.3 696.6 L2571.6 701.6 L2568.1 705.6 L2564.6 714.3 M2655.6 696.0 L2654.4 701.7 L2656.9 706.0 L2661.4 711.8 L2662.8 715.9 L2664.3 720.9 L2660.9 725.7 L2658.6 732.2 L2654.7 738.4 L2652.4 743.3 L2650.3 751.5 L2653.6 757.1 L2654.4 762.7 L2655.8 767.8 L2655.6 775.6 L2659.8 776.6 L2666.5 775.4 L2671.4 773.4 L2677.1 772.6 L2682.2 773.5 L2688.4 774.7 L2694.2 771.4 L2699.1 771.4 L2703.7 769.0 L2706.8 774.4 L2713.8 777.8 M2713.8 777.8 L2710.5 783.0 L2711.6 788.7 L2712.6 794.6 L2717.2 799.2 L2722.1 801.8 M2722.1 801.8 L2727.4 802.4 L2731.5 807.4 L2733.6 812.4 L2737.8 815.9 L2742.6 819.5 L2746.5 822.7 L2750.2 826.3 L2753.4 830.6 L2755.9 832.1 L2762.4 836.1 L2765.0 839.0 L2771.5 832.5 L2774.1 836.6 L2778.8 841.9 L2783.3 845.6 L2783.5 851.1 L2781.6 856.5 L2780.1 863.3 L2778.8 868.6 L2776.0 872.2 L2772.8 878.4 L2773.2 884.5 L2775.7 891.1 L2779.7 894.8 L2783.4 898.0 L2784.6 904.6 L2777.9 905.2 L2771.5 909.0 L2772.3 915.5 L2771.1 920.4 L2770.8 926.4 L2769.3 933.1 L2775.8 937.2 L2782.5 939.6 L2787.3 938.8 L2793.2 941.6 L2800.0 941.8 L2804.8 944.9 L2808.2 946.2 L2813.1 950.6 L2820.9 953.0 L2824.0 957.1 M2722.1 801.8 L2719.0 806.5 L2719.0 814.1 L2713.7 818.4 L2709.1 818.1 L2703.9 816.9 L2699.3 819.3 L2697.8 824.4 L2696.3 831.5 L2693.2 836.7 L2688.3 840.8 L2686.2 845.6 L2679.1 840.4 L2677.5 834.6 L2670.5 832.5 L2667.3 830.2 L2662.6 826.0 L2658.3 823.0 L2652.1 819.3 L2647.8 818.6 L2641.8 822.2 L2637.5 823.9 L2631.7 825.1 L2626.9 828.0 L2622.8 829.0 L2617.4 823.8 L2613.0 820.1 L2611.9 815.0 L2605.6 813.2 L2600.9 812.4 L2597.2 809.5 L2591.1 806.2 L2586.9 805.5 L2583.1 804.1 L2576.9 801.8 L2578.7 795.8 L2578.8 792.8 L2575.8 787.6 L2574.8 780.7 L2577.8 777.2 L2579.2 772.3 L2576.9 766.8 L2575.3 761.9 L2571.5 757.4 L2570.6 753.1 L2567.2 748.5 M2564.6 714.3 L2565.0 719.9 L2564.2 725.8 L2565.2 733.7 L2569.0 738.4 L2569.7 742.8 L2567.2 748.5 M2567.2 748.5 L2563.7 751.5 L2562.8 756.8 L2558.8 761.8 L2555.2 763.4 L2551.5 768.6 L2547.7 770.7 L2544.9 774.4 L2543.0 781.5 L2539.7 784.3 L2541.1 789.1 L2540.8 794.8 L2541.7 799.8 L2543.5 805.8 L2543.1 809.4 L2542.9 816.6 L2543.1 820.3 L2544.1 825.9 L2539.1 828.7 L2533.8 830.4 L2527.9 831.4 L2520.0 830.3 L2514.7 832.1 L2511.0 833.7 L2505.1 835.0 L2500.6 834.5 L2495.0 835.8 L2491.2 838.7 L2485.0 839.0 L2477.9 840.0 L2474.5 839.2 L2467.5 836.8 L2462.6 839.9 L2458.1 845.0 L2455.2 850.0 L2456.0 857.5 L2456.6 863.1 L2462.4 865.7 L2465.1 869.2 L2467.5 876.2 L2470.8 880.5 L2471.3 888.1 L2469.7 893.7 L2467.6 899.0 L2465.1 903.6 L2463.1 909.0 L2467.3 911.4 L2472.1 915.6 L2473.6 918.8 L2476.7 923.9 L2480.3 928.2 L2484.8 930.8 L2489.4 932.3 L2495.5 935.8 L2499.1 938.9 L2502.5 941.8 L2498.5 945.4 L2495.6 952.8 L2493.7 959.3 L2488.6 959.0 L2484.3 961.0 L2477.5 963.1 L2472.7 965.5 L2467.5 965.9 L2467.1 970.7 L2464.3 976.5 L2462.6 981.4 L2460.5 985.1 L2458.7 994.3 M838.1 1210.0 L844.7 1215.6 L850.0 1217.9 L855.4 1220.8 L860.4 1222.1 L866.1 1223.4 L871.9 1224.3 L877.5 1226.6 L878.1 1233.0 L879.7 1237.5 L876.8 1243.9 L873.2 1248.2 L869.2 1251.0 L864.3 1252.8 L860.8 1256.8 L854.4 1258.2 L849.0 1259.4 L842.5 1265.9 M1084.2 1207.1 L1080.9 1211.2 L1079.5 1216.3 L1077.0 1220.3 L1075.2 1225.7 M1076.1 1256.3 L1082.8 1253.4 L1087.4 1252.8 L1092.0 1255.3 L1098.2 1257.1 L1102.7 1257.0 L1109.3 1257.2 L1115.9 1258.2 L1120.7 1260.7 L1128.5 1262.7 L1133.4 1263.7 M1133.4 1263.7 L1138.6 1266.0 L1142.1 1269.2 L1145.0 1271.5 L1148.7 1276.9 L1151.8 1281.5 L1154.8 1286.1 L1161.1 1291.5 L1166.2 1294.4 L1169.2 1298.2 L1174.9 1300.9 L1179.0 1301.9 L1183.0 1305.7 L1187.9 1307.6 L1194.0 1310.4 L1196.3 1313.1 L1201.2 1316.2 L1208.6 1318.3 L1213.9 1320.9 L1218.7 1322.8 L1224.3 1319.8 L1229.0 1319.0 L1234.0 1318.4 L1239.7 1316.7 L1247.1 1311.9 L1254.2 1309.3 L1258.0 1305.3 L1257.8 1301.1 L1258.3 1295.3 L1262.4 1290.0 L1265.6 1285.6 L1266.8 1276.9 M1214.3 1210.0 L1220.4 1210.5 L1227.4 1215.6 L1227.4 1222.2 L1228.8 1228.0 L1231.5 1234.0 L1236.2 1237.5 L1238.7 1241.4 L1241.9 1246.7 L1245.2 1251.0 L1249.3 1254.8 L1252.5 1261.1 L1253.7 1265.9 L1257.1 1272.3 L1261.2 1276.0 L1266.8 1276.9 M1266.8 1276.9 L1271.1 1273.8 L1274.2 1268.3 L1279.0 1263.8 L1284.3 1261.5 L1289.3 1258.6 L1293.8 1259.7 L1299.8 1257.9 L1304.6 1255.9 L1310.0 1254.5 L1314.9 1250.6 L1321.2 1251.7 L1324.4 1253.3 L1330.2 1252.8 L1333.8 1256.9 L1338.1 1260.9 L1342.9 1262.9 L1345.5 1265.9 L1349.9 1270.8 L1351.7 1275.7 L1356.5 1281.2 L1358.1 1276.1 L1358.6 1269.5 L1358.3 1263.9 L1360.8 1259.4 L1358.2 1253.6 L1357.7 1250.1 L1355.8 1244.2 L1355.1 1239.9 L1355.9 1233.6 L1356.5 1228.7 L1358.2 1221.9 L1361.0 1219.9 L1366.2 1217.4 L1370.8 1212.2 L1374.0 1209.1 L1380.1 1213.7 L1383.9 1217.9 L1385.0 1222.6 L1389.3 1228.7 L1390.8 1233.8 L1393.4 1238.5 L1393.7 1244.1 L1398.2 1241.2 L1402.0 1239.5 L1407.8 1237.6 L1413.3 1235.3 L1419.4 1237.5 L1422.5 1240.1 L1427.5 1242.1 L1433.0 1244.1 L1438.9 1242.8 L1443.6 1239.3 L1447.4 1235.7 L1450.8 1232.0 L1454.9 1228.7 L1460.4 1227.9 L1464.3 1227.5 L1469.5 1225.6 L1475.2 1224.9 L1481.1 1224.4 L1489.9 1222.2 M1474.6 1189.0 L1477.3 1194.7 L1481.9 1196.7 L1486.7 1196.9 L1492.6 1201.1 L1495.1 1205.1 L1493.5 1210.0 L1491.7 1217.3 L1489.9 1222.2 M1489.9 1222.2 L1488.9 1226.9 L1489.9 1233.5 L1490.0 1239.6 L1492.1 1244.1 L1493.3 1251.6 L1496.5 1257.2 L1501.9 1257.4 L1508.6 1258.9 L1514.0 1263.7 M1514.0 1263.7 L1511.0 1268.4 L1505.4 1272.0 L1501.0 1275.1 L1494.3 1276.9 L1491.0 1281.3 L1485.3 1283.2 L1480.1 1288.6 L1478.8 1293.2 L1472.4 1296.5 L1469.3 1301.4 L1465.0 1305.6 L1459.9 1308.7 L1457.6 1312.6 L1452.4 1317.4 L1446.7 1319.0 L1444.0 1322.8 L1447.1 1326.7 L1450.2 1330.5 L1454.0 1335.9 M1454.0 1335.9 L1454.7 1340.6 L1454.1 1345.7 L1454.0 1351.2 L1454.4 1356.7 L1454.3 1363.0 L1453.5 1367.0 L1451.7 1372.9 L1450.5 1377.5 L1456.9 1381.3 L1462.0 1381.9 L1467.4 1384.5 L1472.4 1388.4 L1467.8 1389.9 L1463.4 1394.2 L1459.7 1398.2 L1454.9 1403.7 L1454.2 1410.8 L1452.6 1413.9 L1452.7 1421.2 L1447.5 1425.7 L1444.3 1429.4 L1440.0 1433.3 L1436.1 1439.4 L1433.0 1443.1 M1454.0 1335.9 L1460.4 1340.6 L1465.7 1343.1 L1472.4 1342.5 L1477.0 1344.8 L1482.0 1347.2 L1485.2 1352.2 L1488.2 1356.0 L1494.3 1358.6 L1498.6 1360.0 L1500.2 1366.0 L1502.0 1372.2 L1500.9 1377.3 L1499.0 1382.1 L1500.8 1388.4 L1497.9 1392.5 L1496.3 1398.8 L1496.0 1402.5 L1494.4 1407.2 L1492.1 1412.5 L1497.1 1417.1 L1500.6 1421.2 L1502.6 1424.4 L1507.0 1427.9 L1514.0 1430.0 L1518.3 1433.0 L1524.1 1435.4 L1529.0 1438.3 L1535.8 1440.9 L1542.4 1441.4 L1545.0 1444.5 L1552.1 1448.1 L1557.3 1448.2 L1562.1 1449.7 L1567.6 1450.6 L1572.2 1451.6 L1578.9 1452.8 L1586.3 1454.5 L1590.7 1456.2 M1433.0 1443.1 L1427.9 1440.0 L1425.1 1437.1 L1420.4 1433.9 L1415.3 1432.0 L1409.0 1432.2 L1403.8 1435.6 L1399.6 1438.6 L1395.8 1443.1 L1389.5 1440.0 L1386.0 1434.9 L1384.9 1427.8 L1383.5 1421.2 L1380.2 1418.1 L1377.4 1414.9 L1376.2 1408.1 L1372.0 1408.9 L1365.5 1410.8 L1360.2 1410.3 L1354.3 1412.5 L1353.4 1420.3 L1350.8 1424.3 L1345.5 1430.0 L1340.6 1430.2 L1333.5 1432.6 L1330.2 1434.6 L1325.9 1438.7 L1321.9 1442.9 L1318.8 1447.0 L1314.4 1450.2 L1310.5 1451.8 L1313.6 1448.5 L1316.3 1441.1 L1314.9 1436.5 L1310.8 1433.2 L1306.0 1431.2 L1301.6 1428.9 L1297.4 1423.4 L1291.7 1424.1 L1285.9 1423.4 L1279.8 1422.1 L1273.4 1423.4 L1270.7 1430.5 M1168.4 1318.4 L1172.0 1321.2 L1175.9 1325.4 L1179.3 1331.5 L1186.1 1334.7 L1188.4 1338.3 L1191.4 1342.4 L1196.8 1346.9 L1194.6 1355.6 L1201.3 1360.2 L1205.7 1361.3 L1212.1 1364.3 L1217.9 1364.6 L1221.6 1366.7 L1227.4 1368.7 L1231.1 1373.4 L1234.0 1377.5 L1227.4 1381.8 L1232.4 1388.8 L1238.4 1390.6 L1243.8 1391.6 L1249.1 1394.8 L1255.8 1398.5 L1261.3 1399.3 L1266.8 1399.3 L1261.5 1403.1 L1258.0 1405.9 L1253.0 1409.7 L1250.2 1414.0 L1247.1 1416.8 L1250.9 1419.7 L1257.1 1423.4 L1261.6 1424.9 L1265.2 1426.5 L1270.7 1430.5 M1133.4 1263.7 L1135.7 1267.2 L1141.9 1271.8 L1143.7 1274.8 L1144.6 1281.5 L1148.5 1287.5 L1153.1 1290.0 L1154.5 1294.7 L1159.0 1299.1 L1163.3 1304.1 L1164.7 1306.8 L1166.1 1312.7 L1168.4 1318.4 M967.1 1338.1 L971.3 1338.2 L976.4 1340.9 L982.5 1342.5 L987.2 1343.5 L992.5 1342.1 L1000.7 1341.9 L1005.2 1341.6 L1010.0 1343.4 L1017.3 1346.2 L1021.8 1344.7 L1030.6 1342.5 L1037.2 1348.0 L1043.7 1349.0 L1048.2 1347.0 L1053.0 1348.2 L1058.9 1348.8 L1064.8 1348.0 L1069.9 1347.4 L1074.3 1349.0 L1079.4 1342.8 L1080.9 1335.9 L1087.7 1335.7 L1093.0 1339.9 L1097.4 1342.0 L1104.9 1340.3 L1108.3 1337.3 L1113.7 1333.7 L1119.2 1335.1 L1125.4 1333.5 L1130.2 1331.0 L1135.6 1331.5 L1142.6 1331.2 L1147.7 1332.9 L1153.1 1333.7 L1156.6 1326.2 L1159.6 1320.6 L1168.4 1318.4 M1270.7 1430.5 L1266.2 1431.3 L1261.4 1433.9 L1254.8 1435.6 L1250.4 1437.0 L1247.3 1439.6 L1242.2 1442.3 L1236.6 1444.3 L1231.8 1445.3 L1227.5 1450.4 L1222.3 1452.0 L1216.9 1454.8 L1212.1 1458.4 L1212.5 1462.9 L1210.5 1469.6 L1208.9 1472.8 L1207.7 1478.1 L1205.3 1481.6 L1200.0 1485.9 L1198.1 1490.1 L1196.2 1496.6 L1192.4 1500.0 L1189.4 1504.4 L1183.8 1509.8 L1181.5 1515.3 L1180.5 1521.0 L1177.8 1526.8 L1176.3 1531.8 L1172.7 1537.1 L1166.4 1541.7 L1163.1 1541.8 L1156.0 1539.5 L1149.5 1539.5 L1144.3 1543.7 L1139.8 1546.9 L1131.1 1547.2 L1124.8 1545.8 L1120.3 1548.1 M1273.4 1423.4 L1270.7 1430.5 L1269.8 1437.0 L1265.8 1440.7 L1262.5 1445.8 L1262.4 1451.8 L1258.6 1456.0 L1255.9 1460.1 L1251.5 1465.0 L1253.6 1471.0 L1255.9 1478.1 L1250.9 1479.1 L1246.9 1483.3 L1245.8 1488.2 L1243.7 1493.0 L1239.3 1495.5 L1234.6 1499.3 L1232.0 1505.1 L1229.6 1508.7 L1232.9 1514.7 L1236.2 1521.8 L1240.9 1526.3 L1244.6 1526.7 L1251.2 1527.2 L1254.3 1529.5 L1260.2 1530.6 L1263.5 1534.8 L1268.4 1538.5 L1274.8 1542.5 L1279.3 1545.4 L1282.1 1550.3 L1280.3 1556.8 L1276.5 1562.7 L1273.1 1567.2 L1271.2 1572.1 L1273.1 1577.1 L1273.4 1585.3 L1279.8 1585.7 L1285.3 1585.1 L1293.0 1587.4 L1297.4 1589.6 L1303.2 1587.4 L1307.6 1588.7 L1312.7 1587.4 L1314.9 1578.7 L1320.8 1576.0 L1325.7 1573.8 L1330.2 1574.3 L1334.8 1574.7 L1340.7 1575.1 L1345.7 1576.5 L1349.9 1580.9 L1351.8 1574.5 L1356.5 1567.8 L1365.2 1569.9 M1433.0 1443.1 L1435.8 1446.9 L1439.9 1452.5 L1441.2 1456.3 L1442.6 1461.1 L1444.3 1466.8 L1443.8 1472.3 L1445.9 1478.6 L1450.5 1482.5 L1446.9 1488.6 L1445.6 1492.2 L1443.8 1498.8 L1441.8 1504.3 L1440.0 1508.9 L1433.7 1512.4 L1428.0 1516.3 L1426.5 1521.8 L1419.9 1526.2 M1236.2 1648.7 L1238.2 1655.8 L1237.4 1661.8 L1234.0 1666.2 L1230.4 1670.4 L1229.4 1676.3 L1230.1 1683.1 L1229.6 1688.1 L1231.9 1691.6 L1234.5 1697.0 L1234.0 1703.4 L1239.1 1704.3 L1245.2 1705.1 L1249.6 1707.4 L1254.7 1711.2 L1259.8 1713.2 L1265.6 1715.0 L1269.0 1718.7 L1269.1 1725.4 L1268.4 1730.7 L1266.8 1736.2 L1262.6 1737.9 L1257.0 1738.1 L1251.5 1740.6 L1251.6 1746.0 L1247.7 1752.0 L1244.8 1755.5 L1242.7 1762.4 L1237.2 1758.3 L1231.7 1757.7 L1227.4 1755.9 L1221.8 1757.7 L1214.2 1757.1 L1207.7 1756.8 L1203.4 1760.2 L1198.0 1757.6 L1192.4 1751.5 M971.5 1639.9 L975.7 1641.9 L982.2 1640.5 L986.8 1637.8 L991.7 1641.4 L994.9 1646.1 L996.0 1650.9 L996.7 1656.1 L1000.0 1659.6 L1005.4 1665.0 L1013.1 1666.2 L1015.6 1669.8 L1019.1 1675.8 L1021.4 1677.7 L1026.2 1681.5 L1029.1 1686.5 L1031.3 1690.6 L1035.0 1696.8 L1039.0 1694.9 L1046.2 1693.1 L1051.5 1694.0 L1055.8 1695.4 L1061.2 1694.6 L1068.2 1696.7 L1072.6 1701.1 L1076.5 1703.4 L1082.6 1704.8 L1086.6 1706.7 L1089.9 1707.4 L1096.2 1707.7 L1098.6 1712.4 L1104.9 1715.1 L1109.7 1715.6 L1113.7 1718.7 L1118.6 1722.6 L1119.8 1726.2 L1122.5 1732.0 L1124.6 1736.2 L1127.6 1740.8 L1133.4 1742.9 L1137.8 1743.7 L1143.6 1747.4 L1148.2 1750.1 L1153.1 1751.5 L1159.6 1755.9 M1159.6 1755.9 L1166.1 1754.4 L1170.7 1753.6 L1175.5 1751.0 L1181.9 1749.3 L1188.1 1747.1 L1192.4 1751.5 M1030.6 1782.1 L1037.7 1784.0 L1042.2 1784.2 L1048.1 1786.5 L1052.8 1790.1 L1061.2 1793.0 L1067.1 1787.2 L1069.9 1782.1 L1064.3 1777.1 L1063.4 1771.2 L1068.5 1769.3 L1075.3 1769.6 L1081.8 1769.1 L1085.3 1767.8 L1091.8 1769.0 L1096.6 1769.3 L1102.0 1765.7 L1108.0 1762.2 L1113.7 1762.4 L1117.8 1766.9 L1122.4 1771.2 L1125.0 1766.7 L1129.7 1763.2 L1134.0 1760.9 L1140.6 1758.1 L1144.3 1753.7 L1148.6 1754.2 L1153.4 1756.7 L1159.6 1755.9 M1192.4 1751.5 L1196.8 1754.8 L1198.0 1759.6 L1197.5 1767.1 L1196.8 1771.2 L1195.5 1776.5 L1199.0 1781.3 L1204.1 1787.4 L1204.9 1790.8 L1203.4 1797.4 L1198.2 1800.2 L1192.4 1804.0 L1194.3 1809.9 L1196.8 1814.9 L1202.4 1815.7 L1206.2 1815.7 L1212.2 1817.9 L1218.2 1821.0 L1220.7 1822.4 L1226.4 1825.2 L1231.8 1825.9 L1235.0 1832.7 L1238.4 1839.0 L1245.3 1844.9 L1251.5 1845.5 L1255.9 1849.9 M1393.7 1679.3 L1398.0 1676.8 L1403.4 1672.7 L1406.8 1670.6 L1412.6 1672.8 L1417.1 1675.5 L1419.9 1681.5 L1425.7 1682.2 L1428.7 1683.1 L1434.8 1686.1 L1439.6 1685.9 L1443.7 1686.4 L1448.0 1689.6 L1454.6 1691.9 L1460.0 1692.6 L1463.6 1694.6 M1463.6 1694.6 L1467.8 1700.5 L1470.4 1704.8 L1474.6 1709.9 L1479.2 1713.8 L1485.1 1717.7 L1489.9 1720.9 L1493.1 1725.6 L1495.0 1731.0 L1496.5 1738.4 L1497.9 1743.7 L1500.3 1747.0 L1502.6 1751.4 L1507.4 1755.9 L1511.8 1762.4 M1511.8 1762.4 L1508.2 1767.0 L1505.5 1772.6 L1505.2 1779.9 L1498.4 1781.8 L1492.1 1784.3 L1485.6 1783.9 L1479.6 1784.6 L1475.3 1787.0 L1471.3 1789.3 L1465.2 1790.2 L1459.3 1790.9 L1459.5 1794.8 L1458.0 1800.3 L1457.8 1805.2 L1454.9 1810.5 L1450.8 1815.5 L1447.9 1819.4 L1445.5 1822.3 L1440.1 1827.0 L1437.4 1830.2 L1440.6 1833.6 L1446.2 1836.8 L1441.2 1838.4 L1436.3 1841.5 L1433.0 1845.5 L1427.4 1845.4 L1423.5 1842.2 L1419.3 1840.2 L1413.3 1841.2 L1409.3 1844.5 L1403.5 1844.6 L1397.5 1844.6 L1393.7 1845.5 L1388.7 1844.8 L1383.9 1840.3 L1378.3 1836.8 L1371.0 1838.5 L1364.1 1838.1 L1358.7 1836.8 L1353.1 1837.8 L1347.7 1838.0 L1343.4 1840.0 L1339.0 1843.4 L1334.4 1841.9 L1328.3 1839.2 L1323.7 1839.0 L1319.1 1841.5 L1314.5 1841.9 L1308.6 1841.4 L1302.1 1842.7 L1297.4 1845.5 L1291.3 1847.3 L1284.2 1847.7 L1279.9 1849.9 L1276.3 1845.3 L1271.2 1843.4 L1265.9 1845.0 L1262.1 1847.5 L1255.9 1849.9 L1251.5 1845.5 M1463.6 1694.6 L1467.0 1688.3 L1470.0 1684.4 L1476.8 1681.5 L1477.3 1673.9 L1479.1 1669.9 L1483.3 1664.0 L1490.2 1661.9 L1493.0 1659.4 L1496.5 1653.1 L1498.8 1648.5 L1502.7 1643.1 L1506.8 1639.4 L1509.6 1633.4 L1514.3 1637.5 L1518.5 1643.1 L1522.0 1648.9 L1524.9 1653.1 L1529.8 1656.4 L1531.8 1659.6 L1533.6 1666.2 L1539.5 1664.0 L1543.2 1663.7 L1548.8 1661.9 L1553.3 1657.4 L1559.9 1659.2 L1566.2 1660.8 L1573.0 1659.6 L1575.5 1653.6 L1578.8 1649.9 L1586.1 1646.5 L1592.5 1648.2 L1596.5 1651.3 L1601.6 1655.6 L1607.3 1657.3 L1612.4 1657.4 L1616.9 1654.7 L1621.1 1650.0 L1625.5 1646.5 L1624.7 1641.3 L1625.1 1633.6 L1626.6 1626.8 M1511.8 1762.4 L1517.7 1760.5 L1522.0 1761.6 L1529.0 1761.2 L1533.6 1760.2 L1542.0 1762.0 L1546.8 1766.8 L1550.0 1762.5 L1553.8 1760.0 L1558.8 1756.6 L1562.3 1754.9 L1568.7 1753.6 L1573.0 1751.5 L1578.3 1745.4 L1579.6 1740.6 L1580.0 1747.1 L1580.7 1751.5 L1583.8 1756.8 L1588.3 1760.2 L1593.4 1760.4 L1597.3 1763.6 L1602.4 1767.6 L1606.1 1769.9 L1610.1 1771.1 L1616.8 1771.2 L1618.0 1765.6 L1622.1 1760.2 M1799.3 1151.8 L1805.8 1152.6 L1812.5 1157.9 L1818.5 1160.8 L1825.0 1160.3 L1830.0 1159.6 L1831.7 1165.9 L1834.3 1169.7 L1830.0 1178.4 L1824.4 1179.3 L1818.3 1182.6 L1812.5 1185.0 L1807.3 1187.0 L1798.7 1188.5 L1792.8 1186.8 M1812.5 1185.0 L1819.3 1182.2 L1822.7 1181.1 L1830.0 1180.6 L1833.9 1183.0 L1840.4 1181.5 L1845.5 1180.6 L1850.9 1182.6 L1856.2 1187.2 L1859.3 1190.4 L1864.6 1195.2 L1869.6 1199.3 L1873.7 1202.5 L1876.2 1207.2 L1879.0 1211.6 L1882.0 1216.7 L1886.8 1220.0 L1885.9 1224.7 L1887.2 1231.7 L1889.0 1237.5 L1886.7 1242.5 L1882.5 1250.0 L1880.3 1255.0 L1884.7 1256.9 L1889.3 1259.8 L1894.0 1262.9 L1900.0 1265.9 L1905.5 1267.1 L1909.2 1270.3 L1911.5 1275.4 L1913.1 1281.2 L1917.1 1280.6 L1924.2 1281.2 L1927.9 1280.7 L1933.6 1278.6 L1939.3 1276.9 L1944.9 1276.6 L1951.1 1279.3 L1957.2 1283.1 L1961.2 1285.6 L1964.0 1289.5 L1969.4 1294.6 L1973.1 1300.2 L1976.5 1303.1 L1983.5 1306.5 L1988.2 1310.6 L1991.8 1314.0 L1999.8 1311.5 L2004.9 1307.5 L2007.4 1303.5 L2009.3 1296.5 L2014.6 1297.5 L2020.5 1296.8 L2025.7 1297.3 L2031.2 1296.5 L2029.6 1303.6 L2026.1 1307.9 L2023.0 1311.5 L2020.3 1318.4 L2019.6 1323.3 L2016.7 1330.3 L2015.9 1335.9 L2020.0 1339.2 L2026.6 1339.5 L2032.5 1341.7 L2035.6 1346.9 L2037.9 1350.8 L2042.1 1355.6 L2047.6 1357.4 L2051.9 1358.9 L2057.9 1359.6 L2063.8 1361.0 L2068.8 1363.0 L2072.7 1364.3 L2069.4 1369.6 L2067.7 1374.7 L2064.3 1377.6 L2060.1 1382.2 L2059.6 1388.4 M2059.6 1388.4 L2054.5 1392.4 L2051.4 1394.0 L2047.7 1399.9 L2047.5 1406.2 L2045.7 1410.4 L2039.9 1412.5 L2035.0 1416.8 L2032.2 1421.4 L2029.2 1427.7 L2028.2 1431.8 L2024.9 1437.6 L2020.3 1440.9 L2014.6 1443.1 L2008.0 1442.9 L2002.3 1442.2 L1996.9 1444.0 L1991.8 1443.1 L1987.1 1449.1 L1982.7 1451.4 L1976.5 1454.0 L1970.2 1453.7 L1965.5 1456.9 L1961.1 1460.2 L1955.4 1460.2 L1950.3 1458.2 L1944.6 1458.5 L1939.3 1460.6 L1932.9 1459.1 L1928.1 1459.1 L1923.9 1458.1 L1917.3 1457.0 L1913.1 1458.4 L1911.1 1453.9 L1908.7 1447.5 L1901.7 1444.1 L1895.3 1441.5 L1891.2 1438.7 L1884.3 1436.2 L1878.8 1431.3 L1873.7 1430.0 L1867.4 1431.6 L1864.1 1433.9 L1857.6 1434.8 L1851.8 1434.3 L1844.7 1430.9 L1838.7 1427.8 L1833.8 1428.6 L1829.0 1427.6 L1821.8 1426.0 L1817.8 1424.0 L1813.5 1420.8 L1808.1 1421.2 L1801.4 1421.7 L1795.8 1422.4 L1790.6 1423.4 L1786.9 1428.2 L1785.1 1432.3 L1782.4 1438.9 L1779.7 1443.1 L1781.3 1448.0 L1781.6 1453.6 L1781.8 1460.6 L1778.4 1464.9 L1774.9 1468.1 L1771.6 1473.2 L1768.7 1478.1 L1763.1 1479.9 L1760.3 1483.5 L1758.3 1488.2 L1753.4 1491.2 L1750.4 1495.0 L1743.8 1499.5 L1740.1 1502.0 L1733.7 1504.3 L1727.5 1507.2 L1722.6 1509.9 L1716.2 1510.9 L1717.4 1517.5 L1716.7 1521.7 L1718.4 1528.4 L1723.6 1533.4 L1727.1 1536.5 L1733.7 1539.3 L1737.8 1543.0 L1740.2 1548.6 L1741.0 1555.0 L1742.5 1561.2 M2059.6 1388.4 L2065.9 1388.0 L2069.7 1387.7 L2075.4 1385.3 L2079.8 1383.3 L2085.3 1383.2 L2091.2 1384.5 L2094.8 1386.1 L2101.2 1386.2 L2106.9 1389.8 L2109.9 1397.2 L2111.7 1393.2 L2116.2 1388.5 L2122.0 1385.5 L2124.9 1382.9 L2127.4 1377.5 L2132.8 1381.0 L2140.6 1381.8 L2145.8 1378.2 L2152.3 1376.0 L2158.0 1377.5 M2158.0 1377.5 L2159.3 1383.2 L2156.1 1387.9 L2152.2 1392.4 L2151.5 1397.0 L2150.6 1402.7 L2149.3 1408.1 L2153.2 1410.4 L2156.6 1417.2 L2159.7 1421.7 L2164.6 1423.4 L2160.4 1427.9 L2157.2 1431.3 L2154.3 1432.8 L2151.5 1438.7 L2156.4 1439.1 L2160.8 1442.5 L2167.0 1445.3 L2173.4 1445.2 L2178.7 1445.2 L2184.8 1448.0 L2188.7 1449.7 L2188.5 1454.6 L2189.7 1459.3 L2193.5 1465.0 L2195.2 1469.3 L2201.5 1472.9 L2206.2 1475.9 L2209.1 1480.1 L2211.6 1485.1 L2216.2 1487.2 L2220.3 1492.3 L2220.7 1497.5 L2223.7 1502.1 M2158.0 1377.5 L2160.4 1372.7 L2159.5 1366.1 L2160.2 1360.0 L2163.8 1354.0 L2165.7 1348.8 L2171.2 1344.7 L2171.8 1339.9 L2169.8 1333.7 L2166.8 1329.4 L2170.7 1327.1 L2174.1 1321.6 L2176.2 1317.1 L2179.9 1314.0 L2184.9 1311.8 L2186.2 1307.6 L2190.6 1302.7 L2195.2 1300.9 L2189.3 1301.4 L2182.1 1298.7 L2186.5 1295.1 L2188.5 1289.0 L2190.9 1281.2 L2194.8 1274.8 L2195.1 1270.7 L2193.0 1263.7 L2198.9 1258.2 L2203.5 1257.4 L2210.5 1255.0 L2214.3 1250.4 L2216.6 1245.2 L2219.3 1237.5 L2224.3 1236.6 L2231.4 1234.9 L2236.8 1230.9 L2239.8 1225.6 L2238.9 1218.6 L2238.1 1211.0 L2241.2 1206.9 M2241.2 1206.9 L2246.2 1210.9 L2247.7 1213.7 L2251.7 1217.6 L2254.3 1222.2 L2258.4 1218.9 L2262.4 1216.2 L2268.3 1215.2 L2274.3 1211.9 L2276.2 1206.9 L2280.6 1201.8 L2285.3 1196.6 L2289.3 1193.7 L2290.3 1199.1 L2295.2 1204.1 L2299.2 1205.3 L2302.4 1211.2 L2306.7 1208.2 L2312.3 1208.8 L2318.5 1208.2 L2323.3 1206.0 L2328.7 1202.5 L2330.4 1198.4 L2335.1 1193.2 L2339.5 1191.0 L2344.0 1189.2 L2347.9 1185.6 L2350.5 1180.6 L2354.0 1173.9 L2356.2 1170.0 L2361.4 1166.2 L2365.8 1160.9 L2368.8 1157.5 L2374.0 1154.8 L2380.1 1154.6 L2386.4 1154.6 L2389.9 1151.7 L2397.6 1151.0 L2401.1 1153.7 L2409.0 1157.2 L2414.0 1156.1 L2416.5 1152.1 L2422.5 1148.3 L2424.9 1145.2 L2431.1 1143.0 L2436.8 1143.4 L2442.4 1143.0 L2447.4 1139.9 L2451.1 1135.9 L2454.3 1134.2 L2457.7 1129.9 L2461.5 1124.6 L2466.4 1121.1 L2470.5 1124.0 L2477.1 1127.6 L2481.5 1129.8 L2486.1 1132.1 L2484.4 1138.4 L2481.7 1142.8 L2479.6 1147.4 L2477.1 1150.8 L2473.9 1156.3 L2469.7 1161.8 L2465.7 1165.2 L2462.1 1169.2 L2467.8 1173.2 L2472.0 1178.7 L2474.2 1181.3 L2479.6 1186.7 L2481.7 1190.7 L2486.1 1195.5 L2493.4 1193.8 L2499.0 1191.7 L2503.6 1186.7 L2508.1 1190.2 L2510.1 1192.8 L2514.6 1198.1 L2518.9 1199.9 L2523.6 1204.2 L2529.3 1207.4 L2534.3 1209.9 L2538.3 1214.2 L2544.1 1217.8 M2254.3 1189.0 L2253.0 1195.6 L2250.5 1200.5 L2246.7 1204.4 L2241.2 1206.9 M1972.1 1210.0 L1973.3 1216.8 L1976.1 1220.8 L1980.9 1222.2 L1984.9 1220.7 L1991.5 1219.9 L1994.6 1218.2 L1998.7 1214.5 L2004.9 1213.4 L2006.7 1206.9 L2010.3 1204.0 L2015.3 1200.5 L2018.7 1196.7 L2020.3 1191.6 L2024.2 1187.6 L2031.3 1184.4 L2035.6 1182.8 L2043.3 1182.1 L2047.2 1180.9 L2055.2 1182.8 L2049.4 1182.8 L2042.1 1187.2 L2043.0 1194.6 L2042.7 1199.2 L2044.3 1206.9 L2048.2 1211.1 L2051.1 1215.2 L2053.1 1220.0 L2057.3 1216.6 L2062.3 1215.6 L2068.4 1215.6 L2071.8 1221.4 L2071.5 1227.3 L2074.9 1233.1 L2075.4 1239.7 L2072.9 1246.3 L2069.9 1249.5 L2068.4 1257.2 L2075.6 1258.4 L2078.7 1260.3 L2085.8 1261.0 L2092.4 1259.4 L2094.6 1255.1 L2095.4 1249.3 L2095.1 1243.3 L2095.1 1239.3 L2096.8 1233.1 L2095.0 1227.3 L2092.3 1223.2 L2089.8 1217.4 L2089.3 1212.3 L2085.9 1206.9 L2085.5 1200.1 L2087.1 1195.6 L2090.2 1189.4 L2096.1 1185.8 L2099.0 1180.6 L2105.3 1181.2 L2109.4 1181.0 L2113.9 1178.4 L2120.0 1178.3 L2124.8 1180.1 L2132.0 1180.0 L2135.6 1180.6 L2140.3 1181.7 L2146.3 1182.5 L2151.4 1181.7 L2156.8 1180.4 L2162.4 1182.8 L2167.2 1181.4 L2173.9 1182.5 L2179.1 1183.2 L2181.5 1184.9 L2187.1 1187.0 L2193.5 1186.5 L2197.5 1185.8 L2202.9 1188.5 L2206.1 1192.2 L2211.1 1192.4 L2216.5 1191.9 L2223.0 1195.0 L2226.7 1197.2 L2232.4 1195.9 L2236.2 1203.2 L2241.2 1206.9 M1657.2 1559.9 L1656.4 1567.5 L1655.0 1572.1 L1649.1 1573.7 L1645.4 1577.9 L1644.1 1583.1 L1639.4 1587.4 L1635.2 1591.6 L1628.7 1594.0 L1628.8 1599.8 L1631.4 1606.2 L1635.3 1609.3 L1633.4 1616.8 L1630.6 1621.8 L1626.6 1626.8 L1630.9 1635.6 L1636.5 1637.5 L1643.5 1638.0 L1650.6 1637.8 L1655.8 1642.8 L1663.7 1644.3 M1663.7 1644.3 L1666.7 1648.1 L1673.9 1651.5 L1678.6 1655.7 L1681.2 1659.6 L1687.7 1661.1 L1692.8 1661.4 L1697.6 1663.0 L1703.1 1664.0 L1708.4 1660.5 L1713.4 1660.4 L1720.7 1661.5 L1725.0 1659.6 L1729.5 1664.0 L1735.0 1667.2 L1738.2 1669.9 L1744.7 1672.7 L1746.9 1676.0 L1751.7 1681.1 L1755.6 1683.7 L1762.3 1681.3 L1765.8 1676.5 L1768.0 1671.9 L1773.1 1668.4 L1777.1 1671.8 L1783.0 1671.9 L1788.9 1671.4 L1795.0 1672.7 L1799.3 1669.5 L1803.1 1667.0 L1808.1 1664.0 L1812.0 1663.6 L1819.1 1662.4 L1823.4 1664.0 L1826.6 1668.8 L1828.7 1675.3 L1831.5 1679.0 L1834.3 1685.9 L1839.9 1688.8 L1845.4 1688.8 L1851.6 1690.1 L1856.2 1692.4 M1663.7 1644.3 L1658.7 1650.2 L1655.4 1652.1 L1648.4 1653.1 L1649.6 1657.4 L1650.6 1664.0 L1647.5 1667.7 L1643.1 1671.6 L1637.5 1674.9 L1642.8 1675.8 L1648.4 1681.3 L1652.8 1685.9 L1654.6 1693.1 L1659.4 1699.0 L1657.2 1705.0 L1652.8 1709.0 L1647.4 1711.1 L1644.1 1714.3 L1641.5 1719.3 L1640.9 1725.4 L1640.2 1730.5 L1639.7 1736.2 L1636.7 1741.8 L1630.7 1745.5 L1626.6 1749.3 L1622.6 1755.4 L1622.1 1760.2 M1622.1 1760.2 L1626.8 1759.5 L1635.0 1760.4 L1638.9 1760.1 L1644.3 1761.1 L1650.6 1762.4 L1653.4 1769.0 L1657.0 1775.3 L1659.4 1779.9 L1662.5 1784.5 L1662.6 1791.1 L1661.8 1794.8 L1663.0 1800.2 L1663.7 1806.2 L1661.1 1810.7 L1660.9 1817.5 L1660.2 1821.1 L1657.2 1825.9 L1655.6 1831.6 L1652.8 1839.0 L1658.1 1839.7 L1664.1 1839.4 L1667.9 1837.7 L1675.0 1836.9 L1679.6 1839.5 L1684.2 1840.2 L1690.0 1836.8 L1694.2 1839.0 L1699.4 1839.7 L1706.7 1839.4 L1710.6 1840.4 L1716.9 1841.9 L1720.8 1842.1 L1727.2 1842.3 L1731.5 1841.2 L1731.7 1834.9 L1735.2 1829.8 L1738.7 1825.8 L1740.3 1819.3 L1734.6 1817.4 L1729.1 1816.7 L1724.8 1814.8 L1718.7 1812.7 L1714.0 1810.5 L1709.9 1805.1 L1705.3 1801.8 L1711.1 1800.2 L1718.4 1795.2 L1723.2 1793.1 L1726.5 1786.6 L1728.2 1781.6 L1734.0 1777.1 L1739.0 1774.2 L1742.5 1771.2 L1746.9 1767.3 L1753.7 1764.3 L1756.7 1763.1 L1764.1 1759.1 L1768.7 1758.0 L1771.7 1751.6 L1773.7 1747.8 L1775.2 1741.9 L1777.5 1736.2 L1781.6 1731.8 L1787.7 1730.3 L1792.5 1728.7 L1796.1 1726.4 L1801.5 1723.1 L1805.9 1717.7 L1808.1 1709.9 L1813.3 1708.0 L1819.3 1705.5 L1824.0 1703.6 L1830.0 1701.2 L1830.9 1696.9 L1832.3 1691.1 L1834.3 1685.9 M1380.0 2191.0 L1384.4 2188.2 L1390.9 2187.6 L1395.6 2186.8 L1401.1 2186.1 L1406.2 2183.6 L1413.2 2183.2 L1420.0 2185.4 L1425.9 2186.6 L1420.6 2192.0 L1418.2 2197.0 L1418.5 2204.1 L1424.9 2206.9 L1429.8 2209.0 L1434.5 2209.0 L1440.0 2208.5 L1447.6 2210.7 L1452.1 2210.7 M1141.7 1953.7 L1148.9 1954.6 L1154.8 1951.8 L1160.4 1949.4 L1165.6 1950.4 L1170.5 1946.6 L1175.3 1942.9 L1180.9 1939.5 L1181.9 1934.0 L1184.8 1929.9 L1190.1 1925.5 L1194.1 1922.0 L1197.5 1917.1 L1202.8 1915.4 M1202.8 1915.4 L1208.2 1916.9 L1212.8 1919.4 L1218.9 1921.4 L1223.9 1922.6 L1226.9 1926.4 L1230.1 1929.4 L1235.9 1932.2 L1242.7 1933.2 L1246.5 1935.1 L1244.9 1941.2 L1241.0 1946.2 L1240.0 1950.4 L1244.3 1954.4 L1248.8 1959.6 L1250.9 1963.5 L1252.8 1969.1 L1255.7 1974.5 L1259.7 1978.9 L1258.7 1984.5 L1260.1 1989.9 L1259.7 1996.3 M1259.7 1996.3 L1259.8 2003.8 L1257.5 2009.5 L1256.9 2014.8 L1260.2 2019.6 L1264.5 2022.5 L1267.5 2029.5 L1268.4 2033.5 L1262.2 2035.3 L1255.3 2038.2 L1250.9 2040.1 L1250.6 2046.6 L1252.2 2051.8 L1253.7 2055.2 L1253.1 2062.0 L1247.6 2064.9 L1242.4 2067.4 L1235.6 2070.7 L1232.7 2076.3 L1231.9 2081.4 L1229.4 2087.1 L1226.9 2092.6 M1202.8 1915.4 L1201.4 1907.2 L1201.6 1903.5 L1205.0 1895.7 L1203.4 1890.3 L1200.4 1886.0 L1194.1 1882.6 L1199.0 1878.0 L1201.9 1871.9 L1205.9 1867.7 L1211.5 1867.3 L1217.6 1867.6 L1220.9 1866.8 L1226.8 1865.4 L1231.2 1862.9 L1234.5 1857.8 L1239.0 1855.4 L1244.1 1852.7 L1247.5 1848.1 L1251.5 1845.5 M1323.7 1839.0 L1323.3 1843.4 L1322.4 1850.0 L1323.1 1853.9 L1322.2 1859.3 L1318.7 1865.1 L1318.1 1870.8 L1314.2 1876.7 L1310.0 1882.6 L1312.4 1889.5 L1314.3 1894.5 L1316.5 1900.1 L1319.0 1903.2 L1321.8 1909.6 L1323.8 1912.8 L1329.7 1915.4 L1334.4 1919.5 L1338.7 1920.2 L1345.0 1917.6 L1349.9 1922.6 L1351.1 1928.1 L1352.7 1932.5 L1358.1 1937.3 L1358.0 1943.7 L1358.4 1948.3 L1360.3 1952.6 L1366.1 1953.2 L1370.2 1957.6 L1372.6 1963.1 L1377.8 1965.7 L1381.7 1971.4 L1382.7 1974.8 L1384.9 1982.2 L1384.3 1987.6 L1385.7 1992.2 L1390.9 1996.3 M1259.7 1996.3 L1264.9 1993.6 L1270.9 1991.3 L1275.2 1990.4 L1281.5 1990.8 L1286.1 1992.5 L1290.3 1993.0 L1296.9 1992.0 L1302.2 1992.7 L1308.8 1992.8 L1313.9 1994.7 L1317.5 1998.5 L1322.2 2000.8 L1327.5 2000.7 L1331.9 1999.1 L1337.1 2001.9 L1342.6 2005.2 L1347.0 2004.2 L1352.1 2004.8 L1357.3 2008.4 L1362.5 2009.5 L1369.2 2010.1 L1373.0 2012.6 L1376.2 2015.1 L1381.3 2017.8 L1386.5 2020.4 L1390.8 2013.5 L1395.3 2009.5 L1393.5 2002.9 L1390.9 1996.3 M1390.9 1996.3 L1395.5 1993.8 L1401.9 1991.4 L1406.2 1987.6 L1407.0 1983.1 L1410.7 1977.6 L1414.1 1972.0 L1415.0 1967.9 L1421.0 1971.2 L1422.9 1976.4 L1425.2 1981.3 L1429.3 1984.0 L1432.5 1987.6 L1433.8 1992.5 L1437.3 1995.5 L1441.2 1999.6 L1443.0 2005.7 L1445.6 2009.5 L1447.9 2013.5 L1450.0 2018.4 L1454.3 2022.6 L1460.4 2025.2 L1465.5 2024.5 L1471.8 2022.6 L1478.5 2023.4 L1484.6 2024.9 L1491.5 2024.8 M1491.5 2024.8 L1496.1 2022.3 L1502.0 2019.6 L1505.2 2017.2 L1511.2 2013.8 L1511.4 2009.6 L1513.4 2002.9 L1508.5 1999.2 L1505.1 1996.4 L1500.6 1991.7 L1495.9 1989.8 L1498.1 1983.2 L1503.4 1981.2 L1508.0 1982.4 L1514.8 1983.3 L1519.9 1981.0 L1525.9 1977.6 L1530.5 1976.0 L1537.0 1973.8 L1541.8 1970.1 L1548.6 1966.5 L1552.5 1966.2 L1559.3 1965.7 L1564.9 1968.4 L1570.3 1971.6 L1572.4 1976.7 L1577.6 1971.0 L1583.4 1970.1 L1583.4 1964.4 L1583.7 1959.1 L1581.2 1954.8 L1585.3 1952.9 L1589.9 1948.2 M1505.2 1779.9 L1504.0 1785.0 L1504.2 1791.6 L1504.6 1799.5 L1505.4 1805.5 L1507.7 1809.9 L1511.9 1814.2 L1515.6 1819.2 L1520.1 1824.8 L1526.1 1828.5 L1530.4 1829.0 L1537.4 1830.1 L1541.9 1836.4 L1545.1 1840.3 L1546.2 1847.6 L1551.5 1852.9 L1553.4 1856.2 L1559.3 1860.7 L1564.1 1860.6 L1570.1 1863.1 L1574.8 1865.3 L1578.3 1868.7 L1580.9 1872.8 L1585.6 1876.1 L1587.3 1884.5 L1592.1 1889.2 L1588.1 1892.3 L1582.3 1895.0 L1576.8 1900.1 L1578.6 1907.5 L1580.2 1913.4 L1583.4 1917.6 L1584.3 1923.1 L1588.9 1927.9 L1592.1 1932.9 L1591.9 1937.1 L1590.4 1942.2 L1589.9 1948.2 M1589.9 1948.2 L1591.5 1952.9 L1595.6 1956.2 L1600.0 1958.9 L1603.1 1963.5 L1607.9 1964.4 L1613.3 1964.6 L1618.6 1965.8 L1624.9 1965.7 L1629.7 1968.4 L1631.8 1973.6 L1633.7 1979.1 L1638.1 1981.0 L1641.4 1985.6 L1645.3 1988.5 L1649.0 1989.6 L1653.4 1994.2 L1653.9 1988.7 L1657.3 1983.8 L1662.1 1981.0 L1668.2 1979.2 L1672.6 1974.5 L1676.4 1968.3 L1681.8 1965.7 L1675.5 1963.2 L1671.2 1958.1 L1666.5 1954.8 L1669.4 1949.7 L1670.9 1943.9 L1673.6 1939.4 L1678.6 1935.6 L1684.0 1932.9 L1688.9 1935.4 L1693.8 1939.5 L1697.8 1941.5 L1701.5 1946.0 L1707.2 1946.7 L1712.4 1948.7 L1716.8 1950.4 L1723.7 1949.1 L1727.5 1947.7 L1732.1 1943.9 L1735.0 1939.3 L1736.8 1935.3 L1739.5 1928.4 L1742.6 1923.2 L1744.5 1918.0 L1745.2 1913.2 L1750.0 1911.6 L1754.7 1913.2 L1760.2 1916.5 L1764.9 1917.6 L1768.8 1923.1 L1772.1 1925.3 L1775.3 1932.0 L1775.9 1937.3 L1779.5 1940.8 L1785.1 1946.5 L1788.5 1948.8 L1795.5 1950.4 L1791.0 1954.9 L1787.4 1959.4 L1784.6 1963.1 L1782.4 1970.1 M1782.4 1970.1 L1786.4 1973.3 L1791.9 1975.5 L1797.1 1978.7 L1799.9 1983.2 L1806.2 1985.6 L1810.9 1989.0 L1816.0 1990.2 L1821.8 1994.2 L1828.1 1997.0 L1832.9 2000.6 L1836.5 2006.5 L1839.3 2011.7 L1846.0 2010.6 L1852.4 2005.1 L1857.5 2003.6 L1864.0 2003.8 L1868.1 2005.7 L1874.3 2009.5 L1879.1 2009.3 L1884.2 2007.7 L1890.8 2006.2 L1895.6 2004.9 L1900.5 2005.1 L1905.2 2006.7 L1910.0 2009.0 L1913.8 2010.9 L1918.0 2016.0 L1924.1 2012.6 L1926.4 2008.1 L1929.0 2004.1 L1935.5 2000.7 L1939.1 2003.0 L1943.2 2007.0 L1947.9 2012.3 L1950.7 2016.3 L1953.0 2020.4 L1958.0 2022.9 L1961.8 2025.4 L1967.0 2028.9 L1970.5 2031.3 L1978.0 2033.4 L1984.9 2032.1 L1990.2 2031.3 M1782.4 1970.1 L1778.2 1966.0 L1775.4 1962.7 L1769.3 1959.2 L1767.3 1964.3 L1762.3 1968.4 L1758.4 1970.1 L1760.5 1974.9 L1762.4 1980.5 L1763.2 1986.0 L1763.8 1992.2 L1765.6 1995.2 L1769.3 2000.7 L1766.2 2004.3 L1765.3 2009.1 L1762.9 2013.4 L1761.0 2018.7 L1761.2 2024.2 L1758.4 2029.2 L1752.1 2032.1 L1745.8 2033.0 L1739.8 2033.4 L1734.3 2035.7 L1731.9 2040.3 L1730.4 2046.9 L1730.1 2050.4 L1730.8 2056.3 L1732.1 2062.0 L1730.4 2066.1 L1725.4 2070.5 L1722.0 2074.0 L1721.4 2080.3 L1721.1 2084.6 L1716.8 2088.2 L1712.7 2093.9 L1710.1 2098.1 L1709.5 2103.6 L1710.3 2110.2 L1708.0 2116.6 L1705.4 2123.1 L1699.3 2127.6 L1702.3 2133.0 L1706.1 2137.3 L1708.0 2145.1 L1712.2 2148.4 L1717.4 2151.2 L1722.0 2153.8 L1727.1 2158.2 L1729.9 2162.6 L1734.6 2164.1 L1740.1 2168.1 L1744.4 2171.2 L1752.1 2173.9 L1756.2 2175.7 L1758.9 2180.4 L1764.1 2182.0 L1770.9 2184.2 L1774.9 2187.4 L1778.0 2193.2 L1784.7 2193.9 L1789.0 2195.4 L1789.1 2200.6 L1790.0 2205.6 L1791.9 2210.0 L1792.5 2215.4 L1791.7 2222.5 L1792.3 2226.4 L1793.4 2232.6 L1790.2 2238.0 L1790.2 2242.3 L1786.1 2249.1 L1782.8 2253.2 L1782.4 2258.8 M1491.5 2024.8 L1494.9 2029.3 L1499.6 2034.5 L1501.7 2038.6 L1502.4 2044.5 L1505.0 2050.7 L1508.1 2053.4 L1510.8 2059.3 L1512.7 2063.5 L1517.8 2066.3 L1518.1 2072.3 L1516.4 2075.3 L1516.6 2081.0 L1516.8 2086.8 L1515.5 2092.3 L1515.9 2095.7 L1517.8 2101.3 L1514.3 2105.3 L1512.4 2109.8 L1510.0 2115.3 L1507.9 2122.8 L1507.0 2128.3 L1504.6 2132.0 L1500.0 2137.0 L1498.9 2140.7 L1493.7 2145.1 L1485.0 2140.7 L1483.9 2144.7 L1481.8 2149.8 L1478.0 2153.5 L1474.5 2158.0 L1471.8 2162.6 L1466.6 2166.4 L1461.8 2169.1 L1458.2 2169.1 L1452.1 2169.1 L1452.3 2174.4 L1453.9 2180.0 L1456.6 2185.3 L1458.7 2188.8 L1455.9 2194.8 L1455.4 2198.9 L1453.3 2204.8 L1452.1 2210.7" fill="none" stroke="#222222" stroke-width="3.1" stroke-linejoin="round" stroke-linecap="round"/>
<path d="M2439.1 234.6 L2435.5 239.1 L2430.0 241.7 L2423.0 245.0 L2417.6 245.4 L2412.4 247.5 L2408.7 248.0 L2403.7 248.6 L2397.4 250.6 L2392.1 252.1 L2388.0 251.5 L2389.2 259.7 L2388.9 263.8 L2388.0 271.2 L2382.1 275.4 L2376.5 276.0 L2370.5 275.6 L2372.7 281.0 L2371.9 285.2 L2374.9 289.8 L2377.6 295.6 L2376.6 301.3 L2377.1 306.2 L2374.8 309.9 L2374.4 316.9 L2373.5 319.8 L2372.7 325.9 L2373.1 331.6 L2370.4 335.0 L2366.8 341.3 L2365.2 345.7 L2364.0 350.0 L2365.5 354.1 L2365.2 360.3 L2365.1 364.7 L2366.9 369.1 L2368.0 376.1 L2366.1 380.6 L2367.5 385.8 L2372.7 389.3 L2369.3 395.2 L2367.6 401.0 L2368.3 406.8 L2364.0 410.5 L2360.6 412.6 L2353.4 415.1 L2349.4 417.0 L2344.8 420.1 L2339.9 422.1 L2335.0 426.2 L2331.1 430.1 L2328.2 432.0 L2322.7 434.3 L2317.1 435.6 L2313.6 439.6 L2309.0 445.0 L2303.9 446.7 L2300.5 450.6 L2302.0 457.1 L2304.9 463.7 L2302.5 471.3 L2298.3 474.6 L2302.3 478.5 L2305.9 482.7 L2309.5 486.5 L2315.0 490.4 L2317.1 494.3 L2318.9 503.1 L2314.7 505.7 L2309.4 511.0 L2307.1 516.2 L2305.5 522.5 L2306.4 525.9 L2308.4 531.5 L2313.6 534.8 L2314.5 540.2 L2311.5 546.8 L2305.6 548.2 L2300.4 548.4 L2293.0 547.5 L2289.3 546.1 L2283.0 542.4 L2278.9 543.3 L2274.6 547.4 L2270.3 550.6 L2265.5 553.4 L2259.5 554.4 L2254.1 554.1 L2249.9 556.2 L2243.8 559.1 L2239.3 557.7 L2239.8 562.8 L2236.6 567.1 L2235.8 573.1 L2236.2 579.1 L2235.4 587.9 L2237.1 592.7 L2244.3 594.1 L2246.1 597.2 L2249.4 603.8 L2254.6 605.9 L2254.4 612.2 L2258.4 617.9 L2259.9 622.6 L2258.6 629.6 L2259.0 634.3 L2259.9 640.1 L2263.7 643.9 L2267.6 646.6 L2270.8 651.8 L2266.8 656.1 L2262.8 659.5 L2257.9 660.4 L2251.7 660.9 L2246.3 662.6 L2243.7 667.1 L2238.4 667.7 L2234.9 668.0 L2229.2 667.8 L2223.9 667.9 L2218.7 669.3 L2212.9 672.5 L2209.0 676.6 L2206.0 678.5 L2199.9 678.0 L2196.4 681.5 L2192.9 686.4 L2188.7 689.4 L2184.6 691.2 L2186.5 695.5 L2183.8 702.3 L2182.4 707.0 L2184.5 711.4 M2184.5 711.4 L2188.7 714.3 L2195.2 714.8 L2199.6 716.5 L2204.0 721.3 L2206.2 727.5 L2205.2 734.6 L2205.6 739.8 L2206.2 745.0 L2199.9 746.1 L2193.0 745.0 L2187.8 746.1 L2179.9 749.3 L2175.3 751.2 L2169.2 754.0 L2166.8 758.1 L2162.6 760.0 L2158.9 764.4 L2155.9 769.0 L2155.9 775.3 L2155.4 779.6 L2157.6 784.8 L2160.2 788.7 L2165.2 791.4 L2170.6 794.4 L2173.4 799.7 L2179.2 797.4 L2185.0 796.8 L2193.0 799.7 L2194.0 804.5 L2195.8 812.2 L2198.7 818.1 L2199.6 823.7 L2197.7 831.1 L2198.3 837.7" fill="none" stroke="#222222" stroke-width="6.2" stroke-linejoin="round" stroke-linecap="round"/>
<path d="M1616.4 801.0 L1538.0 771.2 M744.1 1210.0 L739.3 1213.6 L735.3 1215.6 L729.4 1217.6 L724.0 1218.2 L717.6 1220.1 L711.2 1222.2 L715.9 1225.8 L720.0 1230.9 L724.8 1234.5 L729.4 1236.2 L736.1 1234.9 L744.1 1233.4 L748.9 1236.0 L753.0 1238.8 L759.4 1237.5 L764.0 1236.9 L769.6 1239.1 L776.2 1239.3 L779.8 1240.1 L783.6 1243.2 L790.0 1244.1 L798.7 1241.9 L799.3 1247.8 L798.6 1256.4 L796.5 1261.5 L801.2 1259.6 L805.8 1256.7 L812.9 1252.6 L817.3 1250.0 L822.8 1248.4 L827.1 1251.4 L830.9 1256.0 L833.9 1259.8 L838.3 1261.2 L842.5 1265.9 L849.0 1268.3 L853.4 1268.1 L855.1 1275.0 L858.4 1278.3 L864.3 1281.2 L870.5 1284.4 L872.0 1288.2 L877.5 1292.2 L883.3 1289.5 L889.4 1288.8 L893.0 1288.6 L898.8 1287.0 L905.9 1287.8 L911.1 1284.7 L913.9 1280.8 L916.7 1277.0 L923.4 1274.7 L929.4 1271.7 L934.3 1268.1 L940.7 1265.7 L943.9 1260.6 L946.7 1256.4 L951.8 1255.0 L954.5 1248.6 L954.8 1244.1 L955.3 1236.6 L961.1 1241.4 L967.6 1244.1 L973.6 1241.2 L979.2 1237.0 L984.2 1236.6 L990.7 1237.1 L993.2 1234.6 L998.3 1230.9 L1004.3 1230.9 L1008.6 1232.4 L1015.0 1234.6 L1021.7 1234.3 L1026.0 1232.2 L1032.8 1231.4 L1037.4 1227.4 L1043.4 1226.9 L1047.1 1227.8 L1052.9 1225.7 L1059.4 1233.1 L1066.0 1231.1 L1069.5 1227.8 L1075.2 1225.7 L1073.3 1231.2 L1073.8 1236.0 L1074.6 1241.9 L1073.3 1246.4 L1073.4 1250.6 L1076.1 1256.3 L1070.4 1253.2 L1065.0 1254.0 L1058.8 1250.9 L1052.9 1248.9 L1048.8 1251.0 L1044.1 1254.1 L1037.1 1254.4 L1032.5 1253.0 L1026.1 1253.5 L1021.8 1257.6 L1017.1 1255.1 L1009.6 1256.5 L1005.3 1258.4 L999.5 1259.8 L995.0 1258.2 L988.7 1260.2 L984.1 1262.1 L979.8 1265.5 L973.2 1269.2 L966.3 1267.7 L967.1 1274.6 L966.6 1277.8 L963.2 1284.3 L960.3 1290.6 L958.3 1295.7 L954.0 1300.9 L956.9 1308.4 L959.4 1313.5 L962.8 1318.4 L962.3 1322.6 L963.8 1329.3 L966.4 1334.2 L967.1 1338.1 L967.0 1345.1 L963.2 1351.0 L962.8 1355.6 L962.6 1362.3 L958.8 1368.5 L958.4 1373.1 L954.2 1371.6 L947.5 1372.3 L942.1 1373.8 L938.1 1373.6 L933.5 1373.8 L927.8 1375.3 L922.4 1379.1 L918.8 1382.7 L914.8 1386.3 L912.7 1389.2 L908.0 1394.2 L903.7 1397.2 L910.3 1397.6 L914.4 1397.1 L921.3 1400.3 L924.8 1404.0 L930.0 1405.9 L934.9 1408.4 L940.9 1407.6 L945.5 1408.6 L951.3 1409.9 L956.5 1409.9 L961.2 1411.6 L965.0 1414.7 L970.4 1415.5 L975.8 1417.5 L979.2 1418.8 L985.7 1420.3 L991.2 1419.8 L995.5 1420.1 L1000.0 1423.4 L1004.2 1426.2 L1008.9 1427.6 L1014.7 1430.7 L1017.5 1434.3 L1023.6 1436.9 L1027.9 1439.2 L1031.4 1442.0 L1035.0 1447.5 L1036.1 1452.0 L1040.4 1457.4 L1043.7 1462.8 L1046.6 1469.8 L1049.8 1471.5 L1056.4 1474.7 L1060.1 1479.5 L1063.4 1482.5 L1066.8 1486.1 L1067.2 1492.1 L1067.8 1498.7 L1069.9 1502.7 L1073.3 1509.8 L1076.5 1513.1 M1076.5 1513.1 L1073.3 1518.3 L1068.3 1520.1 L1062.6 1519.4 L1057.0 1520.8 L1050.6 1523.6 L1046.9 1526.0 L1043.7 1530.6 L1043.2 1535.4 L1041.2 1541.1 L1039.4 1548.1 L1037.3 1550.7 L1035.0 1556.8 L1036.7 1563.1 L1035.0 1569.9 L1030.6 1573.4 L1029.8 1578.0 L1026.6 1582.7 L1021.5 1585.2 L1014.1 1588.4 L1011.2 1590.2 L1008.7 1596.2 L1005.1 1601.7 L1000.6 1604.5 L996.1 1607.1 L991.0 1611.1 L986.8 1615.9 L983.3 1622.0 L981.4 1626.5 L977.6 1630.3 L973.7 1633.6 L971.5 1639.9 L966.9 1643.9 L962.6 1645.3 L957.5 1646.9 L951.8 1646.5 L949.7 1651.9 L950.0 1657.4 L952.2 1664.9 L954.3 1670.2 L954.0 1674.9 L955.2 1680.4 L956.4 1686.0 L956.9 1690.8 L955.4 1694.0 L953.2 1699.7 L953.2 1705.1 L956.2 1709.9 L959.8 1714.8 L963.6 1716.7 L967.9 1721.7 L970.8 1725.0 L976.6 1728.0 L980.1 1730.9 L982.5 1736.2 L984.7 1740.9 L988.7 1743.5 L993.9 1745.9 L998.4 1751.6 L1001.1 1756.5 L1004.3 1760.2 L1006.2 1766.6 L1010.3 1768.6 L1018.3 1771.1 L1023.0 1775.6 L1025.4 1779.2 L1030.6 1782.1 L1035.8 1787.0 L1038.3 1790.4 L1042.9 1795.7 L1045.9 1801.8 L1052.2 1805.1 L1053.9 1808.4 L1055.9 1814.9 L1055.3 1821.2 L1057.2 1826.0 L1058.5 1832.1 L1060.3 1835.9 L1066.0 1835.6 L1073.1 1838.1 L1078.7 1841.8 L1081.9 1845.9 M855.6 1500.0 L861.9 1498.3 L866.2 1497.9 L869.9 1499.7 L876.4 1500.9 L882.3 1499.5 L886.2 1498.6 L892.8 1498.5 L896.5 1500.6 L900.6 1505.2 L903.7 1508.7 L911.6 1512.3 L914.7 1517.5 L912.4 1522.2 L912.5 1530.6 L906.9 1530.4 L900.1 1532.0 L895.0 1535.0 L899.8 1536.2 L904.1 1541.4 L908.0 1544.0 L912.5 1545.9 L915.9 1549.1 L921.1 1554.0 L924.0 1558.3 L927.5 1565.3 L930.0 1569.9 L936.0 1571.9 L939.5 1574.8 L944.3 1579.7 L947.5 1583.1 L951.5 1588.6 L954.4 1593.6 L958.4 1596.2 L958.0 1602.7 L955.4 1607.7 L955.0 1611.6 L957.3 1617.8 L959.4 1622.7 L959.6 1628.0 L958.8 1632.9 L958.4 1637.8 L951.8 1639.9 L949.0 1635.9 L946.9 1630.1 L944.8 1623.5 L943.6 1618.3 L943.1 1613.7 L940.2 1608.2 L939.1 1604.3 L936.2 1597.6 L933.8 1594.8 L930.9 1590.0 L930.0 1583.1 L923.8 1580.5 L920.1 1576.0 L915.3 1570.3 L912.5 1565.6 L905.4 1565.5 L901.6 1563.9 L896.9 1562.1 L892.0 1559.1 L886.2 1556.8 L884.2 1552.6 L878.0 1549.0 L873.2 1548.6 L869.4 1547.0 L864.3 1543.7 L863.2 1538.0 L860.8 1533.6 L855.6 1530.6 L860.1 1526.8 L863.3 1520.8 L864.3 1515.3 L863.1 1509.7 L860.5 1504.1 L855.6 1500.0 M781.2 1790.9 L788.3 1786.0 L794.4 1786.5 L799.0 1789.0 L804.1 1790.7 L809.9 1794.5 L813.0 1798.3 L816.9 1801.3 L821.2 1804.4 L825.4 1807.7 L829.7 1810.5 L833.7 1814.9 L837.9 1817.8 L843.1 1822.4 L846.3 1826.9 L851.2 1832.4 L846.9 1839.0 L841.1 1836.7 L836.6 1836.8 L832.5 1840.2 L826.0 1842.6 L822.0 1841.6 L816.2 1839.0 L813.9 1834.0 L808.7 1830.3 L803.9 1828.9 L799.2 1826.8 L793.3 1822.8 L790.0 1819.3 L788.3 1812.9 L785.9 1809.8 L781.0 1806.6 L776.9 1801.8 L777.9 1796.5 L781.2 1790.9 M1081.9 1845.9 L1083.5 1851.7 L1087.3 1854.5 L1092.6 1859.0 L1093.1 1862.4 L1095.9 1868.7 L1099.9 1872.6 L1103.3 1876.3 L1106.5 1880.6 L1107.4 1885.2 L1111.0 1889.5 L1113.9 1894.8 L1116.9 1896.3 L1120.7 1901.0 L1121.3 1906.8 L1121.9 1911.3 L1125.8 1915.3 L1127.9 1920.6 L1128.1 1926.3 L1130.8 1930.6 L1136.7 1934.2 L1138.1 1940.3 L1137.6 1943.2 L1139.3 1949.1 L1141.7 1953.7 L1140.8 1958.0 L1141.3 1965.1 L1142.3 1969.0 L1144.5 1972.6 L1146.2 1979.0 L1147.4 1983.5 L1150.3 1987.6 L1148.9 1993.7 L1150.5 1997.1 L1153.5 2002.9 L1154.6 2008.6 L1153.4 2014.3 L1154.3 2018.9 L1155.9 2024.5 L1155.0 2030.3 L1153.8 2034.4 L1155.1 2040.9 L1159.1 2044.5 L1164.3 2046.3 L1167.8 2051.1 L1170.0 2055.4 L1172.8 2049.5 L1176.6 2044.5 L1179.9 2048.1 L1182.4 2053.4 L1186.0 2057.3 L1190.0 2061.4 L1194.1 2066.3 L1200.9 2067.8 L1203.0 2070.8 L1205.1 2076.6 L1209.9 2080.9 L1215.4 2083.8 L1217.3 2086.4 L1222.1 2091.5 L1226.9 2092.6 L1230.6 2096.1 L1234.5 2098.9 L1240.4 2101.9 L1244.1 2104.8 L1250.1 2108.3 L1254.2 2108.3 L1260.2 2111.0 L1264.0 2115.6 L1268.4 2116.6 L1266.2 2122.7 L1266.2 2129.8 L1271.8 2130.7 L1275.4 2133.2 L1281.7 2136.6 L1286.0 2137.9 L1292.5 2138.5 L1297.0 2137.2 L1304.0 2139.6 L1307.4 2143.6 L1312.2 2144.4 L1319.0 2143.4 L1324.2 2143.8 L1328.9 2144.9 L1332.6 2145.6 L1338.4 2147.3 L1342.6 2150.0 L1349.1 2151.3 L1355.9 2152.3 L1359.3 2153.9 L1364.7 2158.2 L1369.9 2161.9 L1370.5 2166.0 L1370.5 2173.1 L1372.4 2177.8 L1375.5 2181.6 L1378.5 2185.3 L1380.0 2191.0 L1381.4 2195.7 L1387.5 2200.4 L1390.9 2204.1 L1390.9 2210.7 L1397.2 2212.3 L1401.7 2211.2 L1406.9 2208.7 L1410.2 2209.0 L1417.1 2210.5 L1421.5 2208.5 L1425.5 2208.4 L1431.9 2206.8 L1436.6 2206.7 L1441.7 2207.6 L1448.0 2208.1 L1452.1 2210.7 L1455.0 2215.0 L1462.3 2219.0 L1467.5 2219.4 L1473.9 2215.3 L1480.6 2215.1 L1484.6 2217.6 L1489.0 2221.8 L1493.7 2223.8 L1497.4 2228.1 L1502.9 2231.9 L1506.0 2236.2 L1508.9 2242.2 L1513.5 2245.4 L1518.6 2249.2 L1519.9 2254.4 L1523.4 2256.8 L1526.6 2261.8 L1532.2 2265.2 L1534.9 2268.3 L1537.4 2274.3 L1540.3 2277.6 L1544.3 2283.8 L1546.6 2288.5 L1551.2 2291.9 L1555.8 2293.1 L1560.3 2295.6 L1563.7 2300.4 L1565.1 2294.9 L1564.3 2290.3 L1565.4 2284.2 L1565.3 2279.8 L1566.4 2274.2 L1568.4 2270.5 L1568.5 2264.4 L1569.7 2260.0 L1570.3 2254.4 L1575.8 2252.8 L1583.2 2251.7 L1588.7 2250.1 L1594.3 2247.9 L1599.9 2249.8 L1604.9 2251.9 L1609.8 2256.3 L1614.0 2261.0 M1480.6 2215.1 L1484.9 2217.0 L1487.7 2223.7 L1487.5 2227.9 L1491.5 2232.6 L1494.4 2237.9 L1498.0 2243.3 L1503.0 2249.3 L1506.8 2252.3 L1510.8 2257.9 L1512.8 2262.1 L1513.5 2267.5 L1515.1 2272.6 L1517.9 2279.0 L1522.1 2282.9 L1514.1 2279.3 L1509.0 2276.3 L1504.5 2271.4 L1501.6 2268.3 L1497.9 2260.9 L1495.9 2256.6 L1497.0 2250.9 L1496.9 2245.8 L1494.8 2239.4 L1494.5 2234.1 L1497.4 2228.1" fill="none" stroke="#222222" stroke-width="6.5" stroke-linejoin="round" stroke-linecap="round"/>
<path d="M2198.3 837.7 L2197.4 845.6 L2200.4 852.9 L2203.2 855.7 L2206.2 863.1 L2206.2 869.2 L2205.8 873.3 L2205.8 881.0 L2204.0 885.0 L2211.6 884.7 L2215.5 883.5 L2223.7 882.8 L2230.2 881.6 L2233.6 882.6 L2237.7 885.8 L2243.8 886.8 L2249.9 886.6 L2254.3 887.1 L2258.6 889.1 L2265.4 894.4 L2268.9 896.3 L2276.2 895.9 L2281.3 895.9 L2288.6 896.6 L2293.7 900.3 L2297.9 896.1 L2301.1 893.3 L2302.4 887.1 L2308.6 889.0 L2314.6 887.1 L2317.7 882.8 L2321.2 887.4 L2324.1 891.7 L2328.7 893.7 L2323.4 897.0 L2319.6 901.9 L2317.7 909.0 L2313.6 913.3 L2308.6 914.6 L2302.4 917.8 L2305.0 923.1 L2306.3 928.6 L2309.0 933.1 L2312.7 940.0 L2315.5 946.2 L2316.7 954.2 L2317.7 959.3 L2322.7 962.9 L2329.9 964.5 L2335.0 963.7 L2341.8 963.7 L2346.6 967.0 L2352.2 969.9 L2357.1 974.6 L2361.7 973.8 L2369.2 972.7 L2374.6 972.4 L2376.8 966.0 L2378.3 962.0 L2381.1 954.9 L2389.9 952.8 L2394.4 956.9 L2399.3 958.4 L2404.6 958.7 L2409.6 959.3 L2415.0 961.6 L2419.1 965.1 L2424.5 968.0 L2427.7 970.2 L2433.6 972.4 L2439.0 970.9 L2446.8 968.1 L2452.3 971.7 L2454.8 977.4 L2456.1 982.0 L2460.5 985.1 M2460.5 985.1 L2458.7 994.3 L2462.6 999.4 L2466.6 1001.8 L2471.4 1002.7 L2477.5 1005.7 L2482.8 1007.4 L2487.1 1009.3 L2493.2 1009.6 L2498.8 1006.5 L2503.4 1005.9 L2509.1 1009.6 L2512.7 1013.3 L2516.5 1017.2 L2521.3 1018.8 L2526.6 1020.6 L2531.4 1023.5 L2537.1 1026.2 L2539.4 1029.1 L2544.1 1033.7 L2547.4 1030.1 L2548.7 1025.6 L2552.1 1021.0 L2557.2 1018.4 L2561.0 1014.9 L2565.2 1010.4 L2567.7 1007.3 L2570.3 1003.1 L2576.0 1004.7 L2581.3 1004.5 L2586.5 1003.4 L2590.0 1003.8 L2597.2 1005.6 L2600.9 1008.3" fill="none" stroke="#222222" stroke-width="6.6" stroke-linejoin="round" stroke-linecap="round"/>
<path d="M1616.4 801.0 L1621.8 806.4 L1622.2 812.8 L1623.4 821.1 L1620.0 825.9 L1614.6 833.3 L1609.1 836.0 L1611.2 845.6 L1615.5 848.1 L1621.2 849.0 L1625.3 852.0 L1629.5 854.6 L1634.4 855.2 L1640.1 856.2 L1644.1 858.7 L1647.2 864.9 L1648.4 871.8 L1651.8 876.5 L1654.3 882.1 L1657.2 885.0 L1655.6 890.2 L1655.3 896.2 L1655.2 903.7 L1655.0 909.0 L1657.4 915.0 L1661.3 917.4 L1665.9 919.9 L1667.0 926.7 L1669.0 931.8 L1670.6 935.0 L1670.3 941.8 L1674.7 945.7 L1675.6 949.7 L1679.0 954.9 L1684.1 957.1 L1690.5 956.4 L1696.9 956.7 L1700.9 959.3 L1706.0 960.1 L1710.2 964.9 L1714.0 970.3 L1718.9 973.1 L1725.6 974.0 L1730.2 973.5 L1736.5 976.3 L1740.3 979.0 L1745.3 980.1 L1751.9 981.2 L1755.8 983.2 L1760.4 988.0 L1764.3 992.1 L1763.7 997.6 L1760.0 1003.1 L1754.4 1005.1 L1746.7 1008.2 L1742.5 1011.8 L1736.8 1015.8 L1732.6 1019.8 L1731.5 1024.9 L1735.5 1027.7 L1742.5 1031.5 L1739.1 1036.8 L1737.3 1040.8 L1737.6 1048.4 L1740.5 1054.1 L1741.4 1059.6 L1739.4 1064.0 L1738.1 1068.7 L1739.2 1074.0 L1743.4 1080.4 L1745.8 1084.6 L1749.5 1089.5 L1755.6 1092.7 L1760.9 1091.6 L1765.6 1092.2 L1771.5 1090.1 L1776.5 1088.5 L1782.1 1089.4 L1788.4 1090.6 L1790.3 1095.5 L1792.3 1102.0 L1791.4 1106.7 L1792.8 1112.4 L1791.3 1117.8 L1790.6 1123.4 L1790.1 1128.4 L1794.4 1135.9 L1797.8 1138.5 L1799.4 1146.5 L1799.3 1151.8 L1800.8 1157.4 L1801.2 1165.2 L1799.3 1171.5 L1796.4 1175.9 L1794.9 1182.6 L1792.8 1186.8 L1796.0 1192.1 L1798.6 1197.5 L1801.5 1202.1 L1794.3 1202.3 L1790.6 1204.9 L1786.2 1210.0 M1076.5 1513.1 L1081.4 1516.4 L1085.0 1519.4 L1086.9 1524.5 L1087.4 1530.6 L1089.3 1537.7 L1092.3 1542.3 L1096.4 1545.4 L1102.8 1548.1 L1107.7 1548.8 L1114.7 1547.1 L1120.3 1548.1 L1118.5 1555.3 L1116.9 1559.6 L1115.9 1565.6 L1118.5 1571.6 L1120.1 1573.8 L1123.7 1577.4 L1129.0 1580.9 L1132.9 1584.3 L1137.5 1585.1 L1143.3 1587.6 L1148.7 1589.6 L1153.2 1591.3 L1159.6 1592.7 L1164.8 1591.1 L1169.6 1591.5 L1174.9 1596.2 L1178.7 1600.1 L1179.1 1606.3 L1179.3 1613.7 L1185.2 1615.2 L1188.5 1616.8 L1195.7 1618.7 L1201.5 1619.5 L1205.6 1620.3 L1212.2 1619.3 L1215.1 1621.8 L1221.0 1624.4 L1227.7 1624.4 L1231.8 1624.6 L1231.9 1630.3 L1231.4 1638.1 L1232.0 1642.1 L1236.2 1648.7 L1238.4 1653.8 L1240.6 1661.8 L1247.4 1662.6 L1251.4 1666.0 L1256.5 1668.6 L1264.6 1668.4 L1269.1 1668.7 L1276.2 1671.5 L1279.9 1674.9 L1286.5 1674.8 L1291.2 1675.7 L1294.8 1678.4 L1299.9 1679.7 L1306.2 1681.5 L1312.1 1679.8 L1316.5 1680.3 L1321.1 1682.5 L1327.4 1683.3 L1331.5 1683.8 L1336.8 1688.1 L1342.9 1690.2 L1347.2 1691.6 L1353.8 1695.1 L1358.7 1696.8 L1361.0 1690.8 L1367.4 1685.9 L1373.2 1686.0 L1378.4 1685.3 L1382.6 1683.6 L1387.8 1682.0 L1393.7 1679.3 L1391.1 1673.9 L1386.6 1669.2 L1384.9 1661.8 L1381.2 1659.7 L1376.5 1655.8 L1373.3 1652.6 L1371.8 1646.5 L1371.5 1640.3 L1369.6 1635.6 L1374.5 1633.1 L1379.0 1629.4 L1384.9 1624.6 L1383.6 1619.6 L1380.0 1615.7 L1378.3 1609.3 L1379.5 1604.1 L1376.5 1598.7 L1372.0 1592.1 L1371.8 1587.4 L1371.8 1579.8 L1368.8 1573.8 L1365.2 1569.9 L1365.8 1563.6 L1369.0 1558.6 L1370.0 1553.3 L1367.4 1548.1 L1373.5 1542.0 L1376.2 1537.1 L1381.1 1533.4 L1387.9 1531.2 L1393.7 1530.6 L1399.8 1525.6 L1406.8 1524.0 L1413.0 1527.3 L1419.9 1526.2 L1422.0 1532.3 L1421.2 1538.9 L1422.1 1543.7 L1425.4 1547.4 L1426.4 1553.9 L1424.5 1559.4 L1426.5 1565.6 L1425.5 1570.6 L1422.2 1575.9 L1417.7 1580.9 L1417.2 1585.8 L1420.7 1591.2 L1423.9 1596.5 L1424.3 1600.6 L1421.4 1606.9 L1422.2 1613.7 L1426.5 1618.1 L1425.3 1624.8 L1419.9 1629.0 L1427.1 1627.1 L1432.3 1624.7 L1437.4 1624.6 L1441.3 1622.8 L1446.9 1618.8 L1451.9 1617.9 L1457.1 1619.2 L1464.4 1617.9 L1468.0 1615.9 L1472.3 1613.5 L1476.4 1611.8 L1481.8 1611.1 L1487.7 1609.3 L1491.8 1604.4 L1493.8 1595.9 L1496.5 1591.8 L1494.3 1586.3 L1492.1 1580.4 L1487.7 1576.5 L1487.3 1571.7 L1488.8 1566.8 L1492.1 1561.2 L1493.2 1555.5 L1493.4 1549.5 L1491.9 1544.9 L1489.7 1541.5 L1489.9 1535.0 L1496.6 1532.9 L1501.2 1531.8 L1507.4 1526.2 L1513.2 1524.0 L1519.7 1524.7 L1524.9 1524.0 L1530.2 1522.7 L1536.4 1524.5 L1540.2 1526.2 L1544.5 1520.6 L1545.3 1513.6 L1549.0 1508.7 L1550.7 1504.0 L1552.8 1497.5 L1556.2 1493.1 L1562.1 1489.0 L1567.8 1492.4 L1571.4 1496.3 L1574.1 1499.2 L1577.4 1504.3 L1583.0 1504.9 L1588.8 1509.8 L1591.4 1513.3 L1595.5 1517.5 L1599.3 1524.0 L1606.0 1525.6 L1611.7 1526.5 L1616.8 1529.8 L1618.9 1535.0 L1623.7 1538.8 L1627.2 1540.2 L1633.1 1543.3 L1636.3 1547.8 L1639.5 1550.4 L1644.7 1552.6 L1648.6 1556.5 L1651.3 1559.2 L1657.2 1559.9 M1786.2 1210.0 L1780.3 1211.0 L1775.8 1212.0 L1769.8 1212.8 L1764.0 1213.3 L1758.3 1214.5 L1752.5 1213.7 L1748.2 1212.3 L1742.5 1213.4 L1737.1 1216.0 L1732.1 1214.7 L1726.1 1210.0 L1720.6 1208.5 L1716.2 1211.2 L1711.4 1212.0 L1704.0 1211.3 L1699.1 1208.6 L1694.4 1209.1 L1689.7 1207.4 L1684.5 1209.7 L1679.8 1212.2 L1675.5 1212.5 L1668.5 1212.0 L1663.9 1210.2 L1659.4 1209.1 L1655.5 1211.4 L1647.6 1214.8 L1643.1 1217.7 L1637.5 1217.8 L1632.1 1217.9 L1628.7 1219.2 L1623.1 1220.9 L1617.2 1221.2 L1611.4 1222.3 L1608.9 1224.7 L1602.5 1224.4 L1598.1 1225.2 L1593.1 1225.9 L1588.6 1229.0 L1583.9 1231.0 L1577.2 1231.8 L1571.4 1232.6 L1567.5 1233.1 L1562.5 1233.1 L1556.1 1235.3 L1550.0 1236.2 L1547.6 1242.2 L1542.6 1246.2 L1537.2 1246.8 L1531.3 1248.5 L1528.0 1250.8 L1524.8 1254.4 L1520.7 1259.4 L1514.0 1263.7 M1514.0 1263.7 L1520.7 1268.1 L1525.4 1269.6 L1530.3 1268.8 L1535.2 1268.2 L1540.6 1266.7 L1546.9 1267.2 L1553.1 1268.3 L1560.9 1270.3 L1565.6 1276.0 L1569.7 1281.2 L1568.2 1286.8 L1568.8 1292.3 L1567.5 1298.7 L1569.9 1304.4 L1572.9 1310.1 L1577.8 1314.2 L1581.8 1316.6 L1585.7 1321.9 L1589.4 1325.0 L1595.0 1326.9 L1602.5 1329.4 L1606.3 1323.9 L1611.8 1321.7 L1620.0 1320.6 L1624.8 1325.9 L1626.5 1328.9 L1630.9 1333.7 L1631.9 1338.1 L1630.2 1344.0 L1629.5 1348.9 L1627.7 1355.8 L1628.7 1360.0 L1631.9 1363.5 L1635.4 1369.1 L1637.5 1373.8 L1640.6 1378.1 L1643.2 1384.7 L1641.9 1390.6 L1639.2 1396.0 L1636.5 1399.9 L1631.2 1403.8 L1628.2 1406.1 L1626.6 1412.5 L1622.9 1419.0 L1618.6 1422.2 L1613.5 1423.2 L1606.9 1425.6 L1601.5 1429.8 L1598.9 1431.0 L1592.2 1431.7 L1587.2 1434.3 L1587.4 1438.9 L1587.5 1445.2 L1589.7 1452.1 L1590.7 1456.2 L1586.4 1460.5 L1582.8 1463.7 L1578.8 1468.7 L1578.4 1473.7 L1583.4 1472.7 L1589.3 1472.5 L1593.7 1471.5 L1599.0 1475.1 L1603.6 1475.8 L1608.6 1475.0 L1612.8 1477.5 L1618.5 1479.7 L1624.4 1478.1 L1628.5 1481.3 L1634.2 1486.8 L1637.9 1490.4 L1641.9 1495.6 L1646.7 1501.3 L1650.1 1506.8 L1650.6 1513.1 L1657.1 1513.6 L1662.0 1513.8 L1668.1 1515.3 L1668.9 1520.7 L1667.3 1526.3 L1664.9 1531.3 L1663.7 1535.0 L1661.9 1540.4 L1660.3 1545.5 L1658.5 1550.7 L1656.2 1555.6 L1657.2 1559.9 M1657.2 1559.9 L1657.2 1559.9 L1663.4 1559.0 L1667.8 1558.7 L1672.5 1561.2 L1678.4 1562.7 L1682.4 1564.3 L1686.9 1567.4 L1693.3 1569.0 L1698.7 1569.9 L1704.2 1570.5 L1710.3 1568.5 L1715.1 1568.3 L1719.2 1571.6 L1727.2 1574.1 L1731.5 1572.1 L1735.8 1570.4 L1739.5 1567.3 L1742.5 1561.2 L1747.6 1562.5 L1751.6 1567.4 L1755.6 1569.9 L1760.3 1573.4 L1763.0 1578.0 L1768.7 1583.1 L1775.1 1582.8 L1779.1 1581.8 L1784.4 1580.4 L1790.6 1576.5 L1794.9 1578.3 L1798.7 1585.7 L1800.9 1589.4 L1808.1 1591.8 L1808.7 1598.8 L1811.2 1603.8 L1812.5 1609.3" fill="none" stroke="#222222" stroke-width="7.0" stroke-linejoin="round" stroke-linecap="round"/>
<path d="M1538.0 771.2 L1536.1 765.5 L1535.4 760.6 L1535.4 755.2 L1533.6 751.5 L1529.0 746.2 L1526.4 741.6 L1522.7 738.4 L1514.0 742.8 L1506.5 740.1 L1500.8 736.2 L1493.0 735.5 L1486.9 732.8 L1481.1 734.0 L1476.4 730.9 L1471.7 729.8 L1465.8 729.7 L1461.5 736.2 L1466.4 741.0 L1468.0 749.3 L1467.3 757.8 L1470.2 762.5 L1465.1 763.4 L1459.8 762.5 L1453.9 764.5 L1449.6 767.5 L1444.0 766.8 L1440.1 769.9 L1435.3 772.3 L1429.1 775.9 L1426.5 780.0 L1422.0 782.6 L1413.3 782.6 L1408.0 780.4 L1402.4 782.2 L1397.2 783.6 L1390.5 784.3 L1384.9 786.5 L1383.5 792.6 L1378.3 797.5 L1374.8 801.2 L1368.2 803.4 L1363.0 801.8 L1361.8 808.4 L1356.5 815.0 L1357.8 821.1 L1356.4 827.3 L1355.6 831.0 L1352.1 836.8 L1348.5 841.8 L1345.0 844.2 L1341.4 845.7 L1336.8 850.0 L1331.2 848.9 L1325.6 846.7 L1319.3 847.8 L1314.9 850.1 L1309.6 848.7 L1304.0 845.6 L1305.3 852.4 L1304.0 856.5 L1299.3 856.9 L1291.2 855.9 L1286.5 856.5 L1279.8 854.0 L1275.5 850.0 L1269.9 851.6 L1264.6 854.2 L1258.0 854.3 L1252.0 851.1 L1246.8 851.6 L1240.6 850.0 L1233.8 849.1 L1228.3 844.6 L1223.1 843.4 L1216.6 841.1 L1210.8 841.3 L1205.6 843.4 L1200.3 846.5 L1196.6 847.4 L1190.0 850.9 L1184.8 853.4 L1181.5 856.5 L1175.5 855.6 L1171.3 857.4 L1166.4 857.5 L1161.4 857.3 L1157.1 859.7 L1150.9 860.9 L1146.7 867.1 L1141.2 869.7 L1136.5 871.1 L1131.2 874.0 L1124.6 871.8 L1121.9 864.3 L1122.3 860.0 L1125.9 852.1 L1122.5 854.6 L1117.0 858.6 L1113.6 861.2 L1106.8 865.3 L1105.0 868.8 L1102.2 874.0 L1096.2 876.2 L1090.0 874.0 L1082.2 873.8 L1076.5 876.2 L1071.4 883.8 L1069.9 889.3 L1063.4 890.3 L1056.7 889.7 L1051.2 890.7 L1045.9 891.5 L1043.1 897.6 L1041.5 902.4 L1038.5 909.0 L1042.1 912.4 L1044.2 918.6 L1043.7 924.3 L1040.7 928.9 L1041.5 937.4 L1038.2 943.2 L1030.6 946.2 L1029.0 951.0 L1028.9 956.5 L1030.3 963.3 L1032.3 967.7 L1032.8 972.4 L1033.0 978.4 L1031.0 985.2 L1031.2 991.2 L1030.6 996.5 L1030.7 1003.3 L1028.4 1007.4 L1023.5 1008.6 L1017.8 1011.4 L1011.8 1013.7 L1007.7 1014.9 L1002.5 1015.5 L995.6 1014.0 L989.0 1020.6 L989.1 1026.6 L990.5 1033.2 L990.3 1038.1 L985.8 1041.7 L980.3 1044.6 L976.0 1040.6 L969.3 1040.2 L970.1 1032.0 L967.1 1027.1 L962.0 1025.9 L956.2 1022.7 L951.6 1026.4 L944.8 1027.3 L938.7 1027.1 L932.4 1027.1 L927.8 1031.5 L927.1 1025.0 L923.4 1020.6 L917.2 1018.7 L911.6 1021.3 L908.3 1023.3 L902.3 1021.5 L897.2 1018.4 L894.4 1024.4 L892.8 1031.5 L891.7 1036.6 L886.2 1042.4 L887.1 1047.5 L886.3 1053.9 L883.8 1057.7 L881.8 1064.3 L874.4 1062.4 L870.9 1063.0 L865.4 1065.2 L858.7 1067.6 L853.4 1068.7 L849.3 1067.4 L842.5 1068.7 L835.9 1070.1 L831.4 1067.7 L827.4 1064.0 L822.8 1064.3 L818.4 1060.6 L811.9 1057.7 L806.9 1053.2 L805.3 1049.0 L802.7 1053.3 L797.1 1055.6 L792.2 1059.9 L789.7 1065.4 L786.4 1068.3 L783.4 1073.1 L785.9 1079.1 L785.0 1083.8 L787.8 1090.6 L784.4 1095.3 L781.2 1101.5 L786.6 1104.2 L791.2 1104.0 L796.5 1105.9 L790.3 1109.6 L785.5 1108.9 L780.6 1106.7 L774.4 1107.3 L770.3 1108.0 L766.4 1112.9 L761.7 1116.0 L757.7 1116.7 L751.7 1117.8 L744.8 1119.1 L741.8 1120.3 L737.5 1125.5 L734.6 1128.6 L728.8 1132.2 L725.0 1135.8 L719.9 1138.9 L714.7 1139.4 L711.2 1143.0 L713.1 1146.9 L719.9 1150.2 L724.3 1150.8 L727.5 1154.7 L730.9 1158.4 L731.1 1164.3 L733.5 1168.6 L735.7 1173.5 L737.1 1178.6 L739.7 1182.4 L739.8 1187.4 L742.4 1194.3 L745.2 1198.4 L745.7 1203.5 L744.1 1210.0" fill="none" stroke="#222222" stroke-width="7.5" stroke-linejoin="round" stroke-linecap="round"/>
<path d="M1655.3 710.0 L1658.3 705.4 L1659.9 699.9 L1660.3 695.5 L1662.9 689.3 L1665.8 683.2 L1666.3 678.9 L1668.4 673.7 L1667.8 668.7 L1671.6 663.2 L1674.2 658.0 L1672.8 652.6 L1673.3 648.6 L1677.2 643.0 L1677.4 636.7 L1679.1 633.6 L1680.3 627.6 L1681.0 621.9 L1681.5 618.3 L1683.7 612.4 L1686.4 608.4 L1692.6 605.1 L1695.8 600.7 L1699.1 596.8 L1705.6 595.8 L1713.0 592.3 L1718.7 590.6 L1723.6 589.8 L1729.1 590.1 L1736.2 591.0 L1740.0 593.0 L1745.0 597.1 L1751.5 597.1 L1757.1 595.0 L1762.5 594.9 L1767.9 594.7 L1774.9 592.3 L1779.1 588.4 L1776.9 584.2 L1774.8 577.7 L1775.1 572.3 L1777.2 567.7 L1778.0 561.9 L1776.8 557.3 L1774.7 552.1 L1776.1 545.3 L1776.8 541.6 L1778.9 536.7 L1779.7 529.9 L1778.8 522.6 L1780.8 518.4 L1774.4 516.0 L1769.0 515.3 L1767.1 509.7 L1766.6 503.8 L1764.9 498.1 L1765.0 494.1 L1766.4 486.2 L1766.8 481.2 L1763.8 476.2 L1762.6 470.7 L1763.4 463.5 L1764.7 457.4 L1765.5 454.2 L1764.0 447.4 L1762.5 441.8 L1757.3 436.6 L1756.1 430.6 L1756.8 425.0 L1753.7 419.9 L1751.4 416.1 L1750.3 410.1 L1750.4 402.2 L1749.3 398.1 L1751.3 393.0 L1751.6 386.5 L1753.0 380.7 L1751.5 376.2 L1749.6 371.5 L1748.2 365.9 L1746.4 359.5 L1745.6 355.5 L1742.8 350.0 L1741.3 344.9 L1744.1 338.7 L1744.0 331.9 L1740.9 327.2 L1740.6 321.5 L1742.8 316.5 L1744.8 311.6 L1746.3 308.0 L1747.2 301.8 L1748.2 296.9 L1751.3 290.2 L1753.9 285.2 L1758.1 280.0 L1760.6 275.5 L1761.4 270.4 L1764.9 264.1 L1767.9 260.7 L1772.1 257.6 L1777.8 255.9 L1774.1 251.1 L1772.8 247.5 L1773.4 241.7 L1773.4 236.2 L1775.2 232.3 L1775.4 225.0 L1777.2 220.7 L1777.8 216.2 L1775.5 211.6 L1775.6 205.6 L1773.3 201.3 L1770.9 193.7 L1768.5 189.2 L1767.7 183.7 L1763.7 178.7 L1763.1 172.9 L1763.2 168.3 L1760.3 161.9 L1760.6 156.9 L1760.0 148.8 L1762.5 142.2 L1763.2 137.5 L1768.1 130.4 L1771.2 126.9 L1767.0 122.3 L1765.4 115.7 L1766.2 110.2 L1767.7 102.8 L1771.2 98.3 L1771.6 90.2 L1770.6 85.0 L1772.1 78.7 L1774.1 73.5 L1780.0 70.9 L1781.7 76.0 L1787.7 79.9 L1793.3 80.1 L1799.4 82.6 L1801.5 84.6 L1806.3 88.4 L1810.4 91.7 L1815.0 95.4 L1820.6 95.3 L1827.6 92.3 L1832.4 91.9 L1839.0 89.7 L1841.8 85.3 L1845.1 78.2 L1849.1 73.5 L1854.3 76.5 L1859.4 79.1 L1866.2 80.1 L1871.8 77.9 L1876.4 82.4 L1878.4 89.7 L1886.8 91.1 L1891.5 94.1 L1897.2 90.2 L1902.8 90.4 L1906.8 91.6 L1913.4 89.7 L1919.7 93.7 L1924.3 98.4 L1926.6 101.6 L1931.7 106.9 L1933.2 111.3 L1933.7 115.4 L1937.4 120.3 L1939.3 126.5 L1944.0 131.2 L1949.9 132.8 L1954.9 130.4 L1961.2 129.9 L1965.9 131.2 L1966.2 135.6 L1967.4 140.1 L1968.0 145.8 L1970.3 150.9 L1976.8 157.5 L1983.3 157.3 L1988.3 155.0 L1993.4 150.4 L1997.2 148.2 L2003.1 146.5 L1999.3 140.6 L1994.2 136.1 L1992.1 131.2 L1996.5 128.0 L1998.7 121.6 L2005.0 122.9 L2009.7 123.7 L2016.2 126.9 L2020.6 124.8 L2027.1 124.7 L2028.9 120.6 L2031.5 114.6 L2041.1 113.7 L2043.0 118.9 L2044.1 125.9 L2042.4 129.8 L2041.3 136.1 L2040.9 142.2 L2041.9 147.2 L2045.5 153.1 L2050.3 149.5 L2055.5 149.4 L2060.2 148.3 L2064.5 144.9 L2068.2 141.4 L2073.8 137.2 L2076.3 134.8 L2080.2 132.3 L2086.2 129.9 L2094.0 130.1 L2100.1 128.7 L2105.9 126.9 L2111.3 125.8 L2116.1 121.8 L2116.9 117.8 L2121.2 113.7 L2125.1 108.2 L2128.4 107.1 L2133.4 103.3 L2138.7 98.4 L2143.0 96.2 L2148.9 99.0 L2153.4 98.5 L2160.5 100.6 L2166.2 98.8 L2171.6 96.9 L2175.6 93.2 L2182.4 89.7 L2188.9 92.0 L2191.6 94.8 L2197.3 97.3 L2202.9 98.9 L2208.1 99.5 L2215.2 98.4 L2216.7 104.3 L2220.9 108.5 L2227.1 111.5 L2232.7 110.9 L2239.3 114.6 L2242.3 119.7 L2245.8 122.5 L2247.6 115.1 L2252.4 109.4 L2259.0 105.0 L2262.8 99.9 L2263.1 95.5 L2267.7 89.7 L2273.5 89.0 L2278.9 90.1 L2283.0 92.8 L2287.4 94.1 L2294.0 101.5 L2297.0 97.3 L2298.8 93.0 L2302.7 87.5 L2307.9 85.7 L2312.8 83.2 L2317.1 78.7 L2314.9 75.1 L2310.9 70.0 L2309.3 65.6 L2312.4 58.5 L2313.7 54.9 L2317.7 50.6 L2322.4 44.6 L2326.6 43.8 L2331.3 46.5 L2335.9 48.0 L2343.0 48.9 L2346.5 51.6 L2349.2 56.6 L2351.2 60.1 L2355.8 65.5 L2359.0 67.4 L2364.0 69.6 L2368.3 73.5 L2374.1 74.7 L2378.0 76.6 L2383.1 81.7 L2385.8 85.3 L2381.8 88.7 L2378.5 94.8 L2375.9 99.6 L2370.5 104.1 L2370.9 108.7 L2372.2 113.4 L2375.1 118.7 L2379.3 122.5 L2382.4 128.7 L2383.6 133.0 L2382.9 138.2 L2382.5 144.6 L2381.5 148.7 L2383.4 154.7 L2390.2 159.7 L2396.2 158.8 L2401.5 161.6 L2404.8 162.4 L2411.5 160.6 L2415.6 160.4 L2422.1 160.5 L2426.5 159.7 L2430.4 159.7 L2436.1 162.7 L2438.5 167.3 L2440.5 172.8 L2439.7 179.4 L2441.4 186.0 L2443.3 189.9 L2442.7 196.9 L2441.9 201.2 L2442.1 207.1 L2440.3 211.6 L2440.8 218.6 L2441.6 223.3 L2438.8 230.0 L2439.1 234.6 M2439.1 234.6 L2444.5 232.1 L2451.8 232.5 L2457.4 231.4 L2462.4 227.5 L2467.5 224.4 L2472.3 223.3 L2475.5 218.7 L2478.2 224.5 L2483.5 228.8 L2488.6 231.8 L2494.9 235.1 L2501.1 234.5 L2507.4 233.5 L2511.5 236.2 M2439.1 234.6 L2443.9 232.4 L2449.4 228.6 L2456.9 227.5 L2462.6 224.5 L2467.6 225.2 L2472.6 223.6 L2476.6 218.7 L2478.6 222.8 L2482.0 228.0 L2485.3 231.8 L2492.3 230.3 L2495.1 230.4 L2501.9 234.1 L2507.0 237.3 L2511.5 236.2 L2510.1 229.5 L2511.6 226.7 L2513.7 220.9 L2518.7 218.3 L2522.5 212.2 L2527.8 207.8 L2531.6 207.4 L2537.5 207.3 L2542.2 205.6 L2546.0 201.2 L2549.2 198.0 L2551.6 191.7 L2553.1 185.9 L2558.0 183.8 L2564.6 183.6 L2569.5 182.5 L2574.9 180.2 L2579.4 179.4 L2580.5 173.0 L2579.4 167.6 L2575.0 164.0 L2580.7 165.6 L2585.2 165.2 L2590.3 168.4 L2592.6 162.7 L2594.7 157.5 L2602.0 156.7 L2606.9 153.3 L2610.6 150.5 L2617.7 149.3 L2623.1 148.7 L2627.8 147.7 L2633.6 146.5 L2638.8 146.2 L2644.8 146.3 L2651.5 144.4 L2657.2 139.1 L2662.3 141.4 L2666.4 141.8 L2673.0 141.8 L2677.8 144.4 L2682.6 147.4 L2689.5 150.2 L2695.3 154.0 L2698.5 159.9 L2702.4 161.8 L2706.2 165.4 L2711.5 170.7 L2717.1 170.6 L2720.4 175.3 L2722.3 181.8 L2723.7 188.1 L2729.3 192.5 L2731.4 197.5 L2730.3 203.4 L2729.3 211.1 L2723.7 216.5 L2727.0 221.3 L2725.6 227.8 L2723.6 232.6 L2724.8 238.4 L2725.9 245.0 L2724.8 250.8 L2725.9 254.7 L2729.1 260.1 L2729.1 264.7 L2728.1 270.6 L2730.3 275.6 L2725.9 284.3 L2729.6 289.1 L2731.6 297.5 L2736.3 304.8 L2741.2 308.4 L2747.6 305.9 L2752.1 304.0 L2753.5 309.9 L2758.7 317.1 L2763.2 317.6 L2770.2 319.6 L2776.2 320.2 L2783.8 323.8 L2789.3 325.9 L2794.4 321.9 L2798.1 319.3 L2803.3 323.9 L2805.8 327.2 L2806.8 333.3 L2804.7 339.1 L2800.3 342.1 L2803.2 348.2 L2807.7 350.6 L2810.8 353.2 L2813.4 359.6 L2819.2 360.6 L2826.5 363.1 L2827.6 370.1 L2828.7 377.1 L2833.3 379.7 L2838.5 382.8 L2844.5 382.5 L2851.9 381.4 L2857.1 384.1 L2862.5 386.4 L2868.5 384.9 L2872.5 382.4 L2877.5 381.7 L2882.2 382.5 L2887.8 385.8 L2890.8 393.7 L2891.8 386.7 L2890.1 379.2 L2892.1 374.0 L2896.8 368.9 L2903.1 366.6 L2909.6 370.2 L2912.8 372.5 L2920.8 374.9 L2924.9 377.1 L2925.5 382.6 L2929.3 389.3 L2932.8 395.0 L2933.1 399.6 L2935.9 405.5 L2939.8 409.3 L2943.3 412.6 L2947.0 415.7 L2950.3 420.2 L2951.2 426.5 L2956.1 430.9 L2958.3 435.2 L2961.0 438.5 L2965.7 441.8 L2969.7 446.2 L2973.1 450.6 L2978.7 448.6 L2985.0 446.7 L2987.8 445.1 L2992.9 440.9 L2997.1 437.4 L3002.2 441.3 L3006.2 443.1 L3010.7 445.7 L3014.1 449.3 L3017.1 454.9 L3020.0 459.3 L3024.0 462.0 L3027.7 467.2 L3034.3 468.0 L3042.2 467.2 L3047.2 469.9 L3052.8 471.2 L3056.8 470.9 L3061.8 473.0 L3067.1 477.7 L3070.7 482.0 L3074.1 484.4 L3077.2 489.8 L3077.2 495.2 L3072.1 497.5 L3067.1 498.8 L3061.2 498.2 L3056.1 498.9 L3052.1 500.3 L3045.3 499.9 L3041.8 499.1 L3035.2 499.6 L3032.2 504.1 L3031.1 510.1 L3031.6 515.2 L3030.4 521.0 L3026.4 524.9 L3023.1 529.1 L3018.1 531.8 L3013.6 534.8 L3007.2 537.2 L3013.7 536.1 L3017.3 536.9 L3024.0 539.8 L3028.2 538.9 L3024.9 544.0 L3023.7 549.7 L3024.0 555.6 L3026.4 559.9 L3021.0 561.8 L3015.8 562.7 L3010.3 564.3 L3007.5 564.3 L2999.7 563.3 L2995.8 564.3 L2996.6 570.3 L2997.5 573.8 L2996.6 579.2 L2994.6 584.7 L2995.0 590.6 M1655.3 710.0 L1653.4 714.1 L1651.2 718.4 L1648.9 723.2 L1644.1 727.5 L1642.2 733.0 L1640.4 739.1 L1640.3 746.4 L1637.5 751.5 L1633.1 754.4 L1630.0 760.3 L1627.9 766.8 M1627.9 766.8 L1624.0 773.1 L1623.4 780.0 L1620.0 784.3 L1617.7 789.5 L1616.0 794.1 L1616.4 801.0 M1627.9 766.8 L1633.4 770.9 L1637.3 772.0 L1642.1 777.5 L1644.1 782.2 L1648.1 783.8 L1653.6 788.6 L1656.5 793.1 L1661.1 796.2 L1665.9 797.5 L1671.1 799.7 L1677.1 800.1 L1681.9 800.4 L1687.8 801.8 L1693.6 799.5 L1700.9 797.5 L1706.2 797.8 L1712.0 800.7 L1717.3 803.1 L1725.0 804.0 L1730.5 807.9 L1735.5 809.4 L1742.5 810.6 L1748.3 807.2 L1753.3 806.4 L1758.6 807.8 L1764.3 808.4 L1769.0 813.6 L1773.1 817.1 L1778.8 816.7 L1785.3 820.3 L1789.9 821.9 L1795.0 822.8 L1799.4 821.1 L1806.9 819.7 L1812.5 817.1 L1814.9 812.3 L1812.5 806.2 L1807.5 803.3 L1801.5 801.8 L1803.6 797.2 L1808.1 790.9 L1813.0 793.8 L1817.9 794.7 L1823.4 797.5 L1829.6 801.4 L1834.3 801.8 L1838.7 806.7 L1841.5 810.6 L1845.6 813.8 L1850.1 816.6 L1851.8 821.5 L1856.9 821.9 L1862.4 825.0 L1866.4 825.8 L1871.5 828.1 L1878.0 832.6 L1882.3 834.2 L1889.0 836.8 L1890.9 831.3 L1893.4 823.7 L1897.6 826.9 L1902.7 829.4 L1907.9 830.5 L1913.1 830.3 L1917.8 834.4 L1923.7 837.3 L1926.2 841.2 L1932.4 842.5 L1935.6 842.7 L1941.0 845.2 L1946.9 847.8 L1950.3 850.0 L1955.8 846.9 L1961.9 847.0 L1969.9 850.0 L1974.2 852.1 L1980.0 853.1 L1987.4 852.1 L1992.8 851.1 L1998.0 853.5 L2002.7 857.9 L2006.0 861.0 L2011.5 860.9 L2017.9 859.9 L2022.6 859.2 L2030.6 859.4 L2035.6 858.7 L2041.0 853.8 L2046.5 850.0 L2050.1 848.0 L2053.0 842.9 L2057.4 839.0 L2062.0 841.9 L2067.8 843.5 L2074.9 843.4 L2079.7 843.6 L2087.1 844.1 L2092.4 847.8 L2095.1 841.7 L2099.3 838.1 L2103.4 832.5 L2103.2 824.5 L2102.0 819.2 L2103.4 812.8 L2107.7 808.4 L2112.3 809.4 L2117.5 812.5 L2123.1 817.1 L2128.3 819.1 L2132.6 822.9 L2136.2 828.1 L2139.7 831.9 L2142.6 836.4 L2144.7 839.3 L2149.3 843.4 L2153.1 839.7 L2160.2 836.8 L2166.7 834.9 L2173.4 832.5 L2175.5 823.7 L2179.2 825.3 L2186.0 828.0 L2188.7 832.5 L2193.0 836.0 L2198.3 837.7 M2995.0 590.6 L3000.3 598.4 L3004.4 597.1 L3010.5 598.0 L3014.5 601.2 L3020.9 600.6 L3018.1 606.0 L3018.8 611.0 L3022.2 615.9 L3020.9 621.2 L3018.7 626.4 L3018.4 630.1 L3017.3 634.3 L3013.1 640.4 L3012.1 644.4 L3015.1 650.0 L3018.0 654.6 L3018.0 658.9 L3017.2 665.1 L3018.6 671.0 L3023.1 675.0 L3025.6 681.9 L3026.6 688.1 L3020.5 688.4 L3016.6 690.9 L3012.2 694.8 L3008.2 696.5 L3002.1 696.9 L3005.1 702.8 L3004.4 709.6 L3000.3 714.3 L2998.2 719.9 L3000.9 725.5 L3003.7 730.3 L3002.9 735.0 L3003.4 739.7 L2994.6 738.4 L2991.4 733.3 L2989.0 729.3 L2986.6 724.9 L2984.6 720.9 L2979.7 725.3 L2976.5 728.5 L2971.9 731.4 L2966.2 731.8 L2964.2 738.5 L2964.0 745.0 L2962.6 751.7 L2964.7 757.8 L2967.1 761.8 L2966.7 767.4 L2968.4 773.4 L2974.9 780.0 L2976.2 786.2 L2974.9 792.9 L2972.7 797.5 L2967.9 800.0 L2959.6 801.8 L2958.4 807.6 L2954.4 811.4 L2948.9 816.0 L2944.2 820.8 L2942.1 825.9 L2936.6 830.5 L2932.2 832.8 L2925.4 837.3 L2923.3 842.1 L2919.7 845.7 L2915.9 850.0 L2920.3 855.0 L2924.6 860.9 L2920.1 857.7 L2915.7 857.6 L2909.3 859.6 L2904.2 861.9 L2902.1 865.9 L2895.9 869.6 L2889.9 870.7 L2887.4 874.0 L2883.2 875.0 L2877.4 877.5 L2872.1 877.1 L2866.6 881.8 L2863.7 886.5 L2863.6 891.2 L2861.2 898.1 L2856.6 900.2 L2851.1 906.6 L2845.9 910.0 L2841.5 913.4 L2843.9 920.8 L2849.0 924.3 L2851.4 929.3 L2850.1 934.9 L2850.3 939.6 L2855.2 937.0 L2863.4 935.3 L2859.8 940.0 L2856.8 946.2 L2851.3 945.5 L2846.1 948.5 L2841.5 952.8 L2835.0 955.4 L2828.6 955.9 L2824.0 957.1 L2820.3 959.7 L2814.5 963.0 L2810.4 967.9 L2806.7 971.5 L2800.0 972.4 L2794.2 970.6 L2787.4 972.3 L2782.5 974.6 L2777.0 976.4 L2769.4 978.3 L2763.6 980.4 L2758.4 979.0 L2760.2 986.1 L2758.6 992.3 L2755.2 995.6 L2751.8 1000.9 L2746.4 1000.6 L2740.0 1000.4 L2734.3 1003.1 L2728.2 1002.4 L2723.2 999.6 L2721.2 994.3 L2718.5 988.7 L2714.8 984.3 L2710.3 981.2 L2707.7 986.3 L2703.4 991.5 L2698.0 997.2 L2692.8 998.7 L2697.5 1001.4 L2702.4 1006.7 L2704.6 1012.3 L2708.1 1016.2 L2708.0 1020.7 L2709.7 1026.3 L2711.8 1030.9 L2714.8 1038.2 L2714.7 1042.4 L2708.8 1045.1 L2704.0 1049.5 L2699.3 1052.1 L2693.9 1049.8 L2688.5 1050.2 L2681.8 1046.4 L2680.1 1042.2 L2673.1 1040.2 L2670.4 1036.8 L2666.8 1031.2 L2662.6 1027.8 L2660.0 1024.9 L2655.6 1020.8 L2651.5 1019.1 L2644.9 1019.5 L2638.7 1020.4 L2633.6 1020.4 L2629.4 1020.6 L2626.5 1016.6 L2622.8 1010.1 L2618.4 1008.3 L2613.3 1008.3 L2606.3 1007.6 L2600.9 1008.3 M2600.9 1008.3 L2601.9 1014.2 L2602.3 1020.1 L2602.1 1025.4 L2601.8 1030.4 L2600.9 1035.9 L2598.9 1042.0 L2595.1 1046.5 L2590.8 1050.2 L2589.0 1054.7 L2587.5 1058.5 L2582.7 1063.9 L2581.2 1068.7 L2578.2 1075.0 L2576.9 1081.8 L2581.1 1086.0 L2587.2 1089.6 L2592.2 1091.4 L2591.6 1097.9 L2592.7 1104.4 L2593.1 1108.6 L2591.8 1115.7 L2590.0 1121.2 L2589.3 1126.1 L2586.1 1131.8 L2582.0 1136.7 L2579.2 1140.4 L2577.5 1145.8 L2577.4 1151.1 L2574.9 1157.5 L2570.3 1160.5 M1812.5 1609.3 L1819.5 1610.3 L1825.1 1609.5 L1829.4 1609.9 L1836.5 1611.5 L1840.4 1608.4 L1843.0 1605.3 L1847.0 1601.5 L1849.7 1596.2 L1855.0 1597.0 L1860.7 1597.2 L1864.9 1597.7 L1871.5 1596.2 L1876.8 1596.4 L1881.2 1591.7 L1883.2 1586.0 L1886.8 1583.1 L1892.6 1586.9 L1897.4 1586.3 L1903.9 1584.5 L1906.8 1584.9 L1913.1 1587.4 L1917.1 1589.3 L1921.2 1592.7 L1926.0 1597.4 L1930.3 1599.4 L1935.0 1600.6 L1939.7 1600.6 L1947.6 1597.0 L1952.8 1595.2 L1959.0 1596.2 L1963.4 1587.4 L1967.0 1591.1 L1973.6 1593.9 L1979.4 1594.4 L1986.8 1595.7 L1991.8 1596.2 L1999.3 1596.7 L2004.3 1594.4 L2010.5 1593.1 L2015.9 1591.8 L2019.5 1587.9 L2024.5 1585.6 L2029.2 1582.9 L2031.2 1578.7 L2034.8 1575.3 L2037.7 1570.9 L2039.9 1565.6 L2046.8 1565.4 L2053.1 1561.2 L2050.1 1556.1 L2049.5 1550.6 L2050.7 1543.0 L2050.1 1537.5 L2048.7 1532.8 L2054.7 1532.9 L2060.7 1527.5 L2064.8 1522.5 L2070.6 1521.8 L2075.8 1522.2 L2081.9 1519.4 L2088.0 1516.8 L2092.4 1515.3 L2099.5 1516.4 L2105.2 1517.5 L2109.9 1515.3 L2106.1 1519.8 L2104.5 1523.5 L2101.0 1526.6 L2096.8 1530.6 L2099.8 1537.1 L2099.0 1541.5 L2103.8 1539.1 L2110.4 1535.4 L2114.3 1530.6 L2120.2 1528.6 L2124.2 1525.7 L2128.8 1523.4 L2136.2 1524.0 L2141.0 1523.6 L2145.5 1526.3 L2151.5 1528.4 L2154.3 1522.7 L2155.8 1519.6 L2158.6 1513.5 L2160.2 1508.7 L2166.6 1508.3 L2173.1 1507.1 L2178.4 1505.4 L2184.1 1505.0 L2188.7 1504.3 L2192.0 1509.2 L2197.4 1510.9 L2203.5 1509.2 L2208.4 1508.9 L2214.3 1507.1 L2219.6 1505.4 L2223.7 1502.1 L2228.9 1502.2 L2234.3 1502.5 L2241.1 1500.0 L2245.3 1499.0 L2252.6 1501.1 L2258.9 1501.4 L2263.0 1497.8 L2269.7 1500.2 L2274.6 1502.6 L2278.8 1505.1 L2284.9 1508.7 L2289.0 1503.5 L2294.6 1502.3 L2300.4 1502.1 L2304.6 1497.8 L2310.0 1499.5 L2316.6 1501.7 L2322.3 1500.8 L2327.7 1500.8 L2333.0 1504.3 L2328.6 1507.2 L2325.0 1509.4 L2321.8 1514.0 L2318.6 1520.3 L2315.1 1524.9 L2311.6 1528.0 L2308.9 1530.7 L2304.6 1535.0 L2310.8 1539.7 L2316.8 1541.0 L2321.4 1539.3 L2328.7 1541.5 L2331.8 1546.2 L2337.4 1550.3 L2343.3 1550.2 L2348.9 1546.1 L2351.8 1542.7 L2354.8 1540.2 L2359.3 1535.0 L2360.6 1529.9 L2360.6 1523.0 L2363.6 1517.5 L2370.6 1516.7 L2375.3 1518.0 L2379.9 1518.2 L2387.1 1519.2 L2390.3 1522.4 L2396.3 1524.0 L2403.0 1521.8 L2404.2 1517.0 L2404.4 1510.1 L2403.2 1505.6 L2401.8 1501.4 L2400.8 1495.6 L2400.7 1490.2 L2405.8 1484.8 L2408.5 1482.2 L2409.1 1475.9 L2412.1 1469.9 L2415.9 1466.0 L2418.2 1461.9 L2420.5 1456.2 L2425.6 1453.6 L2428.7 1449.3 L2433.1 1445.1 L2437.8 1443.5 L2444.2 1440.9 L2446.8 1436.5 L2451.3 1438.9 L2456.3 1444.1 L2458.7 1449.7 M1812.5 1609.3 L1818.5 1611.6 L1825.6 1613.7 L1824.0 1618.7 L1823.4 1626.8 L1828.4 1630.8 L1830.2 1636.1 L1834.3 1639.9 L1838.9 1643.2 L1843.0 1648.2 L1846.8 1650.4 L1851.8 1653.1 L1856.5 1658.4 L1860.3 1664.1 L1865.0 1666.2 L1861.8 1671.8 L1861.5 1676.3 L1859.4 1682.9 L1859.0 1686.2 L1856.2 1692.4 L1857.0 1700.9 L1859.5 1704.8 L1865.0 1709.9 L1869.2 1714.2 L1871.8 1717.2 L1874.9 1723.1 L1877.3 1728.1 L1879.8 1730.2 L1882.5 1736.2 L1887.1 1738.7 L1893.0 1741.5 L1896.4 1743.1 L1899.8 1748.4 L1901.7 1753.9 L1906.8 1757.7 L1913.1 1758.0 L1916.3 1761.3 L1921.8 1764.5 L1926.4 1769.7 L1928.7 1772.9 L1935.0 1775.5 L1933.7 1779.9 L1929.8 1784.7 L1926.4 1790.5 L1926.2 1797.4 L1923.3 1803.8 L1922.9 1806.9 L1922.4 1812.7 L1919.6 1819.3 L1920.7 1824.8 L1925.0 1828.9 L1929.4 1835.7 L1930.6 1841.2 L1931.2 1847.1 L1933.3 1854.3 L1937.2 1860.0 M2570.3 1160.5 L2565.9 1167.5 L2568.5 1174.4 L2567.9 1180.0 L2567.5 1185.1 L2567.2 1191.6 L2562.9 1196.7 L2557.5 1201.1 L2553.7 1205.5 L2550.6 1209.1 L2548.1 1215.5 L2544.1 1217.8 L2548.0 1219.8 L2555.0 1220.0 L2554.1 1228.7 L2561.5 1234.0 L2555.6 1236.6 L2552.2 1242.0 L2549.8 1245.5 L2542.9 1249.9 L2539.7 1252.8 L2530.9 1252.8 L2533.7 1259.1 L2535.9 1261.4 L2537.5 1268.1 L2535.3 1274.7 L2530.0 1278.8 L2524.6 1282.3 L2517.8 1283.4 L2515.4 1288.8 L2512.3 1293.2 L2509.1 1298.7 L2507.5 1303.4 L2505.7 1309.2 L2503.1 1312.8 L2498.1 1316.2 L2493.6 1318.5 L2489.9 1322.5 L2487.2 1329.4 L2493.7 1333.7 L2492.5 1341.2 L2489.1 1345.5 L2487.2 1351.2 L2483.8 1355.5 L2480.2 1361.4 L2478.4 1366.5 L2478.0 1372.4 L2481.1 1376.7 L2482.7 1381.3 L2482.8 1386.2 L2482.6 1391.9 L2480.6 1397.2 L2476.2 1400.9 L2473.4 1404.7 L2471.1 1410.3 L2467.5 1412.5 L2469.8 1419.3 L2476.2 1423.4 L2477.1 1428.9 L2474.7 1436.0 L2471.9 1440.9 L2467.0 1442.9 L2462.7 1447.5 L2458.7 1449.7 M1614.0 2261.0 L1618.7 2256.0 L1620.6 2247.9 L1629.3 2243.5 L1631.3 2247.0 L1632.9 2252.4 L1638.1 2256.6 L1642.5 2254.3 L1648.3 2253.1 L1655.0 2253.9 L1659.9 2252.3 L1661.9 2247.4 L1663.6 2241.0 L1666.5 2236.0 L1668.9 2233.5 L1673.1 2228.2 L1678.0 2226.5 L1682.7 2225.6 L1688.0 2224.3 L1693.8 2223.0 L1699.3 2223.8 L1704.2 2223.1 L1709.9 2222.4 L1716.9 2221.4 L1722.4 2220.9 L1727.7 2221.6 L1732.6 2218.5 L1736.3 2217.0 L1742.5 2212.3 L1746.8 2210.0 L1751.8 2209.8 L1756.2 2206.3 L1752.8 2210.7 L1750.9 2216.2 L1752.2 2222.5 L1752.8 2226.8 L1749.0 2232.3 L1746.3 2237.0 L1747.4 2241.3 L1742.8 2246.5 L1739.8 2249.5 L1736.5 2254.4 L1740.2 2257.4 L1748.2 2260.4 L1751.5 2262.3 L1756.2 2267.6 L1761.1 2266.2 L1767.3 2262.1 L1770.2 2259.9 L1777.5 2258.0 L1782.4 2258.8 L1790.0 2258.1 L1794.4 2257.2 L1799.9 2252.3 L1803.6 2257.8 L1808.7 2261.0 L1812.0 2255.9 L1814.8 2249.7 L1817.4 2245.7 L1822.3 2243.4 L1829.8 2241.7 L1835.0 2241.1 L1841.5 2241.3 L1845.0 2247.9 L1848.6 2252.7 L1852.4 2256.6 L1856.2 2260.3 L1861.6 2262.7 L1868.4 2264.0 L1871.4 2267.5 L1873.8 2272.3 L1879.7 2275.1 L1883.0 2278.5 L1890.3 2279.4 L1894.9 2279.3 L1902.7 2278.5 L1907.2 2274.5 L1912.0 2268.5 L1913.6 2263.2 L1919.2 2266.1 L1924.4 2265.7 L1929.6 2264.7 L1934.0 2266.1 L1939.6 2267.9 L1944.3 2267.6 L1947.4 2264.0 L1950.9 2257.8 L1953.0 2255.2 L1959.6 2252.3 L1964.7 2250.8 L1969.1 2248.7 L1974.9 2245.7 L1978.0 2240.4 L1981.5 2232.6 L1986.9 2228.5 L1991.5 2226.0 L1995.2 2225.1 L1999.9 2225.2 L2007.0 2225.7 L2012.1 2226.0 L2013.2 2219.7 L2015.9 2216.4 L2022.1 2212.4 L2026.0 2208.9 L2029.6 2204.1 L2023.9 2202.2 L2020.4 2200.9 L2014.8 2197.2 L2011.7 2193.4 L2007.2 2188.7 L2002.3 2184.8 L1997.1 2182.4 L1992.6 2180.2 L1989.5 2178.5 L1983.6 2175.7 L1982.8 2182.2 L1980.1 2187.2 L1976.6 2191.5 L1970.5 2195.4 L1961.8 2191.0 L1966.5 2186.9 L1969.0 2180.2 L1967.5 2175.1 L1965.6 2169.2 L1968.3 2162.6 L1968.5 2158.0 L1971.4 2150.5 L1974.9 2147.3 L1979.5 2144.8 L1984.0 2137.7 L1983.6 2132.0 L1981.4 2126.6 L1978.5 2120.6 L1974.9 2114.5 L1976.7 2110.6 L1977.1 2103.6 L1973.8 2099.5 L1973.0 2093.7 L1977.1 2088.2 L1971.3 2083.1 L1968.7 2080.9 L1964.0 2075.1 L1967.8 2070.6 L1970.5 2062.0 L1977.3 2062.2 L1980.7 2060.9 L1986.7 2056.5 L1992.4 2055.4 L1990.6 2050.8 L1988.8 2044.2 L1988.6 2038.4 L1990.2 2031.3 L1984.2 2028.3 L1981.9 2024.7 L1979.3 2020.4 L1979.1 2013.3 L1980.2 2009.2 L1983.2 2001.2 L1985.8 1996.3 L1986.3 1989.6 L1985.0 1985.5 L1983.1 1979.0 L1983.6 1974.5 L1980.5 1969.0 L1977.2 1966.2 L1973.8 1961.8 L1968.3 1957.0 L1962.1 1955.0 L1959.6 1950.4 L1962.6 1944.4 L1967.6 1942.0 L1970.9 1938.0 L1972.7 1930.7 L1968.8 1926.5 L1965.8 1921.9 L1961.4 1917.7 L1957.8 1914.9 L1954.4 1909.6 L1953.0 1904.5 L1952.8 1899.9 L1954.8 1893.7 L1955.6 1890.0 L1959.6 1884.8 L1957.9 1879.6 L1953.3 1874.8 L1949.3 1870.8 L1944.7 1867.3 L1941.0 1865.5 L1937.2 1860.0" fill="none" stroke="#222222" stroke-width="7.8" stroke-linejoin="round" stroke-linecap="round"/>
<polygon points="1480.6,2215.1 1484.9,2217.0 1487.7,2223.7 1487.5,2227.9 1491.5,2232.6 1494.4,2237.9 1498.0,2243.3 1503.0,2249.3 1506.8,2252.3 1510.8,2257.9 1512.8,2262.1 1513.5,2267.5 1515.1,2272.6 1517.9,2279.0 1522.1,2282.9 1514.1,2279.3 1509.0,2276.3 1504.5,2271.4 1501.6,2268.3 1497.9,2260.9 1495.9,2256.6 1497.0,2250.9 1496.9,2245.8 1494.8,2239.4 1494.5,2234.1 1497.4,2228.1" fill="#222222"/>
<ellipse cx="668.4" cy="1103.7" rx="5" ry="4" fill="#222222"/>
<ellipse cx="821.5" cy="1484.6" rx="5" ry="4" fill="#222222"/>
</g>
<g font-family="Liberation Sans, Arial, sans-serif" font-size="46" text-anchor="middle" fill="#303030" stroke="#fafafa" stroke-width="10" stroke-linejoin="round" paint-order="stroke fill">
<text x="1930.0" y="193.5">90</text>
<text x="1856.5" y="342.5">113</text>
<text x="2099.3" y="291.2">113</text>
<text x="2314.5" y="219.9">89</text>
<text x="2204.3" y="469.3">124</text>
<text x="1917.8" y="530.5">136</text>
<text x="2107.8" y="677.2">88</text>
<text x="1788.4" y="719.9">136</text>
<text x="1788.4" y="910.2">156</text>
<text x="1628.7" y="1128.9">144</text>
<text x="2416.1" y="1104.9">145</text>
<text x="2587.8" y="634.6">137</text>
<text x="2924.6" y="689.3">148</text>
<text x="2631.5" y="787.7">87</text>
<text x="2625.0" y="929.9">147</text>
<text x="820.6" y="1148.6">142</text>
<text x="1039.3" y="1080.8">110</text>
<text x="1374.0" y="1034.9">146</text>
<text x="1353.0" y="1186.0">142</text>
<text x="1150.0" y="1220.5">124</text>
<text x="1349.9" y="1350.2">218</text>
<text x="1548.9" y="1376.5">118</text>
<text x="1107.1" y="1437.7">171</text>
<text x="1476.8" y="1488.0">150</text>
<text x="1551.1" y="1586.5">159</text>
<text x="903.7" y="1568.9">167</text>
<text x="1122.4" y="1665.2">184</text>
<text x="1568.6" y="1717.7">173</text>
<text x="1076.5" y="1761.5">188</text>
<text x="1349.9" y="1776.7">169</text>
<text x="805.3" y="1831.5">296</text>
<text x="1145.4" y="1857.0">172</text>
<text x="1786.2" y="1367.7">158</text>
<text x="2348.3" y="1350.2">160</text>
<text x="1956.8" y="1516.5">204</text>
<text x="1740.3" y="1638.9">173</text>
<text x="1718.4" y="1743.9">185</text>
<text x="1769.3" y="1881.6">157</text>
<text x="1292.5" y="1945.0">161</text>
<text x="1460.9" y="1918.8">166</text>
<text x="1207.2" y="2017.2">193</text>
<text x="1380.0" y="2100.3">201</text>
<text x="1618.4" y="2128.8">166</text>
<text x="1861.2" y="2144.1">165</text>
</g>
<path d="M2990.0 1860.2 L3004.7 1880.0 L3016.6 1887.9 L3030.5 1893.9 L3038.4 1907.8 L3036.4 1921.7 L3046.4 1931.6 L3034.5 1943.5 L3026.5 1959.4 L3030.5 1975.2 L3020.6 1995.1 L3028.5 2007.0 L3044.4 2010.9 L3048.3 2038.7 L3068.2 2050.6 L3082.1 2062.5 L3099.9 2064.5 L3111.8 2078.4 L3131.7 2088.3 L3163.4 2096.2 L3181.3 2114.1 L3193.2 2122.0 L3187.2 2141.9 L3181.3 2159.7 L3195.1 2181.5 L3217.0 2193.4 L3218.9 2199.4 L3234.8 2197.4 L3228.9 2209.3 L3218.9 2229.2 L3211.0 2247.0 L3213.0 2253.0 L3228.9 2251.0 L3238.8 2264.9 L3254.7 2262.9 L3274.5 2256.9 L3298.3 2260.9 L3304.3 2245.0 L3326.1 2233.1 L3341.9 2245.0 L3355.8 2256.9 L3371.7 2276.8 L3373.7 2286.7 L3387.6 2278.7 L3391.5 2268.8 L3409.4 2256.9 L3417.3 2245.0 L3435.2 2229.2 L3437.2 2217.2 L3449.1 2209.3 L3459.0 2213.3 L3464.9 2243.0 L3488.7 2229.2" fill="none" stroke="#fff" stroke-width="4.5" stroke-linejoin="round"/>
<rect x="0" y="0" width="1683" height="322.9" fill="#005ea8"/>
<g fill="#fff"><circle cx="233.0" cy="188.7" r="3.7"/><circle cx="226.2" cy="104.2" r="3.7"/><circle cx="255.8" cy="180.9" r="3.7"/><circle cx="262.3" cy="120.4" r="3.7"/><circle cx="217.7" cy="193.4" r="3.7"/><circle cx="271.6" cy="160.5" r="3.7"/><circle cx="242.8" cy="102.6" r="3.7"/><circle cx="244.5" cy="193.4" r="3.7"/><circle cx="273.8" cy="133.3" r="3.7"/><circle cx="215.3" cy="98.0" r="3.7"/><circle cx="268.1" cy="177.9" r="3.7"/><circle cx="260.1" cy="107.9" r="3.7"/><circle cx="227.9" cy="201.1" r="3.7"/><circle cx="280.1" cy="150.8" r="3.7"/><circle cx="233.6" cy="93.4" r="3.7"/><circle cx="257.5" cy="193.8" r="3.7"/><circle cx="275.2" cy="120.1" r="3.7"/><circle cx="208.4" cy="202.2" r="3.7"/><circle cx="202.1" cy="95.7" r="3.7"/><circle cx="279.3" cy="170.6" r="3.7"/><circle cx="253.6" cy="96.0" r="3.7"/><circle cx="240.8" cy="205.4" r="3.7"/><circle cx="285.4" cy="138.1" r="3.7"/><circle cx="188.6" cy="195.8" r="3.7"/><circle cx="221.3" cy="87.1" r="3.7"/><circle cx="270.9" cy="190.0" r="3.7"/><circle cx="272.4" cy="106.3" r="3.7"/><circle cx="219.9" cy="210.5" r="3.7"/><circle cx="188.0" cy="97.5" r="3.7"/><circle cx="288.6" cy="159.7" r="3.7"/><circle cx="243.3" cy="85.9" r="3.7"/><circle cx="255.3" cy="205.9" r="3.7"/><circle cx="287.0" cy="123.5" r="3.7"/><circle cx="197.4" cy="207.6" r="3.7"/><circle cx="206.7" cy="84.4" r="3.7"/><circle cx="283.6" cy="182.1" r="3.7"/><circle cx="265.5" cy="93.0" r="3.7"/><circle cx="234.1" cy="215.6" r="3.7"/><circle cx="294.8" cy="145.8" r="3.7"/><circle cx="176.4" cy="196.4" r="3.7"/><circle cx="229.9" cy="78.5" r="3.7"/><circle cx="270.3" cy="202.2" r="3.7"/><circle cx="284.5" cy="108.1" r="3.7"/><circle cx="209.7" cy="217.3" r="3.7"/><circle cx="191.0" cy="85.6" r="3.7"/><circle cx="294.3" cy="170.5" r="3.7"/><circle cx="254.7" cy="81.3" r="3.7"/><circle cx="250.0" cy="216.9" r="3.7"/><circle cx="297.5" cy="129.9" r="3.7"/><circle cx="185.3" cy="209.9" r="3.7"/><circle cx="214.1" cy="74.5" r="3.7"/><circle cx="284.7" cy="194.4" r="3.7"/><circle cx="277.8" cy="93.1" r="3.7"/><circle cx="224.9" cy="223.9" r="3.7"/><circle cx="175.3" cy="91.1" r="3.7"/><circle cx="302.2" cy="155.8" r="3.7"/><circle cx="164.3" cy="193.9" r="3.7"/><circle cx="240.6" cy="72.1" r="3.7"/><circle cx="266.7" cy="214.1" r="3.7"/><circle cx="296.0" cy="112.9" r="3.7"/><circle cx="198.0" cy="221.5" r="3.7"/><circle cx="196.9" cy="74.6" r="3.7"/><circle cx="297.3" cy="182.7" r="3.7"/><circle cx="267.1" cy="79.4" r="3.7"/><circle cx="242.1" cy="226.7" r="3.7"/><circle cx="160.7" cy="100.7" r="3.7"/><circle cx="306.4" cy="138.8" r="3.7"/><circle cx="172.7" cy="209.4" r="3.7"/><circle cx="223.8" cy="66.4" r="3.7"/><circle cx="282.9" cy="206.9" r="3.7"/><circle cx="290.2" cy="96.0" r="3.7"/><circle cx="213.7" cy="230.0" r="3.7"/><circle cx="179.5" cy="79.0" r="3.7"/><circle cx="307.2" cy="167.5" r="3.7"/><circle cx="252.8" cy="68.2" r="3.7"/><circle cx="260.3" cy="225.2" r="3.7"/><circle cx="306.5" cy="120.4" r="3.7"/><circle cx="185.1" cy="223.0" r="3.7"/><circle cx="205.4" cy="64.8" r="3.7"/><circle cx="297.7" cy="195.6" r="3.7"/><circle cx="280.1" cy="80.3" r="3.7"/><circle cx="231.9" cy="234.8" r="3.7"/><circle cx="313.6" cy="149.7" r="3.7"/><circle cx="160.0" cy="206.1" r="3.7"/><circle cx="235.4" cy="60.3" r="3.7"/><circle cx="278.5" cy="219.3" r="3.7"/><circle cx="302.1" cy="101.6" r="3.7"/><circle cx="201.1" cy="233.9" r="3.7"/><circle cx="186.2" cy="67.6" r="3.7"/><circle cx="309.9" cy="180.5" r="3.7"/><circle cx="266.0" cy="66.7" r="3.7"/><circle cx="251.5" cy="235.2" r="3.7"/><circle cx="148.0" cy="100.8" r="3.7"/><circle cx="315.7" cy="130.1" r="3.7"/><circle cx="171.8" cy="222.0" r="3.7"/><circle cx="216.0" cy="56.5" r="3.7"/><circle cx="295.4" cy="208.9" r="3.7"/><circle cx="293.1" cy="83.8" r="3.7"/><circle cx="219.9" cy="241.0" r="3.7"/><circle cx="318.7" cy="162.3" r="3.7"/><circle cx="147.8" cy="200.2" r="3.7"/><circle cx="248.5" cy="56.4" r="3.7"/><circle cx="271.4" cy="231.0" r="3.7"/><circle cx="313.2" cy="109.8" r="3.7"/><circle cx="187.4" cy="235.3" r="3.7"/><circle cx="195.4" cy="57.3" r="3.7"/><circle cx="310.1" cy="194.3" r="3.7"/><circle cx="279.8" cy="67.8" r="3.7"/><circle cx="240.5" cy="243.7" r="3.7"/><circle cx="323.2" cy="141.9" r="3.7"/><circle cx="158.3" cy="218.4" r="3.7"/><circle cx="228.4" cy="50.1" r="3.7"/><circle cx="290.6" cy="222.0" r="3.7"/><circle cx="305.8" cy="89.8" r="3.7"/><circle cx="206.4" cy="245.1" r="3.7"/><circle cx="174.8" cy="62.9" r="3.7"/><circle cx="321.5" cy="176.2" r="3.7"/><circle cx="136.3" cy="191.8" r="3.7"/><circle cx="262.6" cy="54.8" r="3.7"/><circle cx="262.0" cy="241.7" r="3.7"/><circle cx="135.9" cy="103.1" r="3.7"/><circle cx="323.0" cy="120.2" r="3.7"/><circle cx="173.2" cy="234.3" r="3.7"/><circle cx="206.6" cy="48.4" r="3.7"/><circle cx="307.7" cy="208.5" r="3.7"/><circle cx="293.7" cy="71.5" r="3.7"/><circle cx="227.7" cy="250.4" r="3.7"/><circle cx="328.7" cy="155.3" r="3.7"/><circle cx="145.1" cy="212.2" r="3.7"/><circle cx="242.3" cy="45.8" r="3.7"/><circle cx="283.2" cy="234.6" r="3.7"/><circle cx="317.7" cy="98.4" r="3.7"/><circle cx="191.8" cy="246.8" r="3.7"/><circle cx="184.4" cy="51.8" r="3.7"/><circle cx="321.9" cy="190.9" r="3.7"/><circle cx="126.1" cy="181.2" r="3.7"/><circle cx="277.4" cy="55.8" r="3.7"/><circle cx="250.5" cy="250.9" r="3.7"/><circle cx="138.2" cy="88.5" r="3.7"/><circle cx="331.2" cy="132.6" r="3.7"/><circle cx="219.8" cy="41.4" r="3.7"/><circle cx="302.8" cy="222.6" r="3.7"/><circle cx="307.4" cy="77.7" r="3.7"/><circle cx="213.4" cy="255.0" r="3.7"/><circle cx="332.0" cy="170.0" r="3.7"/><circle cx="132.8" cy="203.5" r="3.7"/><circle cx="273.4" cy="246.2" r="3.7"/><circle cx="328.4" cy="109.2" r="3.7"/><circle cx="176.6" cy="246.0" r="3.7"/><circle cx="237.0" cy="258.4" r="3.7"/><circle cx="337.4" cy="146.7" r="3.7"/><circle cx="234.4" cy="36.4" r="3.7"/><circle cx="320.3" cy="86.4" r="3.7"/><circle cx="121.6" cy="192.6" r="3.7"/><circle cx="126.5" cy="91.9" r="3.7"/><circle cx="337.5" cy="122.1" r="3.7"/><circle cx="209.9" cy="34.2" r="3.7"/><circle cx="315.0" cy="221.2" r="3.7"/><circle cx="307.0" cy="65.4" r="3.7"/><circle cx="341.5" cy="162.1" r="3.7"/><circle cx="131.1" cy="215.7" r="3.7"/><circle cx="250.3" cy="33.7" r="3.7"/><circle cx="285.4" cy="248.8" r="3.7"/><circle cx="344.7" cy="136.7" r="3.7"/><circle cx="225.1" cy="28.3" r="3.7"/><circle cx="205.8" cy="266.9" r="3.7"/><circle cx="273.2" cy="260.2" r="3.7"/><circle cx="165.4" cy="254.3" r="3.7"/><circle cx="327.0" cy="217.9" r="3.7"/><circle cx="304.7" cy="53.2" r="3.7"/><circle cx="349.8" cy="152.8" r="3.7"/><circle cx="342.2" cy="195.7" r="3.7"/><circle cx="259.1" cy="269.8" r="3.7"/><circle cx="119.2" cy="80.4" r="3.7"/><circle cx="350.7" cy="125.7" r="3.7"/><circle cx="320.0" cy="61.5" r="3.7"/><circle cx="352.4" cy="170.1" r="3.7"/><circle cx="117.7" cy="217.2" r="3.7"/><circle cx="259.1" cy="23.6" r="3.7"/><circle cx="345.5" cy="98.4" r="3.7"/><circle cx="300.7" cy="41.2" r="3.7"/><circle cx="125.8" cy="63.9" r="3.7"/><circle cx="352.4" cy="188.0" r="3.7"/><circle cx="277.1" cy="25.2" r="3.7"/><circle cx="153.9" cy="260.7" r="3.7"/><circle cx="360.6" cy="160.2" r="3.7"/><circle cx="347.0" cy="85.5" r="3.7"/><circle cx="295.1" cy="29.5" r="3.7"/><circle cx="136.8" cy="253.2" r="3.7"/><circle cx="323.3" cy="246.3" r="3.7"/><circle cx="160.4" cy="272.1" r="3.7"/><circle cx="344.2" cy="224.5" r="3.7"/><circle cx="360.2" cy="198.1" r="3.7"/><circle cx="287.8" cy="18.4" r="3.7"/><circle cx="281.5" cy="287.3" r="3.7"/><circle cx="157.3" cy="288.5" r="3.7"/><circle cx="360.2" cy="228.9" r="3.7"/><circle cx="357.6" cy="59.8" r="3.7"/><circle cx="366.4" cy="47.3" r="3.7"/><circle cx="366.2" cy="265.1" r="3.7"/><circle cx="365.8" cy="277.4" r="3.7"/><circle cx="367.3" cy="19.9" r="3.7"/><circle cx="379.7" cy="268.3" r="3.7"/><circle cx="391.6" cy="26.2" r="3.7"/></g>
<text fill="#fff" font-family="Liberation Sans, Arial, sans-serif" font-weight="bold"><tspan x="24" y="197.4" font-size="258" textLength="146" lengthAdjust="spacingAndGlyphs">T</tspan><tspan x="106" y="187" font-size="160" font-style="italic" stroke="#005ea8" stroke-width="4" paint-order="stroke fill" textLength="164" lengthAdjust="spacingAndGlyphs">éo</tspan></text>
<text x="500.4" y="176.6" font-family="DejaVu Sans, Verdana, sans-serif" font-size="62" fill="#fff" stroke="#fff" stroke-width="0.9"  textLength="125.9" lengthAdjust="spacingAndGlyphs">Coût</text>
<text x="658.8" y="176.6" font-family="DejaVu Sans, Verdana, sans-serif" font-size="62" fill="#fff" stroke="#fff" stroke-width="0.9"  textLength="111.2" lengthAdjust="spacingAndGlyphs">aidé</text>
<text x="805.3" y="176.6" font-family="DejaVu Sans, Verdana, sans-serif" font-size="62" fill="#fff" stroke="#fff" stroke-width="0.9"  textLength="67.8" lengthAdjust="spacingAndGlyphs">HT</text>
<text x="913.8" y="176.6" font-family="DejaVu Sans, Verdana, sans-serif" font-size="62" fill="#fff" stroke="#fff" stroke-width="0.9"  textLength="77.6" lengthAdjust="spacingAndGlyphs">par</text>
<text x="1031.5" y="176.6" font-family="DejaVu Sans, Verdana, sans-serif" font-size="62" fill="#fff" stroke="#fff" stroke-width="0.9"  textLength="155.1" lengthAdjust="spacingAndGlyphs">tonne</text>
<text x="1223.0" y="176.6" font-family="Liberation Serif, Times New Roman, serif" fill="#fff" font-size="66" textLength="13.5" lengthAdjust="spacingAndGlyphs">(</text>
<text x="1239.3" y="176.6" font-family="DejaVu Sans, Verdana, sans-serif" font-size="62" fill="#fff" stroke="#fff" stroke-width="0.9"  textLength="86.7" lengthAdjust="spacingAndGlyphs">€/t</text>
<text x="1328.7" y="176.6" font-family="Liberation Serif, Times New Roman, serif" fill="#fff" font-size="66" textLength="13.6" lengthAdjust="spacingAndGlyphs">)</text>
<text x="1378.7" y="176.6" font-family="DejaVu Sans, Verdana, sans-serif" font-size="62" fill="#fff" stroke="#fff" stroke-width="0.9"  textLength="64.0" lengthAdjust="spacingAndGlyphs">en</text>
<text x="1477.9" y="176.6" font-family="Liberation Serif, Times New Roman, serif" fill="#fff" font-size="64" textLength="119.4" lengthAdjust="spacingAndGlyphs">2021</text>
<polygon points="3342,29 3263.4,201 3268.6,205 3335.5,145.2 3396,211.8 3401.2,208.4" fill="#005ea8"/>
<text x="2702.8" y="1442" font-family="DejaVu Sans, Verdana, sans-serif" fill="#000" stroke="#000" stroke-width="0.8" font-size="50" textLength="608" lengthAdjust="spacingAndGlyphs">Coût aidé par tonne (€HT/t)</text>
<rect x="2702.5" y="1471.1" width="84" height="47.5" fill="#f7fbff" stroke="#222" stroke-width="2.4" rx="1.5"/>
<text x="2809.6" y="1513.0" font-family="DejaVu Sans, Verdana, sans-serif" fill="#000" stroke="#000" stroke-width="0.8" font-size="45" textLength="182" lengthAdjust="spacingAndGlyphs">87 - 124</text>
<rect x="2702.5" y="1547.7" width="84" height="47.5" fill="#c7dcef" stroke="#222" stroke-width="2.4" rx="1.5"/>
<text x="2809.6" y="1589.6" font-family="DejaVu Sans, Verdana, sans-serif" fill="#000" stroke="#000" stroke-width="0.8" font-size="45" textLength="209" lengthAdjust="spacingAndGlyphs">124 - 146</text>
<rect x="2702.5" y="1624.3" width="84" height="47.5" fill="#73b2d8" stroke="#222" stroke-width="2.4" rx="1.5"/>
<text x="2809.6" y="1666.2" font-family="DejaVu Sans, Verdana, sans-serif" fill="#000" stroke="#000" stroke-width="0.8" font-size="45" textLength="209" lengthAdjust="spacingAndGlyphs">146 - 161</text>
<rect x="2702.5" y="1700.8" width="84" height="47.5" fill="#2979b9" stroke="#222" stroke-width="2.4" rx="1.5"/>
<text x="2809.6" y="1742.7" font-family="DejaVu Sans, Verdana, sans-serif" fill="#000" stroke="#000" stroke-width="0.8" font-size="45" textLength="209" lengthAdjust="spacingAndGlyphs">161 - 173</text>
<rect x="2702.5" y="1777.8" width="84" height="47.5" fill="#08306b" stroke="#222" stroke-width="2.4" rx="1.5"/>
<text x="2809.6" y="1819.7" font-family="DejaVu Sans, Verdana, sans-serif" fill="#000" stroke="#000" stroke-width="0.8" font-size="45" textLength="209" lengthAdjust="spacingAndGlyphs">173 - 296</text>
<rect x="2703" y="1940.5" width="82" height="45" fill="#edece6" stroke="#a9a9a3" stroke-width="3" rx="2"/>
<text x="2809" y="1978" font-family="DejaVu Sans, Verdana, sans-serif" fill="#000" stroke="#000" stroke-width="0.8" font-size="46" textLength="549.6" lengthAdjust="spacingAndGlyphs">EPCI n'ayant pas réalisée</text>
<text x="2809" y="2038.7" font-family="DejaVu Sans, Verdana, sans-serif" fill="#000" stroke="#000" stroke-width="0.8" font-size="46" textLength="417.8" lengthAdjust="spacingAndGlyphs">de matrice en 2021</text>
<rect x="2703" y="2070.5" width="82" height="45" fill="#edece6" stroke="#ababab" stroke-width="3.6" rx="2"/>
<circle cx="2726" cy="2093" r="1.5" fill="#444"/>
<circle cx="2750" cy="2093" r="1.5" fill="#444"/>
<circle cx="2773.4" cy="2093" r="1.5" fill="#444"/>
<text x="2809" y="2108" font-family="DejaVu Sans, Verdana, sans-serif" fill="#000" stroke="#000" stroke-width="0.8" font-size="46" textLength="596" lengthAdjust="spacingAndGlyphs">EPCI dont le siège est situé</text>
<text x="2809" y="2168.4" font-family="DejaVu Sans, Verdana, sans-serif" fill="#000" stroke="#000" stroke-width="0.8" font-size="46" textLength="477" lengthAdjust="spacingAndGlyphs">dans une autre région</text>
<rect x="2908.5" y="2373.5" width="448.5" height="35.5" fill="#fff"/>
<rect x="2908.5" y="2373.5" width="223.19999999999982" height="17.699999999999818" fill="#005ea8"/>
<rect x="3131.7" y="2391.2" width="225.30000000000018" height="17.800000000000182" fill="#005ea8"/>
<path d="M2908.5 2373.5H3357V2409H2908.5Z M2908.5 2391.2H3357 M3131.7 2373.5V2409" fill="none" stroke="#000" stroke-width="3"/>
<text x="2908.3" y="2338.3" font-family="Liberation Sans, Arial, sans-serif" fill="#000" font-size="36" text-anchor="middle">0</text>
<text x="3131.7" y="2338.3" font-family="Liberation Sans, Arial, sans-serif" fill="#000" font-size="36" text-anchor="middle">25</text>
<text x="3336" y="2338.3" font-family="Liberation Sans, Arial, sans-serif" fill="#000" font-size="36" textLength="99" lengthAdjust="spacingAndGlyphs">50 km</text>
<text x="35.7" y="2296.6" font-family="Liberation Sans, Arial, sans-serif" fill="#000" font-size="31.5" textLength="881" lengthAdjust="spacingAndGlyphs">Réalisation : Observatoire de la transition écologique (TEO)</text>
<text x="35.7" y="2335.4" font-family="Liberation Sans, Arial, sans-serif" fill="#000" font-size="31.5" textLength="406.8" lengthAdjust="spacingAndGlyphs">Source : SINOE® - ADEME</text>
<text x="35.7" y="2373.2" font-family="Liberation Sans, Arial, sans-serif" fill="#000" font-size="31.5" textLength="587.4" lengthAdjust="spacingAndGlyphs">Période de réalisation : Décembre 2022</text>
<rect x="0" y="2397" width="1118" height="44" fill="#005ea8"/>
<text x="10.5" y="2429" font-family="Liberation Sans, Arial, sans-serif" font-style="italic" fill="#d9ab3c" font-size="31.5" textLength="631" lengthAdjust="spacingAndGlyphs">En savoir plus : https://teo-paysdelaloire.fr/</text>
</svg>
</body></html>
